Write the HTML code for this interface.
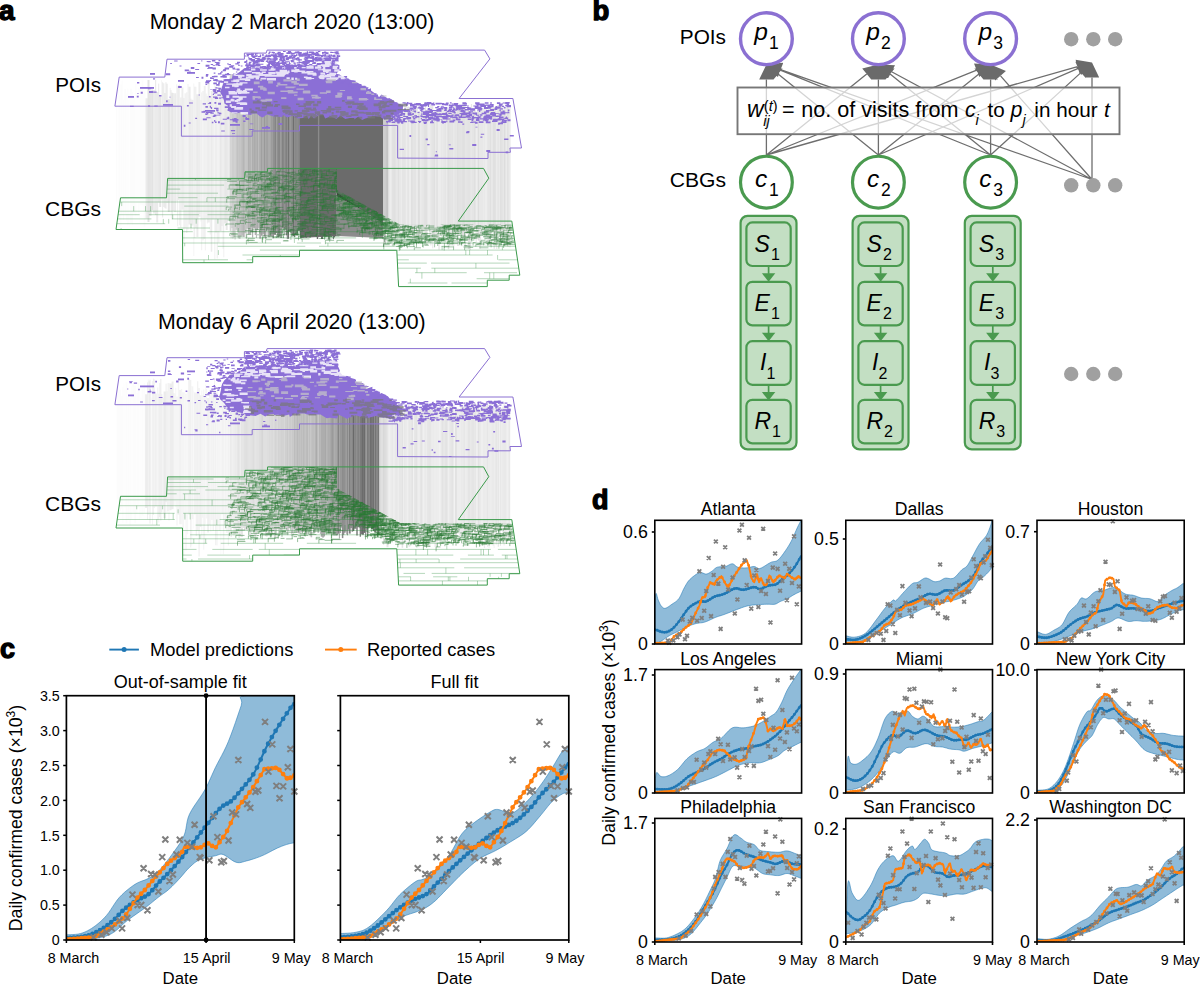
<!DOCTYPE html><html><head><meta charset="utf-8"><style>html,body{margin:0;padding:0;background:#fff;width:1200px;height:985px;overflow:hidden;position:relative}</style></head><body><svg width="1200" height="985" viewBox="0 0 1200 985" style="position:absolute;left:0;top:0" font-family='"Liberation Sans", sans-serif'>
<rect width="1200" height="985" fill="#fff"/>
<g transform="translate(0,0)">
<path d="M117.4,89V218.2M128.8,99.9V224.1M129.6,97.9V227.3M139.1,86.2V223.8" stroke="#000" stroke-opacity="0.01" stroke-width="0.8" fill="none"/>
<path d="M116.5,96V201.8M118.3,80.6V223.4M126.7,93.5V221.3M132.5,91.8V224.7M138.2,87.9V213.7" stroke="#000" stroke-opacity="0.01" stroke-width="1.0" fill="none"/>
<path d="M120.9,84.6V226.5M122.1,80.5V215.2M127.8,88.3V225.7M137.1,93.3V203" stroke="#000" stroke-opacity="0.01" stroke-width="1.2" fill="none"/>
<path d="M119.5,95.3V219.5M123.5,99.4V220.3M135.8,83.5V215.4" stroke="#000" stroke-opacity="0.01" stroke-width="1.5" fill="none"/>
<path d="M125.2,88.8V213.9M131,88.4V223.2M134,97.1V213.4M140.5,87.9V204.8M142.5,80.2V205.6M144.5,90.3V226.7" stroke="#000" stroke-opacity="0.01" stroke-width="2.0" fill="none"/>
<path d="M193.8,83.4V256" stroke="#000" stroke-opacity="0.05" stroke-width="0.8" fill="none"/>
<path d="M176.7,84.2V201.3M188,84V229.7M206.3,93.4V219.1M214.8,80.2V259.2" stroke="#000" stroke-opacity="0.05" stroke-width="1.2" fill="none"/>
<path d="M185.2,93.3V228.3M186.7,92.2V233.1M203,91V240.5M217.3,98.3V258.6M218.8,84.3V242.8" stroke="#000" stroke-opacity="0.05" stroke-width="1.5" fill="none"/>
<path d="M161.6,80.3V200.4M200.8,99.8V221.6" stroke="#000" stroke-opacity="0.06" stroke-width="0.8" fill="none"/>
<path d="M194.7,86.6V237.8M201.7,92.3V250.2M210.2,96.9V234.6" stroke="#000" stroke-opacity="0.06" stroke-width="1.0" fill="none"/>
<path d="M195.8,86.8V228.1M204.3,85.9V239" stroke="#000" stroke-opacity="0.06" stroke-width="1.2" fill="none"/>
<path d="M180.7,97.4V227.3" stroke="#000" stroke-opacity="0.06" stroke-width="1.5" fill="none"/>
<path d="M213.2,89.5V219.5" stroke="#000" stroke-opacity="0.06" stroke-width="2.0" fill="none"/>
<path d="M170.2,87.9V201M179.5,84.4V225.2M205.3,85.5V250.4M401.9,110.4V246.9" stroke="#000" stroke-opacity="0.07" stroke-width="0.8" fill="none"/>
<path d="M178.6,85V200.2M183.9,97.9V241.6M222.1,86.1V226.1" stroke="#000" stroke-opacity="0.07" stroke-width="1.0" fill="none"/>
<path d="M162.6,82.2V217.5M163.8,83.3V207.1M391.2,105.8V235.1" stroke="#000" stroke-opacity="0.07" stroke-width="1.2" fill="none"/>
<path d="M173.3,93V211.1M428.3,108.2V230M476.3,111.7V243.3" stroke="#000" stroke-opacity="0.07" stroke-width="1.5" fill="none"/>
<path d="M154,90.1V213.6M182.4,87.6V209.7M192.4,99.7V225.6M199.4,82.1V216.8M208.7,82.3V222.5M228.7,96.2V219.1M406.5,107V230.9M410,110.7V228.9M439.1,111.8V249.8M486.3,107.4V234.2" stroke="#000" stroke-opacity="0.07" stroke-width="2.0" fill="none"/>
<path d="M191,98.6V230.5M207.3,95.8V223.5M223,81.8V248.9M223.8,92.9V257.3M435.7,110.5V239.5M446.2,111.3V235.2M509.1,108.9V243.5" stroke="#000" stroke-opacity="0.08" stroke-width="0.8" fill="none"/>
<path d="M171.1,90.1V211.9M397.1,107.2V238.9M440.6,107.1V235.1M499.5,104.2V233.6" stroke="#000" stroke-opacity="0.08" stroke-width="1.0" fill="none"/>
<path d="M155.6,80V215.1M166,82.3V208.7M167.2,83.8V203M216,86.4V232.6M429.7,104.3V236.5M483.7,107.6V231.1" stroke="#000" stroke-opacity="0.08" stroke-width="1.2" fill="none"/>
<path d="M211.5,90.9V251.8M389.8,109.7V243.8M496.7,110.6V248.9M506.4,107.6V243" stroke="#000" stroke-opacity="0.08" stroke-width="1.5" fill="none"/>
<path d="M146.5,98.2V218.5M157.2,92V222.5M175.1,93.2V211.9M189.6,86.8V224.6M197.4,94.3V237M416.9,107.4V243.4M420.9,111V237.3" stroke="#000" stroke-opacity="0.08" stroke-width="2.0" fill="none"/>
<path d="M177.7,86.2V226.3M423.1,111.8V231.3" stroke="#000" stroke-opacity="0.09" stroke-width="0.8" fill="none"/>
<path d="M158.7,83.6V202.6M164.9,93V208.2M404,111V244.7M484.8,104.1V237.3" stroke="#000" stroke-opacity="0.09" stroke-width="1.0" fill="none"/>
<path d="M400.9,108.7V248M430.9,105V245.5M453.7,107.7V249.6M471.5,104.1V239.7" stroke="#000" stroke-opacity="0.09" stroke-width="1.2" fill="none"/>
<path d="M225,80.8V223.4M441.8,108.6V229M488.8,106.2V245.2M491.8,107.3V228.4" stroke="#000" stroke-opacity="0.09" stroke-width="1.5" fill="none"/>
<path d="M220.6,89.4V231M226.7,86.1V230M443.6,106.4V235.8M480.1,107.3V248.7M482.1,109V234.8" stroke="#000" stroke-opacity="0.09" stroke-width="2.0" fill="none"/>
<path d="M477.5,110.6V239.3M502.9,108.3V235.6" stroke="#000" stroke-opacity="0.1" stroke-width="0.8" fill="none"/>
<path d="M432.8,105.6V248.3M456.8,111.3V232.1M510,107.3V247.5" stroke="#000" stroke-opacity="0.1" stroke-width="1.0" fill="none"/>
<path d="M399.7,108.6V232.7M447.2,107.6V234.2" stroke="#000" stroke-opacity="0.1" stroke-width="1.2" fill="none"/>
<path d="M472.8,107.9V236.9" stroke="#000" stroke-opacity="0.1" stroke-width="1.5" fill="none"/>
<path d="M150.5,90.4V215.7M160.2,96.3V207.1M451.1,110.8V233.5M455.3,104.2V233.5M466.9,111.2V233.2" stroke="#000" stroke-opacity="0.1" stroke-width="2.0" fill="none"/>
<path d="M422.3,109.9V243.9M461.2,108.2V229.7M503.7,109.4V246.4" stroke="#000" stroke-opacity="0.11" stroke-width="0.8" fill="none"/>
<path d="M172.1,92.6V219.5M414.2,107.1V241.9M452.6,110V236" stroke="#000" stroke-opacity="0.11" stroke-width="1.0" fill="none"/>
<path d="M396,106.2V241.5M415.3,105.9V229.3M445.2,108.2V228.2M495.4,109.5V237.5" stroke="#000" stroke-opacity="0.11" stroke-width="1.2" fill="none"/>
<path d="M152.3,89.6V210.2M408.2,106.4V228.3M412.9,110V243.1M426.8,111.2V244.8M465.1,106.3V247.6M468.6,108.4V248.8M470.1,110.5V250M498.2,104.7V230.8" stroke="#000" stroke-opacity="0.11" stroke-width="1.5" fill="none"/>
<path d="M148.5,80.1V221.9M168.8,99.3V212.1M437.1,110.7V243.4M459.8,109.7V232.5" stroke="#000" stroke-opacity="0.11" stroke-width="2.0" fill="none"/>
<path d="M393,105.7V228.8M424.9,108.1V239M431.9,106.4V237.3M462,105.7V246.4M487.7,111.4V246.6M505.3,109.4V229.9" stroke="#000" stroke-opacity="0.12" stroke-width="0.8" fill="none"/>
<path d="M388.6,107.5V234.8M405,104.2V236.5M424,110.8V229.2M493.1,106.9V230.8M502,104.7V241.5" stroke="#000" stroke-opacity="0.12" stroke-width="1.0" fill="none"/>
<path d="M402.9,110.8V234.3M411.6,107.5V232.2" stroke="#000" stroke-opacity="0.12" stroke-width="1.2" fill="none"/>
<path d="M398.3,111.8V233.2M448.5,111.4V249.3M490.3,107.1V245.7M500.7,104.8V242.3M507.9,104.9V246.8" stroke="#000" stroke-opacity="0.12" stroke-width="1.5" fill="none"/>
<path d="M394.4,111.7V241.5M434.3,111.7V240.9M463.4,104.2V236.1M474.6,108.7V228.9" stroke="#000" stroke-opacity="0.12" stroke-width="2.0" fill="none"/>
<path d="M392.2,104.4V245.8M425.7,104.3V239.7M449.7,110.4V231M504.5,109.5V231.9" stroke="#000" stroke-opacity="0.13" stroke-width="0.8" fill="none"/>
<path d="M478.5,108.3V240.6M494.2,107.3V248.7" stroke="#000" stroke-opacity="0.13" stroke-width="1.2" fill="none"/>
<path d="M458,109V245.9" stroke="#000" stroke-opacity="0.13" stroke-width="1.5" fill="none"/>
<path d="M418.9,111.2V240" stroke="#000" stroke-opacity="0.13" stroke-width="2.0" fill="none"/>
<path d="M230.2,74V230.9M383.6,109.9V247.2" stroke="#000" stroke-opacity="0.17" stroke-width="1.0" fill="none"/>
<path d="M231.9,74V228.1" stroke="#000" stroke-opacity="0.18" stroke-width="0.8" fill="none"/>
<path d="M231.1,74V238.4" stroke="#000" stroke-opacity="0.19" stroke-width="0.8" fill="none"/>
<path d="M234,74V237.3" stroke="#000" stroke-opacity="0.19" stroke-width="1.0" fill="none"/>
<path d="M235.1,74V239.4" stroke="#000" stroke-opacity="0.19" stroke-width="1.2" fill="none"/>
<path d="M385.1,111.3V244" stroke="#000" stroke-opacity="0.2" stroke-width="2.0" fill="none"/>
<path d="M236.2,74V229.8" stroke="#000" stroke-opacity="0.21" stroke-width="1.0" fill="none"/>
<path d="M232.9,74V238.4" stroke="#000" stroke-opacity="0.21" stroke-width="1.2" fill="none"/>
<path d="M239.5,74V238.7M387.1,107.7V231.6" stroke="#000" stroke-opacity="0.23" stroke-width="2.0" fill="none"/>
<path d="M245.2,74V233.2M246.2,74V238.3" stroke="#000" stroke-opacity="0.24" stroke-width="1.0" fill="none"/>
<path d="M238.1,74V238" stroke="#000" stroke-opacity="0.25" stroke-width="0.8" fill="none"/>
<path d="M237.2,74V231.8M241,74V236.7" stroke="#000" stroke-opacity="0.25" stroke-width="1.0" fill="none"/>
<path d="M247.2,74V228.8" stroke="#000" stroke-opacity="0.26" stroke-width="1.0" fill="none"/>
<path d="M242.1,74V235.5" stroke="#000" stroke-opacity="0.28" stroke-width="1.2" fill="none"/>
<path d="M251.6,74V232.1" stroke="#000" stroke-opacity="0.29" stroke-width="0.8" fill="none"/>
<path d="M243.7,74V237M250.2,74V234.5" stroke="#000" stroke-opacity="0.29" stroke-width="2.0" fill="none"/>
<path d="M258.8,74V228.1" stroke="#000" stroke-opacity="0.3" stroke-width="0.8" fill="none"/>
<path d="M256.4,74V237.9" stroke="#000" stroke-opacity="0.3" stroke-width="1.0" fill="none"/>
<path d="M252.6,74V237.5" stroke="#000" stroke-opacity="0.3" stroke-width="1.2" fill="none"/>
<path d="M248.5,74V234.6" stroke="#000" stroke-opacity="0.31" stroke-width="1.5" fill="none"/>
<path d="M263.2,74V233.9" stroke="#000" stroke-opacity="0.32" stroke-width="1.0" fill="none"/>
<path d="M255.3,74V235.1" stroke="#000" stroke-opacity="0.32" stroke-width="1.2" fill="none"/>
<path d="M260.2,74V238.7" stroke="#000" stroke-opacity="0.32" stroke-width="2.0" fill="none"/>
<path d="M257.6,74V230.1" stroke="#000" stroke-opacity="0.33" stroke-width="1.5" fill="none"/>
<path d="M269,74V237.2" stroke="#000" stroke-opacity="0.34" stroke-width="1.2" fill="none"/>
<path d="M254,74V228.2" stroke="#000" stroke-opacity="0.35" stroke-width="1.5" fill="none"/>
<path d="M265.8,74V238.9" stroke="#000" stroke-opacity="0.37" stroke-width="1.2" fill="none"/>
<path d="M270.1,74V236.3" stroke="#000" stroke-opacity="0.38" stroke-width="1.0" fill="none"/>
<path d="M276.6,74V233.1" stroke="#000" stroke-opacity="0.39" stroke-width="1.0" fill="none"/>
<path d="M261.9,74V235.7" stroke="#000" stroke-opacity="0.39" stroke-width="1.5" fill="none"/>
<path d="M271.6,74V236.4" stroke="#000" stroke-opacity="0.39" stroke-width="2.0" fill="none"/>
<path d="M268,74V235.7" stroke="#000" stroke-opacity="0.4" stroke-width="0.8" fill="none"/>
<path d="M264.4,74V236.6" stroke="#000" stroke-opacity="0.4" stroke-width="1.5" fill="none"/>
<path d="M267,74V230.6" stroke="#000" stroke-opacity="0.42" stroke-width="1.2" fill="none"/>
<path d="M273.3,74V238.3" stroke="#000" stroke-opacity="0.43" stroke-width="1.5" fill="none"/>
<path d="M281.2,74V238.1" stroke="#000" stroke-opacity="0.44" stroke-width="1.2" fill="none"/>
<path d="M289.8,74V231.9" stroke="#000" stroke-opacity="0.44" stroke-width="1.5" fill="none"/>
<path d="M292.1,74V235.2" stroke="#000" stroke-opacity="0.45" stroke-width="1.0" fill="none"/>
<path d="M297.1,74V235.5" stroke="#000" stroke-opacity="0.45" stroke-width="2.0" fill="none"/>
<path d="M287.2,74V239.1" stroke="#000" stroke-opacity="0.47" stroke-width="0.8" fill="none"/>
<path d="M279.8,74V236.6" stroke="#000" stroke-opacity="0.47" stroke-width="1.5" fill="none"/>
<path d="M278.1,74V237.4" stroke="#000" stroke-opacity="0.47" stroke-width="2.0" fill="none"/>
<path d="M294.7,74V237" stroke="#000" stroke-opacity="0.48" stroke-width="1.2" fill="none"/>
<path d="M275.1,74V234.9" stroke="#000" stroke-opacity="0.48" stroke-width="2.0" fill="none"/>
<path d="M282.8,74V228.5M299.1,74V231.1" stroke="#000" stroke-opacity="0.49" stroke-width="2.0" fill="none"/>
<path d="M285.2,74V229" stroke="#000" stroke-opacity="0.5" stroke-width="1.2" fill="none"/>
<path d="M284.2,74V235.5" stroke="#000" stroke-opacity="0.51" stroke-width="0.8" fill="none"/>
<path d="M291.1,74V233.9" stroke="#000" stroke-opacity="0.52" stroke-width="1.0" fill="none"/>
<path d="M286.3,74V235.4" stroke="#000" stroke-opacity="0.54" stroke-width="1.0" fill="none"/>
<path d="M288.3,74V238.8" stroke="#000" stroke-opacity="0.55" stroke-width="1.5" fill="none"/>
<path d="M351.4,90.2V203.9M361.8,95.4V209.6" stroke="#000" stroke-opacity="0.56" stroke-width="1.2" fill="none"/>
<path d="M352.7,90.9V204.7" stroke="#000" stroke-opacity="0.56" stroke-width="1.5" fill="none"/>
<path d="M336.1,74V174M345.8,87.4V200.8" stroke="#000" stroke-opacity="0.56" stroke-width="2.0" fill="none"/>
<path d="M307.5,74V237M366.3,97.6V212.1" stroke="#000" stroke-opacity="0.57" stroke-width="0.8" fill="none"/>
<path d="M300.6,74V234.5M310.4,74V232.5" stroke="#000" stroke-opacity="0.57" stroke-width="1.0" fill="none"/>
<path d="M301.7,74V237.1" stroke="#000" stroke-opacity="0.57" stroke-width="1.2" fill="none"/>
<path d="M293.3,74V235.9M306.3,74V237.7M314.8,74V234.5M317.5,74V239M319,74V228M344,86.5V199.9" stroke="#000" stroke-opacity="0.57" stroke-width="1.5" fill="none"/>
<path d="M308.9,74V236.1M313.1,74V229.5M322,74V239.1M327.2,74V234.3M340.8,84.9V198.1M347.8,88.4V201.9M367.7,98.3V212.9" stroke="#000" stroke-opacity="0.57" stroke-width="2.0" fill="none"/>
<path d="M331.3,74V236.9" stroke="#000" stroke-opacity="0.58" stroke-width="0.8" fill="none"/>
<path d="M304.3,74V233.9M333.4,74V239.2M359.7,94.3V208.5M372.7,100.8V215.6" stroke="#000" stroke-opacity="0.58" stroke-width="1.0" fill="none"/>
<path d="M311.5,74V236.1M320.4,74V236.7M332.3,74V232.9M358.6,93.8V207.9" stroke="#000" stroke-opacity="0.58" stroke-width="1.2" fill="none"/>
<path d="M328.9,74V239.6M357.2,93.1V207.1M365.1,97.1V211.5M371.4,100.2V214.9" stroke="#000" stroke-opacity="0.58" stroke-width="1.5" fill="none"/>
<path d="M349.8,89.4V203M379.6,104.3V219.4" stroke="#000" stroke-opacity="0.58" stroke-width="2.0" fill="none"/>
<path d="M295.7,74V234.3M305.2,74V234.8M378.2,103.6V218.7" stroke="#000" stroke-opacity="0.59" stroke-width="0.8" fill="none"/>
<path d="M356,92.5V206.4M360.7,94.8V209M377.3,103.1V218.2M382.6,105.8V221.1" stroke="#000" stroke-opacity="0.59" stroke-width="1.0" fill="none"/>
<path d="M316.2,74V236.2M325.6,74V233.4M330.3,74V235M334.5,74V237.2M337.7,83.3V196.4M373.8,101.4V216.2M375,102V216.9" stroke="#000" stroke-opacity="0.59" stroke-width="1.2" fill="none"/>
<path d="M303,74V237.7M339,84V197.1M342.5,85.8V199.1" stroke="#000" stroke-opacity="0.59" stroke-width="1.5" fill="none"/>
<path d="M324,74V232.9M354.5,91.7V205.6M363.4,96.2V210.5M369.7,99.3V214" stroke="#000" stroke-opacity="0.59" stroke-width="2.0" fill="none"/>
<path d="M376.2,102.6V217.6" stroke="#000" stroke-opacity="0.6" stroke-width="1.2" fill="none"/>
<path d="M381.3,105.2V220.4" stroke="#000" stroke-opacity="0.6" stroke-width="1.5" fill="none"/>
<polygon points="300,100 383,100 383,224 336,192 336,236 300,238" fill="#6b6b6b"/>
<polygon points="336,192 383,224 383,238 336,236" fill="#000" fill-opacity="0.45"/>
<line x1="318.6" y1="62" x2="318.6" y2="235" stroke="#fff" stroke-opacity="0.22" stroke-width="1.4"/>
<polygon points="114.9,106.2 119.2,77.1 164.8,77.1 167,59.2 244.4,59.2 244.4,53.1 266.2,53.1 267.1,50.1 484.6,50.1 489.9,58.9 459.1,98.5 512.9,98.5 521.5,148 509.9,148 510.4,152.3 488,152.3 488,158.5 397.6,158.1 397.6,125.4 299.5,125.4 299.5,131 252.2,131 252.2,136.2 181.4,136.2 181.4,106.2" fill="none" stroke="#8b70d2" stroke-width="1"/>
<clipPath id="land1"><polygon points="116,229.5 120.5,197.8 166.5,197.8 167.6,178.4 244.6,178.4 245,171.8 267.5,171.8 267.6,168.4 337,168.4 337,190 400,224.6 511.8,224.6 519.8,275.2 509.2,275.2 509.2,280.2 487.3,280.2 487.3,286.6 398.6,286.6 396.8,250.3 299.5,250.3 299.5,256.6 252.7,256.6 252.7,262.7 182.7,262.7 182.5,229.5"/></clipPath>
<g clip-path="url(#land1)"><path d="M165.9,171H197M325.7,171H373.7M373.7,171H405.9M405.9,171H451.7M114,175.1H147.1M147.1,175.1H217.6M223.9,175.1H276.6M296.4,175.1H385.6M385.6,175.1H436.6M436.6,175.1H504M504,175.1H522M114,180.1H135.3M135.3,180.1H224.2M224.2,180.1H278.1M284.2,180.1H318M318,180.1H336.1M336.1,180.1H358.8M362.9,180.1H380.2M403.8,180.1H466.6M466.6,180.1H502.2M114,185.1H135.8M135.8,185.1H186.5M186.5,185.1H224.1M230,185.1H290M312.8,185.1H348.3M348.3,185.1H434.2M452.8,185.1H522M114,189.1H180.2M227.3,189.1H306M345.6,189.1H369.5M387.1,189.1H462.1M486,189.1H522M114,193.2H199M199,193.2H218M236.5,193.2H251.5M257.6,193.2H310.7M335.4,193.2H418.5M418.5,193.2H495M495,193.2H522M178.3,197.7H197.5M207,197.7H283.2M283.2,197.7H345.8M363.6,197.7H445.4M445.4,197.7H497M497,197.7H522M114,202H147.4M147.4,202H190.1M190.1,202H275.4M281,202H332.6M335.9,202H382M382,202H467.6M184.2,206.1H228.5M317.2,206.1H357.9M458.9,206.1H512.4M512.4,206.1H522M114,211.2H190.1M190.1,211.2H263.4M263.4,211.2H313.4M439.2,211.2H495.7M495.7,211.2H522M114,214.7H139.7M148.8,214.7H198.9M207.5,214.7H237.2M237.2,214.7H267.1M267.1,214.7H325.4M332.7,214.7H394.6M394.6,214.7H414M432,214.7H491.3M491.3,214.7H511.9M114,218.9H151.4M172,218.9H233.7M246.4,218.9H307.8M307.8,218.9H334.8M334.8,218.9H411.5M427.4,218.9H498.2M521.3,218.9H522M114,223.7H165.2M326.7,223.7H373.3M394.6,223.7H419.3M177.6,228H210M286,228H304.3M419,228H440.9M440.9,228H498.8M509.6,228H522M114,231.7H133.9M133.9,231.7H176M176,231.7H192.8M207.4,231.7H230M230,231.7H301.3M305.9,231.7H388.1M518.6,231.7H522M114,237.9H190.5M190.5,237.9H246.8M246.8,237.9H267.4M267.4,237.9H302.4M321.4,237.9H356.1M369.7,237.9H440M114,243H152.7M152.7,243H170.7M170.7,243H251.2M251.2,243H281M296.9,243H321.1M325.3,243H412.5M412.5,243H481.7M506,243H522M114,246.3H162.2M217.7,246.3H246.7M246.7,246.3H305.3M319,246.3H403.8M465.3,246.3H522M114,250.1H170.3M259.8,250.1H337.2M337.2,250.1H394.5M394.5,250.1H428.9M428.9,250.1H447.3M447.3,250.1H479.7M479.7,250.1H522M114,255H133.1M242.5,255H282.1M282.1,255H302.1M314.1,255H354.6M354.6,255H421.4M421.4,255H492.6M114,259.8H147.1M147.1,259.8H190.5M190.5,259.8H228M246.6,259.8H313.2M319.4,259.8H408.8M498.4,259.8H522M177.3,263.1H225M241.1,263.1H294.7M298.8,263.1H380.1M380.1,263.1H426.8M431,263.1H448.6M448.6,263.1H509.5M518.4,263.1H522M114,268.2H153.9M160.9,268.2H223.9M230.8,268.2H313.7M313.7,268.2H394.6M394.6,268.2H420.9M431.4,268.2H490.6M490.6,268.2H522M114,272.7H182.6M182.6,272.7H251.7M251.7,272.7H291.2M415,272.7H466.7M484,272.7H517M114,278.7H158.7M164.5,278.7H192.1M192.1,278.7H260.5M277.3,278.7H302.4M302.4,278.7H335.1M356.9,278.7H395.1M476.6,278.7H522M167.1,283H240.7M240.7,283H281.4M281.4,283H298.8M298.8,283H386.2M407.8,283H447.4M451.5,283H522M321.8,171V175.1M499.9,171V175.1M224.2,171V175.1M309.9,171V175.1M238.8,171V175.1M314.5,171V175.1M317.5,171V175.1M195.4,175.1V180.1M345.6,175.1V180.1M474.8,175.1V180.1M286.3,175.1V180.1M115.7,175.1V180.1M122.2,175.1V180.1M238.6,175.1V180.1M490.7,180.1V185.1M436.7,180.1V185.1M409.5,180.1V185.1M165.4,180.1V185.1M492.3,180.1V185.1M336.3,185.1V189.1M458.3,185.1V189.1M409.1,185.1V189.1M393.3,185.1V189.1M126.4,185.1V189.1M301.5,189.1V193.2M431.9,189.1V193.2M358.2,189.1V193.2M487.9,193.2V197.7M242,193.2V197.7M472.9,193.2V197.7M371.7,197.7V202M502.9,197.7V202M276.1,197.7V202M206.9,197.7V202M215.3,197.7V202M511.7,197.7V202M500.3,202V206.1M121.7,202V206.1M275.8,202V206.1M363.6,206.1V211.2M521.3,206.1V211.2M145.5,206.1V211.2M276.5,206.1V211.2M303.7,206.1V211.2M345.3,206.1V211.2M133.7,206.1V211.2M150.6,206.1V211.2M345.3,211.2V214.7M458.7,211.2V214.7M432.5,211.2V214.7M367.8,211.2V214.7M412.3,211.2V214.7M235.5,214.7V218.9M172.7,214.7V218.9M314.8,214.7V218.9M233,214.7V218.9M490.7,218.9V223.7M168.7,218.9V223.7M406.2,218.9V223.7M217.9,218.9V223.7M115.5,218.9V223.7M163.3,218.9V223.7M196.2,218.9V223.7M425.4,218.9V223.7M459.3,223.7V228M454.2,223.7V228M191,223.7V228M121.1,228V231.7M238.3,228V231.7M419.6,228V231.7M438.4,228V231.7M357.2,228V231.7M340.7,228V231.7M449.2,231.7V237.9M520.2,231.7V237.9M461.6,231.7V237.9M362.4,231.7V237.9M129.3,231.7V237.9M139.9,231.7V237.9M464.6,237.9V243M168.4,237.9V243M294.4,237.9V243M262.5,237.9V243M419,237.9V243M327.9,243V246.3M184.7,243V246.3M499.9,243V246.3M400.3,246.3V250.1M442.1,246.3V250.1M502.4,246.3V250.1M453.5,246.3V250.1M465.8,250.1V255M136.1,250.1V255M159.4,250.1V255M469.6,250.1V255M487.5,250.1V255M218.4,250.1V255M497.6,255V259.8M280.3,255V259.8M208.5,255V259.8M374.6,259.8V263.1M160.9,259.8V263.1M204,259.8V263.1M200,263.1V268.2M475.9,263.1V268.2M211.3,263.1V268.2M340.6,263.1V268.2M149.7,268.2V272.7M434.8,268.2V272.7M416.9,268.2V272.7M489.7,272.7V278.7M493.8,272.7V278.7M421.9,272.7V278.7M265.2,272.7V278.7M300.2,272.7V278.7M410.3,278.7V283M192.2,278.7V283M259.2,278.7V283M204.9,283V289.1M320.5,283V289.1M222.7,283V289.1M180.2,283V289.1" stroke="#2f8f40" stroke-opacity="0.5" stroke-width="0.7" fill="none"/></g>
<g clip-path="url(#land1)"><path d="M246.6,216.2h9.1M472.8,234.3h6.1M472.8,234.3v4.5M290.7,180h2.2M290.7,180v2.1M293.1,226.5h5.5M423.4,238.2h3.7M383.5,243.7h6M383.5,243.7v3.2M371.7,223.8h7.4M371.7,223.8v2.6M289.8,190h9M271.6,192.4h5.4M304.9,232.5h6M304.9,232.5v2.4M274.5,180h4.9M363.1,226.6h7.1M363.1,226.6v1.7M335.8,228.9h5.6M326.3,187.9h6.4M329.5,196.3h6.6M329.5,196.3v3.5M284.8,201.6h4.5M284.8,201.6v2.1M262.8,235.7h6.2M262.8,235.7v4M359.3,210.9h6.2M418.3,225.3h4.7M418.3,225.3v4M284.2,175.2h6.3M284.2,175.2v2.9M361.3,211.8h6.7M308.4,197.3h8.7M308.4,197.3v4.6M316.6,196.2h5.1M304.8,202.4h2.8M304.8,202.4v4.5M316.7,197.4h3.5M507.3,242.5h7.6M507.3,242.5v3.1M336.2,228.2h7.7M253.8,183.1h2.8M253.8,183.1v2.6M423.3,237.2h6.3M317.1,220.1h5.4M317.1,220.1v2.8M397.3,242h3.7M226.1,197.5h2.9M322.7,199.5h9M272.3,213.2h3.2M272.3,213.2v3.3M422.8,235h4.1M245.6,176.9h8.9M320.2,205.4h6.6M348.7,222.4h5.1M348.7,222.4v4.9M266.6,188.2h5.1M274.5,236.9h2.4M304.9,179.2h8.2M304.9,179.2v3M323.1,230.8h3M329.5,173h8.9M329.9,180.6h7.1M329.9,180.6v4.1M251.4,213.7h3M258.5,185.7h7.6M258.5,185.7v2.7M309.9,217.6h9.8M309.9,217.6v4.9M359.8,215.9h5M229.2,184.9h8.3M229.2,184.9v3.8M402.9,226.4h9.1M402.9,226.4v3.2M273.7,219.8h2.9M287.4,210.3h8.7M287.4,210.3v3.7M502,238.9h2.5M502,238.9v3.9M267.5,183h8.5M267.5,183v1.7M334.5,208.1h9.4M263.1,221.5h8.3M263.1,221.5v3.4M310,220.5h4.7M310,220.5v3.2M258.3,209.7h9.5M346.2,210.7h4.6M299.5,224.5h6.5M252.9,199.1h2.8M252.9,199.1v1.8M362.5,228.4h6.5M362.5,228.4v4.3M332.9,173.2h4M332.9,173.2v3.1M309.3,171.3h2.5M251.1,207.5h4.6M291.8,188.9h3.7M312.8,213h6.7M297.5,223.2h9.8M249.2,201.5h8.5M453.2,238.4h7.6M453.2,238.4v3.1M482.3,232.8h9.9M321.6,173.8h3M321.6,173.8v4.4M356.6,218.5h5.5M356.6,218.5v1.6M313.3,211.6h4.5M301.2,172h7M315.6,223.6h7.4M315.6,223.6v1.6M396.1,242.3h5.5M385.6,237.8h6.3M289.3,173.3h4.6M339.3,213.7h9.9M339.3,213.7v2.9M250.4,231.8h3.1M375.9,211.4h3.2M375.9,211.4v1.6M369.2,233.9h2.3M312.3,199.9h6.1M301.6,213h9.1M301.6,213v2.2M272.3,223.3h4.3M272.3,223.3v1.8M496.6,227.5h9.5M496.6,227.5v3.1M289.3,178.7h5.9M341,200.4h3.8M323.9,170.2h6M325.8,175.7h2.3M375.4,219.7h6.6M375.4,219.7v2.6M299.6,215.5h6.1M299.6,215.5v2.5M248.2,206.3h8.5M415.7,239.1h5.9M415.7,239.1v3.8M362,228.3h5.6M362,228.3v4.5M290,229.7h2.5M290,229.7v2.2M268.9,183.1h2.3M268.9,183.1v3.1M339.4,203.8h6.5M339.4,203.8v3.2M380.9,233.3h7M380.9,233.3v2.9M356.1,201.4h3.9M458,228.2h8.8M458,228.2v4M336.9,190.2h6.7M336.9,190.2v2.1M257.4,172.8h5.7M302.9,212.5h7.1M302.9,212.5v3M322.3,194.8h7.2M322.3,194.8v2.3M484.7,230.6h8.9M484.7,230.6v2.7M333,221h4.5M275.8,232.2h7M362,227.2h6.2M271.4,185.1h8M347.2,197.5h6.3M347.2,197.5v2.4M286.3,201.3h4.2M322,208.5h6.7M322,208.5v2M425.4,240.2h9M333.6,172.7h7.3M392.5,225.4h7.5M392.5,225.4v2.9M260.4,215.5h2.1M410.2,234.2h4.3M395.9,230.3h9.1M355.1,216.5h6.4M299.8,209.1h7M299.8,209.1v4.4M464.2,245.6h3.2M464.2,245.6v2.3M289.5,177.1h7.8M257.7,189.2h4.8M257.7,189.2v4.3M336.8,234.7h3.8M326.1,218.8h8.3M274.2,212.5h7M499.4,235.9h2M335,236.2h4.4M261.1,210.1h2.2M269.6,177.6h8.6M269.6,177.6v3.7M296.8,212.3h4.5M290.8,229.8h4.1M290.8,229.8v3.2M363.8,211.4h2.8M363.8,211.4v2.9M257.9,204.9h9.6M257.9,204.9v2.3M330,227.1h4M233.9,189.6h6.3M233.9,189.6v4.7M282.7,222h5.4M282.7,222v5M337.6,216.1h5.3M340.5,219.6h6.9M400.8,242h7.7M400.8,242v3.4M240.4,220.3h5.5M240.4,220.3v2.9M272.4,228h7.2M361.6,204.7h3.7M361.6,204.7v3.3M310.8,181.4h9.2M413.7,242.6h9.2M413.7,242.6v1.8M249,196.1h2.2M417.4,237.7h5.4M290.8,203.2h6.8M464.6,247.8h5.4M464.6,247.8v2.4M297.5,205.7h2.8M261.2,224.5h6.5M261.2,224.5v4M322.5,189.6h3.6M322.5,189.6v4M489.5,225.3h8.1M437.2,233.5h3.8M336.5,224.4h9.1M408.9,232.9h7.3M408.9,232.9v2.5M287.9,190h4.1M287.9,190v1.6M269.2,209.8h9.6M269.2,209.8v4.2M327.2,184.6h8.4M327.2,184.6v3.7M336.9,174.1h5.9M336.9,174.1v2.6M302.2,238.9h7.4M302.2,238.9v3M441.5,246.4h7.9M308,176.1h3.3M308,176.1v2.8M348.2,200.1h5M348.2,200.1v2.2M511.6,240.2h3.1M281.9,189h4.2M267.5,173.7h5.3M271.1,203h6.3M271.1,203v3.6M245.9,180.7h6.9M267.3,189.8h8.2M305,223.2h8.3M261.2,217.5h5.5M261.2,217.5v2.3M330.4,220h7.8M326,206.4h6.3M261.4,186.5h7.3M239.6,200.1h6.1M336.7,188h6.5M336.7,188v4.5M251.7,178.4h5.1M251.7,178.4v2.2M292.9,212.5h7.1M292.9,212.5v3.2M465.8,232.9h8.1M248.1,228.6h2.3M416.6,230.7h8M330,191.9h5M243.9,221.8h3M324.7,235.9h2.3M324.7,235.9v3.9M444.2,246.9h9.1M444.2,246.9v3.6M400.4,229.5h3M482.9,226.8h9.5M482.9,226.8v2.9M441.9,233.8h3.5M441.9,233.8v2.6M263,200.9h6.9M263,200.9v3.6M319.3,215.1h8.2M319.3,215.1v3.5M247.7,206.3h2.5M319.2,238.5h5.4M343.1,212.2h7.5M343.1,212.2v1.5M304.8,210.8h8.7M304.8,210.8v5M256.9,221.6h3.4M308.7,199.5h5.5M364.7,217.6h4.9M342.9,202.9h2M269.6,214.1h3.1M269.6,214.1v2.8M255.3,174.2h2.1M255.3,174.2v1.7M286,196.6h4.3M286,196.6v3.9M431.7,236.4h6.9M295.8,209.5h5.8M470.4,231.4h8M470.4,231.4v3.1M286.7,173.2h3.4M375.9,235.2h7.7M375.9,235.2v4.2M314,207.9h5.6M429.3,239.9h7.3M304.5,205.3h4.6M269.5,189.4h4M264,175.1h7.8M316.3,171h8.4M316.3,171v2.5M307.3,211h2.7M261.9,179.1h8.7M261.9,179.1v2.5M381,219.5h6.3M381,219.5v4.2M360.1,204.3h5.3M309.7,175.8h5.4M325.7,233.2h3.6M325.7,233.2v1.9M398.9,235.2h9.5M270.5,181.5h3.7M357.4,210h6.2M511.6,235.9h3.1M511.6,235.9v2.1M447.4,226.3h2.7M447.4,226.3v3.4M362,224.3h2.3M307,233.1h8.2M268.9,218.5h9M402.3,243.8h2.6M416.2,236.6h3M416.2,236.6v2.2M248,177.7h4.7M282.9,240.9h5.6M314.1,180.9h4.3M292,233.9h8.8M292,233.9v2.2M247.2,192h8.7M247.2,192v3.9M294.9,219.8h2M387.9,222.7h8.5M387.9,222.7v2.3M264,193.3h9.5M259.6,211.9h3.7M259.6,211.9v4.1M233.7,236.2h9M282.3,230h3.8M282.3,230v4.6M282,198.6h4M282,198.6v2.8M320,202.2h5.7M507.9,225.2h8.1M507.9,225.2v4.2M304.6,183.2h2.9M304.6,183.2v4.1M269.3,215.5h5.9M289.9,197.5h3.4M289.9,197.5v4.1M340.1,197.6h2.3M307.6,199.3h9.8M307.6,199.3v4.8M311.6,191h8.1M311.6,191v1.7M316.2,227.2h6.7M236.8,189.5h6.9M236.8,189.5v3.5M299,227h9M299,227v3M266.5,210.9h2.3M440.2,239.8h5.1M255.8,212.7h5.3M318.4,210.5h2.4M318.4,210.5v1.8M311.6,202.7h3.1M329.9,220.8h5.7M395.8,226.5h3.2M408.2,226.4h4M408.2,226.4v4.8M341.7,208h9.8M245.1,214.5h4.9M288.4,168.8h4.9M267.6,229.8h8.3M266.2,220.8h8.9M494.9,238.7h5.2M299.3,192.3h3.7M398,229.6h9.7M398,229.6v2.9M357.2,213.9h5.9M357.2,213.9v4.6M488.7,242.8h5.7M488.7,242.8v2.6M283.5,240.7h4.8M329.8,203.5h3.8M318.3,224.2h7.5M265.9,185.1h6M265.9,185.1v2.6M305.4,213.9h7.7M262.8,203h9.3M319.8,224.9h5M246.4,240.2h7.2M246.4,240.2v4.2M255.4,191.3h4.1M271.4,204.9h5.5M260.1,225.1h3.1M369.9,222.5h3M388.2,239.8h8.1M433.5,239.7h3.7M505.5,243.2h4.1M232.7,212.2h8.9M297.3,178.2h9.8M491.7,227.8h9.3M368.4,213.1h8.6M325.4,228.1h3M325.4,228.1v4.6M305.1,207.8h4.9M305.1,207.8v2.5M352.3,214.5h4.3M352.3,214.5v2.6M267.7,184.5h4.1M267.7,184.5v3.7M460.1,230.6h5.2M460.1,230.6v4.3M291.2,234.4h9.9M291.2,234.4v1.9M306,200.5h4.7M469.8,247.5h3.4M261.6,213.6h6.9M261.6,213.6v1.9M315.9,177.4h8.6M315.9,177.4v3M270.7,170.9h2.2M270.7,170.9v4M321.9,175.5h7.7M321.9,175.5v2.8M324.5,217.3h3.9M324.5,217.3v4.1M486.2,243.7h9.6M334.4,215.9h4M318.3,221.5h2.4M301.3,235.9h3.6M301.3,235.9v3.7M356.6,206.2h3.7M304.8,219.7h9.8M304.8,219.7v2.6M442.9,239.7h6.1M265,197h5.2M265,197v3.8M444.4,225.6h5.9M444.4,225.6v4M441.4,238.6h2.2M441.4,238.6v3.3M266.5,219.3h2.9M266.5,219.3v4.7M288.9,196.3h7.4M323.6,197.9h9.4M323.6,197.9v5M264.4,186.6h7M295.7,215.7h3.5M295.7,215.7v4.7M284.8,172.4h8.9M328.7,223.4h3.8M334.3,186.9h3M330.8,206.9h5.3M246,207.2h7.6M490.7,240h5.5M266.5,228.3h7.5M266.5,228.3v2.8M352.7,198.9h7.6M352.7,198.9v3.4M324.8,236.4h6.6M324.8,236.4v2.4M248.6,176.7h4.5M347.6,217.2h4M347.6,217.2v2.9M506.9,236.3h3.6M506.9,236.3v4.9M248.5,188.5h3.5M248.5,188.5v2M261,209.5h2.1M261,209.5v3.7M291.9,213.3h8.8M320.7,200.2h2.6M313.4,185.4h5.9M313.4,185.4v4.7M294.9,203.2h5.6M366.8,220.3h2.9M366.8,220.3v4.2M367.6,223.6h3.2M367.6,223.6v2.5M499.2,241.4h8.1M448.2,240h3.6M448.2,240v1.8M271.3,193.2h9.1M331.7,185.3h6M331.7,185.3v2.8M277.3,190.3h8.2M277.3,190.3v2.2M308.6,214h3.5M301.7,205.2h2.3M411.9,239.8h8.3M411.9,239.8v4.1M460.6,237.6h7.7M460.6,237.6v4.5M479.9,241.9h7.4M246.1,203h5M246.1,203v4.3M494.3,232h4.5M494.3,232v4.5M290.1,189.4h3.8M414.1,230.6h4.4M311.5,229.7h5.6M319.6,216.6h8.2M319.6,216.6v3.7M315.6,180h9.5M315.6,180v3.7M383.4,224.9h3.7M383.4,224.9v4.7M373.5,217.4h8.9M295.3,232.8h3.3M295.3,232.8v2.7M282.9,229.1h4.7M282.9,229.1v4.1M245.5,222.4h6.1M245.5,222.4v2M370.9,226.9h5M414.2,232.6h2.7M414.2,232.6v2.7M313.7,171.4h4.9M313.7,171.4v3.7M344,224.2h4.1M344,224.2v4.7M336.2,192h3.5M409.5,242h4.5M328.8,188.3h9.4M504.3,243.2h3.9M504.3,243.2v2.3M312.4,170.1h9.4M312.4,170.1v3.2M451,237.9h4.4M451,237.9v3.3M326.4,171.5h7.2M326.4,171.5v4.2M318.6,218.5h3.3M318.6,218.5v2.9M265.2,173.3h6.3M483.1,234.8h9.9M358,215.9h6.1M276.7,186.7h7.1M433.3,230.4h8.8M234.7,208.2h3.3M234.7,208.2v3.6M273.7,225.2h6.9M273.7,225.2v4.8M328.8,204.7h3.3M383.6,236.9h5M266.6,184h5.3M226.7,198.7h8.3M226.7,198.7v4M313.6,196h3.1M313.6,196v4.9M308.8,231.4h2.6M302.1,207.5h7.2M248.4,196.8h3.8M248.4,196.8v1.9M262,215.4h3.7M393.7,221.9h7.9M335,198.2h6.8M335,198.2v3.2M262.4,223.9h6.3M262.4,223.9v4.1M328.6,208.1h6.2M247.2,206.2h7.4M247.2,206.2v3.1M324.6,182.7h2M324.6,182.7v3.5M289.3,181h6.2M317.5,205.1h4.3M317.5,205.1v3.3M267.9,216.9h2.6M307.1,215.7h3M412.7,232.8h4.6M412.7,232.8v1.9M308.1,186.6h6.7M308.1,186.6v1.9M299.2,176.8h5.9M299.2,176.8v4.2M235.3,184.7h4.1M303.7,193.2h7M259.5,210.5h7.6M374.8,233.7h6.2M361.7,216.4h8.6M361.7,216.4v4.3M268.8,215.5h9.1M268.8,215.5v4.4M380.1,214.7h9.3M234.2,213.7h5.8M234.2,213.7v3.8M262.5,209.9h8.7M495.6,228.2h5.5M395.9,230.5h8.6M236.4,193.3h4.6M236.4,193.3v1.8M271.9,221.2h6.8M282.2,183.2h2.7M282.2,183.2v4.4M313.2,209.4h6.8M313.2,209.4v3.5M333.9,229.8h8.2M333.9,229.8v3.4M289.2,214.8h8.6M336.5,214.9h7.3M336.5,214.9v4.4M256.4,177.5h3.4M256.4,177.5v3.2M295.3,234.8h4.1M416.5,241.6h4.5M416.5,241.6v2.8M476.6,236.3h2.8M294.7,173.5h6.3M414.3,247.8h6.6M414.3,247.8v2.3M244.1,179.6h2.8M426.9,235.7h3M426.9,235.7v3.7M280.7,168.7h3.5M280.7,168.7v2.4M492.1,228.8h7.7M261.9,224.5h9.3M261.9,224.5v2.8M324.4,232.2h6.8M324.4,232.2v3.6M276.3,178.6h4.3M239.6,201.5h8.4M239.6,201.5v3.4M408.2,232h3.4M408.2,232v4M300.4,173.7h7.3M300.4,173.7v2.2M320.5,221.5h5.8M320.5,221.5v1.6M292.3,184.5h5.8M458.3,228h8.5M437.5,240.4h6.4M328.2,210.5h5.8M328.2,210.5v3.3M301.3,223h7.4M228.6,209h2.7M228.6,209v1.8M319.1,184h5.9M319.1,184v4M319.8,210.5h7.2M319.8,210.5v2.6M388.1,227.2h8M334.9,200.4h4.7M334.9,200.4v2.4M359.7,232.5h6.5M359.7,232.5v2.6M296.9,221.6h9.7M483.5,237h8.8M312.5,170.6h5.1M312.5,170.6v2.7M299.4,172h5.8M299.4,172v3.4M372.6,238.2h5.3M409.9,228.6h6.5M409.9,228.6v4.8M265.6,186.9h5.2M265.6,186.9v3.8M247,197.4h4.8M247,197.4v3M227.2,181.4h9.6M278.4,220.1h8.4M258,222.2h5.9M335.2,215h5.7M335.2,215v3.5M314.1,172h8.8M260.1,222.3h5.4M346.4,215h7.6M346.4,215v4M309.3,206.8h6.7M275.4,192.3h3.2M277.9,175.6h5.3M443.2,235.9h8.7M443.2,235.9v3M438.6,238.1h7.8M438.6,238.1v2.5M257.2,220.5h6.7M379.2,228.9h7M406.6,232h2.7M406.6,232v3.8M305.5,233.9h8M305.5,233.9v2.8M271.5,219.6h3.8M406.6,229.8h3.5M263.2,220.6h4.8M483.4,235h4M316.7,194h4M316.7,194v3.8M492.9,226.7h6.8M252,229.3h2.3M323.1,228.7h7.1M287.1,173.1h2.3M288.2,229.8h4.9M288.2,229.8v4.9M294.1,193.6h5.1M272.9,213.1h6.9M475,236h4.5M475,236v3.1M342.7,216.5h6.9M342.7,216.5v1.8M293.6,205.6h4.3M293.6,205.6v4.2M254.4,178.8h8.9M254.4,178.8v2.3M355.5,210.7h6.6M355.5,210.7v2.6M294.6,233.9h3.7M294.6,233.9v3.5M326.5,239.2h5M251.4,225.8h3.1M301.3,173.1h2.3M301.3,173.1v4M376.2,231.8h2.3M376.2,231.8v2M394.8,236h9.7M303.4,214.2h8M331.1,218h3.4M331.1,218v3.2M273.1,198.5h8.8M273.1,198.5v4.2M246.7,234.4h4.6M246.7,234.4v4.3M482.5,227.7h8.2M394.2,243.2h9.7M394.2,243.2v1.8M319.3,183.1h3.3M319.3,183.1v4.9M281.8,221.9h9.7M250.7,206h8.3M293,178.4h3.7M293,178.4v3.7M334.4,198.6h6.1M334.4,198.6v3.9M295.6,195.3h6.9M295.6,195.3v4.7M495.2,228.4h2.3M297.5,224.3h4.5M348.5,211.5h2.6M348.5,211.5v2.3M336.9,210.8h9.3M323.2,204.8h9.9M323.2,204.8v4.8M466.5,229.3h7.7M466.5,229.3v1.6M264.3,211.1h6.5M445.2,226.4h6.7M445.2,226.4v4.2M394.6,240.5h8.3M309,210.1h8.7M309,210.1v4.6M263.8,206.8h9.4M263.8,206.8v2.1M284.7,226.8h3M284.7,226.8v1.6M254.8,200.7h8.6M300.3,204.6h5.7M300.3,204.6v1.5M283.8,181.5h6.9M292.5,218.2h2.9M292.5,218.2v2.1M295.9,182.5h5.4M295.9,182.5v3.4M446,233h2.1M321.2,210.1h6.8M391,239.8h5.9M391,239.8v3.8M335.9,195.6h3.2M344.8,214.6h7.9M344.8,214.6v2.6M259.9,207.9h8.9M259.9,207.9v5M334.6,178.2h6.3M323.3,178.4h8.2M367.2,208.8h3.3M327,225.6h8.9M285.1,231.5h3.4M266.1,220.1h8.2M380.8,220.2h8.5M380.8,220.2v4.5M266.6,186.1h6.4M373.8,225.5h7.8M373.8,225.5v1.7M310.6,214.9h8.6M331.6,186h7.7M331.6,186v2.1M355.4,216.1h4.8M266.1,178.4h9M310.1,191.6h5.8M479.4,247.8h9M335.5,220.7h2M302.6,170.9h2.8M302.6,170.9v1.7M257,209h2.9M257,209v2.1M321.8,207.1h7.7M298.8,225.8h9.2M298.8,225.8v3.8M255.1,200.7h8.3M297.8,223.6h7.5M297.8,223.6v1.8M332.9,233.9h2.6M336.4,210.6h8.8M439.8,240.1h5.3M316.3,233.2h7.3M316.3,233.2v4M376.8,214.9h5.2M427.5,235.8h9.1M302.2,228.5h4M302.2,228.5v2.4M297.4,185h3.1M503.6,244.3h7.8M503.6,244.3v3.7M317.1,227.7h8.6M317.1,227.7v4.5M429.8,229.2h7.2M429.8,229.2v2.2M294.9,191.7h6.1M492.8,244.2h9M466.6,237.4h7.8M300.3,191.2h3M300.3,191.2v4.6M333.3,204.6h6.2M333.3,204.6v3.9M470.2,229h4.8M470.2,229v2.3M254.8,229.5h4.4M476.6,225.5h4.7M476.6,225.5v3.9M313.9,183.6h9.7M283.5,234.2h3.8M283.5,234.2v4M284.5,196.5h5.2M226.2,207.1h5.9M226.2,207.1v2.9M361.5,227.5h6M361.5,227.5v3.8M311.8,222.4h4.1M485.8,231.3h7.6M424.6,245.2h4.4M298.5,235.7h5.2M298.5,235.7v4.6M292.6,218.2h8.1M292.6,218.2v3.9M276.3,171.6h4M276.3,171.6v2.9M276.5,171.8h8.8M384.1,230.9h9M498.7,233h4.7M374,237.5h10M374,237.5v3.5M282.5,194.9h4.3M312.1,215.5h4.2M312.1,215.5v2.3M316.1,234.2h9.9M316.1,234.2v1.8M297.4,229.6h5.8M297.4,229.6v3.4M254.5,176.1h9M254.5,176.1v4.1M269.8,172.7h2.2M269.8,172.7v3M365.1,228.6h7M365.1,228.6v2.8M285.1,186.1h9.4M328.1,234.5h3.4M344.6,206.8h5.9M329.4,218.3h3.5M313.6,185.4h5.6M313.6,185.4v4.9M271.9,226.5h6.3M271.9,226.5v3.7M248.1,238.4h6.8M248.1,238.4v4.8M338,210.5h3.3M317.4,202.4h5.1M317.4,202.4v3M507.6,230.5h8.1M274.9,199h9.7M274.9,199v4.4M401,234.6h9.8M401,234.6v3.4M260.2,223.1h2.1M260.2,223.1v4.8M313.6,191.2h5.6M448.7,226.3h3.8M448.7,226.3v3.2M320.2,184h7.6M320.2,184v2.5M252.1,199.1h8.8M288.9,215.5h6.2M348.1,226.1h5.2M343.3,215.2h4.6M246.6,188.1h8M246.6,188.1v2.9M260.8,172.4h9.2M260.8,172.4v2.1M292.2,217.1h4M297.6,214.1h4.8M297.6,214.1v4.3M278.5,187.5h8.1M278.5,187.5v2.2M418.8,241.4h7.3M261,171.9h4M261,171.9v2.4M250,192h7M298.6,184h8.9M356.4,220.1h5M356.4,220.1v2.8M366.4,218.4h4M366.4,218.4v3.8M332.3,227.3h7.1M250.8,193.5h8.6M250.8,193.5v2.2M298.5,170h3.7M298.5,170v3.8M320.1,188.1h2.3M320.1,188.1v3.7M506.8,227.3h4.1M506.8,227.3v2.3M304.3,168.9h8.9M312.3,226.9h4.8M341.8,199.7h7.8M287.1,208.2h2.4M287.1,208.2v2.9M309.3,216.9h9M309.3,216.9v3.7M387,236.6h5M239.4,206.9h7.2M239.4,206.9v3.2M490.7,229.7h7.5M331.7,205.8h6M346.9,198.3h9.7M382.9,222.6h8.6M247.8,215.3h9.4M247.8,215.3v2.3M503.4,230.3h3.6M503.4,230.3v4.9M490.8,228.6h2.8M450.2,228.4h7.8M322.5,206h3.8M322.5,206v3.6M329.7,237.1h4.8M329.7,237.1v4.7M284.1,186.1h8.5M284.1,186.1v4.4M389.6,239.2h3.5M297.3,194.1h8.2M504.4,238.1h4.3M504.4,238.1v4.4M368.9,216.6h7.1M368.9,216.6v2.9M485.8,241.1h4.1M358.8,206.2h8M273.8,182.6h5.7M273.8,182.6v3.3M252.8,211.6h7.6M252.8,211.6v2.4M292.3,188.6h2.3M292.3,188.6v4M368.1,208.9h2.8M368.1,208.9v2.7M348,200.1h8M330.8,215.2h5.8M330.7,195.7h8.7M330.7,195.7v3.1M297,228.6h8.9M297,228.6v4M265.3,196.5h2.1M265.3,196.5v1.8M299.7,180.7h7.9M352.2,210.8h2.1M279.2,217.3h7.5M380.1,218.1h3.4M380.1,218.1v3.5M279,229.3h7.1M279,229.3v4M274.3,216h9.5M298.2,215.2h4.8M298.2,215.2v4.5M500.6,238.7h6M500.6,238.7v2.2M444.3,226.1h6.4M444.3,226.1v3M460.1,236.4h9.3M316.5,200h6.9M272.5,237.1h8.1M246.5,213.1h7.3M267,196.8h6.4M283.7,213.4h5.3M274.7,177.9h2.8M276.2,175h7.6M456,239.5h7.2M446.3,234h8.7M446.3,234v2.7M320.2,193.4h7.3M320.2,193.4v2.2M334.8,178.5h3.4M334.8,178.5v3.7M334.2,187.2h7.5M334.2,187.2v1.6M330.3,200.5h8M330.3,200.5v3.1M288.2,183.2h3.8M390.8,226.3h6M390.8,226.3v4M291.7,172.2h4.4M309.5,173.7h9.1M309.5,173.7v2M393.3,224.9h3M335.9,210.3h7.3M261.7,184.2h5.9M261.7,184.2v4.9M353,210.4h6.3M257,234.8h2.2M235.5,205.4h5.5M235.5,205.4v3M302.1,169.9h8.9M389.5,222.1h3.5M389.5,222.1v3.7M229.8,233.5h7.9M229.8,233.5v2.5M328.1,186.7h8.9M475.6,244h6.8M328.3,230.9h4.2M328.3,230.9v3.1M450.2,235.9h7.5M450.2,235.9v1.6M318.8,199.7h4.6M259.8,229.5h5M259.8,229.5v4.1M330.2,231.7h5.8M318.8,222.9h8M290.9,174.5h6.6M290.9,174.5v3.4M225.9,224h8.5M225.9,224v1.7M286.8,207.5h8.8M271.9,221.4h8.2M271.9,221.4v2.8M239.5,181.1h9.3M239.5,181.1v4.5M329,177.3h3M311.1,213.9h3.4M311.1,213.9v3M260.3,174.7h4.7M399.2,233.8h6.4M399.2,233.8v3.3M421.1,234.8h6.4M421.1,234.8v2.5M283,224h9.3M323.4,236.5h9.1M443,238.3h5M443,238.3v2.2M486,234.8h7.6M267.3,236.5h6.2M289.2,207.1h4M289.2,207.1v4.9M314,223h5M314,223v2.5M266.7,178.8h2.9M403.3,232.1h3.8M324.2,231.7h9.9M324.2,231.7v3.5M306.2,203.5h7.4M306.2,203.5v2M279.3,179.8h3.4M279.3,179.8v3.7M404.5,234.2h8.8M404.5,234.2v3.6M433.3,238.9h2.7M433.3,238.9v1.5M316.4,218.8h4.3M316.4,218.8v3.7M317.4,215.6h4.3M317.4,215.6v3.4M327.3,229.2h5.1M502.9,239.8h9.7M502.9,239.8v2.3M276.1,199.2h2.5M277.3,236.3h2.4M319.3,179.9h2.1M319.3,179.9v3.2M306.1,215.9h8.3M329.7,209h9.3M247.1,194.2h4.5M293.5,175.7h5.5M351.9,201.3h2M440.6,233.5h4.4M496.6,240.8h7.3M285.8,193.2h2M332.5,197h7.4M290.8,212.1h5M290.8,212.1v2.6M320,213.8h4.2M320,213.8v2.8M387.1,232.8h6.9M418.6,242h7.5M418.6,242v1.7M334.2,186.2h4.2M299.8,231.5h4.7M299.8,231.5v1.7M290.8,215.1h2.7M290.8,215.1v3M314.2,168.9h3.2M314.2,168.9v3.1M382.6,222.4h8.7M382.6,222.4v1.9M420.8,230.1h7.9M509.5,238.2h3.8M500.4,234.3h8.2M500.4,234.3v3.8M357.9,220.1h2.4M311.2,192.3h4.2M455.7,231.7h3.6M455.7,231.7v3.5M266.9,215.4h4.6M422.5,242.9h3.9M422.5,242.9v4.1M314.1,223.8h6.6M314.1,223.8v4M257.2,187.1h8.8M275.7,213.3h7M467.9,230.9h3.6M467.9,230.9v2M269.2,184.4h4.7M236.5,224.4h3.2M395,242.5h8.2M303.5,170h3.3M303.5,170v3.1M431.6,231.4h3.8M332,187.8h2.8M332,187.8v4.7M374.6,222.7h2.4M374.6,222.7v3M325.1,204.1h4.4M325.1,204.1v4.9M354.7,222h9.2M354.7,222v3.4M260,208.1h3.8M442.6,233.8h6.5M323.5,185.7h9M279.4,219.6h3.8M279.4,219.6v3M351,225.3h6.8M300.5,225.7h5.9M261.5,194.9h9.5M261.5,194.9v1.7M322.8,193.3h5M260.4,190.9h5.4M455.7,233.2h3.1M416.5,242.8h6.6M416.5,242.8v4.6M342.3,193.3h3.5M296.7,180h9.3M296.7,180v2.8M338.3,199.1h8.1M338.3,199.1v2.8M246.9,240.4h8M269.8,211.4h5.2M276.6,234.4h7.8M276.6,234.4v3.6M290.9,209.6h5.5M290.9,209.6v4.1M278.5,187.2h5.2M484.5,227.3h6.5M484.5,227.3v2M317.3,173.9h9.6M317.3,173.9v4.1M290.9,236.2h3M290.9,236.2v3.6M263.2,190.7h8.2M452.7,229.9h6.1M452.7,229.9v4.8M284.7,176.7h8.2M293,219.3h5.7M293,219.3v3.6M235.3,223.5h9M235.3,223.5v3.3M343.8,196.9h8.3M343.8,196.9v2.7M325.4,240.4h8.7M325.4,240.4v3.8M421.4,239.3h8.7M421.4,239.3v2.8M234.4,204.8h5.9M234.4,204.8v5M331.2,215.2h5.4M235.5,185.4h8.7M314.2,202.2h9.5M245.1,219.6h2.1M420.5,239.1h2.9M269.9,213.4h7M269.9,213.4v1.7M353.1,226.4h6.5M308.1,226.2h3.9M308.1,226.2v4M231.1,234.6h6.7M371.8,211.3h5M371.8,211.3v4.6M278,235.6h5.1M290,225.3h2.3M285,193.6h5.9M285,193.6v1.6M306.7,180.1h5.2M306.7,180.1v2.6M376.4,222.1h8.2M376.4,222.1v4.3M341.8,207.9h6.3M341.8,207.9v2.3M383.3,223.2h2.4M383.3,223.2v3M322.9,194.2h5.1M280.4,196h6.4M283.6,189.1h9.7M283.6,189.1v3M400.4,234.2h3.6M369.4,223h3.8M246,207h9.2M246,207v3.5M258.4,179.2h3.3M258.4,179.2v2.7M249.4,180.9h9.1M508.5,228.1h3.3M256.5,207.5h4.8M256.5,207.5v2.6M325.3,198.4h2.3M325.3,198.4v2M272,220.7h3.9M291.7,218.6h4.6M388.2,235.6h5.8M325.8,221.7h7M325.8,221.7v1.7M282.1,215h3.8M282.1,215v4.5M310.9,185.9h9.7M310.9,185.9v2M315.8,193.7h7.3M274.5,211.1h6.1M274.5,211.1v3.1M300.1,193.1h9.9M300.1,193.1v3.8M265.3,180h10M265.3,180v2M410.6,228.1h2.7M410.6,228.1v2M303.4,179.6h5.9M303.4,179.6v4.6M226.8,196.6h9.8M353.7,223.5h8M353.7,223.5v2.2M246.3,202.1h8.5M282.9,176.1h4.5M282.9,176.1v2.2M252.6,185.8h5.1M296.4,203.8h4.2M296.4,203.8v4.7M496.3,228.2h5.9M316.7,218.8h8.9M377.5,215.2h8.8M263.2,195h2.2M263.2,195v2.4M280,213.6h4.7M248.4,178.2h8.9M248.4,178.2v2.8M414.5,226.2h9.1M414.5,226.2v4.8M312.7,214.9h8.1M312.7,214.9v2.1M449.8,235.5h2.1M449.8,235.5v3.7M446.3,227.6h2.6M446.3,227.6v4.3M317.5,186.6h2.8M325.3,221.5h3.4M341.7,195.3h3.1M489.9,235.1h6.3M256.1,189h7.1M256.1,189v4.7M287.9,230.3h7.4M287.9,230.3v2.9M508.4,229.8h7.8M508.4,229.8v2.9M293.5,186.4h5.2M293.5,186.4v3.4M284.5,195h2.8M284.5,195v4.1M270.4,233.2h5M270.4,233.2v2.2M306.2,210h8.7M239.3,189.8h3.2M273.6,177.2h7.1M273.6,177.2v1.7M380.2,228.3h8.9M380.2,228.3v1.6M300.6,192.3h5.5M300.6,192.3v4.5M305.7,232.7h3.7M305.7,232.7v4M325.3,217h6.2M494.2,228.9h9.8M372.5,218.6h2M372.5,218.6v2.5M227,179.5h4.2M239.9,185.4h8.8M239.9,185.4v4.4M279.3,187.7h2.7M279.3,187.7v4.1M332.2,188.4h4.6M252.1,231.4h8.5M245.1,172.7h9.8M245.1,172.7v2.1M274.7,202.4h6.6M274.7,202.4v2.1M509.9,229h3.2M275.2,208.7h3.1M347,217.9h8.4M347,217.9v3.2M248.8,215.8h6.2M327.4,207.9h2.7M327.4,207.9v4.3M468.2,227.2h2.3M468.2,227.2v4.2M301.5,186.5h6.5M301.5,186.5v3.4M382,231.7h8.7M382,231.7v2.9M488.8,237.6h6.9M359.7,220.2h9M359.7,220.2v4.2M448.2,235.4h6.3M260.5,176.7h8.1M308.3,236.9h2.7M281.3,186.1h9.5M281.3,186.1v3.3M284.7,197.1h7.4M284.7,197.1v1.7M374.3,234.7h2.9M374.3,234.7v5M238,214h7.4M238,214v4.1M343.4,213.8h2.7M343.4,213.8v1.9M282.5,225.1h6.5M306.5,174.7h4.1M306.5,174.7v3.1M344.1,195.5h9.7M311.5,196.3h9.3M383,233.3h8.7M383,233.3v2.6M449.6,240.2h8.2M449.6,240.2v3.4M332.7,182.3h5.6M332.7,182.3v3.5M333.5,184.1h7.4M317.8,229.5h8.1M317.8,229.5v1.9M297.2,174.7h5.2M297.8,204.7h4.8M407.1,246.6h8M301.5,201h9.2M301.5,201v2.4M316.3,193h6.1M354.1,210.2h5.8M239.8,201.9h5.8M239.8,201.9v3.6M357.1,230.8h6.2M357.1,230.8v2.3M420.8,225.2h2.6M420.8,225.2v4M341.6,212.1h3.6M341.6,212.1v4.4M373.8,238.5h9.4M233,190.8h4.8M233,190.8v4.1M247.9,174.1h3.9M235.8,191h7M235.8,191v3.9M362.7,218.9h8.2M362.7,218.9v3.4M302.4,174.6h6.1M302.4,174.6v1.9M338,197.4h7.3M338,197.4v4M450.5,234.8h3.3M443.7,226.4h2.4M443.7,226.4v2.2M321.4,191h8.3M294.9,230.3h4.7M295.1,238.5h5.8M246.3,202.1h3.5M409.4,236.9h5.5M319.8,230.1h2M306.3,204.4h9.4M306.3,204.4v2.9M347.9,220.3h3.6M347.9,220.3v3.7M345.6,206.4h3.9M316.9,187.1h8.7M323.8,184.2h5.9M323.8,184.2v3.9M334.3,199.5h6.4M334.3,199.5v4.3M321.9,206.1h2.8M321.9,206.1v3.1M246.4,182.4h5M501.1,225.5h4.3M315.8,174.7h3.4M280,237.2h4.2M227.6,220h8M432.9,231.6h4.4M432.9,231.6v1.7M366,227.6h6.7M323,201.7h3.9M365,221.6h3.5M365,221.6v3.8M348.9,226.3h6.9M348.9,226.3v2.2M499.5,234.7h7.6M471.4,235h3.7M471.4,235v4.9M270.6,180.2h4.8M270.6,180.2v3.8M329.5,229.3h5.9M312,227.4h7.7M250,231.7h6.8M335.5,199.5h5.6M287.8,223.4h5.4M255.3,174.2h5.7M255.3,174.2v1.7M311.7,178.1h5.1M311.7,178.1v2.3M327.9,188.6h5.5M327.9,188.6v1.6M304.3,219.6h2.8M251,224.4h4.8M251,224.4v2.4M374.5,210.8h6.4M374.5,210.8v3M241.9,201.8h7M310.1,235.4h7.4M310.1,235.4v2.6M434.9,240.1h9.5M434.9,240.1v2.8M275.2,219.9h6.5M442.3,230.4h2.4M442.3,230.4v2.1M362.3,225.8h6.9M416.5,232.1h6.7M291.6,207.3h3M281.9,188.4h5.4M275,179.3h2.3M259.8,189.1h9.7M256.9,217.7h6.6M287.3,198.2h3.6M287.3,198.2v3.6M298,207.3h9.2M339.1,213.7h2.7M339.1,213.7v2.8M366.6,223.7h6.7M449.6,233.6h9.3M449.6,233.6v2.8M309.6,218h4.2M257.1,184.5h3.8M436.1,231.4h9.6M269.2,186.7h7M269.2,186.7v1.8M270,176.5h7.6M338.6,213.2h6.1M241.9,190.3h5.6M296.9,199.7h4.3M296.9,199.7v4M298.5,208.2h5M298.5,208.2v3.1M376.4,216.5h8.5M273.6,227.1h3.5M273.6,227.1v4.4M258.4,177.4h2.5M258.4,177.4v2M275.7,226.3h7.9M275.7,226.3v2.8M265.6,239.7h6.4M265.6,239.7v3.7M260.2,227.6h9.5M260.2,227.6v2.2M496.6,243.3h4.3M277,218.6h8.7M371.3,216h7.9M371.3,216v4.5M332.8,233h5M329.3,191.5h8.5M329.3,191.5v2.2M276.5,207.4h6.8M373.6,216.3h4.5M373.6,216.3v2.7M459.1,239.5h9.3M471.9,230.5h7.6M471.9,230.5v2.2M321.8,207h4.8M270,231.4h4.5M270,231.4v4.9M448.1,241.7h4.8M448.1,241.7v1.6M333.4,189.2h5.7M413.9,242.3h6M413.9,242.3v4.7M320.1,235h5.7M379.2,219.8h7.7M379.2,219.8v2.9M499,241.9h9M358.8,212.4h6.5M232.8,191.6h2.4M232.8,191.6v2.5M288.1,187.3h9.5M288.1,187.3v1.7M332.4,192.2h2.6M276.2,195.4h8.1M276.2,195.4v4.4M245.5,215.5h3.4M245.5,215.5v2.9M237,217.9h7.6M481.3,229.6h8.3M481.3,229.6v1.9M245,230.5h8.4M262.2,237.4h4.7M262.2,237.4v4.8M320.4,177.1h5M253.5,204.6h6.8M332.8,184.4h2.8M332.8,184.4v3.4M361.5,232.9h9.4M335.4,176.2h2.9M335.4,176.2v3.3M491.8,239.4h9.8M491.8,239.4v2.3M410.3,227.2h4.2M410.3,227.2v2.3M440.9,243.2h3.8M243.1,194.2h4.1M243.1,194.2v4.1M247.4,201h4.7M247.4,201v4.3M290.3,216.5h9.7M317,189.6h3.6M317,189.6v2.9M270.8,178.7h2.2M270.8,178.7v1.8M250.9,207.5h4.3M311.1,226.2h2.8M369,238.1h3.6M263.9,214.1h4.2M510.3,233.2h6.5M510.3,233.2v1.6M323,195h9.4M323,195v4M313.8,218.1h3.9M313.8,218.1v2.6M505.3,242.2h4.3M330,175.4h3.6M329.1,168.7h9.3M329.1,168.7v5M251.4,218.4h3.2M275.7,207.6h4.7M275.7,207.6v4.2M290.9,198.4h5.1M280.4,211.1h7.3M280.4,211.1v3.4M249.1,242.4h8.6M361.5,213.7h7M316.3,230.9h4.5M251,211.7h4.5M273.7,220h8.2M336.9,240.4h7.1M336.9,240.4v2.6M298.3,236.7h9.4M323,235.3h7.5M323,235.3v1.7M290.4,208.8h5.1M290.4,208.8v1.6M302.7,222h7.8M302.7,222v3.7M267.8,198.5h6.5M413.2,242.1h5.1M262.7,219.4h4.4M440.2,239.3h8.6M333.1,222.2h6.9M333.1,222.2v3.9M321.6,179.2h6.3M277.1,211.1h3.3M264,187.1h5.5M264,187.1v2.3M344.7,202.3h2.9M383.8,244.7h5.9M383.8,244.7v4.7M286.2,182.8h7.9M286.2,182.8v2.1M459.7,239.7h5.4M459.7,239.7v4.3M470.9,228.2h9.9M327.5,180.3h3.9M327.5,180.3v3.1M262.6,182.8h3.8M269.6,232h7.1M444.4,243.2h9.5M444.4,243.2v4.7M319.9,203.3h7.5M319.9,203.3v2.8M347.2,212.3h7.2M347.2,212.3v2.9M260.8,176.7h8.3M260.8,176.7v3M476.1,235.5h7M476.1,235.5v2.6M416.4,227.4h3.3M416.4,227.4v2.9M229.8,216.5h8.4M229.8,216.5v4.7M261.4,208.3h4.2M348.1,196.7h8.3M307.1,195.2h9.1M289.7,234.6h8.8M323.2,200.3h3.4M250,198.6h6.6M250,198.6v3.1M333.1,173.9h9M326.1,199.3h2.9M283.6,179.3h4.5M387,243.2h3.7M360.9,223.7h9.7M360.9,223.7v4.9M274.8,210h9M464.8,246h5.5M273.9,183.4h7.5M269.8,208.3h7.8M269.8,208.3v2.9M306.5,201h5.9M306.5,201v2.2M375.4,227.2h8.6M375.4,227.2v3.7M398.3,237.3h7.8M446.8,243.3h2.2M391.8,230.1h6.8M384,230.2h4.1M384,230.2v3.9M443.3,226.2h2.5M439.4,238.7h2.4M439.4,238.7v3.8M355.9,203.7h3.8M355.9,203.7v3.5M344.5,213h8.8M377.8,218.1h7.5M377.8,218.1v3.2M434.6,243.5h6.1M434.6,243.5v3.8M351.5,205.1h7.6M389.8,240.4h2.5M364.9,224.8h2.5M364.9,224.8v1.9M346.3,210h7.8M407.2,227.6h8.1M474.2,237.2h5.9M474.2,237.2v2M401.6,239.7h9M401.6,239.7v3.9M381.1,220h6.9M381.1,220v3.3M485.4,238.3h5.6M345.1,207.7h7.2M353.2,216.3h3M334.5,181.3h3.9M334.5,181.3v3.9M352.1,198.6h8M352.1,198.6v2.9M364.7,228.9h6.9M364.7,228.9v2.7M377.4,231.3h8M377.4,231.3v2.6M342.4,212.1h4.4M342.4,212.1v2M488.6,224.5h5.2M456.6,228.2h4.4M456.6,228.2v2.3M372.5,210h6.5M406.4,244.2h3.4M406.4,244.2v2.8M442,227.2h2.8M425.2,240.7h8.5M425.2,240.7v2.9M388.9,228.1h5.5M445.4,235.9h8.9M453.7,230.8h2.9M365.8,228.3h7.6M365.8,228.3v3M347,198.1h2.8M381.9,238.1h3.4M464.5,232.3h8M439.8,227.3h3.2M439.8,227.3v2.8M476.9,244h8.3M463,236h2.7M471.7,238.3h5.5M471.7,238.3v3.4M367.2,209.5h6.6M367.2,209.5v2.1M362.1,227.6h7.7M362.1,227.6v1.7M380.4,214.3h6.3M353.6,212.8h3.9M511.6,244.6h4.6M484.1,238.8h2.5M405.8,229.5h5.3M452.6,224.1h8.4M450,224.8h5M450,224.8v3.9M383.1,230.8h3M383.1,230.8v2.7M404.7,226.5h6.1M404.7,226.5v3.9M346.7,200.5h5.8M390,237.5h6.3M372,217h3M372,217v2.8M376.3,215.5h3.8M395.2,235.1h3.4M368.4,219.3h2.6M459,240.5h8.8M381.4,228.4h2.8M381.4,228.4v1.6M461.1,243.2h2.2M461.1,243.2v2M452.6,238.1h5M452.6,238.1v2.6M357.1,202.9h2.3M343,207.5h3M343,207.5v3.7M348.5,203.6h8.6M349.3,202.5h2.9M349.3,202.5v2.2M357.8,211.4h5M379.2,234.7h5.9M377.5,211.8h6.9M377.5,211.8v2.3M334.4,176.7h2.8M334.4,176.7v3.9M346.1,214.1h6.3M358.2,205.5h6.7M358.2,205.5v3.7M398.7,234.9h7.2M503.2,233.3h3.3M503.2,233.3v3.3M502.9,236.4h3.9M502.9,236.4v3M341.6,199.3h4.3M352.9,221.1h5.6M443.6,234.9h4.6M443.6,234.9v2.4M510.7,241.6h4.7M388.4,228.2h2M472.1,233.9h6.3M472.1,233.9v1.9M387.7,233.1h2.9M387.7,233.1v3.6M394.6,241.8h5.3M394.6,241.8v2.6M483.1,236.6h8.3M356.8,213.9h8.7M356.8,213.9v1.9M454.3,224.7h5.1M454.3,224.7v2.8M507.8,243.5h3.5M400.1,236.1h4.4M351.1,207.2h2.2M350.2,210.2h5M452.9,227.7h2.9M452.9,227.7v2.9M493.9,241.6h8.9M385,230.5h5M507.1,232.4h2M507.1,232.4v3.5M339.6,196.6h7.5M387,234.9h2.9M360.2,213.2h8.9M360.2,213.2v2.7M461.3,229.4h3.2M461.3,229.4v3.2M414.8,233.1h6.5M363.6,216.5h7.1M348.3,215.8h3.4M348.3,215.8v3.9M356.3,205.8h5.7M490.7,231.7h4.2M436.9,227.2h6.8M451.9,236.3h5.3M451.9,236.3v3.5M451.8,228.3h7.8M496.4,237.5h2.3M496.4,237.5v2.4M361.4,207.9h3.8M493,228.2h2.4M493,228.2v2.1M452.3,232h3.6M379.1,215.4h7.2M379.1,215.4v1.6M490,229.9h7.2M490,229.9v1.5M335.7,182.5h8M405.8,239.4h6.9M371.9,225.1h6.2M337.1,209.4h3.5M337.1,209.4v1.5M388.5,241.1h6.2M460,224.3h4.8M460,224.3v2.1M365.2,222.2h2.6M365.2,222.2v2.2M390.2,224.2h8.6M362.2,207.1h2.8M365.5,205.2h4.3M365.5,205.2v2.2M372.1,223.3h3.3M372.1,223.3v3.1M493.8,234.1h4.5M341.7,197.6h4.1M341.7,197.6v2.7M437,229h7.8M437,229v3M369.1,231.6h5.5M369.1,231.6v3.2M348.2,212.8h7M505.7,239.8h4M409.5,232.2h5.6M441.7,232.6h3.2M424.8,239.3h8.6M424.8,239.3v1.7M366.5,213.4h2.2M375.2,227.6h4.6M375.2,227.6v2.3M338.5,194.7h4.5M338.5,194.7v3.9M381.7,217.2h2.3M381.7,217.2v3.9M335.3,171.9h5.6M335.3,171.9v1.9M356.3,215.6h5.9M356.3,215.6v2.6M407.6,242.9h7.9M461.1,237.9h8.1M338.9,195.3h6.7M371.7,226.3h7.1M432.1,234.9h7.4M432.1,234.9v1.9M364.6,217.4h8.5M364.6,217.4v2.8M403.3,227.9h5.7M403.3,227.9v2.5M399.8,226.4h5.1M399.8,226.4v3.4M448.5,237.8h2.3M373,212h2M465.3,224.5h8.1M441.7,241.1h4.7M347.7,204.4h8M347.7,204.4v3.9M445.9,238.6h8M395.4,222.2h5.4M395.4,222.2v1.8M402.4,232.4h4.8M343.5,211.2h5M343.5,211.2v1.9M348.6,199h6.4M380.5,224.8h7.8M385.9,231h5.2M505.3,224.7h6.5M505.3,224.7v2.7M487.5,242.6h4.4M487.5,242.6v2.8M364.4,228h4.2M364.4,228v2.3M341.1,191.5h6.9M385.9,225.8h8M385.9,225.8v3M507.5,238.3h8.2M358.1,202.6h6.5M343.7,204.1h9M370.8,210.4h4.6M347.1,203.9h6.6M378.4,232.7h7.6M378.4,232.7v3.6M390.8,235.1h4.9M412.2,235.1h7.3M509.7,227.3h8.4M509.7,227.3v3.5M486.1,234.1h4M486.1,234.1v1.6M348,196.8h6.1M348,196.8v1.7M384.9,221.1h2M358.8,203.4h2.4M338.1,194h2.1M399.4,224.3h4.6M399.2,245.5h7.5M399.2,245.5v3.5M460.9,228.3h6.1M460.9,228.3v1.8M417.7,238.5h6.2M396.2,235.9h8.8M407.3,244.3h5.9M407.3,244.3v4M376.1,232.2h4.8M376.1,232.2v2.9M466.6,227.1h5.8M383,216.6h5.9M361.1,218.1h3.3M353.3,219.9h6.5M353.3,219.9v3M437.9,239.9h4.4M437.9,239.9v1.8M358.4,225.2h9M374.1,225.9h3.2M419.7,242.9h4.9M343.3,217.5h2.2M343.3,217.5v2.5M376.6,233.7h3.7M376.6,233.7v2.3M457.5,235.5h5.1M457.5,235.5v3.8M381.6,223.4h4.9M381.6,223.4v3.2M397,239.3h5.4M397,239.3v3.7M363.7,223h3.8M363.7,223v3.7M337.8,198h5.9M337.8,198v1.7M369.2,227.3h5.2M369.2,227.3v3M371.9,221.7h7.2M371.9,221.7v3.5M343.2,194.3h6.6M381,224.1h8.4M373.8,217.6h5.3M373.8,217.6v3.9M366.2,224.9h8.8M389.4,219.7h4.1M389.4,219.7v3.8M336,169.7h7.6M423.3,233.6h8M461.2,229.3h5.6M478.5,243.7h2.6M447,237.5h5.4M447,237.5v1.6M485.5,243.1h6.7M471.2,240h3.1M501.4,242.5h5.1M501.4,242.5v2.7M509.5,227h9M509.5,227v1.6M376.2,222h4.5M481,240.3h4.4M481,240.3v2.8M397.8,227.8h7.4M397.8,227.8v2.8M334.7,186.2h7.2M382.6,238.8h6.2M348.8,200.8h4.4M389.8,227.8h8.4M508,232.7h3.9M390.1,226.9h2.2M390.1,226.9v2.9M356.6,223.3h5.8M409.5,230.4h7.5M344.2,202.9h2.3M344.2,202.9v1.5M409.3,242.1h6.9M409.3,242.1v3.6M491.1,243.7h6.2M491.1,243.7v3.7M394.1,224.6h3.2M394.1,224.6v2.7M496.6,224.7h4.4M496.6,224.7v2.3M496.8,232.5h5.5M496.8,232.5v3.6M446.5,226.3h5.7M446.5,226.3v2.1M376,228.3h2.6M394.4,242h5.8M394.4,242v3.6M336.6,189h3.8M336.6,189v3.9M484.5,227.7h8.5M484.5,227.7v1.5M456.9,229.8h8.4M350.8,211h4M350.8,211v3.9M366,210.4h3.5M429.1,225.9h5.2M429.1,225.9v4M337.5,207.1h8.4M337.5,207.1v1.6M386.5,240.7h3M468.4,234.9h8.2M468.4,234.9v2.5M490.7,227.5h5.4M343.7,208.6h2.9M343.7,208.6v3.9M403.5,244.8h6.1M374.4,219.4h3.7M440.6,232.8h8.4M440.6,232.8v2.9M388.5,231.4h6.8M367.5,208.9h3.1M422,233.5h3.5M390.3,231.8h7.4M355,206.1h8.1M375.9,233.3h2.1M375.9,233.3v3.1M373,213.3h4.9M484.5,225.5h2.3M356.5,212.2h2.8M356.5,212.2v2.6M385.5,233.4h8.2M503.8,232.3h4.1M503.8,232.3v1.9M490.1,236.2h5.6M490.1,236.2v2.5M388.5,229.4h2.8M388.5,229.4v2.5M349,204.9h3.6M349,204.9v3.2M343.5,203.3h8.9M343.5,203.3v3.6M371.5,218.3h4.7M371.5,218.3v2.6M376.4,211.7h8.1M376.4,211.7v3.6M384.9,226.9h6.7M384.9,226.9v2.3M469.5,230.5h8.5M469.5,230.5v3.5M391.9,231.7h8M391.9,231.7v2.3M391.8,238.1h4.2M391.8,238.1v2.6M454.4,228.7h7.6M454.4,228.7v3.3M376,228.8h6.4M376,228.8v3.8M494.8,227.1h7.4M494.8,227.1v1.9M468.8,229.1h5.2M357.3,203.8h8.9M381.8,231.1h6.6M421.9,233.3h5.9M421.9,233.3v1.8M487.8,225.9h5M427.3,242h4.3M376.1,219.7h2.4M376.1,219.7v3M356.2,224.3h6.7M356.2,224.3v2.8M388.3,228.9h3.1M404.3,232h6.4M404.3,232v3.7M425.3,236h5M425.3,236v3.9M339.8,201h2.4M339.8,201v1.6M426.5,225.1h3.5M426.5,225.1v1.7M386.5,222.1h3.7M353.9,206.6h8.9M367.1,212.4h5.7M396.2,226.9h2.2M391.6,234.9h6.3M391.6,234.9v2.5M455.9,225.7h4.7M455.9,225.7v2M510,227.9h3.3M364.1,223.8h6.1M364.1,223.8v2.3M348.9,207.8h2.2M348.9,207.8v3.1M508.7,244.1h3.7M457.2,227.3h4.1M388.7,218.5h3.5M388.7,218.5v2.7M507.6,235.8h7.8M507.6,235.8v3.7M341.8,198.4h6.1M341.8,198.4v2.9M404.3,243.9h4.9M404.3,243.9v2.7M494.3,237.7h2.2M494.3,237.7v1.6M374.6,233.3h3.3M374.6,233.3v1.6M486,226.6h8.8M486,226.6v2M424.4,228.2h5M504.7,225.1h3.1M504.7,225.1v2.2M428.7,239.6h6.4M428.7,239.6v2.3M466,232.1h4.9M356.8,214.7h5M406.8,239.4h7.9M452.9,233.6h8.1M386.4,228.3h8.9M498.9,244.8h8.1M498.9,244.8v3.9M479.5,234.2h6.1M479.5,234.2v3.2M403,236.6h9M448.9,229.3h8.1M448.9,229.3v3.6M406.2,240.4h5.9M464.5,224.5h3.1M464.5,224.5v1.7M504.8,239.9h3.5M407.5,241.2h4.5M402,234.7h2.6M402,234.7v2.3M362.9,219.1h4.4M454.2,226.2h5.4M454.2,226.2v2.7M343.2,198.2h4.1M488.1,242.4h3.7M365.4,215.3h4.2M384.1,226.8h6.4M496.5,240.4h4.6M489.6,240.2h8.7M489.6,240.2v3.5M475.8,244.7h3M475.8,244.7v2M428.4,227.1h5.7M429.5,238.6h6.2M429.5,238.6v2.7M509.2,241.6h3.2M474.9,226.3h8.5M474.9,226.3v2.3M507.5,232.5h8.1M384.7,225h8.8M384.7,225v3.9M363.8,210.4h5.7M363.8,210.4v3.3M444.5,227.7h5.9M375.2,214.1h4.4M349.7,216.8h8.7M390.9,231.2h7M423.2,244.8h4.8M423.2,244.8v2.7M386.2,218.8h4.8M385.3,231.4h6.3M385.3,231.4v2.1M495.6,231.8h8M504.8,228.4h4.9M437.7,243.4h3.3M437.7,243.4v2.6M457.5,228.6h5.8M457.5,228.6v2.3M496,236.1h8.6M496,236.1v2.5M469.7,235.8h7.9M469.7,235.8v3.8M482.4,231.5h5.2M400.2,227.2h2.1M394.8,225.5h2.3M403.3,230.6h8.2M403.3,230.6v1.9M459.1,227.3h3.3M459.6,242.8h6.8M459.6,242.8v2.4M340.6,212.9h8.3M340.6,212.9v2M381,231.4h2.6M381,231.4v3.7M349.1,206.4h4.8M349.1,206.4v2.1M504.8,244h6.3M504.8,244v2M496.5,233.8h6.5M496.5,233.8v3.6M407.5,234.7h5.3M407.5,234.7v2.7M473.1,242.6h2.5M473.1,242.6v2.8M353.9,198.3h7.8M369.7,213.9h8M383.6,223.6h8.5M383.6,223.6v1.5M480,232.7h7.6M476.6,226.3h7.3M380.7,225.7h8.6M415,236.6h3.5M415,236.6v3.9M365.8,214h4M365.8,214v2.8M384.5,239.1h5.6M384.5,239.1v2.8M372.2,217.9h3.4M372.2,217.9v3.5M391.2,227.5h7.3M436.5,242.5h4.4M375.9,213h2.1M375.9,213v2.8M450.3,224.3h3.9M450.3,224.3v2.3M394,232.9h3.5M357.6,212.9h8.2M357.5,200.9h2.8M418.1,236.3h8.6M418.1,236.3v2.7M499.5,238.7h2.8M379.4,217.9h5.9M344.4,196.7h2.9M344.4,196.7v3.8M349.9,218h5.3M349.9,218v2.8M496.4,227h6.9M395.3,234.1h7.1M395.3,234.1v2M444.6,229.9h4.9M444.6,229.9v4M449.9,243.6h7.9M449.9,243.6v1.8M358.3,204.1h7.5M396.2,246.5h6.7M405.3,225.6h3.5M405.3,225.6v2.2M367.4,228.1h2.4M367.4,228.1v2.2M404.3,243.6h6.9M404.3,243.6v3.3M402.5,225.8h4M402.5,225.8v1.9M392.1,227.2h6.6M392.1,227.2v2.9M380.5,218.6h5.7M484.5,231.3h4.4M351.7,207h7M351.7,207v1.8M341.1,208h4.8M341.1,208v3.5M440.7,224.3h2.6M385.8,223.5h5.8M385.8,223.5v2.4M427.4,236.5h3M347.5,196.2h5M439.8,237.9h4.8M372.5,215h5M362.4,206.2h6M414.2,236.5h3.8M363.7,220.6h3.9M374.1,214.8h7.5M502,237h5.6M346.2,202.4h5.8M346.2,202.4v3.1M438.9,229h7.4M350.3,206.2h5.5M395.2,223.9h4.8M362.3,206h2.9M362.3,206v2.3M452.1,242h8M452.1,242v3.4M335.1,190.3h6.6M352,216.2h4.1M372.7,224.9h5.4M368.3,223.1h5.4M351.3,216.4h6M438.7,230.7h6.8M352.8,202.6h2.4M352.8,202.6v1.6M442.4,227h4.3M408.7,231.5h3.4M377.4,228.8h2.4M377.4,228.8v3.8M447,226.3h2.9M377.8,219h6.8M447.4,241.4h5.7M447.4,241.4v3M448,229.3h5.3M342.4,197.8h7.9M481.6,234h7.3M411.2,231.6h3.8M373.8,233.2h5.7M373.8,233.2v3.1M469.5,226.3h3.3M399.8,245.3h7.3M500.3,227.8h4.4M500.3,227.8v3.2M446.8,234.7h2.5M371.7,211.4h5.7M475.6,227.8h2.3M389.6,239.8h4.7M389.6,239.8v1.7M337,174.5h3.9M337,174.5v2.9M366,220.8h4.2M366,220.8v1.9M402.7,233.5h4.1M402.7,233.5v3M464.6,232.5h7.1M464.6,232.5v4M360.1,213.4h5.8M360.1,213.4v2.3M503.9,235.8h5M362.5,207.8h3.1M344.9,204h4.9M344.9,204v2.5M409.9,242h6M409.9,242v2.7M371,211.5h8.8M499.2,239.2h2.5M356.8,214h8.2M359.3,225.5h7.5M342.6,204.2h8.2M342.6,204.2v2M399.5,247.3h2.8M399.5,247.3v3.3M358.8,219.6h7.2M354.4,205.6h7.6M360.9,222.9h4.8M360.9,222.9v1.9M335.9,171.9h7.7M379.1,217.2h3.2M379.1,217.2v4M442.4,225h8.6M414.8,240.7h7.7M399.9,243.5h2.8M491.6,243.3h3.8M404.6,236.5h5.6M404.6,236.5v2.3M390.2,234.6h4M349.4,204.7h3.1M349.4,204.7v1.6M339.7,207.4h5.3M339.7,207.4v1.7M377.5,223h5.5M388.1,240.6h4.4M388.1,240.6v1.8M377.8,211.9h5.1M341.9,209.6h3.1M345.7,211.5h5.7M345.7,211.5v3.5M367.8,212.5h6.6M367.8,212.5v3.4M355,210.9h3.1M379.2,227.3h8.9M379.2,227.3v1.9M483.5,242.6h3.2M483.5,242.6v2.7M335.6,177.1h4.4M335.6,177.1v3.9M399.3,241h8M399.3,241v3.2M347.8,215h3.7M389.1,223.5h7.8M447.3,233.2h4.2M447.3,233.2v3.6M397.8,245.8h2.7M344.3,195.8h2.4M495.9,242.1h6.2M495.9,242.1v3.4M378.4,224.1h2.4M378.4,224.1v3.6M377.1,219.4h6.9M378.4,214.6h3.5M378.4,214.6v3.3M461.5,242.3h3.4M461.5,242.3v3.1M434.4,241.8h6.8M358.4,203.6h2.6M358.4,203.6v2.8M349,198.7h2.2M390.5,227.2h6.5M392.4,230.5h2.2M385.3,221.9h7.7M385.3,221.9v1.7M489.4,224.2h7.1M489.4,224.2v1.8M482.7,233h5.5M482.7,233v1.6M359.9,209.4h8.2M359.9,209.4v3.7M462.5,225.4h7.4M500.6,242.4h4.3M363.1,216h4.8M363.1,216v3.1M410.5,240.6h6.6M380,224.7h2.7M352.9,204.3h3M385.8,229h4.4M385.8,229v3.8M438.5,231.6h8.6M438.5,231.6v2M450,225.5h8.8M384,236.2h7.6M395.5,235.1h2.3M395.5,235.1v2.2M353.1,202.1h3.7M353.1,202.1v2.5M355.1,218.9h4.8M355.1,218.9v3.4M352.2,218.9h6.3M352.2,218.9v2.8M393.1,243.8h7.2M393.1,243.8v2.5M368.4,222.6h7M349.8,208.8h5.4M349.8,208.8v1.7M381,224.7h6.2M340.9,210.6h5.1M407.5,237.2h8.7M467.6,243.7h2.6M334.2,173.8h5M367.6,207.6h8.5M367.6,207.6v3.8M461.7,238.8h6M461.7,238.8v2.1M383.8,226.1h2.7M351.4,197h5.4M379.3,223.7h6.6M379.3,223.7v1.7M395.2,237.1h3M372.5,231.4h3.9M372.5,231.4v3.5M395.6,234.5h8M381,224.5h2.5M350.2,197.5h5.7M349.3,200.7h5.7" stroke="#2a7a36" stroke-opacity="0.6" stroke-width="0.7" fill="none"/></g>
<polygon points="116,229.5 120.5,197.8 166.5,197.8 167.6,178.4 244.6,178.4 245,171.8 267.5,171.8 267.6,168.4 483.5,168.4 488.8,178.2 458.3,221.1 511.8,221.1 519.8,275.2 509.2,275.2 509.2,280.2 487.3,280.2 487.3,286.6 398.6,286.6 396.8,250.3 299.5,250.3 299.5,256.6 252.7,256.6 252.7,262.7 182.7,262.7 182.5,229.5" fill="none" stroke="#3a9a4a" stroke-width="1"/>
<polygon points="223.5,79.2 227.3,79.3 231.9,78.4 233,73.4 236.6,74.1 240.2,71.5 243.9,68.6 246.5,67.8 248.9,68.8 254.4,67.7 257.5,68 261.5,68.8 266.2,67 266.2,68.4 271.3,66.5 275.7,68.4 277.7,66.7 284.5,69 287.1,66.5 291.5,66.2 291.4,64.2 294.1,65.5 297.8,67.9 305.5,65.8 306.9,65.2 310.5,65.8 316.7,64.9 319.4,62.7 319.8,64.2 325.2,60.2 329.6,59.1 333.9,63.1 334.3,59.7 336.6,63.5 339.4,65.2 339.3,70.4 336.2,73.8 339.6,74.6 346.5,79.6 345.6,77.7 352.7,80.8 352.5,80.1 354.7,81.3 361.3,84.7 361.6,85.8 365.9,90.3 371,88.3 371,90.5 375.7,93.9 379.1,97.1 381.6,94.6 387.9,98.5 389.2,97.9 393.3,100.4 395.6,102.4 400.5,104.4 403.6,104.8 401.3,112.1 398.4,114.6 394.2,114.8 392,116.6 390.4,118.2 384.3,119.7 379.9,116.6 377.8,116.5 372.2,115.8 371.4,117 365.3,118.4 362.2,120.1 358.2,116.7 354.1,119.4 354.5,118.1 349.9,118 345.3,119 340.5,115.8 336.2,119 336.3,118.8 330.5,116.6 325.2,118.5 323.3,114.8 318.8,115.2 314,118.5 311.2,115.4 308.7,119 306.4,115.5 303.3,117.9 297.4,118.5 292.4,115.6 292,115.7 287.3,117.4 282.9,115 282.2,116.9 278.7,116.7 273.8,116.4 267,114.5 262.6,117.6 259.8,116.3 256.7,113.5 251.4,113.7 251.7,115.1 246.1,114.6 241,112.2 237.1,113.2 235.3,113.5 232.1,112.7 227.3,110.4 228.7,106.2 224.4,103.5 223.9,100.2 221.6,93.9 219.9,91.7 221,89.7 223.5,82.7" fill="#8b6fd6"/>
<path d="M330.3,56.8h1v1.9h-1zM331.3,63h1.5v1.4h-1.5zM272,67.9h3.5v1h-3.5zM246.2,62.9h1.4v1.9h-1.4zM277.2,53.4h2.4v1.4h-2.4zM273.9,68.5h2.1v1h-2.1zM283,57.5h1.8v1.7h-1.8zM316.1,57.3h1.1v1.8h-1.1zM303.5,64.3h3.5v1.4h-3.5zM313.6,61.9h2.2v1.4h-2.2zM244.3,69.9h1.8v1.3h-1.8zM298.8,59.3h1.8v1.2h-1.8zM318.4,57.9h3.3v1.7h-3.3zM315.1,53.7h2.2v1.9h-2.2zM270.1,67.5h2.2v1.4h-2.2zM273.8,59h2.4v1.9h-2.4zM264.6,55.4h3.9v1.3h-3.9zM309.5,56.7h4.4v1.3h-4.4zM269.2,60.2h3.8v1.4h-3.8zM332.1,67.8h1.3v1.4h-1.3zM261,59.5h2v1.2h-2zM252,59h3v1.3h-3zM306.6,57.6h4.2v0.8h-4.2zM309.2,64.1h3.1v1.2h-3.1zM331.4,62.5h1.4v1.3h-1.4zM308.5,67.4h1.3v1.3h-1.3zM336.8,55.3h3.4v1.7h-3.4zM330.8,55.6h1.2v1h-1.2zM265.4,67.7h2.8v1h-2.8zM252.1,67.7h3.4v1.9h-3.4zM256.7,57.9h3.1v1.5h-3.1zM322.3,52.7h1.1v1.4h-1.1zM293.5,62.5h2.2v1.2h-2.2zM288.3,56.7h1.8v1.4h-1.8zM272.9,55.7h3.2v1.3h-3.2zM267.1,61.5h2.5v1.3h-2.5zM325.8,55.4h2.5v0.8h-2.5zM333.2,65.4h1.8v1.4h-1.8zM288.9,69.3h3.7v1.3h-3.7zM270.4,58.4h2v1.4h-2zM278.1,66.1h4.4v1.9h-4.4zM283.1,67.5h1.3v1.4h-1.3zM305,53.1h1.7v1.4h-1.7zM255.3,61.6h2.3v0.8h-2.3zM268.6,68.4h1.7v1.3h-1.7zM260.8,69.4h2.6v0.9h-2.6zM249.2,64.4h3.2v1h-3.2zM254.9,53.2h1.3v2h-1.3zM289.3,56.9h2.5v1.8h-2.5zM275.2,53h1.3v1.3h-1.3zM290.4,67.1h4.5v0.8h-4.5zM298.2,57.4h1.3v1.8h-1.3zM277.9,63.1h1.9v1.1h-1.9zM293.5,56.8h1.8v1.2h-1.8zM301.5,68.6h2.5v1.4h-2.5zM322.7,54.4h2.3v1h-2.3zM276.8,62.7h2.7v1.9h-2.7zM303.6,54.1h4.5v1.4h-4.5zM285.8,63.9h2.5v1.6h-2.5zM333,68.1h3.2v0.9h-3.2zM262.3,57.1h3.3v1.9h-3.3zM307.9,65.9h4v1.1h-4zM292.7,59.2h2.5v1.1h-2.5zM273.4,66h2.6v1.6h-2.6zM299.5,64.6h2.3v1.7h-2.3zM316.5,54.6h4v1.8h-4zM334.6,59.5h3v1.8h-3zM297.3,51.2h2.1v1.8h-2.1zM322.8,62.9h2.6v1.4h-2.6zM285.5,60.7h4.2v1.1h-4.2zM276.4,68h4.3v1.7h-4.3zM269,66.1h2.6v1.3h-2.6zM313.4,53.5h3.2v1.6h-3.2zM256.4,65.3h3.5v1.1h-3.5zM304.1,55.2h3.5v1.1h-3.5zM311.8,52.6h3v1.5h-3zM276.1,63.1h2.7v1.2h-2.7zM332.5,57.4h3.5v1.2h-3.5zM326.7,67.3h4.3v1.1h-4.3zM324.8,59.8h1.2v1.3h-1.2zM275,57.2h1.7v1.7h-1.7zM286,58.2h2.8v1.3h-2.8zM321.3,58.6h3.8v1h-3.8zM325.7,60.9h4.5v1.2h-4.5zM274,62.9h1.1v1.7h-1.1zM335.6,51.3h3v2h-3zM294.9,52.1h4.1v1.3h-4.1zM311.9,51.6h1.5v1.5h-1.5zM309.2,60.3h4.2v1.8h-4.2zM331.7,63.4h4.1v1.6h-4.1zM293.2,65.6h2v1.4h-2zM277.7,69.9h2.8v1.2h-2.8zM295.1,64.8h3.1v1.5h-3.1zM335.3,60.2h1.2v1.8h-1.2zM325.3,69.1h2.5v1.9h-2.5zM250.4,68.4h3.4v1.6h-3.4zM316.2,68.3h3.9v1.9h-3.9zM334.1,66.9h1.9v1.9h-1.9zM255.7,61h2.5v1.2h-2.5zM252.2,60.6h3.3v1h-3.3zM322.8,60.7h2.9v1.6h-2.9zM327.6,60.7h1.4v1.3h-1.4zM251.4,68.7h3.3v1.2h-3.3zM278.9,54h2.4v2h-2.4zM296.6,62.3h3.5v1.1h-3.5zM272,52.2h3v1.1h-3zM315.8,54.7h2.7v1.2h-2.7zM246.5,53.8h4.1v1.3h-4.1zM262.8,59.8h2.1v0.8h-2.1zM284.6,65.1h3.2v1.6h-3.2zM268.3,52.8h1.5v1.7h-1.5zM307.1,61.4h2.7v1.9h-2.7zM312.9,51.7h1.2v1h-1.2zM288.5,65.1h3.4v1.5h-3.4zM258.9,60.6h4.3v1.1h-4.3zM303.2,52.8h4.3v1.6h-4.3zM329.8,61.9h1.8v1.4h-1.8zM252.3,68.1h2.9v1.1h-2.9zM325,63h1.8v1.4h-1.8zM312.5,54h1.6v1h-1.6zM275.2,56h3.9v1.3h-3.9zM325.6,67.4h3.5v0.9h-3.5zM273.1,52.1h1.5v1.7h-1.5zM312.5,61.2h1.2v1.3h-1.2zM331.6,68.2h1.5v1.3h-1.5zM291,61.4h3.5v0.8h-3.5zM256.3,60.5h3.5v1.7h-3.5zM288.8,62h1.1v1.2h-1.1zM250.9,53.6h2.3v1.4h-2.3zM290.6,60h3.2v1.6h-3.2zM298.4,65h3.4v1.1h-3.4zM301.1,66.3h2.9v1h-2.9zM308.7,51.8h2v1.4h-2zM244.9,55.6h1.8v1h-1.8zM300.4,52.4h1.3v1.8h-1.3zM252.7,62.5h1.3v0.9h-1.3zM293.1,55.9h2.1v1.9h-2.1zM328.7,57.5h3.2v1.5h-3.2zM283,51h2.7v0.9h-2.7zM315.6,51.7h2.8v1.7h-2.8zM329,66.6h1.7v1.7h-1.7zM281.7,55.9h3.1v1.2h-3.1zM278.6,54.2h3.9v1.8h-3.9zM267.9,63.8h2.1v2h-2.1zM249.2,69.7h1.9v1.1h-1.9zM322.8,60.3h3.6v1.5h-3.6zM320.9,66h2.2v1.6h-2.2zM274.7,66.7h3.6v1.9h-3.6zM320.9,55.6h2.5v1.7h-2.5zM277.7,51.8h3.1v1.2h-3.1zM248.5,58.1h2.5v1.6h-2.5zM255.9,67.6h2.9v1.3h-2.9zM272.7,63.7h3.2v0.9h-3.2zM316.9,63h1.6v1.8h-1.6zM287.4,56.9h2.8v1.2h-2.8zM254.9,64.7h3v1.3h-3zM259.8,66.9h3.3v1.6h-3.3zM280.8,55.8h4.1v2h-4.1zM250.4,69.1h3.3v1.4h-3.3zM279.2,58.8h2.8v2h-2.8zM253.5,60.6h1.9v1.9h-1.9zM285.6,57.2h3.8v1.9h-3.8zM333.6,54.4h1.1v1.5h-1.1zM266.1,66.6h2.9v1.9h-2.9zM294.9,54.9h1.3v1.1h-1.3zM331.5,61.6h3.7v0.9h-3.7zM311.7,69.3h4.3v0.9h-4.3zM279.5,63.1h3.1v0.9h-3.1zM321.6,60.5h2.5v1.8h-2.5zM291.5,64.8h3.8v0.9h-3.8zM291.3,54.8h2v1.3h-2zM281.9,55.2h1.7v1.2h-1.7zM323.3,63.7h2.9v0.9h-2.9zM295.2,69.1h3.6v1.1h-3.6zM305.8,53.8h2.1v1.6h-2.1zM335.5,65.3h1.1v1.2h-1.1zM299,54.8h4.5v1.9h-4.5zM269.6,58.3h1.1v1.6h-1.1zM305,68.3h1.5v1.7h-1.5zM294.5,51.9h1.3v1.4h-1.3zM246.9,64.4h3.9v1.7h-3.9zM327.6,59h3.6v0.9h-3.6zM251.5,54.2h1.6v1.6h-1.6zM296.5,59.4h1.5v1.1h-1.5zM274.7,63.9h2.1v0.9h-2.1zM321.5,64.7h1.4v1.7h-1.4zM292.8,66.1h2.6v0.9h-2.6zM332.1,59.4h2.2v1.8h-2.2zM303.5,61h4.1v1.5h-4.1zM282.2,59.9h1.5v1.3h-1.5zM317.8,67.5h3.3v0.9h-3.3zM319,55h3.2v1h-3.2zM302.7,53.5h3.6v2h-3.6zM306.2,67.7h3.4v1.2h-3.4zM273.9,61.8h1v1.5h-1zM320.5,58.7h1.3v1.1h-1.3zM314.4,58.3h3.1v1.9h-3.1zM330.7,54.6h1.4v1h-1.4zM269.7,68.1h3.4v1.4h-3.4zM262.3,65.9h3.6v1.7h-3.6zM286.4,52.2h3.9v1.8h-3.9zM267.3,69.8h2.1v0.8h-2.1zM248,54h4.5v0.8h-4.5zM325.5,57.2h4.4v1.9h-4.4zM324.2,54.2h1.8v2h-1.8zM273.2,68.5h1.4v1h-1.4zM301.9,55.2h2v1.3h-2zM266.4,58.2h1.7v1.2h-1.7zM291.9,58.4h1.1v1.1h-1.1zM311.4,52h2.6v1.9h-2.6zM305.6,56.9h2.4v1.8h-2.4zM317,53.5h2.2v1.8h-2.2zM333,55.5h2.6v1.6h-2.6zM302.6,68.2h1.9v1.1h-1.9zM306.3,61h1.9v1.9h-1.9zM307.6,55.7h2.6v1.5h-2.6zM304.8,59.8h1.4v1.3h-1.4zM312,53.1h3.8v1.5h-3.8zM273,68.7h1.9v1.1h-1.9zM334.2,51.8h2.2v1.4h-2.2zM314.9,57h2.6v1.3h-2.6zM332.4,64.3h1v1.2h-1zM274.5,64.8h2.1v1.5h-2.1zM326.6,65.5h4.4v1.1h-4.4zM257.1,67.7h1.5v1h-1.5zM329,56.6h1.2v1h-1.2zM257.7,55.9h3.4v1.3h-3.4zM276.3,61.9h2.8v1.4h-2.8zM307.4,56.3h1.6v1.7h-1.6zM284,64.8h4.3v1.6h-4.3zM304.2,69.5h1.1v1.4h-1.1zM276.7,68.2h2.3v1.2h-2.3zM267.3,59h1.4v1.4h-1.4zM244.8,68.5h4.2v1.1h-4.2zM270.5,62.3h3.5v1.4h-3.5zM273,54.3h3.9v1.3h-3.9zM265.8,54.6h1.6v1h-1.6zM328.5,54.5h2v1.3h-2zM319.6,66.7h2.8v1.1h-2.8zM295.4,58h2.3v1.9h-2.3zM248.3,66.9h2.9v1.5h-2.9zM251,55.2h2.7v1.3h-2.7zM302.4,62h3.4v2h-3.4zM260.9,70h3.5v1.1h-3.5zM310.8,70h2.4v1.4h-2.4zM272.7,61.9h3.4v1.7h-3.4zM261,69.7h4v2h-4zM267.7,55.3h2.6v1.3h-2.6zM279,56h2.1v1.6h-2.1zM265,55.4h1.9v1.6h-1.9zM276.8,52.7h3.8v1.1h-3.8zM315.1,69.2h3.5v0.9h-3.5zM299,61.7h2v1.4h-2zM268.3,62h3.9v2h-3.9zM334.2,65.3h1.8v1.7h-1.8zM299.4,67h2.5v1.1h-2.5zM301.9,53.4h1.3v2h-1.3zM335.3,69.8h3.2v0.8h-3.2zM269.3,66.2h2.8v1.4h-2.8zM290.6,52.8h4.2v1.7h-4.2zM249,57.9h3.1v0.8h-3.1zM327.3,55.8h3.4v1.2h-3.4zM311.6,57.6h2.8v1.5h-2.8zM318.7,69h3.5v1.9h-3.5zM287.9,51.1h2.2v1.2h-2.2zM303.8,58.2h4.3v1.3h-4.3zM252.6,62.4h2.3v1.9h-2.3zM318.1,69.7h1.4v1.4h-1.4zM327.5,61.5h3.1v1.2h-3.1zM258.5,60.4h3.7v1.4h-3.7zM248.1,56.9h1.4v0.9h-1.4zM323.9,55.7h3.1v1.1h-3.1zM253.8,64.4h4.3v1.6h-4.3zM262.4,56.7h2.3v1.7h-2.3zM256.5,55h1.1v1.5h-1.1zM285.6,64.8h2.9v1.5h-2.9zM304.6,59.4h2v1.8h-2zM330.7,58h4.2v1.3h-4.2zM332,52.1h1.8v0.9h-1.8zM296.2,64.9h2.5v1.6h-2.5zM282.6,59.2h2.9v1.7h-2.9zM331.1,60.9h2.5v1.8h-2.5zM310.9,67.7h3.4v1.9h-3.4zM249.1,61.8h2.3v1.2h-2.3zM266,56.3h3.2v1h-3.2zM270.7,64.1h4.2v0.9h-4.2zM285.5,64.6h3.3v2h-3.3zM282,61.6h4v1.2h-4zM260.2,65.9h1.4v1.8h-1.4zM298,58.9h2.1v1.6h-2.1zM282.8,69.6h1.9v2h-1.9zM311.4,57h2.1v1.4h-2.1zM254.3,61.4h1.9v1.7h-1.9zM283.5,62.5h4.3v0.8h-4.3zM307,53.7h1v1.6h-1zM253.1,60.8h3.8v1.7h-3.8zM293.5,54.9h2.7v1.8h-2.7zM313.1,66.8h4.3v1.8h-4.3zM273.3,58.8h4.3v1.5h-4.3zM287.9,64.3h1.9v1.5h-1.9zM267.4,57.7h2.6v1.9h-2.6zM297.1,57.8h2.1v1.1h-2.1zM309.8,57.7h2.9v1h-2.9zM280.3,65.4h3.7v1.5h-3.7zM322.6,61.3h4.2v1.4h-4.2zM295.9,67.1h3v0.8h-3zM273.4,56.8h1.9v1.6h-1.9zM309.1,51.6h3.7v1.3h-3.7zM326.4,66.8h4v1.2h-4zM251.8,64.6h4.4v1.9h-4.4zM316.2,64.5h2.4v1.7h-2.4zM335.5,53.3h3.8v1.3h-3.8zM259.4,67.3h4.1v0.9h-4.1zM288.7,63.2h1.6v1h-1.6zM255.4,62.5h2.9v1.3h-2.9zM316.8,67.5h4.1v1.5h-4.1zM300,67.9h2.4v1.2h-2.4zM305.1,58.2h3.1v1.5h-3.1zM304.6,65.2h4.5v1.8h-4.5zM287.1,64.9h2.1v1.2h-2.1zM306.8,61.1h3.2v1.2h-3.2zM303.3,67.3h3.3v1h-3.3zM298.5,60.4h1.1v1.3h-1.1zM298.6,54.8h1.7v1.5h-1.7zM283.7,63.9h1.3v1.9h-1.3zM322,51.9h2.4v1.6h-2.4zM252.1,66.1h2.7v1.5h-2.7zM295.1,51.5h3.8v1.8h-3.8zM286.4,69.7h1.1v1.1h-1.1zM329.7,66.9h4v1.5h-4zM312,62.7h4.3v1.1h-4.3zM250.9,65.3h1.5v2h-1.5zM272.9,67.5h2.3v1.8h-2.3zM291.1,60.8h1.7v1h-1.7zM275.7,65.3h4.5v1.2h-4.5zM324.7,61.1h4.1v1.7h-4.1zM298.2,53.6h3.6v2h-3.6zM249.6,58.7h2.5v1.7h-2.5zM306.5,65.7h1.6v1.2h-1.6zM267.7,69.2h1.7v0.9h-1.7zM314.8,54.1h2.7v1.9h-2.7zM298.9,52.6h1.6v1.1h-1.6zM333.2,67.4h4.1v1h-4.1zM284.2,69.4h1.8v2h-1.8zM267.7,58.3h3.3v1.2h-3.3zM287.7,67.2h3.9v1.6h-3.9zM336.7,55.1h1.3v1.1h-1.3zM335.4,53.2h3.9v1h-3.9zM245.1,61.8h1v1.2h-1zM257.3,58.8h4.4v1.8h-4.4zM289.2,55.4h1.9v1.6h-1.9zM296.2,54.1h1.2v2h-1.2zM328.6,65.8h1.2v1.3h-1.2zM268.7,60.7h3.7v1.5h-3.7zM255.2,55.5h1.6v1.5h-1.6zM290.5,55.4h1.9v2h-1.9zM321.6,66.7h3.8v1.3h-3.8zM337,69.1h3.7v1.8h-3.7zM335,58h3.5v1.8h-3.5zM278.2,54.6h1.3v1.3h-1.3zM308,54h3.8v1.8h-3.8zM246.2,59.8h1.1v1.4h-1.1zM325.4,52.3h3.1v1.9h-3.1zM256,59.9h4.3v1.1h-4.3zM335.2,57.6h3.5v0.9h-3.5zM301.5,67.3h1.5v1.8h-1.5zM248.5,63h2.1v1.7h-2.1zM327.4,68.7h3.7v2h-3.7zM286,58.7h2.9v1.3h-2.9zM268.9,55.4h2.1v1.5h-2.1zM250.2,65.6h2.6v1.3h-2.6zM336.4,56.5h2.1v1.8h-2.1zM324.3,52.1h2.2v1.4h-2.2zM328.2,59.4h2.5v0.9h-2.5zM288.3,69.7h2.7v0.8h-2.7zM246.7,66.3h2.2v1.9h-2.2zM304.1,62.7h4.3v1.6h-4.3zM318.3,63.1h3.3v0.8h-3.3zM304.2,56.4h3.2v1.1h-3.2zM261.1,60.7h3v1.3h-3zM318,51.1h2.3v0.9h-2.3zM293.6,65.6h3.4v1.4h-3.4zM300,62h2v1.1h-2zM318.6,58.7h3.3v2h-3.3zM254.7,58h4v0.9h-4zM304.8,56.6h2.8v1.5h-2.8zM253.3,60.8h1.3v1.3h-1.3zM283.4,56.2h4.3v0.8h-4.3zM251.6,60.2h3.9v1.5h-3.9zM302.5,61h3.9v1.3h-3.9zM271.1,61.4h1.4v1.8h-1.4zM314.3,66.8h1.4v1.6h-1.4zM257.7,64.6h2.8v1.5h-2.8zM308.4,69.5h2.8v1.6h-2.8zM268,55.1h2.3v1.1h-2.3zM268.9,51.4h1.7v1.5h-1.7zM270.5,54.3h3.4v2h-3.4zM293.7,67.6h4.3v1h-4.3zM306.8,51.3h1.2v1.3h-1.2zM335.8,68.4h1.4v1.6h-1.4zM302.8,67.5h2.8v1.4h-2.8zM274.7,55.3h1.4v0.9h-1.4zM296.8,57.2h2.4v1.8h-2.4zM251,53.3h2.9v1.7h-2.9zM284.8,65.8h2.3v0.9h-2.3zM261.7,57.7h4.2v2h-4.2zM323.9,51.6h2.3v1.6h-2.3zM292.3,69h2.2v2h-2.2zM289.5,52.2h2.5v1.1h-2.5zM245.2,64.5h3.5v1.7h-3.5zM302.5,66.5h4.4v1.2h-4.4zM265.6,60.7h1.2v0.8h-1.2zM329.5,69.8h4.3v1.4h-4.3zM283,63.3h1.7v1.5h-1.7zM323.7,57.6h3v1h-3zM260.2,63.7h3.2v1.1h-3.2zM256.4,53.1h1.1v1.5h-1.1zM286.2,57.6h2.4v2h-2.4zM261.8,66.2h2.5v1.4h-2.5zM246.4,64.5h2.8v0.8h-2.8zM271.8,55h4.4v1.2h-4.4zM298,65.3h4.5v1.7h-4.5zM275.7,65.2h2.3v1.2h-2.3zM255.9,60.7h3.7v1.7h-3.7zM248.8,62.1h1.3v1.6h-1.3zM279.9,57h3.5v1.7h-3.5zM304.4,54.3h3.3v0.9h-3.3zM311.3,55.4h2.9v1.8h-2.9zM284.3,62.3h2.3v1.7h-2.3zM292.1,56.7h3.2v2h-3.2zM262.2,54h1.5v1.9h-1.5zM275.1,57.5h2.1v1.1h-2.1zM280.4,62.3h4.4v1.2h-4.4zM252.6,63.7h1.8v1.9h-1.8zM266.7,64.6h3v1.8h-3zM333.7,60.1h2.2v1.5h-2.2zM298.5,67.6h3.2v1.3h-3.2zM325.2,69.7h4.3v1.6h-4.3zM263,66h2.3v1.8h-2.3zM326.9,66.2h1.2v1.2h-1.2zM252.7,62.8h4.3v1h-4.3zM309,67.3h2.1v1.1h-2.1zM286.4,64.1h2.9v1.7h-2.9zM251.1,59.5h1.3v1.8h-1.3zM315.8,59.9h1.1v0.9h-1.1zM263.5,68.6h3.8v1.4h-3.8zM316.4,54.1h2.1v1h-2.1zM294.5,63.4h1.1v1.9h-1.1zM253,62.8h2.5v1h-2.5zM285.1,54.9h2.7v1.5h-2.7zM275.9,57.9h1.9v0.8h-1.9zM273.4,62.3h1.5v1.7h-1.5zM323.6,65.7h3.3v2h-3.3zM264.8,66.9h1.3v1.2h-1.3zM275.9,63.6h4.3v1.9h-4.3zM322.2,68.4h1.6v0.9h-1.6zM280.5,59.6h3.5v1.8h-3.5zM281.1,58.4h1.1v1.8h-1.1zM301.8,64.4h3.5v1.4h-3.5zM324.5,63.8h2.8v1.6h-2.8zM312.4,63h3.3v1.1h-3.3zM305,52.5h3.4v1.3h-3.4zM310.3,68.7h4v0.8h-4zM246.7,65.9h2v1.6h-2zM270.5,61.8h2.5v1.1h-2.5zM312.2,59.1h2.3v1.2h-2.3zM289.3,66.1h1.8v1.8h-1.8zM335.8,60.6h3v1.6h-3zM318.6,66.4h2.3v2h-2.3zM332.3,55.1h3v1.8h-3zM274,69.6h2.5v1.8h-2.5zM297.7,52h4.1v1.1h-4.1zM245.8,68h2.1v1.2h-2.1zM336.1,59.5h2.2v1.7h-2.2zM265,68h3.6v1.7h-3.6zM247,54.7h1.9v1.9h-1.9zM272,63.6h3.3v1.9h-3.3zM289.4,51h1.7v1.3h-1.7zM287.2,65.2h3.9v1.8h-3.9zM319.7,59.4h2.6v1.2h-2.6zM323,64h3.1v1.2h-3.1zM322.1,54.5h1.9v1.5h-1.9zM291.8,68.8h2.1v2h-2.1zM259.8,54.6h1.4v1.6h-1.4zM318.5,59.8h2.7v1.5h-2.7zM317.5,57.2h4v1.3h-4zM272.1,58.6h4.3v1.1h-4.3zM315.1,59.6h3.2v1.9h-3.2zM270.6,67.9h3.4v0.9h-3.4zM333.5,57.7h2.6v1h-2.6zM325.6,59.1h4.1v1.9h-4.1zM251.2,54h2.2v1h-2.2zM252.4,56.9h3v1.2h-3zM264.8,68.3h3.8v1.6h-3.8zM289,63.4h2.1v1.2h-2.1zM306.4,57.5h4.2v1h-4.2zM280.2,53.1h3.4v1.6h-3.4zM333.7,66.3h2.2v0.9h-2.2zM327.8,66.1h1.4v1.5h-1.4zM264.2,66.6h3.2v1.8h-3.2zM318.2,58.6h2.6v1.5h-2.6zM306.8,60.8h2v1.4h-2zM329.5,67h2.4v1.7h-2.4zM273.1,60h2.6v2h-2.6zM248.7,65.2h2.9v0.9h-2.9zM271.5,65.5h3.8v0.9h-3.8zM246.2,66.6h4v1.3h-4zM266.1,60.6h1.8v1.5h-1.8zM279,54.2h2v1.2h-2zM327,67.6h4v1.6h-4zM256.3,64h1.4v1.5h-1.4zM255.6,63.9h3.7v1.4h-3.7zM305.2,62h4v1.5h-4zM311.2,53.5h2.6v1.3h-2.6zM311.1,60h3.3v1.8h-3.3zM301.2,61.8h1.9v1.7h-1.9zM252.8,60.6h4.2v1h-4.2zM334,64.1h3.9v1.3h-3.9zM284.7,66.6h2.5v1.2h-2.5zM312.9,58.2h1.4v1.8h-1.4zM274.1,55.4h4v1.9h-4zM295.9,69.2h2.7v1.1h-2.7zM325.4,59.7h2v1.7h-2zM324.5,57.8h2.9v1.1h-2.9zM297.3,64.1h3v1.1h-3zM325.3,52h1.3v0.9h-1.3zM290.6,55.9h1.5v1.3h-1.5zM303.9,53.4h3.7v1.2h-3.7zM257.7,63.5h2.2v1.1h-2.2zM321,69.1h2.6v1.2h-2.6zM278.1,61.1h1.6v1.6h-1.6zM270.6,66.2h1.5v1.6h-1.5zM334.8,58.7h2.5v1.6h-2.5zM302.1,68.1h2.3v1.8h-2.3zM327.1,64.2h1.2v1.9h-1.2zM330.2,51.8h2v1.3h-2zM333.1,68h4.5v1.4h-4.5zM324.6,58.8h4.2v1h-4.2zM317,58.8h1.6v1.9h-1.6zM307.2,56.5h3.3v1.9h-3.3zM278.2,53.9h4.4v1.3h-4.4zM298.9,59.2h3v1.3h-3zM306.6,60.1h4.3v1.2h-4.3zM251.9,55.5h3.8v1.5h-3.8zM328.9,68.4h2.7v0.8h-2.7zM322.6,60.7h2.4v0.9h-2.4zM271.5,51.7h2.2v1.5h-2.2zM270.9,61.2h2.9v1.3h-2.9zM282.2,63.1h1.4v1.9h-1.4zM361.5,85.8h3.9v1.3h-3.9zM392.1,102.6h2.5v1.3h-2.5zM398.8,111.4h4.1v1.7h-4.1zM360.8,91.3h3.2v1h-3.2zM396.2,106.6h2.9v1.1h-2.9zM368.9,92.4h2.1v1.1h-2.1zM385,102.8h2.9v1.7h-2.9zM399.5,106h3.3v2h-3.3zM363.6,88.1h2.5v1.8h-2.5zM342.9,76.1h4.2v1.6h-4.2zM365.2,89.3h4v1.4h-4zM374.8,95h1v1.7h-1zM351.4,80.8h1.9v1.9h-1.9zM355.5,87.9h4.4v1.6h-4.4zM341.7,79.7h1.8v1.5h-1.8zM387.8,99.6h4.3v1.9h-4.3zM352.9,84.2h3.2v1.5h-3.2zM339.6,80.1h2.2v1.6h-2.2zM387.9,100.4h1.6v0.9h-1.6zM380.9,95.5h2.6v1.3h-2.6zM339.2,75.9h3.1v0.9h-3.1zM379.9,96.7h4.1v2h-4.1zM361.2,87.8h3.3v1h-3.3zM347.4,84.2h4.1v0.9h-4.1zM374,95.2h4.1v0.9h-4.1zM391.1,107.8h1.9v1.8h-1.9zM356.6,86h1.6v1.5h-1.6zM348.3,84.9h4.3v1.6h-4.3zM339.1,77.4h3.2v1.2h-3.2zM340.1,82.2h4.2v1.5h-4.2zM388.4,105.6h2.6v1.2h-2.6zM390.1,100.3h2.5v1.9h-2.5zM389,106.5h3.1v1.1h-3.1zM356.9,84h4.3v1.8h-4.3zM364.7,87.4h3.1v1.9h-3.1zM351.7,83h1.4v1.2h-1.4zM361.1,92.5h3.4v1.7h-3.4zM365.1,87.2h3.3v1.4h-3.3zM387.5,103h3.1v1.9h-3.1zM372.4,94.3h3.1v1.6h-3.1zM358.5,89.1h3.5v1.7h-3.5zM363.6,93.2h4.4v1h-4.4zM360.5,86.9h1.5v1.1h-1.5zM372.5,93.2h4.1v1.1h-4.1zM342.6,77.9h2v1.2h-2zM382.1,101.3h2v1.4h-2zM386.5,101.9h1.5v1.9h-1.5zM342.9,80h1.9v1.6h-1.9zM361.8,86.2h4.5v1.4h-4.5zM368,93.1h4.2v0.9h-4.2zM397.8,110.4h4.3v1.6h-4.3zM349.5,82.6h2.8v2h-2.8zM363.8,87.2h2.5v1.7h-2.5zM340.3,79.1h2.9v1.9h-2.9zM387.3,102.8h3.4v2h-3.4zM388,103.3h3.5v1.7h-3.5zM362.4,86.5h2.1v1.5h-2.1zM388.5,106.5h4.1v1.9h-4.1zM379.1,98.5h2.7v1.5h-2.7zM345.5,82.1h4.1v1.4h-4.1zM347.2,78.4h1.5v1.9h-1.5zM395.6,103.6h2.4v1.4h-2.4zM380.2,99.2h1.6v1.7h-1.6zM354,86.4h2.3v1.6h-2.3zM357.3,84.9h4.2v1.1h-4.2zM375,94.4h3v1.9h-3zM342.9,78.1h2.5v1h-2.5zM359.7,90.6h1.7v0.9h-1.7zM351,87.6h2.8v1.1h-2.8zM386,103.8h3.7v1.3h-3.7zM379.7,97.8h2.1v1.1h-2.1zM365.8,92.6h3.3v1.2h-3.3zM394.5,109.3h2.1v0.8h-2.1zM389.7,104.7h1.6v1h-1.6zM351,80.4h4.5v1.7h-4.5zM390.1,100.3h3.6v1.5h-3.6zM369,96.2h1.4v1.8h-1.4zM338.4,81.1h2.5v0.8h-2.5zM381.7,100.5h4.1v1h-4.1zM395.1,105.7h2v1.4h-2zM359.5,85.9h2.9v1.5h-2.9zM378.2,100.8h3.4v1.3h-3.4zM363.7,92.2h1.2v1.1h-1.2zM376.1,97.9h4.4v1.8h-4.4zM366.3,95.4h3v1.8h-3zM382.6,103.1h2v1.7h-2zM352.6,85.9h3.8v1.8h-3.8zM350.4,84.8h3.4v1.6h-3.4zM357.9,84.3h3.6v0.8h-3.6zM350.7,82.5h3.1v1.3h-3.1zM206,80.3h4v1.6h-4zM231.6,83.2h1.9v1.4h-1.9zM238.8,95.3h2v1h-2zM227.3,63.2h1.3v1.4h-1.3zM216.8,114.7h3.6v0.9h-3.6zM232.4,80.9h2.6v1.4h-2.6zM228.6,103.6h2.4v1.8h-2.4zM233.5,89.4h3.6v1h-3.6zM242.1,72.2h1.1v1h-1.1zM218,64.9h2.4v1.1h-2.4zM229.9,110.1h1.7v1.2h-1.7zM234,117.9h2.7v1.3h-2.7zM214.1,114.6h1.4v1.4h-1.4zM239.3,74.1h4.4v1h-4.4zM210.8,107.1h1.3v1.8h-1.3zM224.6,67.5h4.5v1.9h-4.5zM232.3,118.5h4.4v1.9h-4.4zM243.2,71.1h3.7v1.5h-3.7zM216.7,110.5h1.7v1h-1.7zM230.6,89.3h3.6v2h-3.6zM212.5,67.6h3.4v1.8h-3.4zM219,80.4h3.3v1.1h-3.3zM240.9,112.4h1.2v0.8h-1.2zM206,112h4.5v0.9h-4.5zM220.1,72.2h1v1.4h-1zM214.1,107.8h4.4v1.2h-4.4zM244.5,68.3h2.8v0.8h-2.8zM239.2,91.9h2.8v1h-2.8zM208.1,67h4.5v1.8h-4.5zM231.9,100.7h4.3v1.3h-4.3zM214.8,97.5h3.4v1.6h-3.4zM213.2,79.3h3.9v1.6h-3.9zM239.8,95.1h4.1v1h-4.1zM205.5,84.1h1.7v0.9h-1.7zM229.6,105.2h3.1v1.1h-3.1zM210,80h1.2v1.2h-1.2zM218.5,60.1h1.9v1.1h-1.9zM242.6,115.1h3.1v1.9h-3.1zM216.2,84.1h3.4v1.6h-3.4zM235.9,71.4h1.5v1h-1.5zM214.8,62h4.4v1.1h-4.4zM213.5,114.8h3v1.4h-3zM213.3,93h1.6v0.8h-1.6zM210.7,63.9h2.4v1.2h-2.4zM207.1,113.1h1.2v1.1h-1.2zM213.3,82.5h3.6v1.8h-3.6zM236.7,69h2.9v1.5h-2.9zM217.5,87.7h3.4v0.9h-3.4zM236.4,104.9h3.6v0.8h-3.6zM207,111.9h3.9v1.2h-3.9zM237.1,80.3h4.1v1.9h-4.1zM241.4,82.1h3v1.6h-3zM233.8,75.1h2.2v1.2h-2.2zM217.3,94.4h3.2v1.4h-3.2zM239.5,108.1h2.9v1.2h-2.9zM222.8,75.7h4v2h-4zM235.5,120.8h2.1v1.9h-2.1zM222.7,118.8h4.2v1h-4.2zM233.9,120.2h4.5v0.9h-4.5zM225.4,97.8h3.6v1.8h-3.6zM237.6,89.5h4.4v0.8h-4.4zM228,106.1h2.5v1.6h-2.5zM245.2,118.1h3.7v0.9h-3.7zM224.9,73.7h4.4v1.6h-4.4zM212.8,76.1h2.2v0.9h-2.2zM214.9,121.5h1.7v1.6h-1.7zM215.9,80.3h3v1.3h-3zM220.4,75.9h2.7v1.7h-2.7zM235.5,88.2h1.8v1.5h-1.8zM213.8,89.6h2.9v1h-2.9zM235.3,63.3h3.4v1.1h-3.4zM216,109.2h2.6v1.6h-2.6zM207.3,68h1.3v1.1h-1.3zM225.2,79.1h2.9v1.2h-2.9zM215.6,64h3.2v1.5h-3.2zM209.8,111.7h2.5v1h-2.5zM237.3,95.7h1.3v1.9h-1.3zM237.3,80.8h2.7v1.2h-2.7zM230,95.9h3.8v1.4h-3.8zM210.3,112.6h3.5v1.2h-3.5zM212.8,94h1.2v1.1h-1.2zM235.6,94.5h1.3v0.8h-1.3zM237.6,90.1h4.1v1.2h-4.1zM237,61.7h3v1.5h-3zM215.1,79.1h2.6v1.4h-2.6zM227.5,107h1v1.1h-1zM217.5,112.1h1.2v1.5h-1.2zM218.6,80.9h2.2v1.7h-2.2zM229.4,106.8h1.4v1h-1.4zM245.5,117h1.4v1.8h-1.4zM226.7,117.6h2.6v1.6h-2.6zM217,90h3v2h-3zM221.4,97.2h3v1h-3zM242.7,78.9h3.2v1.4h-3.2zM224.5,79.3h3v1h-3zM210,77.2h2.1v1.2h-2.1zM227.2,87.4h1.1v1.9h-1.1zM244.1,80.4h1.3v1.2h-1.3zM209.8,105.7h1.2v2h-1.2zM243.7,120.5h1.2v1.1h-1.2zM230.7,65.2h3.5v1.2h-3.5zM243.5,87.4h2.7v1.8h-2.7zM212.7,115.7h2.7v1.2h-2.7zM234.4,97.8h2.5v1.2h-2.5zM236.2,74.1h1.9v0.9h-1.9zM238,64.8h2.1v0.9h-2.1zM218,121.3h1.9v2h-1.9zM243.6,70.6h1.2v1.2h-1.2zM218.8,112.7h2.6v1.5h-2.6zM211.9,76.1h2.6v1.5h-2.6zM214.4,101.9h1.9v1.9h-1.9zM212.6,89h3.2v1.5h-3.2zM205.3,81.6h3.9v2h-3.9zM239,75.1h3.4v1.9h-3.4zM215.4,87.3h2.1v1.2h-2.1zM243.7,107.3h3.5v1h-3.5zM232.7,119.8h3.8v1.9h-3.8zM229.8,119.3h3.8v1h-3.8zM237.2,105.4h3.8v2h-3.8zM241.1,95.9h2.1v1.7h-2.1zM220.6,81.1h3.7v1.6h-3.7zM213.2,90.3h2.9v1.9h-2.9zM245.4,118.2h3.9v1.7h-3.9zM223.3,69h2.8v1.4h-2.8zM220.8,92.7h2.5v1.9h-2.5zM244.2,61.2h1.3v1.9h-1.3zM241.7,75.1h2.9v1.1h-2.9zM218.9,95h2.1v0.8h-2.1zM211.8,121.7h1.6v1.5h-1.6zM225,97.1h3.7v2h-3.7zM214.1,120h1.2v1.7h-1.2zM240.7,79.2h1v1.6h-1zM210.2,77.9h3.7v1.2h-3.7zM218.8,112.4h1.6v1.9h-1.6zM219.1,97.6h2.1v1.2h-2.1zM244.1,97h3.5v1.7h-3.5zM207.9,103.2h3v0.9h-3zM214.4,91.7h3.1v1.7h-3.1zM218.5,88.6h1.2v1.6h-1.2zM218.4,82.3h1.4v1.8h-1.4zM223.2,90.4h2.6v1.8h-2.6zM229.3,104.5h1.5v1.2h-1.5zM243.2,120.6h2.3v1.5h-2.3zM208.9,96.1h1.8v1.5h-1.8zM221,71.2h1.6v1.6h-1.6zM228.6,63.9h2.4v1.3h-2.4zM239.3,97.9h3.9v1.6h-3.9zM225,94.5h3.9v1.9h-3.9zM243.6,97.4h3.8v1.5h-3.8zM232.4,67.6h2.7v1.1h-2.7zM205.3,113.3h2.2v1.6h-2.2zM207.6,61h3.1v1.3h-3.1zM228.2,88.3h3.1v1.2h-3.1zM222.7,69.9h3.2v1.3h-3.2zM210.4,88.9h1.3v0.8h-1.3zM245.2,60.9h2.1v1.9h-2.1zM214.8,92.1h1.9v1.5h-1.9zM236.9,97.7h1.8v1.2h-1.8zM244.6,73.9h1.6v1h-1.6zM240.4,86.3h3.2v1.2h-3.2zM234.1,77h3.6v1.1h-3.6zM205.4,105.9h2.5v1.8h-2.5zM243.2,77.7h3.2v1.6h-3.2zM206.4,117.3h4.2v0.9h-4.2zM243.5,95.6h1.8v1.8h-1.8zM216.6,62.5h3.6v0.8h-3.6zM227.6,116.8h1.6v1h-1.6zM211.9,60.1h3.5v1.5h-3.5zM223.6,86.1h1.9v1.4h-1.9zM245.7,112.7h1.6v1.6h-1.6zM213,96.4h4.5v1.3h-4.5zM238.4,76.9h3.7v1.4h-3.7zM226.9,72.9h2.1v1.7h-2.1zM229,105.9h3v1.3h-3zM226.5,74h3.9v0.9h-3.9zM236.5,119h1.9v1h-1.9zM218.1,82.8h1.5v1.8h-1.5zM205.6,64.8h3.9v1.9h-3.9zM242.4,94.6h4.3v1.1h-4.3zM236.4,109.5h1.4v2h-1.4zM238.9,75.6h2.3v1.7h-2.3zM213.7,72.6h1.7v1.2h-1.7zM213.8,75.8h3.8v1.4h-3.8zM218.1,102.8h2.9v1.9h-2.9zM224.8,106.2h3.6v1.9h-3.6zM219.2,88.5h1.9v1.2h-1.9zM216.2,63h3.4v1.8h-3.4zM245.4,83h2.3v1.3h-2.3zM234.1,98.2h3.3v1.5h-3.3zM236.7,93.7h1.5v1.6h-1.5zM396.2,115.6h3.3v1.4h-3.3zM451.4,109.9h3v1.1h-3zM390,104.1h2v1.3h-2zM400.3,119.1h1.3v1.5h-1.3zM446.1,118.4h4.5v1h-4.5zM465.1,103h1.8v1.5h-1.8zM503.6,117.9h3v0.8h-3zM388.6,121.2h2.2v1.2h-2.2zM449.4,120.6h4.8v1.8h-4.8zM506.5,105.1h4.5v2.1h-4.5zM410,117.6h1.1v1.5h-1.1zM504.9,112.2h4.6v1h-4.6zM430.6,110.6h2.3v1.4h-2.3zM466.9,107.4h4.1v1.4h-4.1zM412.7,105.8h4.1v2h-4.1zM437.6,103h4.2v1.1h-4.2zM412.6,110.4h3.5v1h-3.5zM393.4,107.6h3.5v1.4h-3.5zM488.5,116.5h2.3v2.1h-2.3zM493.5,114.5h2.5v1.2h-2.5zM391.9,114.2h1.1v1.5h-1.1zM452.1,116.6h4.8v1.7h-4.8zM483.3,116.4h2.8v2.2h-2.8zM415,110.9h1.1v1.5h-1.1zM397.2,111.2h4.4v0.9h-4.4zM392.6,109.7h3.1v1.9h-3.1zM398.5,114.4h1.7v1.3h-1.7zM402.3,109.4h3.8v2.2h-3.8zM418.6,106.5h4.9v2h-4.9zM395.1,107.8h5v2h-5zM500.5,112.9h4.8v1.1h-4.8zM435.2,107h2.8v1.3h-2.8zM440.1,102.9h3.9v1.1h-3.9zM454.4,104.6h1v0.9h-1zM499.3,116.4h4.3v2h-4.3zM433.7,118.3h4.1v1.1h-4.1zM498.9,104.2h3.4v1.5h-3.4zM443.6,112.9h2.3v2.1h-2.3zM395.6,105.9h3.7v0.9h-3.7zM495.2,112.9h3.4v0.9h-3.4zM403.4,118.3h1.2v2.1h-1.2zM490.1,112.9h1.9v2h-1.9zM465.2,112.5h4.8v1.8h-4.8zM441.5,116.1h2.1v1h-2.1zM499,103.4h4v1.1h-4zM439.1,113.7h4.7v1.2h-4.7zM391.3,108.6h4.5v2.1h-4.5zM473.6,116.9h3.9v1.1h-3.9zM464.8,108.9h3v1.2h-3zM476.3,117.1h2.6v1.6h-2.6zM406.9,102h1.6v2.1h-1.6zM392.1,115.7h3.3v1h-3.3zM418,121h3.2v0.9h-3.2zM468.8,113.4h3.2v2.2h-3.2zM427,115.1h1.3v0.9h-1.3zM425.8,113.9h5v2h-5zM399.3,110.8h2.3v2.1h-2.3zM410.3,120.7h3.1v1.8h-3.1zM505.2,105h1.9v1.1h-1.9zM430.9,116.7h1.4v1.6h-1.4zM425.4,110.7h1.4v1.4h-1.4zM459.7,110.7h3.1v0.9h-3.1zM415.2,116.8h1.5v1.4h-1.5zM401.6,121.7h1.7v2h-1.7zM486.2,121.4h2v1.4h-2zM444.1,109.8h2.6v1.1h-2.6zM440.6,118.9h1v1.1h-1zM430.7,118.5h3.7v1.1h-3.7zM463.9,104.7h3.1v0.8h-3.1zM389.4,119.5h1.3v2.1h-1.3zM475.4,106.9h2v1.1h-2zM394.2,114.1h2.8v1.9h-2.8zM390.3,108.4h4.9v2h-4.9zM487.4,105.8h4.9v1.6h-4.9zM442.5,120.9h2.4v1.4h-2.4zM390.5,106.8h4.4v1.9h-4.4zM479.7,104.6h3.6v0.9h-3.6zM495.8,106.1h1.1v1.6h-1.1zM403.8,102.2h2v0.9h-2zM398.4,117.6h2.1v1.6h-2.1zM425.7,110.4h4.4v1.6h-4.4zM441.5,120h1v1.4h-1zM468.5,113.9h3.5v2h-3.5zM437.7,102.7h4v1h-4zM435.2,119.6h3.1v1.1h-3.1zM416.4,103.5h3.8v1.9h-3.8zM436.5,119.4h3.1v2.1h-3.1zM505.6,104.9h3.1v1.4h-3.1zM496.4,115.6h4.3v0.9h-4.3zM430,121.4h1.6v1.9h-1.6zM448,110.2h1.5v1h-1.5zM392.3,119.2h2.4v0.9h-2.4zM393,102.2h4.4v2h-4.4zM427.6,109.1h4.3v0.9h-4.3zM479.1,104h4.2v1.2h-4.2zM406.6,102.2h1.5v1.9h-1.5zM464.3,112.9h3v2h-3zM499.4,109.7h1.4v1.5h-1.4zM496.9,102.2h3.4v1.9h-3.4zM412.3,113.1h1.5v1.9h-1.5zM427.9,117.1h4.8v1.7h-4.8zM426.1,119.3h3.5v1.3h-3.5zM431.3,103.4h3v1.9h-3zM436,116.8h2.8v1.4h-2.8zM410,104.4h4.6v2h-4.6zM466.4,116.6h1.3v1.1h-1.3zM419.9,103.9h1.7v2.1h-1.7zM458.9,104.7h3.6v1h-3.6zM395,119.7h4.5v1.2h-4.5zM413.3,121.8h3.4v1.1h-3.4zM469.9,110.3h4.9v0.8h-4.9zM456.4,109.5h4v0.8h-4zM390.1,120h1.2v1.3h-1.2zM420.7,109.4h2.7v1h-2.7zM435.4,114.2h4.9v0.9h-4.9zM490.2,109.1h3.8v1.8h-3.8zM474.8,108.1h4.9v0.9h-4.9zM480.9,104.8h4.5v1.9h-4.5zM391.4,105.7h1.2v2h-1.2zM455.8,107.6h2.2v2.1h-2.2zM472.8,117h1.1v2h-1.1zM419.9,110.2h2v0.8h-2zM485.7,104.6h4.6v1.2h-4.6zM483.9,111.6h4.9v1.2h-4.9zM471.8,118.9h1.2v2.2h-1.2zM452.7,119.5h2.6v1.8h-2.6zM430.2,109.9h2.8v2.1h-2.8zM387.6,111.6h3.8v1.6h-3.8zM403.2,114.1h1.8v1.5h-1.8zM388.8,102.7h2.2v1.4h-2.2zM460.4,107.1h4.7v1.8h-4.7zM505.1,117.9h2.7v1.4h-2.7zM421.7,118.9h3.5v2.1h-3.5zM425.2,112.4h4v2h-4zM436.6,117.7h1.9v2h-1.9zM475,121.8h2.6v2h-2.6zM395.3,118.3h2.8v1.9h-2.8zM420.4,115.3h2.1v1.7h-2.1zM432.8,102.5h1.6v1.1h-1.6zM449.9,111h2.4v1.1h-2.4zM412,114.2h1.6v0.9h-1.6zM443.7,107h3.5v1.8h-3.5zM485.9,109.9h2.2v1.4h-2.2zM502.6,110.5h1.9v1h-1.9zM434.5,112.9h3.2v1.3h-3.2zM425.2,116.1h4.1v1.6h-4.1zM402.7,119h2.3v1.9h-2.3zM405.9,117.2h2.4v1.1h-2.4zM450.1,117.2h1.9v0.9h-1.9zM419,121.4h1.5v1.5h-1.5zM455.3,109h1.3v1.9h-1.3zM490.8,112.1h4.4v1.8h-4.4zM458.6,116.3h2.5v1.8h-2.5zM460.9,121.2h1.7v1.9h-1.7zM386.6,112h4.8v1.6h-4.8zM385.8,113h4.7v1.6h-4.7zM484.8,120.1h2.3v1.1h-2.3zM484.8,102.3h3.7v1.5h-3.7zM492.7,119.3h5v2.1h-5zM479.8,103.6h4.6v0.9h-4.6zM423,111.8h4v2.1h-4zM463.3,114.1h4.2v1.2h-4.2zM391.3,103.8h4.9v2.2h-4.9zM442.2,113.1h4.8v1.3h-4.8zM431.7,116.3h1.6v1.3h-1.6zM480,107.1h1.6v2.2h-1.6zM392.9,116.5h3.9v0.9h-3.9zM443.1,117.6h4.5v1.2h-4.5zM425.8,112.3h3.3v1.2h-3.3zM457.2,105.1h2.5v1.4h-2.5zM466.9,114.9h2.8v1.7h-2.8zM431.3,112.5h2.8v2h-2.8zM445,103.4h3.1v2.1h-3.1zM461.5,110.7h3.9v1.9h-3.9zM498.7,107.1h1.9v1h-1.9zM499.5,118.9h4.9v1.4h-4.9zM467,105.6h1.8v0.8h-1.8zM393.5,117.9h1.8v1.5h-1.8zM505.8,116.5h1.2v1.9h-1.2zM391.7,119.8h1.3v1.1h-1.3zM466.6,116.7h4.5v1h-4.5zM478,108.3h4.6v1h-4.6zM485.7,111h3.2v1.7h-3.2zM490.3,118h1.5v1.7h-1.5zM436,107h2.5v0.9h-2.5zM499.6,108.3h3.3v1.3h-3.3zM502.8,113.4h2.5v1h-2.5zM501.2,121.9h2.1v1.4h-2.1zM389,120.5h2.6v0.8h-2.6zM422.5,116.1h3v1.7h-3zM431.4,113.9h4.7v2h-4.7zM407.3,110.2h2.9v0.9h-2.9zM502,119.5h1.5v1.8h-1.5zM486.2,120.4h1.7v1.6h-1.7zM434.2,115.4h3.1v1.9h-3.1zM484.1,118.3h4.7v2.1h-4.7zM463,114.1h1.9v1h-1.9zM410,103.9h3.8v1.6h-3.8zM448.7,104.6h2v1.7h-2zM486.9,110h2.7v1.4h-2.7zM412.5,116.1h1.4v1.6h-1.4zM472.2,115.8h1.7v0.9h-1.7zM397.2,114.1h1.4v1.7h-1.4zM446.2,118h1.4v1.7h-1.4zM481.5,103.8h3.1v1.8h-3.1zM397.8,119h2.5v1.4h-2.5zM391.4,116.1h3.5v1.8h-3.5zM416,116.1h3.4v1.4h-3.4zM504.9,117.6h3.3v1.3h-3.3zM406.6,118.5h2.9v1h-2.9zM475.9,118.7h3.6v2.2h-3.6zM436.5,109.7h5v2h-5zM404.1,108.6h1.9v2.2h-1.9zM446.7,110.8h2.7v1.3h-2.7zM407.6,114.2h4.7v1h-4.7zM464.9,106.9h4.5v1h-4.5zM398.4,105.6h3.9v1.3h-3.9zM485.7,114.5h4.5v1.8h-4.5zM504.5,120h2.1v1.5h-2.1zM458.8,107.5h2.7v1h-2.7zM446.2,120.4h1.2v1.9h-1.2zM438,113.4h4.6v1.6h-4.6zM490.3,115.4h2.7v1h-2.7zM439,113.3h1.9v1.3h-1.9zM469.4,111.2h3.6v1.4h-3.6zM392.7,105.4h1.7v1.1h-1.7zM445.6,115.8h3.1v1.6h-3.1zM410.5,110h1.5v0.8h-1.5zM455.8,118.6h4.7v1.6h-4.7zM402.5,102.2h1.7v1.4h-1.7zM453.7,111.9h2v1.7h-2zM386,113.5h4.8v1.3h-4.8zM456.2,117h1.5v2h-1.5zM460.8,114h2.6v1.6h-2.6zM450.5,105.5h2.1v1.5h-2.1zM400.8,121h4.4v1.2h-4.4zM488,107.3h2.8v1.5h-2.8zM399.3,117.1h3.5v1h-3.5zM441.7,103.5h4.2v1.7h-4.2zM483.3,118.1h4.1v0.8h-4.1zM479.7,114.2h2.7v1.6h-2.7zM488.7,115.9h2.3v1.5h-2.3zM501.9,105.7h2.1v1.4h-2.1zM398,120.2h3.5v2h-3.5zM391.3,104h2v1.4h-2zM470.9,108.2h4.1v1.8h-4.1zM388.5,118.1h4.5v2h-4.5zM395.7,105h1.9v1h-1.9zM419.5,108.4h4.2v1.2h-4.2zM503.7,106.8h1.9v1.7h-1.9zM464.5,114.2h1.5v0.9h-1.5zM429.2,110.2h3.1v2.1h-3.1zM444.7,103.7h3.5v1.2h-3.5zM395.8,110.4h3.5v1h-3.5zM427.8,108h2.3v1.1h-2.3zM490.3,116.2h1.9v2h-1.9zM397.2,115.2h1v1.7h-1zM507.8,111.7h1.1v1.5h-1.1zM430,102.9h3.1v1.4h-3.1zM438.3,108h4.9v1.4h-4.9zM463.8,103h2.2v1.1h-2.2zM465.7,115.5h4.2v2h-4.2zM458.2,105.6h3.9v1.5h-3.9zM424.3,103.7h3.6v1.3h-3.6zM459,108.4h4.5v1.3h-4.5zM399,114.8h3.2v1.2h-3.2zM506.7,103.8h2.4v1.4h-2.4zM468.7,107.7h1.2v1.4h-1.2zM406.1,104.6h1.6v1.4h-1.6zM426.8,103.9h2.7v1h-2.7zM503.6,119.9h3.3v1h-3.3zM494.3,108.5h3.1v1.5h-3.1zM453.4,104.8h3.7v1h-3.7zM397.2,121.9h2.5v1.6h-2.5zM394.4,106.3h3v1.2h-3zM391.1,108.5h2.4v1.7h-2.4zM453.1,111.6h1.5v1.2h-1.5zM490.4,102.1h1.2v1.8h-1.2zM492,120.8h2.8v1.2h-2.8zM478.7,121.3h4.8v1.6h-4.8zM484.1,115.8h3.8v2.1h-3.8zM421.6,104.6h4.9v1.8h-4.9zM476.7,104.6h1.8v2h-1.8zM495.6,115.7h3.2v1.3h-3.2zM440.8,106.3h3v1.5h-3zM407.1,109.4h2.3v1.3h-2.3zM441.3,121.1h4.6v2h-4.6zM390.2,113.5h1.7v1h-1.7zM456.5,106.7h4.1v1.2h-4.1zM409.5,102.7h2.8v1.9h-2.8zM451.7,103.6h2.9v0.9h-2.9zM445.6,112.2h1.7v1.5h-1.7zM499.2,105.2h2v1.5h-2zM405.6,117.9h2.9v0.9h-2.9zM477,109.5h4.8v0.9h-4.8zM452.2,107.2h2v0.9h-2zM491.5,104.3h1.5v1.5h-1.5zM490,104h3.7v1.5h-3.7zM417.7,107.3h4.5v1.2h-4.5zM499,116.2h1.4v2h-1.4zM420.9,113.6h1.3v1.2h-1.3zM481.3,105h1v1.9h-1zM413.9,111.3h2v1h-2zM467.7,108.5h4.5v1.4h-4.5zM489.7,109.9h2.7v0.9h-2.7zM386,121.1h4.2v1.1h-4.2zM457.8,106.7h3.6v2h-3.6zM453.6,110.9h1.6v1.5h-1.6zM428.1,110.7h3v1.6h-3zM423.9,119.5h4.4v1h-4.4zM474.7,106.3h2.7v1.9h-2.7zM426.8,102h4.5v1.9h-4.5zM500.5,111.4h4.7v2.1h-4.7zM424.4,102.2h2.1v1.2h-2.1zM414.2,115.2h1.5v1.5h-1.5zM446,115.1h3.4v1.7h-3.4zM476.1,114.8h2.9v1h-2.9zM409,110.7h1.4v1.4h-1.4zM390.3,108.9h4.9v0.8h-4.9zM473.3,105.4h4.1v1.2h-4.1zM497.8,118.3h2.6v2.1h-2.6zM456,107.9h4.2v1h-4.2zM435.5,102.7h2.6v1.8h-2.6zM479.2,104.3h1.6v1h-1.6zM426.2,112.5h2v1.9h-2zM403.2,116.1h4.9v1h-4.9zM494.8,107.6h4.1v1.2h-4.1zM448.9,115.3h3.9v1.7h-3.9zM405.5,111h4.6v0.8h-4.6zM428,112.1h3.4v0.9h-3.4zM425.2,116.2h1.7v2.2h-1.7zM495.2,106.6h4.3v2.1h-4.3zM423.8,121.9h2.7v2h-2.7zM430.1,116.5h1.5v1.6h-1.5zM408.7,102.8h1.4v1.1h-1.4zM401,121.4h1.6v2h-1.6zM441.3,116h4.3v1.6h-4.3zM433.5,113.3h1.8v1.4h-1.8zM386.7,121.2h1.1v2.1h-1.1zM391.3,111.3h4.6v2.1h-4.6zM389.4,112.6h4.2v1.6h-4.2zM461,116.5h4.8v1.5h-4.8zM462.1,105.1h4.6v0.8h-4.6zM448.6,108.5h3.7v1.6h-3.7zM492.2,114.2h3.6v2.2h-3.6zM440.3,107.8h1.4v1.5h-1.4zM442.3,116h1.1v2h-1.1zM421,111.2h3.6v1.1h-3.6zM408.1,113.9h3.4v1.9h-3.4zM448.2,110.1h2.8v1.4h-2.8zM420.8,117.8h1.1v1.5h-1.1zM409.4,108.7h4.9v1h-4.9zM483.5,117.2h2.3v0.9h-2.3zM411.3,121.8h2.4v1.5h-2.4zM408,120.5h4.7v0.9h-4.7zM486.8,115.7h2.5v0.9h-2.5zM507.8,109.6h1.6v1.7h-1.6zM478.7,116.4h1.6v2.1h-1.6zM493.3,118.7h3.6v1.6h-3.6zM452,110.9h2.6v1.5h-2.6zM425.4,102.5h2.3v1.5h-2.3zM413.2,117.5h2.1v2h-2.1zM404.2,103.3h4.3v1.1h-4.3zM460.7,110h3.3v1.9h-3.3zM475.9,106.5h4.1v1.7h-4.1zM413.9,103.6h4.3v1.7h-4.3zM399.2,116.8h1.4v1.4h-1.4zM451.5,114.6h2.3v1.2h-2.3zM392.6,113.2h3.9v1.9h-3.9zM469.7,116.5h4.3v0.8h-4.3zM428.6,118.1h3.3v1.5h-3.3zM431.3,104h3.7v1.5h-3.7zM431.3,120.3h1.7v1.7h-1.7zM417.5,112h2v1h-2zM484.5,115.4h2.9v0.9h-2.9zM458,121.2h3.4v1.5h-3.4zM391.5,121.8h3.8v1.2h-3.8zM422.2,108.1h2.3v1.2h-2.3zM480,118.3h4.3v1.3h-4.3zM477.7,116.2h3.6v1.3h-3.6zM496.9,118.7h4.8v1.6h-4.8zM413.9,107.6h2.2v1.6h-2.2zM442,121.9h2v1.7h-2zM425.8,112.6h1.4v1.8h-1.4zM409.5,107.4h2.9v1.4h-2.9zM442.4,118.3h4.3v1.2h-4.3zM417,104h2.3v1.5h-2.3zM388.2,119.6h3.5v1.3h-3.5zM438.9,118.8h1v1.6h-1zM437.3,115.5h4.5v1.8h-4.5zM430.1,121.9h3.7v1.3h-3.7zM493.2,119h4.7v1h-4.7zM507.4,119.3h3.1v2h-3.1zM475.1,102.2h4.5v1.6h-4.5zM400.4,109.8h2.2v2h-2.2zM401.7,109.8h4.8v1h-4.8zM474.6,112.6h2.6v2.1h-2.6zM503.6,121.8h2.1v1.2h-2.1zM475.4,103.5h1.7v0.9h-1.7zM456.7,108.3h3.2v1h-3.2zM415.8,103.1h4.9v2.2h-4.9zM422.6,113.3h4.8v1.6h-4.8zM475.9,103.8h2.1v0.9h-2.1zM424.3,113.6h1.5v1.1h-1.5zM398.3,120.4h4v0.9h-4zM448.9,104.7h4.6v1.7h-4.6zM432.4,114.1h3v2h-3zM485.8,121.4h4.7v1.9h-4.7zM448.3,112.8h3.4v1.3h-3.4zM491.4,113.7h4.6v1.4h-4.6zM463.3,112.6h3.9v1.4h-3.9zM472.9,112.6h1.5v0.8h-1.5zM407.3,117.1h3.8v2.1h-3.8zM476.3,103.4h2.6v1.4h-2.6zM433.3,118.7h3.5v1.7h-3.5zM430.7,102.7h1.1v1h-1.1zM492,105h1.6v1.9h-1.6zM502.7,102.6h4.6v1h-4.6zM392.3,121.4h1.7v1.2h-1.7zM428.4,110.8h3.5v2.2h-3.5zM505.3,102.4h3.5v1.9h-3.5zM480.4,104.4h2.1v1.5h-2.1zM448.9,106.9h3.2v1.3h-3.2zM443.5,114.2h4.6v1h-4.6zM462.7,102.4h1.1v1.6h-1.1zM427.9,105.1h1.1v1.8h-1.1zM403.4,121.4h3.7v0.9h-3.7zM400.9,113.1h4.2v1.3h-4.2zM403.2,118h2.9v1.4h-2.9zM399.9,105.4h1.4v2.1h-1.4zM410.3,107.8h3.3v0.9h-3.3zM396.8,111.5h4.6v1.5h-4.6zM456.2,105.7h3.7v1.9h-3.7zM495.9,106.7h2.6v1.5h-2.6zM501.5,121.3h5v1.8h-5zM483.9,117.2h4.6v0.8h-4.6zM415,103.4h3.7v0.9h-3.7zM498.5,113.6h4.9v0.9h-4.9zM396.5,121.5h4.3v1.1h-4.3zM454.7,114.6h3.4v1.6h-3.4zM407.7,112.2h3.7v1.7h-3.7zM397.1,116.3h3v2h-3zM444.6,108.8h2.2v1.6h-2.2zM427.2,119.1h3.9v1h-3.9zM431.9,113.9h2.1v1.9h-2.1zM437.2,106h2.2v1.2h-2.2zM478.5,107.9h3.6v1.7h-3.6zM385.3,104.4h2.1v1.8h-2.1zM401.7,107.7h1.1v1.8h-1.1zM423,119.3h1.2v1.9h-1.2zM429.4,114.1h3.9v1.9h-3.9zM449.9,102.2h1.7v1.2h-1.7zM431.6,110h4.9v0.9h-4.9zM454.5,114.4h4.9v1.8h-4.9zM424.1,103.3h1.3v2.1h-1.3zM472.4,113h2.4v1.2h-2.4zM400.7,110.4h1.9v1h-1.9zM419.2,104.2h4.6v1.1h-4.6zM403.3,121.1h3.5v1.1h-3.5zM482.6,104.8h3.8v1.1h-3.8zM423.4,121.7h3.6v1h-3.6zM483.4,118.6h1.4v2h-1.4zM420.8,106.5h2.1v1h-2.1zM476.9,103.8h4.5v1.8h-4.5zM455.2,105.2h2.9v1h-2.9zM394.4,119.9h5v1.9h-5zM484,107.1h4v1.8h-4zM455.7,114.2h3.2v0.9h-3.2zM471.9,117.1h3.8v1.5h-3.8zM457.6,118.7h2.7v1.9h-2.7zM435.5,118.3h3.9v1.6h-3.9zM420.9,105.8h2.1v1.5h-2.1zM467.7,118.5h3.3v1.5h-3.3zM481.6,112.8h4.8v1.5h-4.8zM459.5,113h4.8v1.1h-4.8zM424,111.3h5v1.9h-5zM493.4,120.3h4v1.8h-4zM436.5,108.8h4.7v1.4h-4.7zM409.8,107.8h2.5v1.4h-2.5zM389.7,105.7h5v0.9h-5zM471.1,121.6h4.9v1.1h-4.9zM434.3,111.7h2.1v2h-2.1zM480.2,105.4h1.6v1.6h-1.6zM471.5,108.6h2.1v1.3h-2.1zM460.5,107.7h2v0.9h-2zM425.1,119.7h3.2v1.6h-3.2zM488.2,118.4h4.2v0.9h-4.2zM416.1,103.7h5v1.3h-5zM479,110.6h1.3v1.4h-1.3zM404.1,110.1h4.3v1.9h-4.3zM415.7,114.9h1.1v1h-1.1zM445.9,102.6h2.7v1.4h-2.7zM468.6,111.2h2.1v2.1h-2.1zM464.1,109.7h4.6v0.8h-4.6zM455.9,105.2h4.9v1.5h-4.9zM460.5,115.6h1.5v0.9h-1.5zM454,103.1h4.2v1.6h-4.2zM452.9,108.3h2.1v2.1h-2.1zM389.1,113.1h2.4v1h-2.4zM505.3,102h4.4v1.5h-4.4zM436.9,103.2h3.8v1.4h-3.8zM450.6,120.9h2.3v1.1h-2.3zM456,103h1.7v2h-1.7zM397.3,104.3h3.6v1.2h-3.6zM399.9,113.7h2.8v2.1h-2.8zM462.4,102.2h3.9v2.2h-3.9zM482.8,119.7h1.6v1h-1.6zM425.2,102.7h2v1h-2zM485.1,115.8h3.4v2.1h-3.4zM396.1,103.5h2v1.9h-2zM471.2,118.3h2.5v2.1h-2.5zM431.4,112.3h1.2v1.9h-1.2zM430.8,117.6h4.9v2h-4.9zM488.8,116.7h1.8v1.2h-1.8zM399.6,113.4h2.2v1h-2.2zM398.3,106.1h3.2v2h-3.2zM499.5,114.6h2.2v1.1h-2.2zM482.4,105.6h3.6v1.5h-3.6zM423.2,103.9h4.3v2h-4.3zM411.7,120.6h3.2v2h-3.2zM203.4,110.8h1.8v1h-1.8zM165.9,73.2h1.7v1.2h-1.7zM202.7,103.3h3.3v1.3h-3.3zM166.1,100.2h1.6v2h-1.6zM189.1,102.5h3.8v1h-3.8zM169.4,96.7h1.2v0.8h-1.2zM186.9,105.1h1.9v1.4h-1.9zM198.6,94.4h1.2v1.2h-1.2zM170.2,62.9h1.7v1h-1.7zM195.2,117.7h1.9v1.2h-1.9zM202.8,118.4h4.1v1.9h-4.1zM178.1,86h3.6v1.9h-3.6zM209.3,102h1.8v1.8h-1.8zM205.9,74.1h2.5v1.3h-2.5zM165.7,73.3h4.5v1.9h-4.5zM179.5,65.5h2v1h-2zM201.5,111.3h4v1.5h-4zM201.5,76.8h1.9v2h-1.9zM196,77h2.8v0.9h-2.8zM197.4,62.9h2.7v1.1h-2.7zM148,105.3h2.1v1.8h-2.1zM159,95h2.5v1.4h-2.5zM147.9,88.2h3.4v1.1h-3.4zM149,91h4.2v1.9h-4.2zM153,78.2h2.1v1.3h-2.1zM154.3,105.5h3.4v1.2h-3.4zM140.7,91.7h2.1v2h-2.1zM137,82.1h2.3v1.3h-2.3zM130,105.7h3.7v1.2h-3.7zM136.8,95.7h1.9v1.9h-1.9zM153.4,91.4h3.2v1.3h-3.2zM137.4,92.9h1.1v1h-1.1zM462.3,123.6h1.9v1.1h-1.9zM409.5,135h1.7v1.9h-1.7zM472.2,144.1h4.1v1.9h-4.1zM435,154.5h3.1v1.3h-3.1zM480.8,133.7h3.4v1.1h-3.4zM448.6,144.4h2.2v0.9h-2.2zM480.4,136.4h2v1.4h-2zM509.8,135.1h4v1.5h-4zM425.6,138.5h2.3v1.8h-2.3zM498.5,122.4h4.4v1.8h-4.4zM467.2,131h2.2v1.7h-2.2zM434.5,155.4h3.7v1h-3.7zM435.8,151.2h1.1v1.1h-1.1zM449.3,148.1h4v1.4h-4zM475.4,126.7h2.1v0.9h-2.1zM486.3,150.1h3.9v1.8h-3.9zM504.1,138.5h4.3v1.6h-4.3zM399.7,148.8h4.3v1.3h-4.3zM427.2,144.1h2.3v1.1h-2.3zM498.1,122.8h1.6v1.9h-1.6zM466.1,131.6h2.6v1.6h-2.6zM505.7,151.6h2.5v1.6h-2.5zM496.6,129h3.1v2h-3.1zM470.2,122h2.8v0.9h-2.8zM183.8,124.8h1.6v2h-1.6zM188.7,122.4h2v1.2h-2zM221.2,130.5h3.6v1.1h-3.6zM230.9,130h4.2v1.3h-4.2zM278.5,122.9h3.8v2h-3.8zM249.9,123.5h3.3v0.8h-3.3zM265.8,125.9h2.4v1.2h-2.4zM232,133.2h3v0.9h-3zM220.8,122.7h3.6v1.8h-3.6zM249.2,129h4.4v0.9h-4.4zM201.3,60.3h1v1.2h-1zM212.7,64.9h2.5v0.9h-2.5zM195.2,68.9h3.9v1h-3.9zM206.7,60.9h1.4v1h-1.4zM232.6,68.7h4.5v0.9h-4.5zM239.6,76.9h2.9v1.2h-2.9zM174.1,60.4h3.5v1.1h-3.5zM222.3,74.4h3.1v1.8h-3.1zM184.7,69.6h4.2v1.6h-4.2zM241,73.3h1.8v1.7h-1.8zM187,71.9h3.5v1.3h-3.5zM239.5,75.4h2.3v0.9h-2.3zM217.9,73.2h3.7v1.3h-3.7zM188.5,70.8h2.3v0.8h-2.3zM221.9,76h3.5v0.9h-3.5zM240.8,65.4h1.7v1.2h-1.7zM205.8,75.1h2.1v1.6h-2.1zM190.8,67.1h3.5v1.9h-3.5zM237.1,68.5h2.4v1.7h-2.4zM229.2,66.1h3.8v1.6h-3.8z" fill="#8b6fd6"/>
<rect x="140" y="87" width="14" height="1.8" fill="#8b6fd6"/>
<rect x="128" y="96" width="6" height="1.8" fill="#8b6fd6"/>
<rect x="187" y="72" width="8" height="1.8" fill="#8b6fd6"/>
<rect x="205" y="110" width="10" height="1.8" fill="#8b6fd6"/>
<rect x="245" y="98" width="12" height="1.8" fill="#8b6fd6"/>
<rect x="163" y="104" width="10" height="1.8" fill="#8b6fd6"/>
<rect x="178" y="80" width="6" height="1.8" fill="#8b6fd6"/>
<rect x="150" y="73" width="5" height="1.8" fill="#8b6fd6"/>
<rect x="230" y="124" width="10" height="1.8" fill="#8b6fd6"/>
<rect x="262" y="127" width="8" height="1.8" fill="#8b6fd6"/>
<path d="M252,72h8.3v1.5h-8.3zM238.3,77.4h2.3v1h-2.3zM234.3,107.5h8.3v2.3h-8.3zM276,74.4h8.2v2.4h-8.2zM251,68.5h4.4v2.1h-4.4zM238.2,76.3h3.8v1.5h-3.8zM286.5,77.2h3.3v1.8h-3.3zM307.4,72.4h8.5v2.3h-8.5zM234.4,85h3.3v2.2h-3.3zM275.6,71.6h2v2.1h-2zM239.5,82.2h8v1.4h-8zM312.6,73.3h4v2.4h-4zM239.9,102.5h7.3v2.4h-7.3zM260.3,74h7.9v2.1h-7.9zM228.6,91.9h8.6v2.7h-8.6zM324.9,62.5h5.2v1.8h-5.2zM294.2,70.2h3.5v2.2h-3.5zM317.4,65h3.3v2.5h-3.3zM226.3,95.3h3v2.7h-3zM238.5,97.6h4.3v2.1h-4.3zM236.7,83.4h6v1h-6zM295.2,68.9h3.8v2.1h-3.8zM236.4,90.3h5.9v2.4h-5.9zM324.4,61h7.2v1.8h-7.2zM235.4,74.7h7.9v1.3h-7.9zM325.9,63.2h5.4v2.5h-5.4zM235.3,83.6h4.2v1.6h-4.2zM236.5,107h6.6v2.6h-6.6zM322.3,68.4h2.2v2h-2.2zM324.5,74.8h3.7v2.4h-3.7zM295.1,77.7h2.1v2h-2.1zM260,69.2h6.8v1.6h-6.8zM307.9,72.5h7.1v1h-7.1zM250.8,75.3h8.9v2.5h-8.9zM230.5,99.3h4v2.3h-4zM268.5,69.5h5.7v1.2h-5.7zM240.5,112.1h7.6v2.5h-7.6zM323.1,66.5h2.2v2.8h-2.2zM244.9,78.9h5.4v2.1h-5.4zM320.7,64.3h7.5v1.6h-7.5zM340.8,76.8h4v2.4h-4zM327.6,64.7h2.8v1.1h-2.8zM236.5,99h5v1.4h-5zM248.3,75.4h3.7v1.4h-3.7zM236.3,82.6h2.1v1.3h-2.1zM235.3,83.3h5.4v1.1h-5.4zM334.2,69.2h5.5v2.6h-5.5zM246.2,73.9h5.5v2.1h-5.5zM237.8,96.3h8.7v1.4h-8.7zM277,72.4h8.7v2.5h-8.7zM240.2,83.2h2.1v2.2h-2.1zM231.1,98.8h2.3v1.1h-2.3zM291.3,69.6h8.3v2.3h-8.3zM287.5,70.6h2.1v2.4h-2.1zM324,76h7.1v1.6h-7.1zM306.4,77.9h7.7v1.2h-7.7zM319.4,76.1h5.1v2.8h-5.1zM238,75h6.5v1.7h-6.5zM294.1,67.1h2.5v1.6h-2.5zM277.8,73.5h7v2.7h-7zM301.7,66.9h4v1.4h-4zM255.7,77.1h3.3v2.3h-3.3zM236.5,102.5h8.5v1.6h-8.5zM241,91.9h8.5v1.6h-8.5zM318.6,75.7h3v2.2h-3zM233.4,83.3h7.6v2.2h-7.6zM271.1,67.6h2.6v2h-2.6zM306.3,71.1h7.1v1.2h-7.1zM315,66.6h6.3v2.1h-6.3zM236.2,79.2h4.8v1h-4.8zM264.6,74.6h7.1v2.2h-7.1zM232,84.6h2.6v2.1h-2.6zM321.5,77.6h2.6v1.6h-2.6zM279.6,69.7h7.4v2.5h-7.4zM224,81.3h4.2v1.8h-4.2zM234.8,100h3.3v1.9h-3.3zM334.9,61.3h7.2v2.7h-7.2zM317.9,69.3h8v1h-8zM261.7,71.6h4.1v1.3h-4.1zM244,70.8h7.6v1.5h-7.6zM236.7,99.2h3.4v2.3h-3.4zM231.1,105.9h5v2.1h-5zM235,85.5h3.7v1.5h-3.7zM334.7,62.2h6.9v2.3h-6.9zM233.3,79.4h6v2.5h-6zM268.3,72.1h7.1v2.4h-7.1zM238,92.2h3.3v1.8h-3.3zM322.3,65.1h5.8v1.9h-5.8zM237.4,102.3h8.5v1.8h-8.5zM324,69.2h6.9v2.4h-6.9zM323,69.2h5.8v2.7h-5.8zM329.9,77.5h7.5v2.4h-7.5zM275.8,71.7h7.9v1.9h-7.9zM240,78.3h7.6v2h-7.6zM231.2,80.6h7v1.1h-7zM306.4,66.1h7.2v2.6h-7.2zM325.8,72h2.6v1.1h-2.6zM291.3,77.5h2.5v2.6h-2.5zM328.7,72.5h2.8v1.1h-2.8zM237.2,88.6h3.1v2.3h-3.1zM260.6,77.8h5.8v1.7h-5.8zM329.6,72.8h6.5v2.3h-6.5zM226.3,83.5h7.1v1.3h-7.1zM319.8,75h4.5v2.1h-4.5zM338.1,75.5h5.9v2.3h-5.9zM225.8,100.6h5.1v2.4h-5.1zM228.4,90.9h7.1v1.4h-7.1zM267,77.9h9v2.7h-9zM303.9,76.5h3.7v1.4h-3.7zM329.9,77.2h8.6v2h-8.6zM280.4,71.6h8.2v2.6h-8.2zM225.9,100.6h4.4v2.2h-4.4zM305.7,76.9h5.8v2.5h-5.8zM324.6,65h5v2h-5zM280.1,75.5h3.7v1.1h-3.7zM326.3,77.9h7.8v1.8h-7.8zM270.8,74.9h8.2v1.9h-8.2zM241.3,91h5.9v2.7h-5.9zM225,86.8h4.5v1.4h-4.5zM270.5,68.6h5v2h-5zM244.7,88.4h8.2v2.1h-8.2zM245.9,76.4h7.9v2.3h-7.9zM231.7,112.2h5.8v1.1h-5.8zM298.3,70.4h6.2v1.5h-6.2zM232.5,95.8h6.4v2h-6.4zM309.9,67.2h3.9v1.3h-3.9zM233.5,74.1h2.3v1.7h-2.3zM302.1,70.7h3.3v1.2h-3.3zM332.9,65.8h5.3v1.1h-5.3zM258.6,73.9h5.8v2.2h-5.8zM243.1,90h3.3v2.3h-3.3zM255.6,72.8h7.5v1.7h-7.5zM326.9,73.9h8.3v2.7h-8.3zM301.5,72.1h8.8v1.5h-8.8zM229.7,104.3h2.2v2.4h-2.2zM332.6,66.3h4.7v2.8h-4.7zM320.4,72.5h4.7v2.2h-4.7z" fill="#fff" fill-opacity="0.8"/>
<path d="M325.9,80.6h6.4v2.6h-6.4zM277.3,82.6h3.1v2.6h-3.1zM361,98.7h7.3v1.3h-7.3zM297.6,97.7h6v2.6h-6zM296.6,78.4h3.1v2.5h-3.1zM315.3,96.5h3.8v2.3h-3.8zM265.4,98.8h6.8v2.5h-6.8zM339.8,89.9h5.3v1.1h-5.3zM288.6,86.4h7v1.2h-7zM347.1,96.3h4.6v1.9h-4.6zM360.5,87.9h5.5v2.3h-5.5zM260.6,99.6h6.2v2.1h-6.2zM366,91.7h5.2v2.2h-5.2zM278.8,84h8.5v1.4h-8.5zM254.3,96.3h5.8v1.6h-5.8zM293.7,82.8h5.2v2h-5.2zM294,94.5h3.4v1.3h-3.4zM374.2,98.7h7.9v1.4h-7.9zM252.5,96.1h2.3v2.5h-2.3zM285.5,86.5h8.8v1.8h-8.8zM280.4,90.6h8.1v1.5h-8.1zM358.8,98h8.2v2.5h-8.2zM347,97.9h5.4v1.5h-5.4zM260.1,87.3h5.4v2.5h-5.4zM267.7,91.8h7.1v2.4h-7.1zM311.9,97h2.3v1.4h-2.3zM287.9,92.4h6.5v1.2h-6.5zM257.9,85.7h5.4v1.7h-5.4zM374.1,97.2h2.1v2.4h-2.1zM330,79.9h6.1v1.1h-6.1zM259.9,78.9h2v2h-2zM302.8,91.1h7.5v2.4h-7.5zM319.8,92.2h7.2v1.5h-7.2zM311.3,94.7h6.4v1.9h-6.4zM336.3,95.6h5.8v1.6h-5.8zM303.1,90.5h7v1.2h-7zM337.3,92.6h5v2.6h-5zM292,91.6h5.7v1.7h-5.7zM291.3,80.6h5.6v2.6h-5.6zM351.9,81.9h5.2v1.3h-5.2zM325.6,80.4h5.6v1.7h-5.6zM253.2,91.6h4.4v1.5h-4.4zM335.3,95h5.6v2.7h-5.6zM296.4,88.5h7.7v1.2h-7.7zM252.6,97.8h2.5v2h-2.5zM326.1,90.6h4.5v2.3h-4.5zM371.3,93.5h3v1.4h-3zM287.6,90.1h5.7v2.3h-5.7zM268.1,81.1h4.8v2.5h-4.8zM281.1,97.2h5.3v1.8h-5.3zM283.4,79.3h8v2.3h-8zM312.9,97h7.9v1.5h-7.9zM381.2,95.3h5.3v1.4h-5.3zM367.2,90.9h2.2v1.3h-2.2zM263.2,88.3h3.5v2.4h-3.5zM327.5,79h8.4v1.6h-8.4zM253.8,81.6h5.8v2.7h-5.8zM276.2,85h2.1v1.7h-2.1zM299,83.7h8.7v2.4h-8.7zM257.8,96.8h3.1v1.7h-3.1z" fill="#c8c8c8" fill-opacity="0.7"/>
<path d="M288.2,113.2h6.4v1.9h-6.4zM328.9,115.8h8.3v2.1h-8.3zM328.1,106.1h3.2v2.1h-3.2zM351.9,110.3h4.6v1.6h-4.6zM317.1,101h4.1v2.5h-4.1zM377.5,104.1h3.2v1.6h-3.2zM331.5,115h5.9v2.7h-5.9zM312.9,107.6h3.1v2.6h-3.1zM358.4,116.8h3.9v2h-3.9zM310.4,109.3h6.3v1.4h-6.3zM314.7,111.2h5.5v2.7h-5.5zM339.6,115.2h7.5v1h-7.5zM382.9,104.7h3.4v1.1h-3.4zM261.7,106.4h5.2v2h-5.2zM377.6,114.4h3.8v2.4h-3.8zM379.1,106.3h3.8v1.6h-3.8zM294.6,110.3h3.2v1.2h-3.2zM326.6,108.2h7.6v1.9h-7.6zM306.3,113.2h7.6v2h-7.6zM378.9,108.5h3.2v2.1h-3.2zM335.8,110.5h3.5v2.2h-3.5zM314.3,115.9h2.3v2.7h-2.3zM351.2,110.4h6.5v2h-6.5zM363.5,112.3h4v1.4h-4zM307.5,113.9h8.9v2.3h-8.9zM309.7,115.1h7.1v2.4h-7.1zM320.8,110h8v1.3h-8zM256.8,100.3h2.6v1.6h-2.6zM367.6,116.1h7.4v2.3h-7.4zM358.7,107.5h9v2.4h-9zM266.5,104.2h6.5v2.2h-6.5zM390,109.7h6.4v2.1h-6.4zM296.9,114.8h5.1v2.1h-5.1zM296,103.4h3.6v1.6h-3.6zM330.8,109h3.8v1.5h-3.8zM373.6,103.6h3v2.3h-3zM299.1,105.4h3.6v1.6h-3.6zM340.3,112.2h8.3v2.7h-8.3zM352.2,102.8h5.8v2.1h-5.8zM294.7,116h3v1.8h-3zM345.2,101.8h7.9v1.2h-7.9zM267.2,111.4h5.3v2.6h-5.3zM401.2,108.9h8.5v1.2h-8.5zM372.1,112.1h7.9v1.7h-7.9zM305.6,101h8.9v2.3h-8.9zM339.7,111h5.9v1.9h-5.9zM266,103.9h4.6v2.6h-4.6zM303.4,115.5h5v2.7h-5zM374.7,113.5h4.3v2.1h-4.3zM262.3,103.8h7.2v1.5h-7.2zM331.6,112.1h2.1v2.5h-2.1zM389.5,103.8h3v1.5h-3zM273.6,101h4v1.3h-4zM368.8,116.6h5.8v1.6h-5.8zM291.1,113.2h8.2v2.3h-8.2zM382,111h3.3v2.5h-3.3zM347.2,101.3h7.2v2.4h-7.2zM341.7,114.5h2.1v1.2h-2.1zM322.5,111.5h4.6v2h-4.6zM265.1,102h5.9v2.7h-5.9zM345.8,103.2h5.4v1.3h-5.4zM317,114.1h6.3v1.4h-6.3zM350.6,113.7h7.8v2.3h-7.8zM250.4,111.3h6.7v1.9h-6.7zM249.5,108.5h2.2v1.9h-2.2zM258.3,109.5h8.1v1.2h-8.1zM378.3,102.6h7.3v1.8h-7.3zM381.9,105.3h7.6v1.7h-7.6zM285.3,112.3h2.5v2h-2.5zM384.1,101.5h4.3v1.2h-4.3zM303.5,112.8h3.2v2.1h-3.2zM273.9,105.6h4.1v1.3h-4.1zM342,100.1h2.7v1.6h-2.7zM362.8,107.2h3.4v2.1h-3.4zM284,107.2h6.7v2.2h-6.7zM386.6,100.9h3.6v1.1h-3.6zM255.4,107.3h4.5v1.9h-4.5zM359.2,104.8h3.2v1.6h-3.2zM378.5,106.8h7v1.4h-7zM346.1,115.2h5.4v1.9h-5.4zM313.1,103.8h5.2v2.4h-5.2zM384,117.8h8.8v1.7h-8.8zM397.7,108.9h3.6v1.3h-3.6zM379.7,101h4.4v2.2h-4.4zM386.1,115h4.4v1.6h-4.4zM383.4,109.7h7.4v2.6h-7.4zM347.9,105.7h4.1v2.2h-4.1zM339.6,115.5h2.2v2.2h-2.2zM299.2,112.2h8.3v2.1h-8.3zM288.9,110.3h3.6v1.7h-3.6zM356.5,107.8h7.1v1.3h-7.1zM306,107.6h5.5v2.5h-5.5zM332.8,108.5h8.5v1.3h-8.5zM303.5,103.3h7.6v2.5h-7.6zM326.1,109.8h5v2.8h-5zM366.2,113.2h8.2v1.9h-8.2zM297.1,112.1h5.2v1.2h-5.2zM252.9,101.3h8.7v2.2h-8.7zM262.1,102.2h8.2v2.1h-8.2zM293.7,113.5h6.9v2.1h-6.9zM304.2,107.5h5.2v1.8h-5.2zM384.1,103.5h2.6v2.1h-2.6zM356.1,102.9h7.6v2.2h-7.6zM383.2,116.6h7.7v1h-7.7zM274.9,104h5v1.4h-5zM383.3,101.5h3.6v2.3h-3.6zM334.9,108.4h4.1v1.3h-4.1zM274.3,115.3h4.1v1.2h-4.1zM282.4,110h6.9v2.1h-6.9zM283.1,110.4h8.1v2.3h-8.1zM357.3,105.6h8.4v2.3h-8.4zM398.3,103.7h8.8v2.7h-8.8zM308.9,101.3h2.9v2.7h-2.9zM301.9,109.7h7.6v2.3h-7.6zM281.6,106.7h8.6v2.6h-8.6zM288.9,112.3h4v1.6h-4zM281.4,105.4h7v1.5h-7zM388.7,100.6h5.2v2.2h-5.2zM390.6,112.4h3v2h-3zM334.8,106.7h6.5v1.2h-6.5zM366,111.9h5.4v1.6h-5.4zM374,103.5h7.1v2.8h-7.1zM360.9,108.3h6.2v1.3h-6.2zM355.4,111.7h8.5v1.7h-8.5zM251.7,110.2h2.1v1.5h-2.1zM298.4,105.4h7.6v1.6h-7.6z" fill="#777" fill-opacity="0.7"/>
</g>
<g transform="translate(0,298.5)">
<path d="M116.4,87.2V204.7" stroke="#000" stroke-opacity="0.01" stroke-width="0.8" fill="none"/>
<path d="M118.5,92.8V222.5M123.9,84.7V200.7M131.6,88V220.7M139.6,92.3V221.6" stroke="#000" stroke-opacity="0.01" stroke-width="1.0" fill="none"/>
<path d="M117.4,84.2V201M121.6,97.4V210.2M122.8,88.5V224.8M125,90.2V210.1" stroke="#000" stroke-opacity="0.01" stroke-width="1.2" fill="none"/>
<path d="M128.4,98.1V221.4M136.9,94.5V215.6M138.4,84.4V209.1M140.9,99.1V219.8M144.4,84.2V214.3" stroke="#000" stroke-opacity="0.01" stroke-width="1.5" fill="none"/>
<path d="M120,90.9V212.5M126.6,83.6V225M130.1,99.6V226.9M133.1,85.6V213.9M135.1,87.1V224.7M142.6,90.1V217.2" stroke="#000" stroke-opacity="0.01" stroke-width="2.0" fill="none"/>
<path d="M175,95V202.9M193.7,92.3V230.1M205.5,85.9V225.4" stroke="#000" stroke-opacity="0.03" stroke-width="0.8" fill="none"/>
<path d="M191.8,87.5V247.2" stroke="#000" stroke-opacity="0.03" stroke-width="1.0" fill="none"/>
<path d="M184.8,93.7V219.6" stroke="#000" stroke-opacity="0.03" stroke-width="1.2" fill="none"/>
<path d="M187.4,92.7V235.9" stroke="#000" stroke-opacity="0.03" stroke-width="1.5" fill="none"/>
<path d="M150.9,87.2V207M151.7,99.1V200.7M220.9,90.5V255.8M224.2,91.2V251.1M229.4,98.1V239" stroke="#000" stroke-opacity="0.04" stroke-width="0.8" fill="none"/>
<path d="M201.8,91.9V239.7M210.8,94.1V233.2M214.5,81.1V227.3" stroke="#000" stroke-opacity="0.04" stroke-width="1.0" fill="none"/>
<path d="M169,84.6V222.2M186,95.5V252.1M203.7,90.9V251.3M206.5,90.5V220" stroke="#000" stroke-opacity="0.04" stroke-width="1.2" fill="none"/>
<path d="M157.7,89V221.4M177,98.1V227M178.5,80.4V216.6M181.5,90.4V225.8M217,91V247.1" stroke="#000" stroke-opacity="0.04" stroke-width="1.5" fill="none"/>
<path d="M183.2,93.8V257M219.5,96.3V232.2M226.8,92.2V234.5" stroke="#000" stroke-opacity="0.04" stroke-width="2.0" fill="none"/>
<path d="M175.8,89.3V208.7M202.7,96.4V219.3M204.7,98.2V245.7M218.1,97V225.1" stroke="#000" stroke-opacity="0.05" stroke-width="0.8" fill="none"/>
<path d="M154.4,80.7V209.6M167.1,92.7V214.2M174.1,94.5V206.7M192.8,87.9V220.5M223.3,92.1V255.7" stroke="#000" stroke-opacity="0.05" stroke-width="1.0" fill="none"/>
<path d="M163,99.2V207.3M209.7,94.3V226.6M211.9,91.5V221.5M215.6,98.7V246.7M225.2,91.7V223.6M228.4,83.5V247.1" stroke="#000" stroke-opacity="0.05" stroke-width="1.2" fill="none"/>
<path d="M196.4,94.5V237.4M199.1,89.6V258M213.3,96.2V232.2M222.1,96.3V215.8" stroke="#000" stroke-opacity="0.05" stroke-width="1.5" fill="none"/>
<path d="M189.1,80.1V216.1" stroke="#000" stroke-opacity="0.05" stroke-width="2.0" fill="none"/>
<path d="M148.3,81V216.6M152.5,82.6V226.2M388.9,109.7V236.8M403.5,107.5V241.9M407.8,110.1V243.8M413.6,107.2V239M454.6,107.2V242.3M477.1,107.7V231.1M507,110.7V243.9" stroke="#000" stroke-opacity="0.06" stroke-width="0.8" fill="none"/>
<path d="M153.4,80V216.5M159.7,84.5V218.5M161.9,95.6V213.6M398.3,108.1V233.9M423.7,109.6V249.5M482.2,111.3V232.1M499.4,111.4V240.6" stroke="#000" stroke-opacity="0.06" stroke-width="1.0" fill="none"/>
<path d="M190.7,81.5V249M197.7,82.8V231.9" stroke="#000" stroke-opacity="0.06" stroke-width="1.2" fill="none"/>
<path d="M180,91.6V225.8M194.9,93.9V216.1M200.6,96.7V228.4M232.6,74V229M439.9,109.9V246.3" stroke="#000" stroke-opacity="0.06" stroke-width="1.5" fill="none"/>
<path d="M155.9,95V208M208.1,99.4V234.1" stroke="#000" stroke-opacity="0.06" stroke-width="2.0" fill="none"/>
<path d="M147.5,83.8V220.9M149.1,82.7V207.4M158.8,95.1V224.1M448.6,104.8V228.2M494.1,109.9V249.6" stroke="#000" stroke-opacity="0.07" stroke-width="0.8" fill="none"/>
<path d="M166.1,85.1V203.7M236.5,74V234M393.3,104.2V228.9M394.3,105.9V229.1M507.9,111.8V242.8" stroke="#000" stroke-opacity="0.07" stroke-width="1.0" fill="none"/>
<path d="M160.8,80.5V222.1M233.9,74V237M240.3,74V238.2M431.8,109.7V236M459.6,110.6V240.5M481.1,104.2V247.6" stroke="#000" stroke-opacity="0.07" stroke-width="1.2" fill="none"/>
<path d="M426.5,107.5V245M438.4,108.8V241.7M501.7,109.2V228.8" stroke="#000" stroke-opacity="0.07" stroke-width="1.5" fill="none"/>
<path d="M146.1,95.7V209.6M170.6,85.1V211.8M172.6,83V210.8M390.3,106.9V235.9M419.2,110.5V248.8M435.4,106.3V248.6M458,109.9V235.2M465.7,108.7V233.2M490.5,105V237.3" stroke="#000" stroke-opacity="0.07" stroke-width="2.0" fill="none"/>
<path d="M168,84.6V212.5M453.8,106.4V231.1M476.3,108.6V238.4M488.3,106.2V236.2" stroke="#000" stroke-opacity="0.08" stroke-width="0.8" fill="none"/>
<path d="M150,81.2V225.1M410.7,111.3V230.4M417.7,107.7V236.2M422.7,111.9V246.8M492,110.1V244.6M497.2,110.8V231.4" stroke="#000" stroke-opacity="0.08" stroke-width="1.0" fill="none"/>
<path d="M231.2,74V238.5M437,108V247.8M449.6,106.5V236.9M483.3,105.6V228.9M484.5,104.5V249.6M495.1,106.4V229.4M503,108V240.3" stroke="#000" stroke-opacity="0.08" stroke-width="1.2" fill="none"/>
<path d="M235.3,74V235.5M406.7,110.3V231.6M461,106.2V239.1" stroke="#000" stroke-opacity="0.08" stroke-width="1.5" fill="none"/>
<path d="M164.6,93.1V219.6M433.4,109.3V240.2M462.7,106.9V236.2M486.1,106.5V243.4" stroke="#000" stroke-opacity="0.08" stroke-width="2.0" fill="none"/>
<path d="M230.2,74V233.8M400,104.9V245.3M405.5,108.1V244.9M489.1,111.4V249.4M508.8,106.5V239.1" stroke="#000" stroke-opacity="0.09" stroke-width="0.8" fill="none"/>
<path d="M395.3,111.5V230.2M443.8,109.2V237M504.1,104.9V247M505.1,107V237.3M506.1,108.9V243.4M509.7,109.4V238" stroke="#000" stroke-opacity="0.09" stroke-width="1.0" fill="none"/>
<path d="M404.5,112V243.7M408.8,106.4V247.9M414.6,105.8V239.6M447.6,109.3V236.8M467.3,108.1V231.6M493.1,109.8V246.9" stroke="#000" stroke-opacity="0.09" stroke-width="1.2" fill="none"/>
<path d="M392.1,109.6V244.2M425,106V237.7M441.4,110.1V243.3M471.2,110.3V230.9M475.2,104.2V235.9M479.8,111.3V247.7" stroke="#000" stroke-opacity="0.09" stroke-width="1.5" fill="none"/>
<path d="M396.8,109.4V231" stroke="#000" stroke-opacity="0.09" stroke-width="2.0" fill="none"/>
<path d="M487.5,105.2V248.3" stroke="#000" stroke-opacity="0.1" stroke-width="0.8" fill="none"/>
<path d="M469.9,108.9V232M500.4,111.9V247.3" stroke="#000" stroke-opacity="0.1" stroke-width="1.0" fill="none"/>
<path d="M239.1,74V239.6M243.5,74V229.6M401,111.5V234.1M427.8,111.6V246.1M450.8,108.2V238.6M498.3,109.4V248.3" stroke="#000" stroke-opacity="0.1" stroke-width="1.2" fill="none"/>
<path d="M237.8,74V229.9M445.1,109.8V231.8M468.7,109.9V242.3M473.7,105.6V232.1" stroke="#000" stroke-opacity="0.1" stroke-width="1.5" fill="none"/>
<path d="M241.9,74V238.4M255.3,74V239.5M387.5,104.7V248.8M429.4,107.4V248.5" stroke="#000" stroke-opacity="0.1" stroke-width="2.0" fill="none"/>
<path d="M248.9,74V230.5M399.2,106.8V235.5M409.8,108.5V248.5M430.8,108.4V240.5" stroke="#000" stroke-opacity="0.11" stroke-width="0.8" fill="none"/>
<path d="M464.2,108.3V242.3M472.4,105.7V241.7M496.2,104.9V246.1" stroke="#000" stroke-opacity="0.11" stroke-width="1.0" fill="none"/>
<path d="M257.7,74V232.3M442.7,108.5V231.6M446.4,108.6V236.9" stroke="#000" stroke-opacity="0.11" stroke-width="1.2" fill="none"/>
<path d="M402.4,108.1V249.3M478.3,109.1V233.9" stroke="#000" stroke-opacity="0.11" stroke-width="1.5" fill="none"/>
<path d="M250.3,74V238.2M412.2,105.9V240.1M416.2,107.4V245.2M421.2,110.4V242.2M452.4,107.6V230.1M456,111V242.1" stroke="#000" stroke-opacity="0.11" stroke-width="2.0" fill="none"/>
<path d="M265.5,74V237.7" stroke="#000" stroke-opacity="0.12" stroke-width="1.0" fill="none"/>
<path d="M247.9,74V232.7M258.9,74V230M264.4,74V229.7" stroke="#000" stroke-opacity="0.12" stroke-width="1.2" fill="none"/>
<path d="M245.1,74V231.6M252.3,74V231.7M382.2,105.6V236" stroke="#000" stroke-opacity="0.12" stroke-width="2.0" fill="none"/>
<path d="M256.7,74V237.4" stroke="#000" stroke-opacity="0.13" stroke-width="0.8" fill="none"/>
<path d="M246.7,74V231.7M268.1,74V236.6" stroke="#000" stroke-opacity="0.13" stroke-width="1.2" fill="none"/>
<path d="M266.8,74V237.9M385.8,105.9V229.2" stroke="#000" stroke-opacity="0.13" stroke-width="1.5" fill="none"/>
<path d="M273.5,74V232.7" stroke="#000" stroke-opacity="0.14" stroke-width="0.8" fill="none"/>
<path d="M274.4,74V238.8" stroke="#000" stroke-opacity="0.14" stroke-width="1.0" fill="none"/>
<path d="M260.2,74V233.5" stroke="#000" stroke-opacity="0.14" stroke-width="1.5" fill="none"/>
<path d="M269.7,74V236.3M380.2,104.6V235.7" stroke="#000" stroke-opacity="0.14" stroke-width="2.0" fill="none"/>
<path d="M263.4,74V233.6" stroke="#000" stroke-opacity="0.15" stroke-width="0.8" fill="none"/>
<path d="M253.8,74V234.7M261.5,74V233.3M262.5,74V231.9" stroke="#000" stroke-opacity="0.15" stroke-width="1.0" fill="none"/>
<path d="M271.3,74V237M272.5,74V235.6" stroke="#000" stroke-opacity="0.15" stroke-width="1.2" fill="none"/>
<path d="M277.8,74V230M384.6,107.1V238.4" stroke="#000" stroke-opacity="0.16" stroke-width="0.8" fill="none"/>
<path d="M383.7,109.9V246.1" stroke="#000" stroke-opacity="0.16" stroke-width="1.0" fill="none"/>
<path d="M279.8,74V231.8" stroke="#000" stroke-opacity="0.16" stroke-width="1.5" fill="none"/>
<path d="M276.9,74V232.5" stroke="#000" stroke-opacity="0.17" stroke-width="1.0" fill="none"/>
<path d="M275.6,74V238.7M284.2,74V229.7" stroke="#000" stroke-opacity="0.17" stroke-width="1.5" fill="none"/>
<path d="M281.5,74V231.4" stroke="#000" stroke-opacity="0.18" stroke-width="2.0" fill="none"/>
<path d="M283,74V230.4M285.5,74V229.7" stroke="#000" stroke-opacity="0.19" stroke-width="1.0" fill="none"/>
<path d="M286.6,74V232.1" stroke="#000" stroke-opacity="0.19" stroke-width="1.2" fill="none"/>
<path d="M290,74V229.7" stroke="#000" stroke-opacity="0.19" stroke-width="2.0" fill="none"/>
<path d="M278.6,74V238.6M288.6,74V232.5" stroke="#000" stroke-opacity="0.2" stroke-width="0.8" fill="none"/>
<path d="M292.3,74V234.9" stroke="#000" stroke-opacity="0.21" stroke-width="1.0" fill="none"/>
<path d="M291.4,74V237.3M293.2,74V237.2" stroke="#000" stroke-opacity="0.22" stroke-width="0.8" fill="none"/>
<path d="M287.7,74V236.7" stroke="#000" stroke-opacity="0.22" stroke-width="1.0" fill="none"/>
<path d="M296,74V233.7" stroke="#000" stroke-opacity="0.23" stroke-width="0.8" fill="none"/>
<path d="M307.5,74V231.7" stroke="#000" stroke-opacity="0.24" stroke-width="1.0" fill="none"/>
<path d="M311.4,74V238.8" stroke="#000" stroke-opacity="0.24" stroke-width="1.5" fill="none"/>
<path d="M308.4,74V236M314.3,74V234.6" stroke="#000" stroke-opacity="0.25" stroke-width="0.8" fill="none"/>
<path d="M309.3,74V229.8M312.6,74V229.7" stroke="#000" stroke-opacity="0.25" stroke-width="1.0" fill="none"/>
<path d="M304.7,74V233.4" stroke="#000" stroke-opacity="0.25" stroke-width="1.5" fill="none"/>
<path d="M299.4,74V235.1" stroke="#000" stroke-opacity="0.25" stroke-width="2.0" fill="none"/>
<path d="M305.8,74V235.1M313.5,74V234" stroke="#000" stroke-opacity="0.26" stroke-width="0.8" fill="none"/>
<path d="M318.3,74V234.5" stroke="#000" stroke-opacity="0.26" stroke-width="1.5" fill="none"/>
<path d="M294.6,74V230.7M301.4,74V233.9" stroke="#000" stroke-opacity="0.26" stroke-width="2.0" fill="none"/>
<path d="M310.2,74V237.8" stroke="#000" stroke-opacity="0.27" stroke-width="0.8" fill="none"/>
<path d="M319.5,74V230.5" stroke="#000" stroke-opacity="0.27" stroke-width="1.0" fill="none"/>
<path d="M297.4,74V234.5" stroke="#000" stroke-opacity="0.27" stroke-width="2.0" fill="none"/>
<path d="M303.2,74V233.5" stroke="#000" stroke-opacity="0.28" stroke-width="1.5" fill="none"/>
<path d="M306.6,74V236.2" stroke="#000" stroke-opacity="0.3" stroke-width="0.8" fill="none"/>
<path d="M326.8,74V232.1" stroke="#000" stroke-opacity="0.3" stroke-width="1.5" fill="none"/>
<path d="M315.1,74V234.3M320.4,74V235.5" stroke="#000" stroke-opacity="0.32" stroke-width="0.8" fill="none"/>
<path d="M324.5,74V238" stroke="#000" stroke-opacity="0.32" stroke-width="1.0" fill="none"/>
<path d="M321.4,74V238.3" stroke="#000" stroke-opacity="0.32" stroke-width="1.2" fill="none"/>
<path d="M323,74V239" stroke="#000" stroke-opacity="0.32" stroke-width="2.0" fill="none"/>
<path d="M328,74V232.8" stroke="#000" stroke-opacity="0.33" stroke-width="1.0" fill="none"/>
<path d="M316.5,74V229.7" stroke="#000" stroke-opacity="0.33" stroke-width="2.0" fill="none"/>
<path d="M325.5,74V230.5" stroke="#000" stroke-opacity="0.34" stroke-width="1.0" fill="none"/>
<path d="M330.5,74V234.3" stroke="#000" stroke-opacity="0.34" stroke-width="1.5" fill="none"/>
<path d="M335,74V235" stroke="#000" stroke-opacity="0.35" stroke-width="1.0" fill="none"/>
<path d="M329.1,74V234.7" stroke="#000" stroke-opacity="0.37" stroke-width="1.2" fill="none"/>
<path d="M334.1,74V237" stroke="#000" stroke-opacity="0.39" stroke-width="0.8" fill="none"/>
<path d="M333.2,74V235.9" stroke="#000" stroke-opacity="0.4" stroke-width="1.0" fill="none"/>
<path d="M337.3,83.1V236.8" stroke="#000" stroke-opacity="0.4" stroke-width="1.5" fill="none"/>
<path d="M336,74V236.9" stroke="#000" stroke-opacity="0.41" stroke-width="1.0" fill="none"/>
<path d="M348.3,88.7V232" stroke="#000" stroke-opacity="0.42" stroke-width="0.8" fill="none"/>
<path d="M332,74V230.7" stroke="#000" stroke-opacity="0.42" stroke-width="1.5" fill="none"/>
<path d="M339.4,84.2V240" stroke="#000" stroke-opacity="0.43" stroke-width="0.8" fill="none"/>
<path d="M340.3,84.7V234.5" stroke="#000" stroke-opacity="0.43" stroke-width="1.0" fill="none"/>
<path d="M345.9,87.5V233" stroke="#000" stroke-opacity="0.44" stroke-width="0.8" fill="none"/>
<path d="M346.7,87.9V235.9" stroke="#000" stroke-opacity="0.45" stroke-width="0.8" fill="none"/>
<path d="M338.5,83.8V235.2M341.3,85.2V229.1" stroke="#000" stroke-opacity="0.45" stroke-width="1.0" fill="none"/>
<path d="M342.6,85.8V239.6" stroke="#000" stroke-opacity="0.45" stroke-width="1.5" fill="none"/>
<path d="M365.7,97.4V237.5" stroke="#000" stroke-opacity="0.46" stroke-width="1.2" fill="none"/>
<path d="M347.5,88.3V236.8M366.7,97.9V231.8" stroke="#000" stroke-opacity="0.47" stroke-width="0.8" fill="none"/>
<path d="M351.2,90.1V229.5M376.5,102.8V231.6M377.5,103.3V236.4" stroke="#000" stroke-opacity="0.47" stroke-width="1.0" fill="none"/>
<path d="M343.8,86.4V236.4" stroke="#000" stroke-opacity="0.48" stroke-width="1.0" fill="none"/>
<path d="M355.2,92.1V230.3" stroke="#000" stroke-opacity="0.48" stroke-width="2.0" fill="none"/>
<path d="M344.9,87V234.2" stroke="#000" stroke-opacity="0.49" stroke-width="1.2" fill="none"/>
<path d="M358.7,93.9V228.8" stroke="#000" stroke-opacity="0.49" stroke-width="2.0" fill="none"/>
<path d="M349.7,89.4V235.1" stroke="#000" stroke-opacity="0.5" stroke-width="2.0" fill="none"/>
<path d="M357,93V237.1" stroke="#000" stroke-opacity="0.51" stroke-width="1.5" fill="none"/>
<path d="M367.7,98.4V237.5M378.6,103.8V236.4" stroke="#000" stroke-opacity="0.53" stroke-width="1.2" fill="none"/>
<path d="M372,100.5V230.5" stroke="#000" stroke-opacity="0.53" stroke-width="2.0" fill="none"/>
<path d="M374.4,101.7V233.4" stroke="#000" stroke-opacity="0.54" stroke-width="0.8" fill="none"/>
<path d="M373.5,101.3V232.5" stroke="#000" stroke-opacity="0.54" stroke-width="1.0" fill="none"/>
<path d="M360.3,94.7V238.3M375.4,102.2V233.9" stroke="#000" stroke-opacity="0.54" stroke-width="1.2" fill="none"/>
<path d="M352.2,90.6V233.4M361.4,95.2V235.8" stroke="#000" stroke-opacity="0.56" stroke-width="1.0" fill="none"/>
<path d="M368.9,99V228.9" stroke="#000" stroke-opacity="0.57" stroke-width="1.2" fill="none"/>
<path d="M370.3,99.6V228.2" stroke="#000" stroke-opacity="0.57" stroke-width="1.5" fill="none"/>
<path d="M364.5,96.8V234.4" stroke="#000" stroke-opacity="0.58" stroke-width="1.2" fill="none"/>
<path d="M362.9,96V236.2" stroke="#000" stroke-opacity="0.58" stroke-width="2.0" fill="none"/>
<path d="M353.5,91.2V232.6" stroke="#000" stroke-opacity="0.59" stroke-width="1.5" fill="none"/>
<line x1="318.6" y1="62" x2="318.6" y2="235" stroke="#fff" stroke-opacity="0.15" stroke-width="1.4"/>
<polygon points="114.9,106.2 119.2,77.1 164.8,77.1 167,59.2 244.4,59.2 244.4,53.1 266.2,53.1 267.1,50.1 484.6,50.1 489.9,58.9 459.1,98.5 512.9,98.5 521.5,148 509.9,148 510.4,152.3 488,152.3 488,158.5 397.6,158.1 397.6,125.4 299.5,125.4 299.5,131 252.2,131 252.2,136.2 181.4,136.2 181.4,106.2" fill="none" stroke="#8b70d2" stroke-width="1"/>
<clipPath id="land2"><polygon points="116,229.5 120.5,197.8 166.5,197.8 167.6,178.4 244.6,178.4 245,171.8 267.5,171.8 267.6,168.4 337,168.4 337,190 400,224.6 511.8,224.6 519.8,275.2 509.2,275.2 509.2,280.2 487.3,280.2 487.3,286.6 398.6,286.6 396.8,250.3 299.5,250.3 299.5,256.6 252.7,256.6 252.7,262.7 182.7,262.7 182.5,229.5"/></clipPath>
<g clip-path="url(#land2)"><path d="M114,171H137M157.9,171H199.4M203.3,171H230.9M230.9,171H316.4M316.4,171H379.7M385.2,171H400.3M442.3,171H520.8M520.8,171H522M114,174.3H142M157.7,174.3H212.2M232.4,174.3H281.9M281.9,174.3H334.5M334.5,174.3H361.3M455.8,174.3H522M114,180.5H157M157,180.5H213.5M225.1,180.5H297.4M397.6,180.5H458M458,180.5H522M114,184H200.8M207.9,184H226.4M226.4,184H274.8M274.8,184H293.3M301.3,184H345M363.3,184H400.5M467.4,184H522M114,188.1H130.7M130.7,188.1H208M217.5,188.1H241.4M252.1,188.1H287.8M287.8,188.1H350.4M358.2,188.1H385.4M407.5,188.1H465.6M465.6,188.1H484.2M505.3,188.1H522M114,191.5H138.9M144.2,191.5H196.1M205.3,191.5H226.7M226.7,191.5H290.7M387.6,191.5H409.3M409.3,191.5H469.9M114,195.3H176.6M182.8,195.3H200M250.1,195.3H297.9M318.6,195.3H402.9M402.9,195.3H418.5M431.2,195.3H483.9M488.6,195.3H505.6M114,201.3H191.1M191.1,201.3H245.1M265.1,201.3H340.6M359.8,201.3H381.3M384.4,201.3H407.2M407.2,201.3H457.3M114,207.2H201M201,207.2H236.8M252.9,207.2H278.9M303.8,207.2H333.6M345.2,207.2H425.6M478.9,207.2H522M256.8,210.8H284.2M284.2,210.8H355.6M355.6,210.8H399.8M399.8,210.8H465.5M465.5,210.8H485M485,210.8H522M114,214.8H174.7M183.1,214.8H245.5M253.4,214.8H329.4M329.4,214.8H400.7M400.7,214.8H416.9M491,214.8H522M114,221H174.8M219.6,221H281.7M297.6,221H384.3M405.1,221H436M440.4,221H513.3M513.3,221H522M114,226.6H144.9M144.9,226.6H160M195.6,226.6H252.9M252.9,226.6H268.3M268.3,226.6H328.9M350,226.6H431.5M454.5,226.6H473.2M473.2,226.6H501.8M158.6,232H181.6M181.6,232H247.8M260.7,232H339.1M339.1,232H415.2M114,236.3H178.8M190.1,236.3H225.4M225.4,236.3H240.9M261.2,236.3H318.9M318.9,236.3H400.5M405.8,236.3H451.7M114,240.3H164.9M164.9,240.3H196.9M196.9,240.3H273.9M385.3,240.3H468.5M468.5,240.3H522M114,244.8H134.7M134.7,244.8H175M175,244.8H207.2M220.7,244.8H283.2M306.8,244.8H356.1M399.5,244.8H453.5M462.5,244.8H522M114,250.9H196.5M212.3,250.9H252.7M258.8,250.9H325.4M325.4,250.9H388.2M388.2,250.9H455.3M455.3,250.9H470.8M470.8,250.9H490.9M497.9,250.9H522M114,256.6H137.9M147.6,256.6H169.8M169.8,256.6H191.8M207.3,256.6H240.7M283.7,256.6H313.3M334.1,256.6H417.6M417.6,256.6H453.3M467.9,256.6H493.9M501.8,256.6H522M114,260.5H168.7M168.7,260.5H186.5M198,260.5H270.1M283.3,260.5H350.6M350.6,260.5H438.9M460.2,260.5H521.2M521.2,260.5H522M114,264.2H136.8M151.8,264.2H201.4M204.5,264.2H249.8M265.1,264.2H338.1M345.8,264.2H375.4M375.4,264.2H415.6M415.6,264.2H480.9M480.9,264.2H522M114,269.3H146.9M163,269.3H234.8M251.4,269.3H301.7M301.7,269.3H389M389,269.3H415.6M415.6,269.3H454.3M464.1,269.3H522M114,274.9H187.5M187.5,274.9H229.3M246.8,274.9H272.3M356.3,274.9H392.8M403.5,274.9H425M431.7,274.9H512.9M512.9,274.9H522M114,278.3H196.2M210.5,278.3H266.6M266.6,278.3H308.8M308.8,278.3H334.6M349.6,278.3H376.5M394.1,278.3H410.9M433.1,278.3H457.3M516.8,278.3H522M114,282.4H157.3M177.5,282.4H259.3M278.2,282.4H356.8M356.8,282.4H426.8M426.8,282.4H489.9M489.9,282.4H522M240.1,171V174.3M283.9,171V174.3M311.3,171V174.3M457.7,171V174.3M426.7,171V174.3M467.2,174.3V180.5M239.6,174.3V180.5M299.9,174.3V180.5M421.5,174.3V180.5M433.5,180.5V184M193.5,180.5V184M246.1,180.5V184M344.9,184V188.1M333.8,184V188.1M289.7,184V188.1M387.3,184V188.1M429.6,184V188.1M394.8,184V188.1M248.6,184V188.1M456.7,184V188.1M377.3,188.1V191.5M228.9,188.1V191.5M396.1,188.1V191.5M471.6,188.1V191.5M502.3,191.5V195.3M190.1,191.5V195.3M360.7,191.5V195.3M369.7,195.3V201.3M500.8,195.3V201.3M420.9,195.3V201.3M417.5,195.3V201.3M184.6,195.3V201.3M485.5,195.3V201.3M388.3,201.3V207.2M212.1,201.3V207.2M397.2,201.3V207.2M433.3,201.3V207.2M512,201.3V207.2M376.7,207.2V210.8M466.4,207.2V210.8M136.7,207.2V210.8M383,207.2V210.8M329.2,207.2V210.8M278.5,207.2V210.8M162.6,207.2V210.8M178.1,210.8V214.8M521.3,210.8V214.8M389,210.8V214.8M401.8,210.8V214.8M184.9,214.8V221M365.5,214.8V221M173.2,214.8V221M336.5,214.8V221M164.7,214.8V221M190.2,214.8V221M250.4,214.8V221M324.4,221V226.6M156.8,221V226.6M457.8,221V226.6M216.8,221V226.6M317.1,221V226.6M486.2,221V226.6M227.1,221V226.6M345,226.6V232M325.6,226.6V232M353.9,226.6V232M340.6,226.6V232M290.4,226.6V232M382.3,232V236.3M431.5,232V236.3M276,232V236.3M451.9,236.3V240.3M253,236.3V240.3M199.9,236.3V240.3M500.6,236.3V240.3M395.2,236.3V240.3M375.1,236.3V240.3M253.6,240.3V244.8M443,240.3V244.8M205.7,240.3V244.8M193.8,240.3V244.8M179.3,244.8V250.9M265.2,244.8V250.9M446.8,244.8V250.9M117.7,250.9V256.6M327.6,250.9V256.6M427.6,250.9V256.6M488.5,250.9V256.6M483.5,250.9V256.6M269.3,250.9V256.6M415.9,250.9V256.6M481,250.9V256.6M115.5,256.6V260.5M318.1,256.6V260.5M370.2,256.6V260.5M521.9,256.6V260.5M505.4,256.6V260.5M249.5,256.6V260.5M507,256.6V260.5M156.5,256.6V260.5M399.9,260.5V264.2M167.6,260.5V264.2M439.1,260.5V264.2M366.5,260.5V264.2M191.9,260.5V264.2M416.1,260.5V264.2M211.9,264.2V269.3M394.7,264.2V269.3M292.6,264.2V269.3M331.8,264.2V269.3M279.1,264.2V269.3M400.4,264.2V269.3M326.4,264.2V269.3M127.2,264.2V269.3M239.5,269.3V274.9M141.2,269.3V274.9M123.5,269.3V274.9M445.9,269.3V274.9M286.7,269.3V274.9M163,269.3V274.9M189.7,274.9V278.3M501.4,274.9V278.3M300.1,274.9V278.3M146.8,274.9V278.3M490.1,274.9V278.3M448.3,278.3V282.4M410.6,278.3V282.4M170.6,278.3V282.4M449.9,278.3V282.4M163.3,278.3V282.4M281.1,278.3V282.4M468.5,278.3V282.4M498.6,278.3V282.4M442.4,282.4V288.1M174.9,282.4V288.1M331.2,282.4V288.1M489.5,282.4V288.1M203.1,282.4V288.1M477.5,282.4V288.1M311.5,282.4V288.1" stroke="#2f8f40" stroke-opacity="0.5" stroke-width="0.7" fill="none"/></g>
<g clip-path="url(#land2)"><path d="M239.7,189.1h6.5M334,210.1h8.9M334,210.1v3.9M324.5,189.3h5.2M269.1,213.9h4.4M269.1,213.9v5M369.6,227.7h6.4M369.6,227.7v2.1M464.1,225.3h6.5M464.1,225.3v3.7M379.7,216.9h9.1M379.7,216.9v1.9M498.5,231.1h3.6M498.5,231.1v3.1M384.7,225.9h9.7M384.7,225.9v1.5M376.4,223.2h7.9M376.4,223.2v4.7M477.7,240.6h5.1M309.4,169.1h4.6M309.4,169.1v4.7M423.1,242.1h8.1M423.1,242.1v4.2M391.7,222.1h5.6M280.7,212.9h7.2M280.6,232.7h5.3M280.6,232.7v3.6M420.1,233.7h6.4M336.6,168.8h9.2M336.6,168.8v4.7M239.9,217.1h4.9M283.2,192.1h5.3M283.2,192.1v4.8M372.5,215.1h6.3M331.6,241.1h9.8M331.6,241.1v3.9M270.5,190.4h9M316.9,208.8h4.1M316.9,208.8v4.8M468,230.9h6.3M320,199.1h9.9M447.2,239.3h9.9M447.2,239.3v3.1M264.6,199.5h6.4M264.6,199.5v4.4M306.5,171h7.4M360.8,227.6h5.3M304.1,220.1h7.6M304.1,220.1v3M510.3,233.3h5.2M510.3,233.3v2.5M329.6,173h2.1M307.4,183h5.8M275.1,204h2.3M275.1,204v4.4M313.4,232.7h6.2M379,232.3h8.9M379,232.3v2.7M305.2,232.9h5.1M305.2,232.9v5M246.6,228.2h4.1M246.6,228.2v2.5M492.6,225.2h4.2M420.5,241.2h9.6M420.5,241.2v2.6M299.7,199.1h4.6M299.7,199.1v1.8M269,232.1h5.3M269,232.1v2.8M378.7,223.5h4.7M382.1,244.6h8.9M410.1,233.6h9.7M365.1,218.3h2.1M365.1,218.3v4.6M239.3,191.9h8.5M269,212.1h3.9M288.3,193.4h8.7M280.1,216.2h7.9M320.7,220.7h5.9M501.6,239.3h4.1M286.2,240.4h6.5M321.2,232.7h6.3M328.7,205.6h4.5M296.2,177.7h3.7M296.2,177.7v4M449.2,228.2h6.8M449.2,228.2v4.4M418.3,238.7h8.5M384.5,237.9h5.1M437.3,244.5h7.1M437.3,244.5v4.2M332.5,204.3h2.6M332.5,204.3v4.7M427.2,232.7h6M427.2,232.7v4.9M357,216.1h5.5M479.8,237.7h2.1M479.8,237.7v1.8M282.7,195.2h4M282.7,195.2v4.2M299.3,216.7h7.7M299.3,216.7v2.3M297.9,216.6h4.9M297.9,216.6v2.7M322.6,206h9.2M318.7,207.7h6.1M297.1,213.5h4.7M310.8,230.1h8M289.7,176.7h4.8M257.6,175.3h6.4M247.6,223.9h8.3M357,221.7h8.8M305.7,180.6h5.1M359.6,215.3h5.3M359.6,215.3v3.9M263.1,208.4h6.4M263.1,208.4v3.9M325.4,224.8h9.7M225.2,222h2.9M225.2,222v4.8M264.4,201.9h5.8M248.6,192.2h8M314.5,176.3h8.3M314.5,176.3v3M258,181.3h8.7M359.8,216.1h7.5M359.8,216.1v2.7M351.7,214.8h2.1M248.4,227.4h7.1M248.4,227.4v2.5M296.1,230.7h9.9M235.8,236.9h8.7M235.8,236.9v2.5M297,174.2h5.1M287.5,209.3h9.6M301.6,178.4h4.4M301.6,178.4v1.6M269.4,218.1h6.7M279.9,218.2h9.8M279.9,218.2v2.3M289.9,227.6h4.4M246.1,198h5.9M246.1,198v3.6M401.7,234.7h8.5M463.2,241.4h2.1M364.8,210.4h4.6M328.4,168.6h3.3M251.2,228.5h10M482.1,238.8h6.6M482.1,238.8v2.5M314.3,207.7h9M314.3,207.7v1.8M369.8,213.9h5.6M369.8,213.9v2.2M284.4,209h8.3M371.5,236h8.3M371.5,236v1.9M388.9,224.7h4.9M388.9,224.7v3M247.6,213.3h2.6M247.6,213.3v3.1M275,204.6h5.5M275,204.6v1.9M278.4,181h9.7M313.6,170.1h9.1M313.6,170.1v5M247.1,191.8h4.3M247.1,191.8v4M374.3,230.9h8.4M374.3,230.9v2.3M380.4,220.4h6.7M380.4,220.4v2.8M308.9,236h7.5M423.4,247.8h7M423.4,247.8v3.7M484,229h8.2M484,229v2.5M250.2,179.1h2.8M301.3,238.9h2.3M270.7,213.6h3.4M270.7,213.6v3.2M331.4,189.7h2.8M331.4,189.7v4.1M316.5,240.3h6M334.1,230.9h7M334.1,230.9v4.7M279.1,181.1h3.8M355.2,201.5h4.8M241.8,217.2h4.1M241.8,217.2v3.3M297.8,237.3h2.5M354.5,204.1h8.9M354.5,204.1v4.8M504.9,235.3h7.7M458.3,229.1h4.4M298.6,212.8h6.1M337.4,191.2h2.7M295.2,174.3h4.8M295.2,174.3v3.7M321.8,186.3h6.1M334.5,213.9h4.9M421.7,226.2h8.6M283,169.1h9.8M283,169.1v3.3M262.6,232.6h4.3M356.3,207.9h5.9M410.9,230.5h3.4M410.9,230.5v4M299.7,207.3h8M463.1,229h5.9M280.7,216.8h2.2M280.7,216.8v4.2M359.4,216h4.7M359.4,216v2.4M257.1,176.3h5.9M298.2,219.3h8M298.2,219.3v5M280.7,205.6h7.2M280.7,205.6v2.3M244.8,216h2.9M256.5,221.7h2.2M256.5,221.7v3M304.4,225.9h6.8M329.3,226.1h7.3M329.3,226.1v4.1M292.2,236.1h5.4M292.2,236.1v4.4M387.3,221.3h2.5M355,227.5h4.9M355,227.5v1.8M306.9,185.9h2.9M306.9,185.9v2.9M254,228.8h8.2M431.2,229.8h2.3M271.5,229.5h9M271.5,229.5v4.5M246.3,192.3h2.6M257.7,174.9h3.6M257.7,174.9v3.3M368.1,220.7h5.8M268.7,191.9h2.2M262.2,236.3h9.9M262.2,236.3v4.4M314.9,171.2h8.2M333.4,174.1h4M480.8,228.8h8.3M242.6,205.4h8.5M242.6,205.4v3.1M249.2,198.7h9.4M249.2,198.7v1.8M331.2,188.4h2.6M318,196.8h5.1M318,196.8v2M328.3,173.1h4.9M405.6,225.3h9.2M405.6,225.3v1.7M299.6,201.5h9.5M299.6,201.5v3.2M304.1,224.6h4.7M368.1,226.1h7.1M368.1,226.1v4.9M238.6,185.5h5.7M273.9,175.3h4.5M328,211.6h4.3M365.5,222.1h3.5M498.9,237.2h7.8M498.9,237.2v2.7M447.7,238.7h6.8M447.7,238.7v3.1M256.6,237h2.3M395.5,225.7h6.6M395.5,225.7v4.3M340.1,205.1h8.3M340.1,205.1v1.6M268.7,196.7h3.9M422.8,231.9h7.8M422.8,231.9v1.8M317.1,224.8h6.9M317.1,224.8v3.2M508.9,234.1h7.6M508.9,234.1v3.4M363.1,212.8h9.9M353.8,207.2h9.4M353.8,207.2v4.4M232.7,204.4h6.2M232.7,204.4v4M373,214.5h9.7M479.5,237.4h8.2M479.5,237.4v2.2M297.2,211.9h6.6M328,187.1h9.9M328,187.1v2.8M285.8,192.5h9.5M285.8,192.5v4M474.1,230.2h3.5M356.2,225.6h6.6M356.2,225.6v1.7M331.8,179.1h7.3M437.6,232.5h9.7M437.6,232.5v4.4M409.5,232h2.5M314.7,223.7h5.8M314.7,223.7v2.4M305.6,229.9h5.1M305.6,229.9v3.7M397,225.2h9.8M397,225.2v3.2M301,182.9h4.7M301,182.9v4M271,195h2.9M290.8,217.4h3.6M290.8,217.4v3M256.9,200h4.8M281.7,218.2h8.8M281.7,218.2v3.9M324.2,222h8.1M324.2,222v4.1M331.1,185h5.3M230,209h7.2M319.4,170.7h9.5M319.4,170.7v3.2M310.5,169.8h2.6M287.9,172.3h4.3M287.9,172.3v2.9M418.2,240.4h8M418.2,240.4v4M274.4,239.2h4.3M274.4,239.2v4M319.3,218.3h9.4M389.8,235.6h8M389.8,235.6v3.7M259.4,219.7h7.9M259.4,219.7v3.9M261.2,218.3h6.9M261.2,218.3v4.6M322.9,197.2h5.4M322.9,197.2v2M278.9,201.4h2M245.8,189.5h9.3M255.2,226.3h7.3M255.2,226.3v3.6M316.7,214.3h7.9M316.7,214.3v4M299.5,189.3h7M275.5,206.9h3.8M275.5,206.9v3.9M232.7,184.3h3.8M232.7,184.3v3.9M254,219.2h4.3M263,207.8h3.5M263,207.8v4.7M456.3,228h4.3M456.3,228v1.9M305.1,179.4h8.9M305.1,179.4v1.8M331.4,209.7h5.6M432.5,226.4h8M436.5,230.8h6.4M298.7,207.2h9.3M227.7,205.9h7.2M378.2,236.2h8.1M378.2,236.2v2.4M331.7,211.6h9.2M343.2,196.9h9.2M343.2,196.9v2.5M258.6,231.4h6.2M281.2,216.2h8.6M281.2,216.2v3.2M298.6,230h4M298.6,230v3.9M277.4,208.2h7.2M280.9,170.5h8.3M283.1,172.1h2.4M283.1,172.1v2.7M382.3,229.5h2.5M275.6,210h2.6M257.4,211.3h9.5M233.5,225.5h9.1M319.6,186.2h3.6M503.1,241.5h4.4M503.1,241.5v2.6M509.7,235.5h7.3M509.7,235.5v2.4M262.8,189.6h4.1M262.8,189.6v3.7M319,182.1h10M319,182.1v3.7M325.4,176h6.7M325.4,176v3.8M273.8,192.6h4.1M247.9,231.5h5.2M393.6,222h2.5M393.6,222v1.9M244.5,208.5h8.8M244.5,208.5v4.7M366.4,222.1h9.9M385.9,237.8h4.8M385.9,237.8v2M413.3,234.4h5.8M304.3,187.8h4.1M304.3,187.8v2.3M314.7,175.9h7M314.7,175.9v4.6M442.8,228.9h9.1M287.6,233.7h9.4M263.6,185.2h6.1M263.6,185.2v4.4M359.9,211.8h2.8M280.6,239.9h3.9M226.6,218.7h3.1M304.1,184.5h6.2M455.5,241.6h4.4M455.5,241.6v2.4M453.8,241.2h2.3M453.8,241.2v3.6M304.7,199.1h9.8M261.1,179.6h5.8M261.1,179.6v4.7M255.9,185.2h5.6M255.9,185.2v4.2M281.9,232.9h4.4M281.9,232.9v2.5M316.7,172.6h7.8M316.7,172.6v5M230.6,195.5h3.6M230.6,195.5v4.9M264.8,223.1h7.2M331.8,224.9h9.9M331.8,224.9v2.7M284.5,227h4.7M284.5,227v3.2M234.1,201.6h6.5M234.1,201.6v1.9M476.2,235.6h3.9M476.2,235.6v4.5M334.2,194.3h3.2M334.2,194.3v3.4M267.3,216.6h8.3M317.8,191h3.8M317.8,191v4.5M356.4,201.8h2.6M356.4,201.8v4.2M478.3,233.5h6.3M478.3,233.5v2M322,176.1h7.3M322,176.1v5M302,221h7.8M483.2,232.8h5M483.2,232.8v1.7M259.6,200.9h9.2M239.5,214.7h8.9M314.8,200.8h4.4M260.6,190.4h8.4M260.6,190.4v4.7M314.4,211.9h3.5M333,169.3h4.9M333,169.3v3.6M306.3,219.2h6.4M314.8,219.3h3.7M272.7,185h2.4M272.7,185v3.3M250.9,197h8.4M287.6,201.4h6.8M282.4,194.1h6.1M282.4,194.1v4M231.4,233.6h6.8M231.4,233.6v1.7M284.3,182.6h6.3M451.1,233.3h8.3M232.2,212.8h2.6M232.2,212.8v3M280.7,228.1h4.7M237,200.7h3.4M237,200.7v2.5M277.5,202.6h5.9M277.5,202.6v4.8M385.1,231.5h4.9M437.4,233.1h6.1M437.4,233.1v1.9M295.6,221.6h8.9M295.6,221.6v2.9M314.3,211h2.8M314.3,211v1.6M407,239.6h9.8M407,239.6v1.9M409.4,229.8h7.4M409.4,229.8v3M383.2,231h9.4M374.3,224.2h5.7M351.5,209.9h7.1M351.5,209.9v2.4M262.7,184.8h7.4M262.7,184.8v4.6M370.5,235.1h9.3M370.5,235.1v2.6M283.7,216.8h5.2M283.7,216.8v3.5M254.4,240.2h3.7M274,229.1h5.6M501.5,235.8h9.7M492.4,233.2h4.6M321.8,178.2h7.9M321.8,178.2v1.8M246.7,177.3h8.6M246.7,177.3v4.7M346,209.9h4.3M346,209.9v3.2M277.5,218.6h2.9M277.5,218.6v3.3M363.2,215.8h2.2M284.1,223.6h3.3M272.2,180.1h7.6M282,226.3h7.2M282,226.3v3.1M383.2,229.4h8M383.2,229.4v1.8M287.9,179.5h9.6M290.2,219.8h7.8M247.2,193.7h9.1M304.3,203h7.7M500.6,230.5h9M330.1,208.1h6.7M330.1,208.1v4.7M311.7,172h8.6M358.4,206.8h4.3M267.8,217.4h9.3M267.8,217.4v2.2M326.8,172.3h2.8M285.8,199.4h2.6M427.8,228.7h5.9M280.9,184.5h2.1M250.7,182.8h6.9M294.5,226.9h10M294.5,226.9v3.1M283.4,224.6h8.7M283.4,224.6v3M249.7,211.2h7M336.9,215.4h3.3M378,220.5h4M300.3,236.9h7.9M300.3,236.9v3.1M338,210.1h8.8M338,210.1v1.6M482.6,245.2h9.9M286.7,206.3h3M286.7,206.3v4.5M252,196.5h5.2M301.9,210.4h9.1M354.9,205.8h2.7M354.9,205.8v4M325.3,175.7h7.4M325.3,175.7v4.6M343,203.9h2.2M320.1,223.8h6M225.8,178.5h3.2M462.8,234.6h3.4M462.8,234.6v3.1M310.9,192.5h9.3M310.9,192.5v3.6M318.2,223.3h4M279.3,207.8h6.2M305,168.8h9.5M256.8,233.4h4.6M262.8,209.6h6.4M340.3,208.7h2.5M308.7,209.1h4.8M287.1,208h2.7M287.1,208v1.6M258.7,203.6h7.4M407.4,235.9h2.2M409.6,232.1h8.1M421.6,227.9h5.3M421.6,227.9v1.9M248,223h2.6M369.5,223.5h2.8M369.5,223.5v4.7M264.6,223.7h3.4M264.6,223.7v2.9M378.6,229.3h4.5M470.2,225.2h5.1M470.2,225.2v2.5M296.3,211.9h2.2M250.2,211.2h8.3M250.2,211.2v4.1M486.9,233.3h5.3M486.9,233.3v2.2M315.5,191.6h6.3M315.5,191.6v3.9M225.7,221.3h6.8M265.1,225.3h4.7M337.8,192.9h4.5M337.8,192.9v2.8M236.3,231.5h2.7M276.3,191.7h6M276.3,191.7v4.5M307.7,176.6h7.3M307.7,176.6v2.4M248.2,199.8h8.5M238.4,203h7.3M447.1,238.9h7.3M478.1,237.8h5.6M270.9,168.8h9.5M443,239.7h6.5M352.8,212.7h5.3M352.8,212.7v4.8M286.8,175.5h3.3M319.6,223h6.9M319.6,223v4.6M238.2,208.4h2.8M238.2,208.4v3M476.2,244.9h6.8M479.6,227.9h5.7M297.4,209.1h9.8M414,243.1h5.4M414,243.1v3M294.7,227.3h2.9M295,201.3h5.1M312.3,217.4h2.1M312.3,217.4v4.9M319.8,176.2h8.5M319.8,176.2v1.6M280.7,226.2h4.6M280.7,226.2v2.3M266,222.8h3.1M444,229h8M300.2,175.2h4M303.2,229.7h8.9M464.3,228.1h9M334.2,226.7h8.1M334.2,226.7v3.3M310.8,168.7h7.3M318.9,241.1h5.7M318.9,241.1v3.7M333.8,181.6h7.2M264.2,230.5h3.8M264.2,230.5v2.8M275.7,183.3h4.4M275.7,183.3v4.6M312.2,197.3h8.3M286.5,198.9h6.5M286.5,198.9v2.4M491.8,241h6.1M282.4,216.3h7M282.4,216.3v4.7M318,180.9h9.1M318,180.9v3M335.3,215.9h4.7M258.1,211.7h3.1M317.7,192.6h3.1M324.2,231.4h8.4M305.5,203.2h8M336.3,200.8h5.4M446.2,243.9h9.7M261.9,177.8h9.6M261.9,177.8v3.7M416.9,247h7.6M416.9,247v1.9M279.4,232.5h6.5M279.4,232.5v4.7M325.4,234.2h6.6M364.4,207h8.5M363.6,220.1h9.5M363.6,220.1v2.3M424.5,229.2h5.8M392.9,227.2h4.5M373.4,236.4h8.6M305.1,186.4h2.7M305.1,186.4v4.8M384.9,240.3h8.2M384.9,240.3v3M331.3,184.1h3.6M395.9,231.9h8.9M247.1,198.1h8.9M326.6,190.9h8.4M247.2,200.3h6.8M226.2,182.5h2.5M226.2,182.5v2.3M288.2,181.4h6.4M298.8,171.7h5.8M298.8,171.7v3.4M381.1,222.4h6.4M381.1,222.4v3.4M398.9,233.3h6.1M333.6,188.2h5.6M422.7,246.6h5.7M336.2,178h3.8M336.2,178v2.5M294.8,214.6h5.6M294.8,214.6v4.6M335.9,205h9.6M378.5,230.8h5.3M290.4,221.1h6.6M410.8,245.2h4.1M410.8,245.2v1.6M338.4,206.3h9.7M338.4,206.3v2.5M450.9,237.2h7.5M269.2,189.4h7.5M351.8,215.3h2.6M351.8,215.3v1.5M305.1,193.1h9.7M305.1,193.1v4M308.1,213.4h3M308.1,213.4v2.5M257.9,218.5h7.4M257.9,218.5v2.3M298,186.3h2.8M303.2,227.4h3.1M329.8,195.7h8.6M257.6,173.4h8.1M257.6,173.4v3.2M282,222h9.4M282,222v1.5M311.8,209.2h4.2M263.7,230.9h3.3M300,206.8h5M301.2,221h9.7M301.2,221v3.2M284,168.9h8.1M284,168.9v2.5M289.4,207.3h4.2M289.4,207.3v2.8M377.2,224.3h9.9M377.2,224.3v4.9M510.4,236.9h9.3M510.4,236.9v3.8M262.1,220.2h9.4M264.1,179.8h8.4M264.1,179.8v4.9M309.9,228.5h8.7M309.9,228.5v4.7M286,207.6h5.4M286,207.6v1.6M478.9,243.6h5.5M478.9,243.6v2.3M378.2,218.3h7.8M378.2,218.3v2M377.3,221h3.2M320.3,230.8h9.3M253.2,218.3h2.3M283.6,200h8.7M407.5,225.4h3.2M321.9,228.7h7M321.9,228.7v3.1M374.3,236.3h8.1M374.3,236.3v4.3M327.2,198.7h9.9M327.2,198.7v3.6M508.2,238.3h3.7M304.3,234.5h9M304.3,234.5v2.8M442.9,235.6h3.9M442.9,235.6v2.1M227.9,197.4h9M313.5,193.8h3.6M313.5,193.8v4.9M295.3,189.3h4.4M295.3,189.3v4.6M269.7,199.8h4.6M376.5,230.1h6.1M317.5,170.4h4.8M425.5,234.2h6.4M272.8,177.7h4.4M331.2,175.2h9.4M331.2,175.2v3.5M415.4,225.3h4M344.7,197.1h5.1M333.3,218h6.1M333.3,218v3.4M320.3,225.1h9.9M320.3,225.1v4.9M329.6,171h4.7M325.1,222h6.1M279.9,210.2h7.8M279.9,210.2v3.4M330.6,213.1h3.2M330.6,213.1v4.7M396.9,223.9h9.4M435.7,239.9h3.8M258.9,232.9h4.5M258.9,232.9v2.1M301.6,231.8h9.9M276,182.1h8.2M306.5,202.2h4.2M306.5,202.2v1.8M308.2,202h5.7M308.2,202v3.5M335.3,196.3h2.5M259,178.1h2.4M259,178.1v3.4M302.2,180.8h4.7M302.2,180.8v3.8M318.2,223.5h7M309.8,229.8h4.6M309.8,229.8v1.5M318.4,191.8h4.3M252.9,186.5h3.8M252.9,186.5v4.8M402.4,237.4h7.5M305.2,208.2h9.6M305.2,208.2v3M239.8,217.5h7.9M326.1,235.2h6.1M421.2,243.9h6.6M237.2,191.8h5.2M237.2,191.8v1.9M296.4,197.3h9.9M237.9,204.6h8.9M277.8,198.2h6.5M450.9,233.4h3.5M322.4,206.9h2.1M409.5,230.5h4.9M409.5,230.5v1.9M234.9,218.8h9.2M319.7,198.4h8.6M229.4,234.4h8.7M229.4,234.4v3M331.1,227.6h9.3M285.7,177.7h5.8M237.6,216.9h9M240.4,210.8h4.1M253.2,195.1h8.2M426.9,237.1h2.3M292,175h4.1M292,175v1.9M322.9,194.2h9.6M307.6,195.6h8M292.7,179.7h8.6M292.7,179.7v4.5M493.9,237.8h8M410.9,243.9h5.2M410.9,243.9v1.7M309,216.9h9M464.4,230.3h2.2M479.9,244.2h8.8M301.2,196.3h8.3M301.2,196.3v4.6M322.6,174.2h9.8M322.6,174.2v2.9M250.6,194.7h7.4M240.5,219.6h6.4M240.5,219.6v3.2M349.2,196.9h9M386.8,229.8h9M325.3,188.7h6.8M265.2,206.6h8.9M265.2,206.6v3.2M265.9,230.1h5.4M294.9,230.9h6.3M294.9,230.9v3.8M392.3,232.5h7.8M377.9,231.7h8.2M377.9,231h6M377.9,231v2.3M426.2,243.8h3.7M426.2,243.8v4.4M309.1,180.1h7.9M245.3,206.1h9.2M245.3,206.1v4.5M387.5,234.5h6.9M255.8,189.4h9.4M257.9,201.3h4.1M256.7,225.7h6.6M256.7,225.7v4.2M259.8,206.4h2.3M307.7,172.4h9.7M330,230.4h6M464.7,244h2.8M429.9,239.5h3.2M429.9,239.5v2.2M326.3,230.1h3.3M326.3,230.1v2.6M328.5,173.3h6.3M254,231.1h5.5M313.9,231.1h7.3M313.9,231.1v4.1M450.8,236.8h4.5M450.8,236.8v3.1M331.5,207.5h2.7M331.5,207.5v4.8M281.2,204.6h9.9M303.4,186.2h9.7M303.4,186.2v2.8M286.5,172.1h6.8M286.5,172.1v4.3M334.4,182.7h9M293.2,183.4h5.8M313.2,192.9h7.6M334.9,225.6h4.9M334.9,225.6v2.9M256.7,226.6h7.3M353.1,199.4h5.3M380.4,217.4h8.8M325.4,182.5h2.6M276.4,218.2h2.7M389.7,225.2h4.2M389.7,225.2v3.1M301.1,173.7h9.7M427.3,231.8h3.6M427.3,231.8v4.5M380.5,225.9h9.9M314.4,205h2.8M314.4,205v4.6M379.3,213.8h4.6M316.2,238.8h3.8M316.2,238.8v2.3M259.5,220.4h3.2M259.5,220.4v3.4M239.5,208.9h8.1M239.5,208.9v4.8M318.8,182.7h9M463.3,246.4h5.9M463.3,246.4v1.8M312.9,197.5h3.6M312.9,197.5v1.7M308.7,208.2h3.3M308.7,208.2v4.7M311.4,225h2.6M311.4,225v4.2M348.5,226.1h4.5M348.5,226.1v4.3M460.9,227.4h5.2M460.9,227.4v2.4M315.1,198.6h3.9M315.1,198.6v4.6M381.7,234.8h2.5M381.7,234.8v2.8M332.3,189.1h5.1M332.3,189.1v3M392.4,233.9h4.1M464.8,235.4h4.5M418,244h5.9M418,244v2.8M293.5,238.1h3.5M268.4,191.8h7M298.2,168.8h3.2M298.2,168.8v4.6M279.3,180.4h4.7M279.3,180.4v3.2M300.4,206.8h2.7M300.4,206.8v3.6M364.3,215.4h6.6M325.3,231.6h5.3M325.3,231.6v1.9M297.5,192.1h2.2M326.5,189.3h5.8M275.5,195.7h9.8M275.5,195.7v2.4M487.1,241.6h10M487.1,241.6v2.3M445.9,227.6h2.3M445.9,227.6v4.9M249.4,189.2h5.7M249.4,189.2v4.3M456,244.3h2.4M456,244.3v2.9M438.7,232.2h3M294.5,212.9h5.4M294.5,212.9v2.2M302.9,183.3h7.4M360.4,207.6h9.8M360.4,207.6v3.1M299.5,230.2h7.4M468.8,226.8h2M400.1,225.9h8.1M308.8,187.1h6.8M308.8,187.1v3.6M245.7,204.2h3M264.3,204.6h2.2M250.9,234.9h8.4M267.9,185.7h3.5M267.9,185.7v3.5M335,197.1h6M335,197.1v2.2M324.4,170.8h2.4M324.4,170.8v4.1M291.8,187.2h9.4M291.8,187.2v3.5M274.8,207.6h4M274.8,207.6v2.5M279.7,230.3h7.4M303.6,218.2h6.5M303.6,218.2v3.6M371.9,225.3h8.6M246.5,182.1h7M246.5,182.1v4.1M325.6,199.3h9.1M325.6,199.3v2.2M271.9,204.7h6.1M271.9,204.7v4.3M286,182.4h2.4M286,182.4v1.5M276.3,203.4h9.4M381.5,227.1h5.6M381.5,227.1v3.5M419.3,226.7h5.5M278.6,177.3h5.2M317.7,226.5h9.6M377.4,235.8h3.8M377.4,235.8v2.2M307.3,181.8h8.5M298.4,227.2h2.8M298.4,227.2v3.6M288.7,177.9h2.2M317,228.2h6.8M509.1,228.1h4.3M509.1,228.1v2.1M302.9,228.1h5.7M281.3,235.4h7.4M268.2,239.8h8.1M268.2,239.8v4.1M264.6,191.9h8.7M286.3,218.5h3.9M286.3,218.5v2.7M354.8,200.3h7.8M381.8,225h10M406.9,244.7h2.5M406.9,244.7v4.7M316.2,221.1h2.5M316.2,221.1v4.4M295.1,218.3h6.6M295.1,218.3v1.9M269.8,210.9h8.7M324,219.8h4.4M324,219.8v3.9M317.2,187.6h8.4M388.8,242.4h4.1M388.8,242.4v2.8M343.1,202h6M360.9,204h5.6M287.7,178.8h8.6M287.7,178.8v4.1M313.4,219.9h2.3M325.5,186.8h9.7M325.5,186.8v3.7M392,223.9h8.8M265.4,190.9h8.6M265.4,190.9v2.7M247.1,199.8h6.1M358.5,210.3h9.2M358.5,210.3v2.5M262.3,227.2h6.3M262.3,227.2v3.5M338.5,210.6h3.4M338.5,210.6v4.3M347,217.9h7.7M240.8,198.3h7M240.8,198.3v5M291.6,218.9h9.2M291.6,218.9v1.6M475.3,237.3h2.1M475.3,237.3v2.6M252.5,218.2h7.5M507.2,241h4M507.2,241v2M325.3,223.4h8.1M325.3,223.4v3.2M473.9,229.6h8.2M325.4,223.7h7M322.5,190h9.7M322.5,190v2.2M312.6,226.8h4.9M347.9,207.8h9.5M347.3,216.1h5.3M347.3,216.1v3.9M319.1,203.8h7.7M319.1,203.8v3.5M305.8,220.2h5.2M305.8,220.2v3.1M321.2,169.7h5.1M270.1,175.8h8.3M473.3,240.8h9.6M473.3,240.8v3.1M499.1,227.6h5.6M302.6,230.8h6.3M302.6,230.8v3.9M429.4,227.8h3.1M429.4,227.8v5M289,224.8h2.2M289,224.8v4.5M478.6,242.6h4.3M478.6,242.6v1.8M308.7,188.1h6.1M389.6,222.4h9.5M389.6,222.4v4.1M290.4,195h3.1M290.4,195v3.7M288.3,200.4h7.5M288.3,200.4v3.5M285.1,181.1h8.3M285.1,181.1v3.2M441.3,234h3.8M441.3,234v3.1M303.7,224.1h3.7M303.7,224.1v2.3M296.9,185.5h8.1M296.9,185.5v2.4M315.6,196.6h6.2M441.2,233h9.2M252.1,186.6h6.4M264.9,186.5h5.4M334.5,221.7h5.6M336.9,209.8h3.5M289.5,195.2h4.5M289.5,195.2v3.2M395.4,226.8h3.1M395.4,226.8v2.3M430.5,236.8h9.2M430.5,236.8v4.8M374.2,234.1h7.2M248.9,184.4h7.9M248.9,184.4v4.1M237.2,188.6h8.4M294.5,177.1h8.5M333.4,196.7h9.5M306.5,169h9M306.5,169v2.2M391,237.2h4M298.5,195.1h9.6M317,168.6h2.6M317,168.6v1.6M275.1,235.7h3.1M256.6,221.3h9M256.6,221.3v4.8M253.9,215h6.7M383.5,230.7h9.6M324.3,216.4h6.5M324.3,216.4v1.9M271.5,208.8h2.3M271.5,208.8v3.2M332.6,173.7h6.7M269,212.5h8.2M365.7,232.9h2.8M454.9,225.7h3.1M236.5,207.3h5.3M285.1,192h3.4M285.1,192v1.8M267.4,228.1h2.7M267.4,228.1v3.3M327,207.9h5.2M301.2,216.6h4.1M301.2,216.6v3.6M313.5,190.6h8.1M307.3,211.3h5.2M307.3,211.3v3.2M238.3,220.7h3.9M307.8,221.6h5.5M296.2,215.6h6.1M296.2,215.6v3.3M248.7,232.6h6.6M248.7,232.6v4M321.4,219.9h5.1M321.4,219.9v3M306.4,206.2h6.6M306.4,206.2v3.8M319.7,226.4h4.7M319.7,226.4v2.1M228.6,228.1h2.2M326,233.3h7.8M326,233.3v2.9M327.8,215.5h6.2M327.8,215.5v2M439.8,243.7h9.7M274.5,209.4h7.4M274.5,209.4v3.7M271.9,209.2h9.1M324.7,174.8h6.1M324.7,174.8v2.7M333.8,230h4.7M333.8,230v2.3M256.8,191.9h4.6M246.7,210.4h5.4M246.7,210.4v2.7M260.6,235.3h9.7M260.6,235.3v4.5M448.2,231.4h6.7M301.6,195.7h4.9M316.4,180.1h7.3M358.2,217.5h3M358.2,217.5v3.9M337.9,214h6.1M337.9,214v3M335.6,169.7h9.3M476.4,244.3h9.2M476.4,244.3v4.6M433.7,236.6h9.6M301.4,199.9h6.7M301.4,199.9v3M272.1,173.2h2.2M272.1,173.2v3.5M388.5,233.3h6.7M294.6,205.8h9M336.7,197.2h9.1M336.7,197.2v4.1M247,178h4.6M323.3,181h2.1M371.8,227.3h5.4M323.3,225.8h4.3M310.5,180.2h8.8M261.2,215.3h6M261.2,215.3v1.8M295.3,224.9h3.2M295.3,224.9v4.4M251.7,222.9h9.4M251.7,222.9v3M400.5,239.5h6M261.1,234.9h2.1M492,227.3h9.4M492,227.3v2.1M294.5,170.8h2.4M302.4,189.8h8.5M302.4,189.8v3.1M280,170.6h7.9M280,170.6v2.5M322.4,179.6h7.1M322.4,179.6v2.9M264.7,208.7h6.1M264.7,208.7v4.4M306.6,228.5h2.9M306.6,228.5v2.3M237.5,243h7.9M237.5,243v4.2M296.1,223h2.6M448.8,225.7h5M331.4,236.4h5.7M331.4,236.4v5M255.3,195.4h6M491.2,236.8h9M491.2,236.8v3.5M367.5,235.9h8.2M367.5,235.9v4.2M278.1,236.6h2M278.1,236.6v3.6M288.1,214.2h2.1M263.3,215.8h9.5M394.7,226h3.4M455.5,231.4h2.3M455.5,231.4v2.2M392.5,233.9h6.5M392.5,233.9v2.7M320.8,194.6h6.2M320.8,194.6v2.7M315.5,207h3.6M333.5,175h9.1M333.5,175v2M248.4,237.3h5.3M248.4,237.3v2.9M282.6,187.6h2.7M282.6,187.6v4.1M336.1,197.3h8.8M336.1,197.3v3.2M304.6,179.4h5.8M304.6,179.4v2.2M481.1,245.7h5.9M260.1,180h6.3M388.7,234.1h3.3M480.7,231h6.8M480.7,231v3.8M265.5,173.4h7.6M390.2,223.7h9.8M248.1,218.6h7.4M248.1,218.6v2.5M472.4,235.6h3.6M472.4,235.6v2.8M438.7,237.3h8.6M438.7,237.3v1.6M284.7,208h5M284.7,208v3.5M261.1,208.2h6.8M453.2,227.8h6.5M381.8,243.5h7.1M227.7,223.1h6.2M275.3,220.4h4.2M313.2,175.9h3.4M290.6,213.6h4.2M290.6,213.6v2.5M311,187.4h5M311,187.4v1.7M506.4,241.3h3.3M506.4,241.3v4.2M320,208.9h2.9M320,208.9v4.4M409.7,228.5h2.7M409.7,228.5v3.2M304,206h3.4M304,206v1.7M356.1,223.3h5M356.1,223.3v4.1M298.5,217.4h3.5M254.1,229.3h8M329.5,205.1h6.4M388,243.2h3.2M388,243.2v2.7M290.1,195.5h6.8M290.1,195.5v3.4M324.6,178.7h6.7M324.6,178.7v1.6M370.2,225.7h5.3M333.6,199.3h9.3M483.6,237.5h7.8M483.6,237.5v1.6M299.1,192.4h7.6M452.9,242.2h2.1M357.8,210.5h4.8M290.2,218.8h9.7M290.2,218.8v3.3M297.5,231h3.6M352.5,217.2h3.5M352.5,217.2v5M403.5,237.5h5.5M336.2,199.8h4M284.8,210.4h8.9M284.8,210.4v2.4M510.9,230.7h3.4M279.1,195.9h8.9M309.1,182.6h4.4M253.2,198.1h6.7M447.5,234.8h7.1M250.8,236.9h5.1M250.8,236.9v2.5M460.8,237.5h8.9M287.1,177.6h8.4M275.4,196.8h2.9M275.4,196.8v3.4M500.2,240.4h4.8M500.2,240.4v4.4M295.4,214.1h7.1M295.4,214.1v4.4M304.8,187.4h6.4M304.8,187.4v1.7M295.9,214.7h9.2M295.9,214.7v4.6M319.7,229.6h7.3M278.7,200.2h5.5M390.4,225.1h4.4M390.4,225.1v4.8M288.7,209.6h5.6M288.7,209.6v4.9M260.6,197.4h9.6M332.6,210.8h4M323.9,228.1h8.1M431.9,227.9h2.6M431.9,227.9v1.8M367.6,215.3h3.6M390.3,235.4h3.4M390.3,235.4v3.6M300.3,196.8h7.9M300.3,196.8v4.7M342.2,218.5h7.5M342.2,218.5v2.1M315.2,230.3h5.4M287.8,187.4h9.2M467.9,235.7h9.4M458,227.9h6.7M282.9,202.2h5.7M317.3,216.9h4.3M317.3,216.9v2.6M310,172.8h3.7M310,172.8v1.5M300.4,204.6h4M271.4,188.1h3.5M271.4,188.1v4.4M342.9,197.8h3M342.9,197.8v2.7M274.9,223.8h2.8M274.9,223.8v1.9M372.8,213.4h4.3M394.6,231.4h4.8M328.6,231.4h7.4M328.6,231.4v3.3M326.9,208.8h7.4M273.6,169.7h8.9M289,197.1h8.8M298.2,185.7h7.5M440,236.8h5.2M268.2,196.2h8.1M268.2,196.2v4.6M307.8,215.1h7.7M367.6,213.3h9.3M336.8,194.1h8.5M437.5,238.9h3.8M437.5,238.9v1.9M231.6,228.9h9.1M304.7,215.5h2.3M304.7,215.5v1.8M247.5,213.2h5M247.5,213.2v4.9M436.1,248.4h4.4M436.1,248.4v4.4M252.6,173.9h3.3M252.6,173.9v2.4M257.8,223.7h4.7M252.4,195.1h3.5M252.4,195.1v2.6M311.4,226.2h4.4M311.4,226.2v2.8M310.7,205.8h7M310.7,205.8v1.6M415.1,239.1h2.6M302.5,194.3h8.8M302.5,194.3v4.6M400.8,229.5h3.8M419.8,229.6h9.6M419.8,229.6v5M325.6,210.3h3.9M325.6,210.3v4.8M266.3,230.4h5.2M266.3,230.4v2.7M324.6,241.8h8.3M422.1,244.2h8M350.1,210.8h3.5M486.6,238h8.4M286.1,202.6h2.8M335.8,191.3h6.2M289.4,171.9h4.4M289.4,171.9v4.9M326.8,180.7h5M326.8,180.7v4.8M443.4,227.6h7.7M443.4,227.6v2.1M255.7,183.6h8M255.7,183.6v4.6M260.4,235.9h2.3M260.4,235.9v1.7M329.3,219.9h8.1M329.3,219.9v4.6M380,239.4h2.3M463.7,233.1h3.4M463.7,233.1v1.7M314.2,174h9M316.3,226.6h8.7M316.3,226.6v1.5M249.4,229.3h6.6M249.4,229.3v2.9M241.4,194.3h2.7M395.1,245.8h3.8M253.8,175.1h6.1M327.4,180.4h2.5M327.4,180.4v4.8M323.3,182.6h4.8M328.6,212.8h6.8M328.6,212.8v3.1M263.3,188.8h3.5M263.3,188.8v4.3M357.9,221.8h10M357.9,221.8v4M468,229.2h7.2M468,229.2v2.5M237.3,204h8.9M280.3,198.2h9.1M280.3,198.2v3.4M290.1,183.5h7.8M462,234.9h4.1M462,234.9v3.2M283,175.8h3.2M283,175.8v2M313.8,195.7h7.2M282,234.2h5.7M282,234.2v4.1M324,213.5h8.9M360,215.9h4.1M360,215.9v4.9M446.6,229.4h3M446.6,229.4v3.7M281.5,169.1h9.1M281.5,169.1v3.1M306.9,175.8h4.5M279.5,185.5h2.6M323.4,230.8h4.4M361.7,223.5h3.6M332.6,209h9.2M332.6,209v2.4M349.8,210.8h8.1M264.2,199.6h2M264.2,199.6v4.7M306.4,215.3h7.4M307.4,183.7h3.6M309.2,229h2.5M259,208.8h4.8M319.2,214.7h3.3M359.4,216h7.6M359.4,216v3M266.2,227h2.4M389.8,220.9h6.4M389.8,220.9v2.1M234.4,194.7h6.1M365.5,237.7h3M365.5,237.7v3.3M307.7,184.9h8.6M307.7,184.9v5M356.9,221.7h6.2M356.9,221.7v2.5M472.2,231.8h3.6M472.2,231.8v1.8M267.7,199.5h9.7M443.8,225.8h2.5M400,231.5h3.8M295.9,223.6h8.9M241.4,199.7h8M325.8,222.3h5.9M367.8,226.5h7.5M367.8,226.5v4.4M286.8,224.3h6M443.4,239.1h2.9M443.4,239.1v1.7M254.6,179.3h5.7M254.6,179.3v1.7M281.4,172.8h6.9M281.4,172.8v3M301.4,204.8h2.9M239.8,206.8h8M269.7,184.8h6.9M225.7,226.9h9.4M225.7,226.9v2.8M292.1,190h3.5M292.1,190v2.4M235.7,231.5h9.2M270.4,235.1h5.1M270.4,235.1v3.7M258.9,205.1h3.3M344.5,207.6h7.1M308.9,228.7h2.4M247.9,213h5.4M247.9,213v1.6M266.5,206.7h6.7M266.5,206.7v4.2M330.7,170.5h6.6M338.9,198.9h2.9M338.9,198.9v2.9M317,177.5h8.7M317,177.5v3.4M480.8,239.6h8.1M480.8,239.6v1.7M271.2,220.4h9.6M289.2,177h7M289.2,177v4.5M395.9,238.5h2.1M395.9,238.5v2.8M415.9,245h6M415.9,245v3.1M499.1,230.9h2.9M499.1,230.9v3.3M340,207h8.2M406.2,240.7h9.2M297.6,188.6h3.7M320.7,187.4h5.7M486.8,236.2h5.5M328.2,226.5h7M313,183.7h2.9M313,183.7v1.9M348,197.6h6.2M348,197.6v2.8M253.8,231.4h8.4M253.8,231.4v2.4M338.9,200.8h5.8M338.9,200.8v4.7M441.7,236.5h6.2M441.7,236.5v4.2M262.3,223.7h3.6M262.3,223.7v1.6M331.6,240.6h8.3M331.6,240.6v4.1M283.7,213.1h4.6M283.7,213.1v1.6M423.1,235.3h5M294.7,189.9h3.9M294.7,189.9v4.1M410.7,243.4h7.7M332.4,183.3h5.1M332.4,183.3v3.7M278.1,207.3h4.7M445.9,233.3h4.5M445.9,233.3v3M359.7,211.5h2.8M359.7,211.5v3.8M415.7,234.9h3.8M300.6,205.4h7.9M500.4,226.8h8M500.4,226.8v4.7M313.2,221.9h6M313.2,221.9v4.4M453,244h6.7M453,244v3M289.1,180.6h8.3M231.9,206.2h2.5M231.9,206.2v4.1M249.1,182.6h6.9M297.6,239.8h7M297.6,239.8v3.8M314.7,186.6h4.6M314.7,186.6v3.4M272.2,192.5h5.9M272.2,192.5v3.9M266.1,235.4h8.4M307.6,177.8h6M247.8,219.2h4.5M247.8,219.2v3.4M249.9,173.2h3.3M249.9,173.2v3.6M270.6,177.4h8.4M270.6,177.4v4.5M228.9,187.5h5.6M364.5,219h4.8M364.5,219v1.8M404,237h4.1M290.9,218h6.7M290.9,218v2.1M374.6,238.7h6.9M230.2,213.4h6.9M230.2,213.4v4M322.4,177.3h6.8M291.7,175.7h7.3M321.3,233.2h4.2M323.2,172.2h3.9M323.2,172.2v4.1M453.5,243.3h3.3M271.2,235.5h8.4M271.2,235.5v3.3M286.1,173.1h6.7M293.4,175h7.7M293.4,175v3.5M307.2,181.2h7.5M273.2,204.8h9.8M425.9,229.5h7M415.3,236.2h8.7M415.3,236.2v2.8M269.1,203.5h7.7M239.9,221.4h5.9M259.6,184.5h9.5M259.6,184.5v2.6M427.5,234.6h4.1M359.1,226.5h4M301.4,177.6h9.1M314.7,211.6h3.6M362.4,213.1h9M292.4,226.3h7.8M492.9,230.2h4.9M273.3,216.2h9.1M312.8,222.2h8.9M312.8,222.2v3.7M409.1,233.6h4.6M409.1,233.6v3M324,192.9h4.9M324,192.9v4.5M349.8,217.6h6.9M366.4,223.7h5.6M313.9,206.7h2.8M313.9,206.7v3M305.1,222.3h9.2M305.1,222.3v2.9M281,197.2h8.8M458.2,241.1h6.5M458.2,241.1v3.7M376.2,236h2.9M250.9,215.1h3.9M250.9,215.1v1.9M290.9,210.1h3.2M363.3,215.2h8.2M363.3,215.2v4.7M482.7,243.9h8.7M482.7,243.9v3.3M489.1,225.1h4.8M489.1,225.1v2.1M382.3,224.4h9.5M276.3,195.6h5.5M294.6,212.5h9.4M334.8,171.5h9.2M334.8,171.5v3.6M321.2,198.8h5.5M321.2,198.8v2.5M269,222.3h4M269,222.3v4.3M271.8,224.1h7.5M271.8,224.1v2.2M295.8,224.3h4.5M295.8,224.3v2.3M338.4,197.3h8.3M289,212.7h3.1M289,212.7v3.5M256.2,221.6h9.1M256.2,221.6v3.3M276.1,203.5h5.7M284.1,221.3h5.3M373.1,210.5h7.5M373.1,210.5v2.3M482.4,235h8M228,208.4h2.7M302.3,169.7h2.2M302.3,169.7v4M291.9,223.7h5.6M334.2,194.3h4.6M334.2,194.3v4.9M410.7,231.2h5M427.7,237.2h2.8M325.9,174.6h7.6M314.8,197.2h2.1M314.8,197.2v4M320.1,181.3h4.8M320.1,181.3v1.8M292.3,170.4h4.3M307.4,177.6h2.4M307.4,177.6v2.2M249.7,174.4h3.7M249.7,174.4v2.9M263.4,210.7h5.4M308.9,210.7h9.5M308.9,210.7v4.3M350.5,218.1h9.5M350.5,218.1v3.5M321.5,180.6h5.1M321.5,180.6v2.2M263.6,180.9h9.3M263.6,180.9v2.1M365.1,213.6h6.2M365.1,213.6v1.9M272,202.1h6.1M272,202.1v2.9M293.9,192.2h7.5M293.9,192.2v5M489.1,238.4h5M255.3,240.3h2.2M255.3,240.3v4.3M264.7,230.2h2.7M264.7,230.2v2.4M284.2,218.5h4.3M284.2,218.5v3.6M351,217.3h9.8M351,217.3v3M325.4,210.4h6.6M325.4,210.4v4.2M372.5,238.6h3.7M372.5,238.6v2.1M367.2,237.1h9.3M251.5,176.7h4.1M274.6,173.7h6.9M274.6,173.7v3.7M312.5,188.7h8.5M312.5,188.7v2.7M324.6,171.1h10M307.4,213.9h3.5M422.2,238.8h8.7M480.1,240.8h8.7M480.1,240.8v3.4M260.9,175.7h4.1M278.7,203.6h4.6M254.4,228.8h6.1M254.4,228.8v4.2M264.8,194.5h7.1M349.4,198.5h2.4M293.1,225.9h6.8M293.1,225.9v3.3M299.9,235.2h5.7M245.1,217.7h2.9M260.8,182.5h5.8M440.4,235h6.1M440.4,235v2M376.1,219.3h2.6M346,213.5h8.9M346,213.5v4.5M349.9,202.9h7.6M349.9,202.9v4.9M265.8,229.3h4.9M299.8,191.2h3.9M299.8,191.2v4.9M408.9,233.1h8.2M282.5,209.1h6.6M282.5,209.1v2M368.2,226.9h2.9M368.2,226.9v2.5M415.7,229.7h7.6M268.9,203.4h4.1M315.3,215.2h4.2M266.4,183.5h3.7M256,226.7h2M430.1,230.4h5.4M430.1,230.4v4M293,216h8M325.8,183.5h4.8M325.8,183.5v2.7M423.2,231.1h5.7M240.5,224.3h6M240.5,224.3v2.7M237,241.3h8M332.3,202.5h7M361.3,208.1h5.3M317.6,181.2h4M470.6,238.3h2.4M470.6,238.3v2.5M275.9,194.3h4.1M431.5,240.5h9.2M508.5,228.1h2.5M295,182.7h7.8M291.7,199.2h5.9M291.7,199.2v4.3M377.4,234.3h2.1M377.4,234.3v4.3M302.5,228.2h4M302.5,228.2v2.5M376.7,219.9h8.8M376.7,219.9v4.5M331.2,181.1h5M331.2,181.1v4.1M382.2,216.5h6.5M382.2,216.5v1.6M265.5,178.6h9.6M265.5,178.6v4.1M362.2,219.5h8M274.8,175.1h5.4M351.9,202.2h2.2M351.9,202.2v1.8M372,217.7h9.1M469.3,227.1h6.4M328.1,212.3h6.1M309.4,180.3h9.4M309.4,180.3v4.7M303.2,210.5h6.8M265.8,220.1h7.7M265.8,220.1v2.2M477.5,231.8h5.7M414.7,233.6h6.9M414.7,233.6v4.5M251,238.9h7.2M251,238.9v2.7M340.1,211.1h5.9M340.1,211.1v4.1M364.7,238.1h2.4M276.6,178.4h4.9M276.6,178.4v3.2M293.8,201h6M293.8,201v4.5M495.6,235.5h5.2M495.6,235.5v4.6M354.1,221.1h7.6M415.9,244.6h8M289.1,187.8h8.2M270.9,203.9h6.5M278.7,211.8h6.9M278.7,211.8v4.9M351.5,216.7h8.3M351.5,216.7v1.7M426.6,245.9h2.1M426.6,245.9v3.4M342.9,204.8h9.7M342.9,204.8v2.8M301.7,198.2h8.5M301.7,198.2v2.3M273,224.2h6.2M273,224.2v1.7M313.4,194.7h8.9M383.2,228.5h7.6M383.2,228.5v2.6M421.1,229.5h7.2M421.1,229.5v3.3M273.7,220.9h5.3M273.7,220.9v1.7M321.9,209.7h3.8M321.9,209.7v1.5M460,239h8.6M460,239v3M397.1,243.8h7.8M231.8,190.8h8.4M268.2,219h4.8M341.8,207.3h7.1M341.8,207.3v2.4M331.6,235.2h4.6M331.6,235.2v4.4M301,194.5h8.4M301,194.5v1.7M340,199.9h2.5M340,199.9v3.7M259.1,221h3.2M367.3,233.7h2.8M315.1,174.9h7M315.1,174.9v3.9M326.8,212.6h7.6M379.9,227h6.1M414.1,235.1h2.2M507,225.8h6.2M507,225.8v3M286.9,196.2h8.1M286.9,196.2v4.8M288.1,193.2h4.5M288.1,193.2v4M311.5,196.4h4.3M333.6,173.8h9.7M461.7,241.1h7.6M461.7,241.1v3.7M362,216h3.9M285.5,195h5M371.2,229.4h7.2M371.2,229.4v3.9M227.5,217.1h4.2M227.5,217.1v2.8M258.8,203.7h2.6M258.8,203.7v4M438,225.2h2.2M261.9,231.5h6.8M371.7,220.3h9.1M371.7,220.3v4.8M258,203.8h6.1M258,203.8v4.7M351.2,205.7h2.9M317.1,211.6h9.9M317.1,211.6v3.1M266.3,181.3h3.9M314.3,201h5M394.5,234.3h8.6M394.5,234.3v1.7M255.9,220.6h8.7M315.9,196.8h4.6M315.9,196.8v2.2M346,197.8h4M346,197.8v3.5M444.9,245.9h3.5M444.9,245.9v1.8M334.8,232.1h8.4M334.8,193.6h9.3M334.8,193.6v2.4M277.1,175.9h9.2M277.1,175.9v5M313.3,213.7h4.8M284.7,210.2h8.9M290.4,205.1h6.9M290.4,205.1v2.3M270.2,172.4h3.6M270.2,172.4v3.8M394.7,239.1h7.9M394.7,239.1v2M464.5,234.3h7.2M464.5,234.3v4.8M335.4,201.5h5.5M311.2,212.2h6.8M311.2,212.2v1.8M392.4,235.6h8.2M246.3,174.8h5.7M246.3,174.8v3.9M260.9,211h9.8M289.4,189.1h9.6M289.4,189.1v4.4M309.2,213.7h9.3M309.2,213.7v4.9M327.2,233.9h9.2M398.5,229.8h8.9M398.5,229.8v3.2M369.2,208h9.7M358.2,211.9h2.5M358.2,211.9v3.1M406.5,234.3h9.9M287.1,214.6h9.2M287.1,214.6v1.8M233.8,203.7h8.2M233.8,203.7v3.9M362.6,229.3h5.6M296.9,196.9h3.8M304.7,187.8h9.6M304.7,187.8v1.6M296.5,172h7.3M312.8,178.5h4.6M262.5,228.3h2.5M262.5,228.3v3M309.3,222.2h8.5M473.8,233.1h6.2M231.3,206.6h2.7M267.5,176.5h9.3M267.5,176.5v4.1M362.8,209.6h4.9M314.4,224.2h4.3M314.4,224.2v4.5M230.1,221.6h7.6M230.1,221.6v4.8M330,205.4h3.5M330,205.4v4.8M240.3,191h5.3M240.3,191v3.4M250.3,197.9h2.1M250.3,197.9v2.7M345.3,208.9h3.4M345.3,208.9v1.5M451.5,241.4h4.6M451.5,241.4v3.6M472.2,229.3h3.8M362.4,205.3h2.2M362.5,209.3h2.3M362.5,209.3v3M499.6,237.3h8M390.5,241.7h7M390.5,241.7v3M340.3,203.6h5.6M389,235.9h5.7M474.5,236h7.7M381.2,238.1h5.5M360.5,204.9h2.1M360.5,204.9v3.7M458.7,227h8.8M458.7,227v1.7M408.3,230.2h4.3M408.3,230.2v2M427.5,237.2h4.5M394.5,221.7h5.8M444.2,238.5h6.6M444.2,238.5v3.4M367.5,212.8h5.6M367.5,212.8v1.6M379.1,212.3h2.6M379.1,212.3v1.8M401.6,225.1h5.8M401.6,225.1v2.8M357.3,213.5h7.9M385.1,232.4h5.5M385.1,232.4v1.9M414.2,242.2h8.6M414.2,242.2v3.9M457.8,242.1h2.3M457.8,242.1v2.8M390.9,236.7h3.4M380.1,226.4h3.7M380.1,226.4v1.9M468.9,242.6h2.2M477.4,238.7h2M396.4,238h8.7M452,229.5h3.9M452,229.5v3.7M355.5,212.3h7.1M361,222.1h2.8M382.6,214.5h6.3M371.3,209.2h3.5M350.3,198h6.6M350.3,198v3.1M339.2,204.5h8.7M511.9,230.3h3.1M351.8,203.5h7.4M351.8,203.5v2.3M376.5,230.7h3.5M365.2,217.8h4.4M378.1,226.6h4.4M378.1,226.6v3.8M507.9,228.1h6.6M363,226.1h7.6M391.5,219.5h8.1M338,201.2h5.4M338,201.2v3M496.4,237.4h8.7M405.6,232h4.8M405.6,232v3.5M370.8,226.8h8.8M361.7,214.4h6.5M407.4,228.8h2.8M340.4,210.4h8.3M340.4,210.4v3.6M354.9,218.6h7.8M495.9,235.1h7.4M356.9,205.6h8.7M353.5,205.3h5.4M353.5,205.3v3.6M386.4,237.4h5.6M348.2,200.3h6.4M348.2,200.3v2.1M378,220.8h3.2M378,220.8v1.6M430.5,230.1h7.4M430.5,230.1v3.3M434.6,237.5h7.3M434.6,237.5v1.9M372.4,228.1h5.4M372.4,228.1v2.8M418.1,244.6h8.9M418.1,244.6v3.3M470.1,239.2h3.6M435.6,238.8h6.7M435.6,238.8v2.8M352.1,208.2h7.2M352.1,208.2v1.9M394.9,238.2h2.2M343.3,210h7.9M343.3,210v2.5M399.5,236h6.7M440.7,226.8h3.8M440.7,226.8v3.4M440.8,225.4h2.3M340.6,205.2h2.3M340.6,205.2v1.9M390.7,237.6h8.7M390.7,237.6v1.6M421.7,244.2h7.2M366.4,215.8h3.6M366.4,215.8v3.3M355.7,224.2h2.5M355.7,224.2v2.1M507.7,240.3h8.3M472,238.9h4.6M472,238.9v3.2M370.3,228.8h4M334.5,185.4h8M369,221.6h4.2M369,221.6v2.6M362.3,213.1h5.4M361.3,210.7h8.8M365,229h8.8M354,200.6h7.8M354,200.6v3.8M457,229.3h8.6M384.6,233.3h2.5M385.7,230.7h8.3M385.7,230.7v2.3M335.4,177.5h4.6M432.2,242.8h3M498.6,225.7h4.3M482.6,238.7h7.7M479.8,230.7h6.9M377.7,236h6M377.7,236v2.2M394.2,228.7h8.6M336.7,172.5h7.9M382.3,221.1h7.2M382.3,221.1v2.1M410.1,228h8.3M410.1,228v3.5M493.2,226.4h8.8M493.2,226.4v2.1M496,242.2h7.8M399.3,226.3h7.7M453,234.8h3.7M453,234.8v3M495.2,228.2h6.1M495.2,228.2v3.4M352.6,213h2.2M445.9,240.1h3.8M385.1,227.6h2.8M346.2,210.9h5.5M467.5,244.6h7.5M467.5,244.6v2.8M413.7,225.8h3M473.2,240.5h6.2M473.2,240.5v3.7M378.8,214h5.6M378.8,214v1.9M334.1,183.9h8.8M440.6,244.8h2.9M440.6,244.8v2.6M431.6,235.3h6.2M338.5,200.8h6M338.5,200.8v1.8M407.5,234.3h6.9M407.5,234.3v3.9M465.4,232.7h7.6M472.3,244.5h8.2M424.2,225.4h2.1M424.2,225.4v3.3M391.1,231.1h8M391.1,231.1v2.7M382.3,235.7h7.2M382.3,235.7v3.3M337.1,206.9h6.9M337.1,206.9v3.8M460.3,225.6h2.1M460.3,225.6v2.3M346.3,200.9h3.3M435.1,225.6h5.1M435.1,225.6v1.8M409.3,229.4h2.3M380.8,215.7h8M394.8,243.2h4.5M490.9,243.2h2.8M366.2,218.7h2.5M334.6,180.8h8.8M334.6,180.8v3.4M363.3,214h6.6M362.7,219.2h3.6M363.7,212.8h4.4M348.5,200.9h6.6M385.5,235.1h3.3M385.5,235.1v3.2M371.4,211.5h7.4M371.1,219.2h6.4M371.1,219.2v2.1M484.2,244.9h8.9M341.3,198.5h6.3M334.2,182.6h4.6M489.4,232.4h3.6M386.1,240.9h7.3M386.1,240.9v3.8M338.6,190.9h4.4M338.6,190.9v4M503.2,230.4h7.4M503.2,230.4v2.2M413,236.3h2.7M413,236.3v2.5M445.9,224h4M464.4,242.9h4.5M403.4,225.8h6.9M433.1,226.5h4.2M433.1,226.5v2.6M453.2,225.5h8.8M494,226h4.9M494,226v1.6M373.2,212.2h6.4M336.1,175.8h4.7M336.1,175.8v2.9M394.1,224.4h7.2M394.1,224.4v1.8M481.8,233h7.3M481.8,233v2.5M475.2,240.8h8.5M437.4,235.3h4.5M350.3,202.5h4.1M509.8,244.6h6.4M509.8,244.6v3M352.6,216.4h7.3M344.4,202.3h3.9M352,205.6h7M380.2,217.7h8.5M479.6,244.2h4.1M479.6,244.2v4M424.9,237.8h8.5M373.4,226.3h8.9M373.4,226.3v2.7M366.1,207h3.4M366.1,207v2.8M452,231.1h4.9M452,231.1v2M437.4,238.1h2.6M371.9,220.5h8.9M510.6,242h9M510.6,242v1.9M357,202.9h2M357,202.9v3.5M395.6,243.3h4.3M351.9,211.7h8M395.1,221.7h7.8M395.1,221.7v3.9M348.3,206h8.2M348.3,206v2.6M381,232.8h4.2M381,232.8v3M464.4,225h4.8M464.4,225v2.6M467.3,237.7h7.5M467.3,237.7v2.1M476.6,235.7h2.4M476.6,235.7v2.5M496.5,224.8h4.4M359.7,205.9h5.4M447.4,236.4h2.8M451.6,233h3.4M451.6,233v1.8M394.4,232.2h3.7M394.4,232.2v2.1M377.3,235h5.2M393.6,224.2h3.6M393.6,224.2v2.3M456.2,229.9h2.1M456.2,229.9v2.9M386.8,232.5h5M386.8,232.5v3.3M474.6,243.9h6.6M474.6,243.9v1.5M356,205.1h2M484.3,225.2h2.6M484.3,225.2v3.8M376.6,230.6h2.2M376.6,230.6v4M440.5,225.6h3.1M380.1,222.2h4.1M376.3,222.3h7M376.3,222.3v3.7M389.6,228.8h7.5M404,242.7h2.2M404,242.7v1.6M411.7,236.5h3.8M394.5,228.8h8.7M361.4,225.3h8M399.4,230.5h7.1M386.4,220.1h8.5M386.4,220.1v3.5M380.3,216.2h6M465.7,235.5h8.9M465.7,235.5v3.1M459,241.5h2.2M459,241.5v2.3M364.6,215.9h3.6M485.9,243h4.7M390.2,238.7h2.1M380.8,223.4h2.1M380.8,223.4v2.4M335.9,184.7h8.7M482.1,233.5h3.7M379.9,221.2h4.2M379.9,221.2v1.7M359.4,209.8h3.9M359.4,209.8v3.1M508.4,226.7h3.5M508.4,226.7v2.3M372.3,212.9h3.1M372.3,212.9v3.4M401.5,236.2h5.8M401.5,236.2v1.8M384.9,240.2h8.5M334.7,175.5h5.8M334.7,175.5v3.4M392.4,237.2h9M392.4,237.2v2.9M446.5,243.8h4.4M448.2,235h5.1M448.2,235v2.5M393.8,231.9h3.6M393.8,231.9v3.8M384.8,223.6h4.6M384.8,223.6v3.4M432,239.7h4.6M432,239.7v3.6M390.2,236h7.1M376.7,221h6.3M411.8,224.9h3.3M423.8,241.9h5.5M423.8,241.9v2.8M413.1,225.1h2.8M484.2,224.4h6.1M484.2,224.4v3.5M337.7,195.3h4.4M337.7,195.3v3.8M382.1,216.1h7.7M382.1,216.1v2.8M445.6,224.2h2M445.6,224.2v3.1M484.6,234.1h3.9M484.6,234.1v3.5M504.3,228.4h7M468.6,235.2h2.2M368.3,217.9h6.4M368.3,217.9v2.3M380.9,236h4.2M380.9,236v3.4M446.8,231h7M446.8,231v2.1M428.2,243.4h6.4M428.2,243.4v1.9M436.1,228.5h3.8M367.5,220.5h7.8M367.5,220.5v2.5M347.2,208.8h8.5M347.2,208.8v2.3M391,221.8h5.2M427.6,232.9h8.7M427.6,232.9v3.5M364.5,217.3h4.1M364.5,217.3v3.4M452.8,239.8h7.3M427.4,227.7h7.4M427.4,227.7v1.8M422.9,241h7.3M422.9,241v1.5M348.1,213h2.1M371.8,231.5h8.2M371.8,231.5v1.6M334.6,172.7h7M334.6,172.7v3M423.9,237.4h2.9M366.7,218.8h6.1M366.7,218.8v3.3M449.1,228.2h5.8M449.1,228.2v2.2M448.5,239h3.7M358.8,215.3h2.9M377.2,216.5h3.7M377.2,216.5v3.5M392.6,227h6.4M392.6,227v2.1M372.5,211.8h3.9M417.1,228.6h2.1M417.1,228.6v1.6M361.4,216h6.8M361.4,216v2.8M340.8,206.6h4.7M340.8,206.6v1.6M381.7,233.8h5.6M377.5,215h3M478.6,233.3h7.4M478.6,233.3v2.2M417.8,237.7h3.1M417.8,237.7v3.9M389.6,239.1h6.8M389.6,239.1v1.9M346,197.1h8.4M346,197.1v2.5M351.4,208.2h8.6M351.4,208.2v2.4M417.8,243.8h4.5M402,229.3h6.1M395.9,224.9h7.9M408.3,244.4h6.1M408.3,244.4v2.1M367.3,226.6h8M421.2,234.6h7.5M388,222.4h7.8M406.6,229.3h8.1M336.8,168.3h3.6M336.8,168.3v1.7M405.4,232h3.3M423.8,231h8M423.8,231v2.6M391.7,228.6h2.6M436.6,236.7h6.4M340.7,202.7h6.8M491.5,234.3h2.6M381.5,226h3.7M377.9,218.5h4M339.8,199.3h8.3M339.8,199.3v2.9M441.6,231.6h6.9M395.4,224.9h4M395.4,224.9v3.8M463.7,242.5h4.1M463.7,242.5v3.7M351.5,212h4M351.5,212v3M445.1,240.2h6.2M445.1,240.2v4M372.1,226.7h5.3M423.6,238.7h7.7M423.6,238.7v2.9M385,231.5h8.8M385,231.5v2.4M491.3,236.6h3.4M364,213.4h2.4M374.8,224.7h8.6M374.8,224.7v1.8M360.5,204.3h3.3M360.5,204.3v3.7M500.3,224.2h8.9M362.5,206h8.5M488,226.8h3M494.8,237.2h3M356.9,209.6h5.4M356.9,209.6v3.9M435.1,234.7h4.5M435.1,234.7v1.8M364.9,212h3.3M364.9,212v2.4M436.7,235.9h5.2M436.7,235.9v3.5M499.1,240.9h3.9M359,217.1h3.6M387,241.3h7.7M387,241.3v2.4M475.1,227.8h7.8M475.1,227.8v2.2M425.4,234h7.7M359.9,226h6.3M359.9,226v3.6M355.8,203.9h8.3M355.8,203.9v3.4M440.4,225.5h8.7M378.4,214.1h6.2M378.4,214.1v3.3M374.5,225.9h2.4M374.5,225.9v3.1M351.9,202.6h7M368.8,223.9h9M384.6,235.1h8.7M486.7,227.6h8.1M395.9,230.3h4.4M390.4,221.6h4M390.4,221.6v2.2M359.8,209.7h8.2M359.8,209.7v3.5M474.3,240.6h5.7M390.5,226.5h4.3M504.3,230.7h7.4M380.2,226.6h6.5M380.2,226.6v2.7M346.9,204.1h4.5M346.9,204.1v3.4M335.6,171h5.1M369.7,212.8h5.2M477.5,228.6h8.1M477.5,228.6v3.6M409.5,239.7h6.8M409.5,239.7v3.3M370.9,210.4h4.8M370.6,218.6h7.2M370.6,218.6v2.6M393.8,240h5.7M393.8,240v2.4M399.3,235.8h3.9M399.3,235.8v2.5M509.5,232.5h4M509.5,232.5v2.8M439.6,234.9h8.8M439.6,234.9v2.6M388.6,227.6h6.1M388.6,227.6v3.1M503.5,234.2h7.3M503.5,234.2v1.9M453.6,233.9h4.1M453.6,233.9v3.3M338.7,190.8h2.5M338.7,190.8v2.7M370.1,228.5h8.6M409.1,228.1h5.7M409.1,228.1v3.4M427.6,230.4h5.8M427.6,230.4v2M477.7,239.6h2.2M378.3,224.7h5.8M378.3,224.7v2M394.2,228.2h4.3M483.8,228.2h2.2M363.9,211h3.8M499.3,228.5h2M337.3,197.9h8.4M363.8,227.1h8.5M363.8,227.1v2M489.1,244.8h4.4M489.1,244.8v2.2M511.4,242.6h2.5M452.5,226.4h7M451.4,230.2h4.3M506.9,241.9h4.9M340.9,206h4.7M483,224.6h5.1M499.3,236.5h5.7M344.2,213h3.2M344.2,213v1.5M485.9,241.6h8.7M485.9,241.6v2.2M346.2,199.5h3.8M352.7,207.7h8.7M352.7,207.7v2.9M504.7,227.3h8.2M504.7,227.3v3.8M432.3,228.5h8.3M377.5,226.8h8.2M377.5,226.8v1.8M511.6,238.8h2M359.8,204.7h5.6M359.8,204.7v3.9M435.3,241.5h6.3M435.3,241.5v1.8M434.4,230.4h4.2M434.4,230.4v3.1M401,227h5.5M363.6,222.2h3.5M363.6,222.2v2.9M392.4,220.8h8.7M392.4,220.8v2.5M464.2,232.8h8.4M464.2,232.8v3.2M337.4,205.4h3.5M363.3,208.4h4.9M432.2,239.4h2.1M432.2,239.4v3.5M368.1,218.8h4.9M479.4,226.8h7.3M479.4,226.8v3.8M374.9,221.4h2.3M335.2,176.9h7.2M335.2,176.9v3.9M390.1,241.1h8.7M350.2,206h3.1M344.2,217.1h3.3M344.2,217.1v3.7M451.5,238.2h8.1M366.7,208.4h2.7M489.3,227h3.3M378.7,212.3h8M389.7,233.8h3.8M401.2,232.5h5.4M493.2,231.7h8.5M493.2,231.7v1.9M456.4,226.3h7.8M456.4,226.3v2.1M365,223.2h6.5M365,223.2v3.4M475.4,242h3.2M355.9,203.7h7.2M355.9,203.7v1.7M472.2,236h4.2M365.3,210.4h2.9M359.6,217.4h8.3M359.6,217.4v3.6M380.1,230.8h5.2M452.3,237.5h5.9M493.9,230.6h5.8M494.5,237h6.4M494.5,237v3M408,224.9h2.4M408,224.9v1.8M408.6,226.2h3M408.6,226.2v1.5M447.9,243.7h2.6M447.9,243.7v2.7M354.4,211.5h7.9M354.4,211.5v4M389.9,241.7h4.4M389.9,241.7v3.1M356.5,215h8.2M356.5,215v2.8M425.7,243.4h3.2M425.7,243.4v2.7M399.1,240.9h3.9M469.7,244.3h7.4M380.5,227h7M448.3,236.6h2.2M448.3,236.6v2.2M370.6,218.5h2.6M370.6,218.5v1.8M498.6,230.2h3M411.7,229.7h8.8M423.8,242.6h3.4M423.8,242.6v3.7M465.3,229.4h5.6M494.1,239.1h4.3M408.3,232.1h8.9M369.1,212.4h4.5M369.1,212.4v2.2M484,235h8.3M421.2,244.1h6.3M383.2,218.4h2.1M383.2,218.4v2.6M356.9,214.2h8.7M356.9,214.2v1.7M397.8,245.4h5.9M397.8,245.4v3.5M501.3,240.4h7.6M501.3,240.4v2M383,214.4h4.6M383,214.4v2.8M370.9,213.9h4M436.3,240.3h8.7M378,217.8h4.8M457.8,231.4h2.3M457.8,231.4v2.2M382,225.2h8.1M357.7,207.4h3.1M464,230.1h7.1M344.9,216.2h6M344.9,216.2v3.9M348,213.2h6.6M364,224.1h8.5M364,224.1v2M356.9,217.6h7M356.9,217.6v2.3M486.7,229.9h7.4M486.7,229.9v2M504.9,227.8h7.9M465.2,240.1h8.1M465.2,240.1v3.1M375.3,214.9h8.4M460.2,234.4h5M431.9,233.7h8.1" stroke="#2a7a36" stroke-opacity="0.7" stroke-width="0.7" fill="none"/></g>
<polygon points="116,229.5 120.5,197.8 166.5,197.8 167.6,178.4 244.6,178.4 245,171.8 267.5,171.8 267.6,168.4 483.5,168.4 488.8,178.2 458.3,221.1 511.8,221.1 519.8,275.2 509.2,275.2 509.2,280.2 487.3,280.2 487.3,286.6 398.6,286.6 396.8,250.3 299.5,250.3 299.5,256.6 252.7,256.6 252.7,262.7 182.7,262.7 182.5,229.5" fill="none" stroke="#3a9a4a" stroke-width="1"/>
<polygon points="224.2,82 228.8,77.4 233.1,76.1 232.8,74.1 235.5,74.9 240.6,72.2 244.3,68.5 245.3,70.1 253.5,69 255.3,70.4 256.3,70 261.8,67 266.2,70 270,67.6 271.9,67.4 274.5,69.2 278.4,67.5 280.8,67.9 285.2,67.8 287.2,67.2 291.3,68.5 295.8,68.1 298,65.6 303.3,67.5 308.3,66 313.1,62.3 312.1,64.7 320,62.1 323,63.9 323.2,62.5 328.9,59.8 332.9,62.6 337,61.1 337.3,64.9 337.7,67 339.9,72.1 338.3,75.9 339.8,73.4 342.6,76.8 346.9,77.4 350.2,79.2 355.6,80.8 355.8,83.2 360.4,84.1 363.5,84.9 365.9,90.4 372.4,88.3 372.3,93.2 377,91.9 380.3,95.6 381,94.6 385.6,96.3 390.7,100.7 389.8,99.9 393.5,104 397.4,106.6 400,108.9 400.5,112.7 398.8,117.8 396.8,116.4 395.1,115.7 388.3,118.5 383.6,119.3 379.4,118.4 377,117.5 376.8,117.3 368.7,119.3 365.6,120.1 364.5,117.7 360.7,118.2 355.4,116.7 351.5,118.5 347.9,119.5 348,120.7 340.5,117.1 338.7,116.2 337,120 329.8,119.2 326.8,119.7 325.4,118.9 320.6,115.9 315,116 311.2,116.2 307.1,116 304.5,115.1 299.3,115 296.1,117 295.4,114.7 289.9,118.4 289.1,116.1 283.3,117.6 278.1,116.2 274.2,116.6 273.9,115.6 269.2,116.1 265.2,118.1 260.5,115.2 256,117.2 255.9,117.5 249.1,116.7 246.5,116.9 244.2,115 236.4,113.3 236.8,112.7 231.6,111.3 229,113.8 227.8,109.6 223.9,104.3 220.4,101 219.3,98.5 221.1,91 221.2,88.5 222.2,85.3" fill="#8b6fd6"/>
<path d="M294.9,52.7h3v1.4h-3zM271.4,55.9h2.7v1.2h-2.7zM277.1,60h3v1.1h-3zM324.9,66.6h4.5v1.5h-4.5zM248.2,68.3h1.1v1.1h-1.1zM332.7,58.5h1.9v0.9h-1.9zM295.6,55.3h3.1v1.7h-3.1zM279.2,62.7h3.7v1.5h-3.7zM285.6,53.7h4.1v1.8h-4.1zM323.5,64.7h1.2v1.8h-1.2zM282.5,61.6h1.1v1.6h-1.1zM258,62.6h4.3v1.5h-4.3zM312.1,66.6h3.3v1.8h-3.3zM322,66.8h1.8v1.5h-1.8zM321.1,68.4h1.9v1.9h-1.9zM291.1,55.5h4.2v0.8h-4.2zM327.4,63.3h2.6v1.7h-2.6zM314.1,51.5h4.2v1h-4.2zM285.1,62.8h3v1.6h-3zM326,54.5h1.8v1.9h-1.8zM326.6,60h2.4v1.2h-2.4zM270.5,63h2.5v2h-2.5zM293.7,61.7h1.7v0.9h-1.7zM305.6,54h2.8v0.9h-2.8zM280.1,56h3.9v1.8h-3.9zM254.2,62.9h4.1v1.7h-4.1zM312.2,57.5h3.1v1.7h-3.1zM263.2,53.5h3.5v0.9h-3.5zM263.8,55.9h1.6v1h-1.6zM323.8,63.3h2.6v0.9h-2.6zM269.7,69.1h2.9v1.3h-2.9zM332.4,51.9h1.2v1.3h-1.2zM294.1,58.7h1.2v1.9h-1.2zM324.2,65.3h2v0.8h-2zM304.6,62.9h2.6v0.8h-2.6zM276.8,59.4h1.9v1.1h-1.9zM262,57.3h3.3v0.8h-3.3zM309.5,62.4h3.6v2h-3.6zM314.6,58.6h2.1v1.4h-2.1zM313.5,51.2h2.7v0.8h-2.7zM295.9,56.8h3.2v0.9h-3.2zM289,56.3h1.6v1.7h-1.6zM273,52.3h2.3v0.9h-2.3zM326.5,67.7h4.2v1.8h-4.2zM333.5,58.5h2.6v1.1h-2.6zM335.4,61.8h1.2v1.2h-1.2zM329,66.2h1.2v0.9h-1.2zM311.6,63.4h3.3v1.2h-3.3zM290,68.1h3.4v1.6h-3.4zM283.2,56.3h3.1v1.3h-3.1zM283.6,56.1h1.6v1.9h-1.6zM279.7,61.2h1.9v1.6h-1.9zM261.1,59.9h1.4v1h-1.4zM321,58.8h1.1v1.2h-1.1zM298.8,52h2.4v1.8h-2.4zM330.8,66.3h2.8v1.9h-2.8zM248.3,58h4.4v1.6h-4.4zM305.1,54.3h2.1v1.7h-2.1zM298.7,64h4.2v1.2h-4.2zM253.6,55.2h2.3v1.9h-2.3zM259.4,64.2h3.6v1h-3.6zM271.7,66.8h3.7v1.1h-3.7zM274.5,53.1h1.7v1.7h-1.7zM309.6,57.4h2.6v2h-2.6zM255.5,60.1h1.6v1h-1.6zM309.8,51h3.2v1.8h-3.2zM293.9,56.7h1.6v1.5h-1.6zM325.6,68.7h3.8v1.6h-3.8zM265.2,58h2.8v1.5h-2.8zM296.2,62.6h2.6v1h-2.6zM247.9,62h1.4v1.9h-1.4zM305,64.6h3.9v1.4h-3.9zM266.5,64.3h1.9v0.8h-1.9zM279.6,67.2h2.3v1.1h-2.3zM320.8,58.4h4.4v1.8h-4.4zM298.2,66h3.6v1.3h-3.6zM283.2,54.2h2.9v1.3h-2.9zM325.8,66.8h3.2v2h-3.2zM251.6,53.2h2.4v1.3h-2.4zM288.4,59.8h3.1v1.9h-3.1zM322.7,66.9h3v1.7h-3zM275.8,66.3h4.2v1.3h-4.2zM257.3,53.7h3.5v0.8h-3.5zM268.1,58.5h1.9v1.8h-1.9zM276.4,57.3h2.6v1.8h-2.6zM320.4,59.2h2.4v1.1h-2.4zM335.9,54.4h2.9v0.9h-2.9zM272.2,61.3h2v1.9h-2zM321.6,61.8h2v1.5h-2zM321.5,53.7h4.4v1.9h-4.4zM326.3,69.3h3.2v1.7h-3.2zM310.5,57h3.9v1h-3.9zM297,54.7h4.2v2h-4.2zM319.1,53h3v1h-3zM247.3,64.3h2.6v1.1h-2.6zM245.8,59.7h1.6v1.8h-1.6zM266.1,67.4h3.1v1.7h-3.1zM295.3,68.1h2.1v1.6h-2.1zM316.7,62.8h4.5v1.8h-4.5zM246.1,56.8h3.9v1.8h-3.9zM314.6,57.3h2.6v0.8h-2.6zM271.2,59.8h3.9v1.9h-3.9zM284.5,64.6h2.8v1.8h-2.8zM306,57.5h3.3v0.8h-3.3zM333.8,69.7h2.9v1.7h-2.9zM272.1,58.9h2.8v0.8h-2.8zM326.8,61.7h2.3v1.1h-2.3zM335.6,57.2h2.7v0.8h-2.7zM249.7,66.1h1.7v0.9h-1.7zM326.7,52h4.2v1.8h-4.2zM284.3,65.3h2.4v1.9h-2.4zM328.2,58h2.7v1.6h-2.7zM319,69.9h2.7v1h-2.7zM313.8,53h4.3v0.8h-4.3zM278.4,55.4h3.2v1.8h-3.2zM315.5,64.2h1.5v1.3h-1.5zM296.9,56.5h2.5v1.2h-2.5zM279.5,58.1h4.4v1.5h-4.4zM283.3,59.6h2.7v1.8h-2.7zM327.7,69.9h2.7v1.2h-2.7zM298.4,69.7h4.4v1.3h-4.4zM324.2,53.3h3.8v1.4h-3.8zM270.8,65.2h2.8v2h-2.8zM311.2,60.1h1.8v1.1h-1.8zM295.5,59.2h2v1.7h-2zM323.9,60h1.7v1h-1.7zM327.2,51.1h4.3v1.5h-4.3zM279.5,69.7h2.9v0.9h-2.9zM323,53.6h1.5v2h-1.5zM284.5,69.5h3.1v1.6h-3.1zM265.8,64.1h3.4v1.2h-3.4zM259.5,69.7h1.8v0.9h-1.8zM333,61h3.3v0.8h-3.3zM322.7,54.6h3.4v1.5h-3.4zM299.1,58.7h1v1.2h-1zM314.1,69.1h1.3v1.1h-1.3zM289.5,61h3.2v1.8h-3.2zM280.8,55.9h2.5v1.8h-2.5zM333.3,59.1h1.2v1.6h-1.2zM305,68h4.1v1.1h-4.1zM311.5,58.2h1.7v1.6h-1.7zM257.6,62.4h3.1v1.5h-3.1zM286.5,59.8h2.4v1.2h-2.4zM304.8,60.5h2.7v0.9h-2.7zM280.6,58.2h2.7v0.8h-2.7zM285.3,63.4h1.2v2h-1.2zM268.7,56.2h2v1.2h-2zM304.7,56.1h4.2v1.5h-4.2zM318.7,66.1h1.6v1.8h-1.6zM269.3,59.6h1.5v1.4h-1.5zM334.3,54.1h4.4v1.5h-4.4zM264.9,64.8h3v1.2h-3zM281.8,61.6h3.7v1.6h-3.7zM257,61.7h3.5v1.8h-3.5zM257.5,69.4h1.6v1.1h-1.6zM286.7,68.1h4.4v1.2h-4.4zM249.5,56.3h3.1v1.8h-3.1zM251,62.7h1.6v1.1h-1.6zM314.7,62.4h1.4v1.9h-1.4zM308.9,53.1h3.9v1.3h-3.9zM299.3,54.1h2.6v1.8h-2.6zM312.9,60.7h3.8v1.3h-3.8zM244.4,64.1h4.3v1.9h-4.3zM313.4,69.6h1v1.1h-1zM261.4,58.4h4.4v1.1h-4.4zM298.8,65.4h4v1.5h-4zM295.6,69.2h3.8v1.1h-3.8zM306.7,56.8h1.7v1.8h-1.7zM289.9,69.3h4.2v1.2h-4.2zM291.2,65.2h2.2v1h-2.2zM318.3,60h4.2v1.7h-4.2zM261.7,59.3h3.4v1.7h-3.4zM326.1,62.9h1.9v1.3h-1.9zM284.3,62.4h3.4v0.9h-3.4zM274,52.6h4.2v1.4h-4.2zM289.8,57.5h3.5v1.9h-3.5zM283.4,51.9h3.7v1.8h-3.7zM253,64.5h2.4v1.3h-2.4zM291.1,58.7h3.7v1.6h-3.7zM324.1,52.5h3.5v1.2h-3.5zM330.7,56.5h3.7v1.6h-3.7zM264.2,67.5h1.5v1.9h-1.5zM246.4,59.3h3.5v1.3h-3.5zM302.9,60.7h3v1.8h-3zM268.7,62h2.1v1.5h-2.1zM264.9,62.8h4.3v1.8h-4.3zM251.9,56.4h1.7v0.8h-1.7zM273.3,65.7h2.6v1.6h-2.6zM307.7,56.9h4.2v0.9h-4.2zM313.7,62h3.2v1.3h-3.2zM254.8,54.4h2.7v1h-2.7zM327.1,61h3.8v1.9h-3.8zM320.3,68.3h4.4v2h-4.4zM322.8,65.4h1.5v1.6h-1.5zM244.6,58.5h2.3v1.2h-2.3zM244.5,59.5h3v0.9h-3zM303.1,69h4.2v1.5h-4.2zM313.8,63.7h1.9v1.3h-1.9zM306.6,55.8h2.5v1.4h-2.5zM324.4,68.4h1.1v0.9h-1.1zM298.9,61.6h2.2v1.1h-2.2zM300.3,55.2h2.4v1.3h-2.4zM268.3,66.8h4.4v1.4h-4.4zM334.2,63h3.5v1h-3.5zM306.5,54h4.4v1.1h-4.4zM262.3,60.5h2v1h-2zM306.2,69.9h4.3v1h-4.3zM314.2,59.2h2v1.6h-2zM278.7,57.1h3.2v0.8h-3.2zM288.5,53.9h1.4v0.9h-1.4zM309.5,69.3h1.9v1.2h-1.9zM281.8,58.3h1.2v1h-1.2zM269.1,62.5h2.6v0.9h-2.6zM279.4,59.1h3.5v1.9h-3.5zM289,55.8h4.2v1.8h-4.2zM331.7,68.8h3.8v1.6h-3.8zM334,51h2.6v1.9h-2.6zM314.2,57.7h3.2v1.2h-3.2zM303.9,60h1.5v1.1h-1.5zM278.1,60.5h3.3v1.2h-3.3zM282.6,67h3v1.9h-3zM263.2,65.2h3.9v2h-3.9zM319.9,61.9h3v1.4h-3zM288.9,63.2h3.1v1.2h-3.1zM335.3,58.1h3v0.8h-3zM316.3,67.5h2.8v1.2h-2.8zM274,60.1h4.1v1.5h-4.1zM303.7,58.8h2.8v1h-2.8zM306.9,57.8h3.4v1.3h-3.4zM276.6,53.2h3.9v1.6h-3.9zM282.2,59.8h3.5v0.9h-3.5zM246.3,69h1.1v0.8h-1.1zM299.3,53.5h3.3v1.1h-3.3zM336.7,64.4h1.5v1.1h-1.5zM288.1,67.4h4.4v1.9h-4.4zM285.6,57.7h4.3v0.8h-4.3zM251.8,65.8h3v1.2h-3zM259.2,64.4h2.5v1.2h-2.5zM331.2,55.4h4.2v2h-4.2zM292.2,64.6h2.2v1.7h-2.2zM246.8,62.5h3.9v1.7h-3.9zM270.6,60.5h1.5v1.6h-1.5zM311.7,55.4h2v1.1h-2zM279.3,60.5h1.2v1.3h-1.2zM287.4,53.9h3.3v1.7h-3.3zM276.8,54.5h2.3v1.6h-2.3zM250.5,68.3h3.3v1.7h-3.3zM276.5,66h1.2v1.2h-1.2zM286.8,59.4h4.4v1.2h-4.4zM245.8,53.6h3v1.9h-3zM253.4,68.9h1.9v1.9h-1.9zM261,69.1h3.4v1.4h-3.4zM276,67.5h1.4v1.7h-1.4zM312.3,68.4h1v0.9h-1zM273.1,54h2.4v1.8h-2.4zM259.7,59.1h4.5v1.9h-4.5zM265.9,58h3.1v1.9h-3.1zM312,65h3v1.2h-3zM324.4,58h2.6v1.8h-2.6zM320.1,63.9h1.6v1.1h-1.6zM262.9,66.6h2.9v1h-2.9zM264.4,69.7h4.1v0.9h-4.1zM287.6,68.7h2v1.9h-2zM301.1,64.5h1.7v1.4h-1.7zM312.5,60.7h2.6v1.3h-2.6zM247.3,56.2h4.3v1.5h-4.3zM283.2,62.3h3v1.6h-3zM298.6,66.5h4.1v1.6h-4.1zM244.5,61.3h1.1v0.9h-1.1zM303.6,64.1h2.8v1.5h-2.8zM321.8,64.8h1.1v1.6h-1.1zM332.3,54.5h2v1h-2zM285.2,56.8h1.2v2h-1.2zM252.5,68.2h2.5v1.9h-2.5zM270.7,58h1.4v1h-1.4zM285.4,59.5h3v2h-3zM291,58.4h2.5v1.8h-2.5zM314.7,61.9h3.5v1.1h-3.5zM253.8,60.5h1.5v1.3h-1.5zM253.4,54.4h2.2v1.2h-2.2zM276.8,66.8h2.5v2h-2.5zM307.9,63.2h3.9v1.1h-3.9zM286.7,57.1h2.2v1.1h-2.2zM286.4,59.3h1.2v2h-1.2zM255.1,68h1.1v1.5h-1.1zM289.2,59.8h4.3v1.1h-4.3zM331.3,55.8h1.1v1.8h-1.1zM276.9,61.4h4.3v1.2h-4.3zM319.4,54.2h2.5v1.7h-2.5zM277.5,58.9h2.5v1h-2.5zM327.8,61.9h2.2v1.3h-2.2zM290.8,67.3h1.3v1.8h-1.3zM318.4,60.2h1.1v1.3h-1.1zM289.5,64.8h2.1v1.9h-2.1zM308.8,68.9h1.2v0.8h-1.2zM247.1,66h1.9v1.9h-1.9zM260.7,58h2.7v1.7h-2.7zM288.4,61.9h3.6v1h-3.6zM255.8,58.1h1.3v1.6h-1.3zM286.3,62.3h3.4v0.9h-3.4zM254.9,61.5h2.8v1.8h-2.8zM299,66.6h1.2v1.1h-1.2zM301.6,68.8h4.2v1.8h-4.2zM329.9,66.4h4.5v1.2h-4.5zM320,60.1h2.1v1.7h-2.1zM325.7,63.5h1.4v1.3h-1.4zM285.6,60.3h3.6v1.2h-3.6zM293.5,54.7h1.7v1.8h-1.7zM285.3,67.3h1.6v1.7h-1.6zM332.6,63.4h3.5v1.7h-3.5zM311.2,61.3h1.6v1.6h-1.6zM314.4,67.3h4.2v1.9h-4.2zM314.2,60.2h3v1.9h-3zM303.8,70h3.7v1.2h-3.7zM247.3,59.1h3.8v1.1h-3.8zM277.8,62.2h4.5v1.5h-4.5zM330.3,68.9h3.5v1.1h-3.5zM305.2,59.8h1.9v1.7h-1.9zM274.6,57.8h1.3v1.6h-1.3zM304.3,63h4.1v1.6h-4.1zM246.2,61.4h1.8v0.9h-1.8zM246.3,58.1h2v1.2h-2zM255.1,57.6h2.2v1.1h-2.2zM257.1,61.4h3.7v1.9h-3.7zM329.7,67.2h2.9v1.8h-2.9zM317.6,60.9h2v1.6h-2zM247.6,67.4h1.8v1.2h-1.8zM305,68.4h4.3v1.3h-4.3zM245.2,62.3h2.4v1.6h-2.4zM269.6,67.3h2.4v1.9h-2.4zM295,59.8h1.6v1.1h-1.6zM258.5,58.7h4.4v1.9h-4.4zM334,63.5h2v1.5h-2zM272.9,69h2v1.7h-2zM285.9,60.9h3.5v1.9h-3.5zM263.9,55.7h2.7v1.4h-2.7zM266.5,68.3h3.8v1.8h-3.8zM269.3,54.3h1.9v1.9h-1.9zM252.1,59.2h2.7v1.8h-2.7zM279.3,53.1h1.6v1.9h-1.6zM272.7,65.6h2.8v1.9h-2.8zM264.8,58.8h3.9v1.7h-3.9zM291.7,63h1.7v0.8h-1.7zM276.9,64.1h2.4v1.9h-2.4zM318.5,58.4h1.1v1h-1.1zM330.3,53.1h2.1v2h-2.1zM325.2,51.3h1.5v1.7h-1.5zM251.2,70h3.8v2h-3.8zM255.7,57.9h2.6v0.9h-2.6zM326.4,59h2.7v1.6h-2.7zM255.8,67.5h3.3v1.7h-3.3zM310.3,63h4.3v1.5h-4.3zM321.4,53.7h3.1v1.2h-3.1zM307.1,63.5h1.4v1.3h-1.4zM288.8,67.6h3.9v1.6h-3.9zM279.5,64.5h2.2v1.4h-2.2zM334.3,59.9h3.6v1.4h-3.6zM250.3,57.2h3v1.5h-3zM311.9,57.4h2v0.8h-2zM295.6,56.6h3.1v1.2h-3.1zM267.4,59.1h3.3v0.9h-3.3zM245.8,56.4h2.9v1.7h-2.9zM332.8,65.5h2v1.8h-2zM330.9,66.2h3.2v1.5h-3.2zM315.1,69.1h3.7v1.1h-3.7zM264.2,67.5h4.4v1.8h-4.4zM292.8,54.4h2.5v0.9h-2.5zM331.4,55.2h1.8v0.9h-1.8zM290.8,53.1h3.1v1.7h-3.1zM245.6,69.1h4.2v1.8h-4.2zM308.6,51.7h1.5v1.6h-1.5zM282.2,57.6h1.7v1.8h-1.7zM336.1,55.7h2v1.4h-2zM283.2,62.6h2.3v1.4h-2.3zM268.7,69.1h1.4v1h-1.4zM282.7,52.3h2.4v1.5h-2.4zM263.3,61.2h2v1.2h-2zM336.9,60.2h1.6v1h-1.6zM246.6,68.6h2.1v1.7h-2.1zM262.2,67.8h2v1.4h-2zM281.6,61.5h1.3v1.5h-1.3zM259,59.2h1.8v1.1h-1.8zM286.2,64.8h4.2v1.7h-4.2zM257.8,67.8h3.5v1.8h-3.5zM326.9,61.6h4.2v1.6h-4.2zM271.7,54.3h3.5v0.9h-3.5zM316.9,54.1h3.8v1.4h-3.8zM306.1,61.5h4.5v1.8h-4.5zM278.6,56.3h3.2v1h-3.2zM244.2,63.9h1.2v1.7h-1.2zM260.6,67h3.1v1.6h-3.1zM328.4,60.7h3v1.8h-3zM300.7,53.3h2.3v1.6h-2.3zM300.7,63.3h4.3v1.4h-4.3zM249.6,61.4h2.5v1.9h-2.5zM245.5,53.9h4.5v1.7h-4.5zM332.4,66.2h1.5v1.6h-1.5zM287.2,62.2h4.4v1.5h-4.4zM266.3,55.8h4v1.3h-4zM275.1,61.6h2.3v1.3h-2.3zM291.9,57.8h3.2v1.2h-3.2zM307.1,66h1.5v0.8h-1.5zM302.6,58.9h2.7v1.5h-2.7zM289.1,68.5h2.2v1.3h-2.2zM301.9,57h4.2v1.9h-4.2zM305.6,68.9h1.7v1.6h-1.7zM254.3,59.7h1.8v1h-1.8zM281.4,56.9h1v1.6h-1zM321.9,56.6h1v0.8h-1zM311.3,51h1.4v1.9h-1.4zM297,55.7h1.6v1.6h-1.6zM336.2,58.6h1.8v0.9h-1.8zM275.1,67.1h3v1.5h-3zM332.1,65.3h1.9v1.3h-1.9zM255.9,55.9h2.4v1.2h-2.4zM268.8,60.2h1.2v1.3h-1.2zM275.9,52h3.1v1.4h-3.1zM305.5,54.3h3.2v1h-3.2zM331,63.3h1.9v1.6h-1.9zM317.7,56.4h1.6v1.3h-1.6zM293.3,61.6h4.5v1.9h-4.5zM327.5,67.4h4.5v1.8h-4.5zM318.9,69.3h4.4v2h-4.4zM301.4,68.8h1.5v1.8h-1.5zM281,64.5h3.1v1.3h-3.1zM304.3,63.3h4v0.8h-4zM245.5,57.3h1v1.7h-1zM316,53.4h2.4v1.9h-2.4zM336.1,53.2h3.7v2h-3.7zM335.4,69.7h2.9v0.9h-2.9zM324.1,57.9h1v1.6h-1zM322.2,67.1h1.2v1.7h-1.2zM310.1,55.9h4.1v1.9h-4.1zM248,59.7h4.1v0.8h-4.1zM259,66.7h2.6v1.9h-2.6zM277.1,60.3h2.4v1.7h-2.4zM296.1,56.3h2.9v1h-2.9zM294.4,55.6h1.5v1.1h-1.5zM284.6,56.7h4.3v0.8h-4.3zM249.3,63.5h3.9v1.9h-3.9zM253,65.3h2.7v1.1h-2.7zM255.5,53.3h1.5v1.6h-1.5zM332.6,55.2h4.5v1.5h-4.5zM275.8,64h2.8v1.1h-2.8zM295.6,66.6h3.7v1.4h-3.7zM245.5,68.1h1.7v1.7h-1.7zM255.6,58.5h4.4v1h-4.4zM246.7,61.7h4.4v1.3h-4.4zM305.1,62h3.2v1.8h-3.2zM315.1,55.1h3.4v1h-3.4zM316.1,54.3h2.5v1.7h-2.5zM253.6,55.7h3.3v0.9h-3.3zM283.8,69.9h4.3v1h-4.3zM319.8,57h3.8v1h-3.8zM323.4,66h3.8v1.7h-3.8zM300.2,62.3h3.3v1.3h-3.3zM336.2,55h4.4v1h-4.4zM249.6,62.4h4.4v1.4h-4.4zM276.1,64h4.1v1.2h-4.1zM288,55.4h2.5v1.2h-2.5zM314.3,60.8h2.5v1.4h-2.5zM331.7,52.8h3.5v1.4h-3.5zM308.4,69.8h2.4v1.3h-2.4zM261.7,67h4.3v1.6h-4.3zM255.3,64.1h1v0.8h-1zM317.5,55.4h4.3v1.8h-4.3zM268.4,57.1h1.5v0.8h-1.5zM292.9,55.7h2.8v1.8h-2.8zM271.8,63.6h3v1.7h-3zM292.8,66.9h2.1v1.6h-2.1zM308.3,67.4h1.3v1.3h-1.3zM291.4,63.6h2.5v0.9h-2.5zM336.7,65.4h1.7v1.9h-1.7zM271.6,54h3.9v1.5h-3.9zM270.4,55.8h1.9v1.3h-1.9zM306.5,69.4h3.5v1.6h-3.5zM285.1,66.5h2.1v1.5h-2.1zM304.2,53.3h3.9v1.8h-3.9zM326.1,63.5h4.1v1.1h-4.1zM289.5,51.5h2.4v1.2h-2.4zM257.2,68h4.2v0.9h-4.2zM274.1,67.6h4v0.8h-4zM305.9,69.1h2.9v1.7h-2.9zM324.5,57.3h2.8v1.7h-2.8zM278.1,53.8h2.3v1.3h-2.3zM245.6,53.8h3.4v1.3h-3.4zM264,57.8h1.3v0.8h-1.3zM249,63.1h3.6v1.3h-3.6zM307.1,63.9h3v1.8h-3zM252.7,63.3h4v1.3h-4zM245.3,56.7h4v1.2h-4zM248.2,61.6h3.4v1.9h-3.4zM259.7,66.8h2.9v1.9h-2.9zM259,60.5h3.5v0.9h-3.5zM326.4,63h1.9v1.6h-1.9zM333.5,51.6h2.2v1.7h-2.2zM279.3,69.7h1.8v1.9h-1.8zM332,57.2h2.4v1.9h-2.4zM247.4,68.4h3.8v1.8h-3.8zM265,64.3h1.8v1.1h-1.8zM258.5,54.7h1.9v1.6h-1.9zM267,52.3h1.5v1.8h-1.5zM310.9,52.3h1.9v1.1h-1.9zM314,55.4h4v0.9h-4zM303.7,62.1h2.9v2h-2.9zM269.2,60.5h2v2h-2zM290,54.4h2.3v0.9h-2.3zM263.2,57.6h4.2v1.1h-4.2zM305.5,51.8h4.5v1h-4.5zM277.6,52.3h3.9v1.4h-3.9zM267.9,56h1.7v0.8h-1.7zM327.5,64.6h1.4v1.9h-1.4zM245.4,56.6h4.3v0.9h-4.3zM311.5,55.3h1.1v1.3h-1.1zM277.2,59.9h3.4v1.6h-3.4zM324.6,55.4h2.1v1.8h-2.1zM325,51.7h1.9v1.6h-1.9zM310.4,54.6h2.3v1.2h-2.3zM244.9,62.9h2.5v1.6h-2.5zM316.1,57.1h2.7v1.2h-2.7zM310.7,68.4h3.3v1.9h-3.3zM273.5,56.2h2.1v1.1h-2.1zM301.6,62.9h4v1.1h-4zM333.7,55.3h1.5v1h-1.5zM333.5,68.7h2.4v1.7h-2.4zM257.5,68.7h3.4v1.2h-3.4zM255.3,67.1h3.9v0.8h-3.9zM311,63.8h4.1v1.9h-4.1zM330.2,51.8h4.1v1.5h-4.1zM248.4,67.6h1.4v1.6h-1.4zM286.3,55.4h2.8v0.9h-2.8zM272.7,67h3v1.5h-3zM332.1,65.1h4.3v0.9h-4.3zM307.3,56.6h2.2v2h-2.2zM303.3,65.1h3.4v2h-3.4zM268.3,59.3h3.2v0.9h-3.2zM285.7,66.4h2.3v1.5h-2.3zM271.9,59.8h3.1v0.9h-3.1zM318.4,65.2h3.2v1.3h-3.2zM289.9,55.1h3.5v0.9h-3.5zM293.8,64.5h1.4v1.2h-1.4zM271,69.2h2.2v1.5h-2.2zM260.1,69.2h3.4v1.4h-3.4zM259.9,55.2h1.8v1h-1.8zM301.2,51.6h3.5v1h-3.5zM278,52.7h3.3v1.9h-3.3zM342,80.5h2.6v1.8h-2.6zM396.4,108.3h1.4v2h-1.4zM373.7,94h1.9v1.9h-1.9zM368,93.2h2.5v1.6h-2.5zM392.5,102.7h2.4v1.1h-2.4zM349,85.4h1.7v1.4h-1.7zM359.8,91h4.2v2h-4.2zM347,78.1h2.7v1.9h-2.7zM344.6,81.8h3.2v1.4h-3.2zM340.9,79.7h3.2v1.3h-3.2zM365.8,94.9h3.2v1h-3.2zM394.8,108.7h4.3v1.4h-4.3zM366.4,92.2h2.9v1.6h-2.9zM364.2,87.3h2.9v1h-2.9zM376,96.5h3v1.7h-3zM374.6,95.5h3.5v1.5h-3.5zM343.7,77.5h2.3v1.8h-2.3zM385,97.5h2.6v1.3h-2.6zM384.6,97.5h3v1.3h-3zM347.2,78.1h3.6v0.8h-3.6zM344.8,77.4h3.4v2h-3.4zM371.6,94.7h2.3v1.5h-2.3zM351.5,83.8h3.3v2h-3.3zM395.7,103.9h4.1v1.2h-4.1zM376.1,99.1h2.8v1.9h-2.8zM353,86.5h3.2v2h-3.2zM398.3,109.7h2.1v1.7h-2.1zM365.5,87.6h3v0.9h-3zM398.1,108.9h4.1v1.5h-4.1zM358,85.2h3.6v1h-3.6zM375.7,94.6h3.6v1.6h-3.6zM372.9,94.9h2.5v1.2h-2.5zM343.1,82.1h2.1v1.5h-2.1zM376.7,98.7h3.4v1.9h-3.4zM362.2,88.2h4v1.7h-4zM359.3,91.7h2v1.4h-2zM381.7,96.4h2.8v1h-2.8zM380.8,94.9h1.6v1.1h-1.6zM338,78.3h2.4v1h-2.4zM346.5,83.9h3.1v1.5h-3.1zM357.7,89.8h2.4v1.4h-2.4zM360.9,85.1h2v1.7h-2zM342.6,79.9h3v0.9h-3zM346.6,83.4h1.4v0.8h-1.4zM366.8,94h3.2v1.5h-3.2zM381,101.6h1.5v2h-1.5zM383.8,100.6h2.5v1.4h-2.5zM379.9,98h2.2v1.4h-2.2zM351.5,81.6h4.5v1.1h-4.5zM340.8,81.1h2.9v1.1h-2.9zM390,100h3.2v1.9h-3.2zM376.1,93.1h3.4v1.3h-3.4zM360.2,85.4h4v1.3h-4zM347.7,84.9h4.2v1.4h-4.2zM392.2,103.1h4.1v1.7h-4.1zM381.8,95.6h2.2v1.8h-2.2zM381.3,103.1h2.6v1.4h-2.6zM394.8,106.5h3.3v1.8h-3.3zM393.5,104.8h2.9v0.9h-2.9zM383,99.7h1.4v1.4h-1.4zM350.5,87.5h2.2v1.9h-2.2zM342.1,76.7h1.7v1.7h-1.7zM371,91.4h1.2v1.6h-1.2zM393,101.1h3.9v1.1h-3.9zM348.3,81.8h2.1v1.9h-2.1zM386.9,100.5h3.9v0.9h-3.9zM389.8,101.6h1.8v1.1h-1.8zM361.6,87.3h4.2v1.2h-4.2zM361.7,91.8h2.3v1.5h-2.3zM352.2,86.8h1.2v1h-1.2zM384.2,98.3h4.3v1.9h-4.3zM346.5,83.9h1.2v1.2h-1.2zM389.3,106.8h2.5v1.6h-2.5zM377.3,100.5h3.5v0.9h-3.5zM348.6,79.3h2v1.5h-2zM342,78.7h2.8v1.8h-2.8zM376.1,93.8h4v1.2h-4zM371.8,90.6h3.6v2h-3.6zM352.1,87.3h2.2v1.9h-2.2zM363.3,92.9h1.9v1.9h-1.9zM392.3,107.7h4.5v1h-4.5zM393.7,105.6h2.5v1.5h-2.5zM394.1,108h3.8v1h-3.8zM385.4,101.4h4.1v1.4h-4.1zM369.8,97.2h1.5v1.8h-1.5zM375.3,99.2h1.6v0.8h-1.6zM367.6,91.5h2.7v1.8h-2.7zM367.5,92.9h1.5v1h-1.5zM376.4,98.1h1.3v1.2h-1.3zM385.9,101.8h1.1v1.3h-1.1zM216.2,103.4h1.3v1.1h-1.3zM229,93.2h1.3v1.3h-1.3zM229.8,86.3h2v1.9h-2zM231.3,80.9h2.5v1.2h-2.5zM211.9,87.6h3.6v0.9h-3.6zM225,114.6h4v1.1h-4zM210.7,69.4h4v1.2h-4zM245.4,116.8h1.2v0.9h-1.2zM219.5,71.1h1.1v1.5h-1.1zM229.4,103.1h3.5v1.3h-3.5zM214.9,67.6h3.1v1.3h-3.1zM241.4,101.6h2.9v1.9h-2.9zM211.3,89.9h4.3v1.3h-4.3zM211,115.9h2.6v1.4h-2.6zM234.2,71.2h2.7v1.8h-2.7zM226.8,109.7h3.5v1.3h-3.5zM241.2,104.4h2v0.9h-2zM238.8,104h1v1.8h-1zM210.5,117.1h2.5v1.9h-2.5zM215.9,80h3.2v1.8h-3.2zM218.2,66.9h2.5v1.3h-2.5zM239.7,60h2.4v1.6h-2.4zM205,95.8h4.5v0.9h-4.5zM217.5,81.5h3.6v1.8h-3.6zM237.5,61.8h1.4v1.9h-1.4zM205.2,82.1h3.7v1.1h-3.7zM209.1,106.1h2.8v1h-2.8zM220.2,120.3h2.1v1.1h-2.1zM231.5,96.5h4v1.8h-4zM220.6,99.4h2.9v1.7h-2.9zM223.6,101.8h1.4v1h-1.4zM221,64.6h2.1v1.7h-2.1zM226.8,73.1h4.2v1.7h-4.2zM227.7,97.3h1.7v1.9h-1.7zM214.8,96.5h3.2v1.9h-3.2zM243.5,63.9h3.2v1.2h-3.2zM230.4,63.2h2.6v1.2h-2.6zM238.4,69.6h4v0.9h-4zM235.7,76.7h3.8v0.9h-3.8zM207.9,71.5h1.2v1.9h-1.2zM224.1,109.2h1.4v1h-1.4zM224.2,95.3h2.1v1.9h-2.1zM220.7,64.8h1.6v0.9h-1.6zM238.7,108.4h4.3v1.8h-4.3zM219.3,75.3h2.6v1.8h-2.6zM217.3,74.1h1.6v1.9h-1.6zM240.4,85.3h1.8v0.9h-1.8zM212.2,66.4h3.3v1.3h-3.3zM213.2,92.5h2.8v1.3h-2.8zM223.3,61.1h2.3v1h-2.3zM220,68.6h2.2v1.1h-2.2zM219.3,79.9h1.9v0.8h-1.9zM222.7,76.4h2.7v1.7h-2.7zM223.2,113.3h3.7v1.6h-3.7zM245.8,115.5h4.3v2h-4.3zM232.2,108.1h1.4v1.2h-1.4zM245.6,75.5h1v0.8h-1zM210.1,65.2h2.2v1.7h-2.2zM236.1,88.6h2.3v2h-2.3zM239.6,120.7h2.7v1.7h-2.7zM227.4,65.7h2.5v0.9h-2.5zM239.2,62.8h3.8v1.8h-3.8zM209.2,71.9h3.9v1.3h-3.9zM219.5,64.2h3.6v1.7h-3.6zM218.2,97.6h1.6v1h-1.6zM227.5,117h1.9v2h-1.9zM213.5,97.2h3.6v1.6h-3.6zM245,64.1h2.5v1.7h-2.5zM243.7,90.4h3v1h-3zM221.9,66.2h4v1.1h-4zM234.1,77.7h2.7v1.8h-2.7zM222.6,99.9h3.4v2h-3.4zM208.1,107.4h3.8v1.7h-3.8zM222.4,78.2h4.4v1.3h-4.4zM216.8,113.9h1.9v1.7h-1.9zM237.9,101.2h3.8v1.8h-3.8zM226.6,109.9h3.7v1.3h-3.7zM216.6,64.4h1.8v1.2h-1.8zM240.3,80.8h1.2v1.6h-1.2zM238.5,72.2h2v1.7h-2zM219.8,70.2h2.7v1h-2.7zM237.7,83.3h1.4v1.5h-1.4zM231.1,72.3h2v0.9h-2zM241.5,96.2h2.8v1.9h-2.8zM227.4,89.1h1.2v1.8h-1.2zM213.6,86.5h1.5v1.5h-1.5zM219.3,107.6h2.5v1.1h-2.5zM214.1,97.6h2.9v1.2h-2.9zM217.6,80h2.6v1.6h-2.6zM228.9,116.4h2.9v1h-2.9zM218.3,88.9h1.6v1.8h-1.6zM220.1,116.8h1.6v2h-1.6zM221.3,64.1h2.6v0.8h-2.6zM209.9,113.3h3.2v1.5h-3.2zM230.1,85.1h2v1.8h-2zM225,68.5h4.2v1.7h-4.2zM226.7,60.1h1.5v1h-1.5zM209,73.8h2.2v1.5h-2.2zM243.1,62.7h1v1.6h-1zM241.5,77.9h2.2v1.9h-2.2zM240.2,117.3h1.7v1.1h-1.7zM213.5,94.7h2.7v0.9h-2.7zM208,93.6h3.6v1.8h-3.6zM231.4,108h1.8v1.1h-1.8zM238.7,62.9h2.8v1.8h-2.8zM244.3,119h1.2v1.4h-1.2zM241.4,115.9h1.6v1.4h-1.6zM245.8,110.5h2.2v1.4h-2.2zM216.6,120.9h3.1v2h-3.1zM229.4,118.4h1.6v1.6h-1.6zM217.7,63h2v1.3h-2zM218.1,88.4h3.3v0.8h-3.3zM237.6,87.3h2.4v1.1h-2.4zM208.5,105.4h4.4v1.6h-4.4zM242.2,91h3v1.2h-3zM237.3,61.4h2.9v1.5h-2.9zM243.6,85.3h3.4v1.6h-3.4zM232.6,85.3h3.9v1.3h-3.9zM225.7,120.3h1.3v1.2h-1.3zM235,119.2h1.7v1.7h-1.7zM236,114h2.1v1.1h-2.1zM210,80.5h2.7v0.9h-2.7zM217.3,91.1h2v1.3h-2zM217.5,74.2h1.6v1h-1.6zM232.8,121h4v1.4h-4zM216.2,99.7h2.8v1.8h-2.8zM234.5,75.4h3.2v1.8h-3.2zM220.5,79.2h2.8v1.4h-2.8zM236.1,87.6h1.8v1.9h-1.8zM212.3,121.7h2.5v1.3h-2.5zM234.5,88.4h2.4v1.2h-2.4zM222.6,91.2h3.3v1.9h-3.3zM240.8,114.1h2.1v0.8h-2.1zM227,118.7h1.5v0.8h-1.5zM235.6,114.3h2.4v1.9h-2.4zM219.1,116.8h2.9v1.3h-2.9zM230.6,77.8h1.4v1.6h-1.4zM229.2,76.6h2.6v1.6h-2.6zM212.8,79.9h1.7v1.2h-1.7zM206.1,87.7h3.2v1.2h-3.2zM244.6,97.3h3.8v1.1h-3.8zM205.8,103h1.1v1.7h-1.1zM241.3,96h4.1v1.9h-4.1zM233.1,101.4h1.3v1.6h-1.3zM243.3,89.9h4.5v1.5h-4.5zM209.8,92h3.6v1.5h-3.6zM222.2,90.8h1.3v1.7h-1.3zM231.1,72.6h3v1h-3zM231.7,73.9h1.4v1.1h-1.4zM224.5,116.6h2.1v1.9h-2.1zM210.9,103h1.6v1h-1.6zM224.5,92.4h1.3v1.1h-1.3zM241.8,120.7h3.7v2h-3.7zM216.3,81.1h2.8v1.3h-2.8zM237,69.5h3.7v2h-3.7zM224.4,100.9h3.6v1.1h-3.6zM223.2,78.2h1.6v1.9h-1.6zM244.7,112.4h2.6v1.2h-2.6zM242.6,95.3h4.3v1.2h-4.3zM207.2,67.5h3v0.8h-3zM220.5,73.1h4v2h-4zM206.8,75.5h1.5v1.7h-1.5zM232.7,90.2h3.2v1.4h-3.2zM213.9,89h4.2v1.2h-4.2zM223.4,107.3h3.2v1.4h-3.2zM243.9,68.2h3.1v0.8h-3.1zM238.3,115.5h1.7v1.3h-1.7zM241.2,65.3h2.2v1.9h-2.2zM239.9,66.2h3.5v1.9h-3.5zM218.2,116.4h1.6v1.9h-1.6zM212.6,113.3h3.8v1.8h-3.8zM240.7,115.5h3.5v1h-3.5zM214.6,61.5h3v1.3h-3zM213.6,96.1h3.8v2h-3.8zM228.6,81.8h2.4v0.9h-2.4zM244.6,118.3h2.5v1.3h-2.5zM231.5,69.8h3.2v0.8h-3.2zM217.3,117.6h1.9v1h-1.9zM237.9,112.5h1.9v1.1h-1.9zM245.6,90.7h4.3v1.9h-4.3zM207.3,94.7h3v0.9h-3zM230.3,74.6h2v1.2h-2zM218,73.4h4.3v1.8h-4.3zM231.2,111.8h4.2v1.8h-4.2zM233.8,76.8h2.1v1.8h-2.1zM207.1,75.9h4.3v1.7h-4.3zM221.6,68h1.9v1.3h-1.9zM243.5,108.8h2.9v1.8h-2.9zM238.1,119.9h4.3v1.9h-4.3zM208.6,109.8h1.5v0.8h-1.5zM432.1,104.5h2.9v1.4h-2.9zM417.9,103.6h3.5v0.9h-3.5zM498.9,102.8h1.9v2h-1.9zM465.8,109h3.2v1.5h-3.2zM404.5,106.7h2.6v1.8h-2.6zM496.1,110.8h2.6v1.7h-2.6zM462.6,110.5h4.9v0.9h-4.9zM437.3,111.1h2.5v1.6h-2.5zM485.9,118.8h1.3v1.6h-1.3zM412.5,114.3h4.3v2.1h-4.3zM444.8,111.3h2.9v2.1h-2.9zM397.7,106.1h4.9v1.1h-4.9zM488.4,109.7h4.9v1.4h-4.9zM464.4,114.2h1v1.4h-1zM461.7,118h2.2v1.7h-2.2zM425.8,109.5h3.7v1.9h-3.7zM396.9,107.7h2.3v1.4h-2.3zM442.6,104.7h4.1v0.9h-4.1zM459.3,103.4h1.3v1.4h-1.3zM446.3,108.7h1.3v0.9h-1.3zM386.6,116.6h2.8v1.4h-2.8zM503,114.4h1.1v1.9h-1.1zM456.8,118.2h1.6v2.2h-1.6zM475.4,118.8h4.4v1h-4.4zM407.8,114.3h3.8v0.9h-3.8zM497.6,112h3.4v1.3h-3.4zM405.5,109.8h4.1v0.9h-4.1zM430.1,118.5h4.9v1.4h-4.9zM386.4,105.9h3.9v1.8h-3.9zM461.7,110.2h1.7v1.7h-1.7zM482.5,114.3h1.9v1.8h-1.9zM444.9,112.8h2.9v1.4h-2.9zM396.3,113.6h3.1v1.2h-3.1zM439.5,113.1h1.8v1.4h-1.8zM495.3,121.3h3v1h-3zM431.1,109.4h3.6v1.1h-3.6zM482.4,106.7h3v1.4h-3zM396.9,119.8h3.8v1.6h-3.8zM466.8,105.2h3.2v1.3h-3.2zM470.1,118.5h4v2h-4zM428.3,105.2h3.1v1.7h-3.1zM458.9,103.4h4v2h-4zM415.5,110h2.6v1.7h-2.6zM488.9,119.6h2.4v1.5h-2.4zM426.1,108.4h1.5v1.8h-1.5zM490.6,107.6h2.7v1.8h-2.7zM477.8,106.8h3.7v1.3h-3.7zM398.8,110.4h3v1.1h-3zM425.1,107.7h1.1v2.2h-1.1zM422.7,120.8h1.7v1.9h-1.7zM403.2,110.9h4.4v1.4h-4.4zM500.2,104.4h3.4v0.8h-3.4zM453.7,109.3h3v1.2h-3zM388.9,110.8h3.4v1.5h-3.4zM503.8,116.2h3.9v2.2h-3.9zM408.8,114.1h3.1v2.1h-3.1zM413.4,109.3h3v0.9h-3zM502.6,118.3h4.9v2h-4.9zM406.5,110.8h1.7v2h-1.7zM453.2,118.2h2.6v1.4h-2.6zM395.9,110.1h3.8v2.1h-3.8zM436.9,109.7h3.6v1.3h-3.6zM501.7,115.1h3.5v1.3h-3.5zM475.1,118.4h4.3v1.7h-4.3zM435.6,106.4h4.2v1.2h-4.2zM422.8,107.2h1.4v1.6h-1.4zM428.9,108.5h3.4v2h-3.4zM487.9,116.2h2.7v1.6h-2.7zM503.7,119.6h1.9v1.9h-1.9zM475.4,107.1h4.1v2.1h-4.1zM420.2,119.1h1.9v1.9h-1.9zM443.8,105.5h3.5v1h-3.5zM426.8,109.1h2.9v1.1h-2.9zM480.5,116h2.8v1.2h-2.8zM466,115.1h1.7v2h-1.7zM416.4,113.7h2.2v1h-2.2zM428.1,116.2h3v1.6h-3zM412.2,108.3h3.4v2.2h-3.4zM503.6,117.8h3.1v1.7h-3.1zM474,117.1h3.2v1.8h-3.2zM489.7,122h4.8v1.9h-4.8zM437.7,109.9h3.9v0.9h-3.9zM507,105.4h3.2v2.1h-3.2zM422.1,117.3h1.2v1.8h-1.2zM455,111.1h4.7v1.4h-4.7zM488,102.3h4.1v1h-4.1zM423.6,102.8h4v1h-4zM441.3,113.2h4.1v1.9h-4.1zM404.1,119h1.4v2.1h-1.4zM495.3,108.2h2.3v1.9h-2.3zM405.1,111.7h1.9v1.3h-1.9zM447.9,102.6h3v2h-3zM420.8,115.9h1.7v1.7h-1.7zM424.5,105h3.5v2h-3.5zM429.3,116h2v0.9h-2zM466.6,107.7h2.8v1.3h-2.8zM480.2,115h2.5v0.9h-2.5zM455.6,120.2h3.9v1.2h-3.9zM477.7,106.7h3.3v1.9h-3.3zM464.7,110h4.3v2.1h-4.3zM418,114.8h4.8v0.8h-4.8zM448,118.9h2v1.2h-2zM418.5,119.7h2.2v1.9h-2.2zM421.3,119.8h4.3v2h-4.3zM398.7,114.9h1.1v1.2h-1.1zM437.5,102.2h3.4v2.1h-3.4zM436.2,102h3.3v2.1h-3.3zM430.6,114.9h3.1v2h-3.1zM424.6,117.4h4.6v1.2h-4.6zM415.7,107.3h1.7v1.1h-1.7zM433.9,110.8h1.9v0.9h-1.9zM465.3,118.3h4.9v2.1h-4.9zM494,104.4h2v0.9h-2zM424,120.1h1.2v1.1h-1.2zM499.3,106.1h2.1v1.2h-2.1zM417,104.6h1.2v1.2h-1.2zM430.4,104.7h2.6v1.8h-2.6zM429.4,106.5h2.2v1.1h-2.2zM465.7,103.8h2v2.1h-2zM506.8,112.5h3.4v1.5h-3.4zM431.5,110.4h1.2v0.8h-1.2zM446.8,120.8h4.2v1h-4.2zM485.9,102.9h1.2v1.4h-1.2zM389.8,115h1.1v0.9h-1.1zM448.5,112.9h3.6v1.3h-3.6zM473.2,103.9h1.4v0.8h-1.4zM389.3,113.9h4.1v1.6h-4.1zM449.8,109.5h3.4v1.2h-3.4zM391.2,104.4h4.1v0.9h-4.1zM455.5,102.2h1.5v2.2h-1.5zM394.2,120.7h1.1v1.5h-1.1zM399.3,108.9h2.6v1.1h-2.6zM449.7,109.7h1.3v1.4h-1.3zM480.8,109.1h1.7v2.1h-1.7zM436.8,109.3h4.1v0.9h-4.1zM386.2,118.4h4.1v1.4h-4.1zM450.2,119.4h1.9v2h-1.9zM465.2,114.1h3.3v1h-3.3zM497.7,102h3v1.5h-3zM432.8,106.8h3.9v1.4h-3.9zM407.6,115.2h2.3v1.1h-2.3zM487.4,113.7h1.1v0.9h-1.1zM473.1,109.6h1.6v2.1h-1.6zM452.2,114.5h4.3v1.9h-4.3zM388,113.7h2.9v1.6h-2.9zM470.9,105.9h2.8v1.9h-2.8zM444.2,116.7h4.4v1.5h-4.4zM487.9,108.5h4.2v1.9h-4.2zM421.5,109.8h4.3v1.8h-4.3zM467.6,117.8h3.8v1.5h-3.8zM440.8,106.1h4.6v1.2h-4.6zM490,119.5h3.3v2.1h-3.3zM488.2,112.8h4.8v2.1h-4.8zM408,113.7h3.5v1.6h-3.5zM440.3,105.3h4.9v1.5h-4.9zM467.2,120h3.3v1.1h-3.3zM433.5,106.4h1.7v1.2h-1.7zM498.1,110.3h1.8v1.3h-1.8zM499,114h2v2h-2zM466.1,104.2h5v1.2h-5zM410.9,107.5h2.6v1.8h-2.6zM403,115.8h1.5v1.2h-1.5zM470.8,117.7h2.5v1.1h-2.5zM431.9,103.6h1.5v1h-1.5zM468.9,111.8h4.8v2.1h-4.8zM490.4,113.1h2.5v0.9h-2.5zM390.5,103.2h4.4v1.5h-4.4zM466,119.6h1.2v1.3h-1.2zM467.4,105.5h2.9v1.3h-2.9zM431.9,108.7h4.3v1.1h-4.3zM467.3,109.8h4.7v0.9h-4.7zM399.8,118.9h4.3v2.1h-4.3zM419.2,104.2h3.7v1.6h-3.7zM489.2,110.9h2.4v1.5h-2.4zM433.8,107.6h1.9v1.2h-1.9zM478.7,121.7h4.8v1.2h-4.8zM419.6,120.5h4.4v1.2h-4.4zM498.3,109.1h2.7v0.9h-2.7zM391.9,109.9h2.6v1.7h-2.6zM481.4,121.3h3v0.8h-3zM484.1,114.8h4.7v0.8h-4.7zM450.6,106.4h2.5v1.6h-2.5zM439.7,116.7h5v1.2h-5zM435.2,110.8h4v1.4h-4zM459.7,106.5h3.1v1.6h-3.1zM433.8,119.1h4.6v0.8h-4.6zM491.4,117.4h4.6v1.2h-4.6zM468.8,107.6h4.8v1.1h-4.8zM455,120.5h2.9v2h-2.9zM506.7,115.2h1.5v1.1h-1.5zM480.5,104h2.9v1.5h-2.9zM481,110.3h4.9v1.9h-4.9zM440.6,106h4.3v1.4h-4.3zM398.3,112.4h2v1.5h-2zM487.7,109.2h3.1v1.5h-3.1zM431.1,121.2h1v1.9h-1zM395.8,119.7h1.4v1.2h-1.4zM442.3,111.4h2.8v1.3h-2.8zM484.2,111.2h1.7v1.8h-1.7zM449.7,110.1h1.6v1.1h-1.6zM397.9,120.1h4.7v1.4h-4.7zM389.3,118.9h1.6v1.9h-1.6zM460.7,111h1.5v1.6h-1.5zM442.8,117.3h1.7v0.9h-1.7zM496.5,118.6h3v1.8h-3zM407.9,117h4.5v1.9h-4.5zM486.5,118.4h4.2v1.4h-4.2zM465.3,114.9h4.6v1.3h-4.6zM418.8,120.7h4.5v1.8h-4.5zM464.9,110.6h4.9v1.5h-4.9zM473.6,103.5h1v1.4h-1zM425.1,120h1.4v2.1h-1.4zM488.9,119.2h1.2v1.6h-1.2zM401.5,110.2h4.2v1.4h-4.2zM423.6,107h4.6v0.8h-4.6zM482.6,120.4h3.4v1.2h-3.4zM482,106.2h3.1v1.2h-3.1zM389.9,107.9h4v2.2h-4zM475.8,120.4h2.8v1.1h-2.8zM468.8,102.7h2.5v1.2h-2.5zM400.3,110.1h4.8v1.1h-4.8zM424.8,106.4h4.7v1.6h-4.7zM421.2,122h3.1v1.7h-3.1zM432.7,115.3h2.7v1.3h-2.7zM388.4,115.3h2.5v0.8h-2.5zM387.6,103.3h2.7v1.6h-2.7zM392.4,120.7h4.8v1.3h-4.8zM434.2,114.1h3.6v1.9h-3.6zM466.1,110.4h4.6v1.1h-4.6zM407.9,108h4v2h-4zM404.1,115.8h3v2.2h-3zM468.4,118.7h3v1.6h-3zM424.2,107h4.9v1.6h-4.9zM473.6,111.7h1.5v1.8h-1.5zM388,106.4h1.3v0.9h-1.3zM391.4,109.2h3.3v1.2h-3.3zM423.3,120h2.6v1.9h-2.6zM465.6,104h1.4v1.8h-1.4zM424.6,107.9h2.2v2.1h-2.2zM391.8,103.3h2.9v1.1h-2.9zM450,115.5h3.4v1h-3.4zM403.9,102.7h3.4v1.4h-3.4zM422.7,108.9h2v1h-2zM423.3,107.6h2.5v2h-2.5zM412.5,111.3h1.9v2.1h-1.9zM395.5,115h4.9v2h-4.9zM422,109.4h3v1.1h-3zM507.4,110.3h3.4v2h-3.4zM396.6,117.9h4.1v2h-4.1zM432.2,120.6h2.4v1.8h-2.4zM483.7,112.3h1.7v1.6h-1.7zM472.7,108.9h4.4v0.9h-4.4zM399.3,121h2.2v1.5h-2.2zM451.2,112.2h1.5v1h-1.5zM454.6,119.9h4.1v1h-4.1zM500.9,121.1h2v2h-2zM424.2,113.9h4.1v1.4h-4.1zM389,111.4h2.9v2h-2.9zM389.5,107.9h1v2.2h-1zM502.3,114.5h1.8v1h-1.8zM487.5,109.1h2.7v1.9h-2.7zM455.8,115.2h1.2v0.9h-1.2zM487.5,111.6h4.5v1.7h-4.5zM506.1,112.3h3.1v2.2h-3.1zM499.7,121.1h2.5v1.6h-2.5zM473,108.3h1.2v1.6h-1.2zM465.8,112.9h4.9v1h-4.9zM422.6,108.1h3.3v0.9h-3.3zM417.1,114.4h3v1.8h-3zM441.3,102.1h2.4v1.8h-2.4zM403.9,112.3h1.4v0.9h-1.4zM423.5,114.3h5v1.5h-5zM492.3,116h5v1.7h-5zM393.7,120.3h2.3v1.2h-2.3zM499.8,111h3.5v1.3h-3.5zM459,117h4.6v1.1h-4.6zM414.7,102.8h4.4v1.4h-4.4zM498.6,103.4h4.7v1.4h-4.7zM391.4,118.8h3.1v1.4h-3.1zM476.3,119.6h4.4v2.1h-4.4zM501.8,113.3h3.9v1.7h-3.9zM409.5,117.6h1.9v2h-1.9zM497.9,104.7h1.8v0.9h-1.8zM387.6,104.6h4.8v1h-4.8zM493.9,102.3h3.9v1.6h-3.9zM386.5,109.2h3.8v2.1h-3.8zM406,110.7h1.8v1h-1.8zM451,119.1h3.9v1.6h-3.9zM456.7,121.3h2.7v1.8h-2.7zM467.1,119.1h1.5v2.1h-1.5zM485.8,114.4h4v1h-4zM396.4,103.6h2.2v1h-2.2zM439.4,114.1h3.4v0.9h-3.4zM422,106.7h4.8v1.6h-4.8zM391.1,118.2h3v0.9h-3zM467.6,114.7h2.1v1.7h-2.1zM465.3,109.3h1v1.6h-1zM494.2,107h4.5v1.3h-4.5zM397.4,107.7h1.4v1.7h-1.4zM468,117.4h2.7v1.6h-2.7zM469.5,103.6h1.5v1.9h-1.5zM425.2,111.3h2.4v1.9h-2.4zM463.3,104.1h1.7v1.1h-1.7zM488.9,107h2.6v1.4h-2.6zM406.9,116.9h4.3v1.3h-4.3zM454.9,104.8h4.4v1.6h-4.4zM413.3,108.3h4v1.7h-4zM498.8,118.2h2.4v1.2h-2.4zM400.9,111.9h4.4v1.1h-4.4zM437.8,104.7h3.8v1.3h-3.8zM468.9,103.9h4.1v1.4h-4.1zM468.8,102.2h4.8v2.1h-4.8zM423.1,107.9h3.9v1.7h-3.9zM494.1,105.6h3.1v1.3h-3.1zM490.1,103h4v1.3h-4zM495.6,117.1h4v0.9h-4zM416.2,113.4h4.8v1.2h-4.8zM487.2,113.4h3.4v1.5h-3.4zM454.7,104.3h1.1v1.6h-1.1zM470.1,118h1.8v1.1h-1.8zM416.5,107.7h1.8v1.7h-1.8zM475.9,109.6h1.2v1.9h-1.2zM436.2,104.6h4.7v0.9h-4.7zM499.7,116.8h4.9v1.1h-4.9zM385.4,105.9h4.1v1h-4.1zM485.3,111.9h2.1v2h-2.1zM464.3,105.9h1v1.5h-1zM393,120.9h4.9v1.9h-4.9zM398,115h2.7v2h-2.7zM505.8,119.3h4.9v1.7h-4.9zM483.2,104.7h4.4v1.5h-4.4zM507.8,111.7h2.7v1.6h-2.7zM410.4,119.2h2.2v1.7h-2.2zM386.6,115.2h2.8v1.5h-2.8zM407.7,112.7h3.5v1.4h-3.5zM476.3,111.3h3.8v1.7h-3.8zM450.2,103.9h1.9v2h-1.9zM497.9,120.4h1.5v1.8h-1.5zM486.4,112.6h2.5v2.1h-2.5zM441.2,102.6h2.7v1.2h-2.7zM446.4,105.3h3.1v1.4h-3.1zM447,105.5h3.7v1.8h-3.7zM501.1,119h2.5v1h-2.5zM475.1,120.5h3.8v1.5h-3.8zM501.7,120.9h1.1v2.1h-1.1zM434.9,115h2.2v1.6h-2.2zM506.8,108h1.6v1.9h-1.6zM463.9,112.7h1.8v2.2h-1.8zM451.7,115h3.5v1.3h-3.5zM464.5,116.4h2.3v1.3h-2.3zM452,108.6h4.5v1.4h-4.5zM452.3,109h1.9v1.2h-1.9zM502.6,118.6h3.2v1.5h-3.2zM412.2,105.6h3.6v1.3h-3.6zM419.1,108.3h3v1.4h-3zM398.3,114.3h4.7v1.1h-4.7zM441.5,102.3h4.3v1.7h-4.3zM486.5,113.4h2.6v1.7h-2.6zM457.4,104.7h3.8v1.8h-3.8zM387.9,119.1h4.4v1h-4.4zM493.5,106.8h3.4v0.8h-3.4zM413.3,110.5h2.8v1.9h-2.8zM494.8,121.3h1.1v1.2h-1.1zM491.9,103.1h3v1.8h-3zM495.6,117.2h3.5v1.2h-3.5zM424.5,109.1h1.1v2.1h-1.1zM479.3,103.1h2v1.2h-2zM438.8,114.4h1.5v1h-1.5zM461.2,110.9h1.7v1.2h-1.7zM412.8,105.4h2.2v1.6h-2.2zM436.3,120.5h3.2v1.8h-3.2zM489.6,109.4h1.3v1.7h-1.3zM478.6,114.4h4.7v0.9h-4.7zM445.6,104.4h4.5v1.7h-4.5zM502.3,120.1h3.5v1.7h-3.5zM386,113.1h4.5v1.6h-4.5zM419.1,105.4h4.4v0.9h-4.4zM394.6,107.3h3.2v1.6h-3.2zM504.1,107.4h2.7v1.4h-2.7zM419.9,103.7h4.8v1.4h-4.8zM397.9,110.6h3.2v1.1h-3.2zM391.5,102.6h3.9v1.4h-3.9zM393.9,121.8h1.1v2h-1.1zM483.1,106h2.9v1.4h-2.9zM503,110.7h4.4v1.6h-4.4zM422.6,104.8h2.7v1h-2.7zM432.5,103.3h1.2v1.6h-1.2zM388.5,122h4.9v1.2h-4.9zM390.3,109.6h4.7v1h-4.7zM392.6,108.5h3.9v1.4h-3.9zM491.4,111.4h1.2v2h-1.2zM468.3,115.1h1.3v0.9h-1.3zM504.3,107.3h3.1v2.1h-3.1zM474.9,108.5h3v1.2h-3zM504.5,104h2.9v1.1h-2.9zM413.9,112.5h1.4v1.6h-1.4zM426.9,105.8h1.1v1h-1.1zM491.5,103.8h4.8v2h-4.8zM504.9,104.2h2.5v1.1h-2.5zM507.7,116.7h1.9v0.9h-1.9zM458.7,118.4h2v1.6h-2zM492.3,118.3h3.5v1.8h-3.5zM398.4,121.1h2.4v1.5h-2.4zM464.8,119.9h3v1.3h-3zM427.1,106.5h3.1v1.7h-3.1zM432.7,111.8h3.6v1.5h-3.6zM470.5,118.3h2v1.1h-2zM479.4,121.8h2.3v1.5h-2.3zM431.3,120.7h2v2.1h-2zM430,108h1.7v1.3h-1.7zM432.5,105.3h4.9v1.8h-4.9zM403.9,118.8h4.7v0.9h-4.7zM456.9,111.2h4.9v1.5h-4.9zM506.3,113.9h3.9v1.5h-3.9zM507.2,106.2h4.4v1.7h-4.4zM395.8,104.6h1.2v1.5h-1.2zM447.6,116.9h4.5v0.9h-4.5zM489.5,121.6h3.9v1.9h-3.9zM463,111.7h1.5v1.9h-1.5zM484,114.6h3.7v0.9h-3.7zM477.8,121.5h1.4v2h-1.4zM439.6,107.9h4.5v0.9h-4.5zM493.8,118.4h1.1v1.6h-1.1zM391.6,113.2h3.6v0.9h-3.6zM459.1,110.8h2.3v1h-2.3zM477.2,103.8h2.4v0.9h-2.4zM504,116.3h3.4v0.9h-3.4zM405.5,108.3h4.8v2h-4.8zM441.7,120.4h2.2v1.3h-2.2zM394.9,116.2h2.9v0.9h-2.9zM419.7,116.8h2.7v1.9h-2.7zM418.1,121.7h2.5v0.9h-2.5zM473.9,106.1h2.3v1.3h-2.3zM457.7,102.1h1.5v2.1h-1.5zM440.1,116.2h1.1v2.1h-1.1zM440.3,114.2h4.1v1.7h-4.1zM495.4,120h3.7v2h-3.7zM480.7,116.4h4.8v1.9h-4.8zM391.6,107.1h1.1v1h-1.1zM460.5,112h4.3v1h-4.3zM387,116.6h4.9v1.8h-4.9zM390.1,112.4h2.1v1.3h-2.1zM424.9,102.6h3.4v1.1h-3.4zM481.6,118.9h2.9v1h-2.9zM479.7,114.4h4.5v0.9h-4.5zM399.3,121.5h2v1.7h-2zM431.1,104.8h2.1v1h-2.1zM400.5,104.8h4.2v1h-4.2zM464.2,120.7h1.5v1.7h-1.5zM420.9,103.4h3.9v1.9h-3.9zM401.5,118.6h2.1v1.7h-2.1zM492.2,118.1h4v1.8h-4zM488.8,104.1h2.6v1.2h-2.6zM418.8,119.7h2.4v1.9h-2.4zM493.8,116.2h2.9v1.4h-2.9zM490.8,117.8h4.2v1.6h-4.2zM477.1,116.2h2.9v1.8h-2.9zM469.2,114.7h3.7v1.6h-3.7zM388,111.2h4.4v1.1h-4.4zM465.7,117.2h1.6v0.9h-1.6zM417.5,113.2h1.6v1.7h-1.6zM481.6,120.2h4.3v2h-4.3zM392.3,117.2h1.9v1.2h-1.9zM431.4,115.7h2v1.2h-2zM495.4,111.9h1.5v1.1h-1.5zM425.7,114.6h4.2v1.2h-4.2zM496.9,102.4h2.5v2.1h-2.5zM405.3,106.1h1.8v1.8h-1.8zM490,113.9h1.2v1.8h-1.2zM406.2,118.9h2.4v1.9h-2.4zM399.8,116.2h3v1h-3zM480.7,115.1h1.1v1.3h-1.1zM439.5,119.9h3.5v1h-3.5zM414.9,102.6h2v1.2h-2zM477.5,105h1.7v1.4h-1.7zM461.6,119.8h3.6v0.9h-3.6zM411.3,105.4h3.2v1h-3.2zM477.8,103.1h1.1v1.8h-1.1zM492.6,115.1h4v1.4h-4zM431.5,104.7h4v1.5h-4zM487.1,102.6h3.2v1.3h-3.2zM416.8,113.4h3v1.2h-3zM429.8,119.7h1.9v1.9h-1.9zM390.6,112.7h4.5v1.7h-4.5zM425.2,119.3h3.9v0.9h-3.9zM449.3,110.5h3v2h-3zM401.6,102.6h4.7v1.8h-4.7zM450,102h4.8v1.1h-4.8zM462.3,109h1v1.4h-1zM464.2,106.1h4.1v1.9h-4.1zM422.1,110.9h2.4v2h-2.4zM488,102.3h2.1v1.8h-2.1zM495.3,117.9h2.7v1.3h-2.7zM458.5,103.7h4.5v1h-4.5zM449.8,109.2h1.6v2.1h-1.6zM451.5,122h3.7v1h-3.7zM499.7,103.2h3.8v1h-3.8zM460.8,111h2.4v1.1h-2.4zM417.5,121.4h4.4v1.7h-4.4zM444.6,115.2h4.2v1.7h-4.2zM453.8,102.9h2v1.8h-2zM424.1,106.7h1.5v1.8h-1.5zM477.4,106.3h2.9v1h-2.9zM486,110h2.1v1.7h-2.1zM457,119.4h4.8v1.3h-4.8zM464.2,120.6h4.8v0.8h-4.8zM465.9,119.5h4.9v1.9h-4.9zM484.5,119h2.2v1h-2.2zM478.2,120.9h3.7v1.1h-3.7zM449.7,105.1h3.2v1.3h-3.2zM395.4,103.5h4.4v1h-4.4zM467.2,118.5h3v1.2h-3zM445.6,110h1.6v1.5h-1.6zM388.5,113.2h2.2v1.4h-2.2zM496.2,103h2.5v1.5h-2.5zM389,111.1h4.5v1h-4.5zM472.1,119.3h4.4v1.2h-4.4zM407,103.9h4.8v1.9h-4.8zM395.6,114.7h3v1.7h-3zM449.7,118.4h3.2v1h-3.2zM172.4,101.6h4.1v1.5h-4.1zM185.6,91.9h1.7v1.5h-1.7zM206.2,107.7h1.7v1.6h-1.7zM170.5,97.4h2.6v1.6h-2.6zM170.3,89.6h1.6v0.8h-1.6zM205.8,111h2.6v0.8h-2.6zM203.6,97.6h2.3v1h-2.3zM206.3,68.8h1.5v1.9h-1.5zM196.9,93.5h2.1v1.2h-2.1zM179.8,98.5h2.1v1.6h-2.1zM196.5,114.3h3.7v1h-3.7zM198,101.4h2.5v1.2h-2.5zM187.4,75.8h3.3v0.8h-3.3zM194.5,103.6h1.6v1.2h-1.6zM187.5,101.4h2.5v1.7h-2.5zM207.2,75.5h3.3v2h-3.3zM187.3,79.3h1.7v1.9h-1.7zM176.1,82h2.4v2h-2.4zM167.9,72h2.4v1.6h-2.4zM204.4,101.8h1.2v1.3h-1.2zM210.4,108.7h2.4v1.4h-2.4zM203.3,116h3.9v1.4h-3.9zM152,93.3h3.3v1.7h-3.3zM133.8,84.1h3.3v1.2h-3.3zM127.2,90h1.1v0.9h-1.1zM129.1,82.7h3.6v0.8h-3.6zM140.1,103h2.8v1h-2.8zM155.3,82.3h1.6v1.6h-1.6zM152,101.5h2.7v1.3h-2.7zM138.3,90.3h1.4v1.4h-1.4zM158.8,98.5h3.7v1h-3.7zM129.5,83.3h2.4v1.5h-2.4zM147.6,92.6h3.8v1.4h-3.8zM149.5,91.2h1.6v0.8h-1.6zM502.4,142h3.2v1.9h-3.2zM503.5,122.7h2.1v1.7h-2.1zM449,157.4h2.5v1.1h-2.5zM455.6,141.8h3.7v1.3h-3.7zM450.9,137.4h3.9v0.9h-3.9zM402.6,148.5h3.2v1.4h-3.2zM438,142.2h2.6v1.5h-2.6zM433.7,153.2h1.8v1.5h-1.8zM443,132.5h4.3v1h-4.3zM431.6,150.7h1.3v1.6h-1.3zM413.6,142.4h3.6v1h-3.6zM418.1,123.8h2.8v2h-2.8zM411.7,129.7h1.7v1.2h-1.7zM488.4,145.4h1.8v1.7h-1.8zM494.4,151.7h3.9v1.6h-3.9zM493.2,132.4h1.9v1.6h-1.9zM476.8,143.1h1.9v1h-1.9zM421.8,141.9h3v1.2h-3zM451.1,134.5h1.6v1.9h-1.6zM456.3,124.5h2.6v1.1h-2.6zM491.9,149.3h1.9v1.8h-1.9zM465.6,150.5h3.9v1.3h-3.9zM457.3,127.3h1.5v1.4h-1.5zM410.5,144.7h3.1v1.2h-3.1zM263.9,126h3.2v1.3h-3.2zM206,125.7h2.2v1.1h-2.2zM211.6,122.8h3.3v1h-3.3zM263.1,122.4h2.2v1.2h-2.2zM194.5,130.8h2.9v0.9h-2.9zM219.1,133.2h1.3v1.6h-1.3zM184.1,128.2h1.1v1.5h-1.1zM275.2,121h1.1v1.5h-1.1zM195.3,131.1h2.3v1.8h-2.3zM227.9,126.8h2.6v0.9h-2.6zM180.8,74.1h3.3v1.9h-3.3zM178.9,67.7h2.2v1.7h-2.2zM232.8,62h1.3v0.9h-1.3zM187.6,72.5h4.2v1.1h-4.2zM237.2,73.9h2.8v1.7h-2.8zM169.3,75.7h2.7v0.9h-2.7zM187.7,60.4h2.4v1.2h-2.4zM215.9,68.3h2.5v1.7h-2.5zM168,61.6h2.4v1.7h-2.4zM195.2,61.2h4v1.2h-4zM243,70.7h2.7v1.2h-2.7zM216.9,66.9h4.2v0.8h-4.2zM220.1,71.5h2.8v1.2h-2.8zM206.2,72.9h1.2v1h-1.2zM225.2,74.5h4.3v1.3h-4.3zM231,66.1h3.7v1.6h-3.7zM233.2,76.5h4.1v1.4h-4.1zM230.7,74.1h4.3v1.9h-4.3zM167.7,74.8h3.1v1.7h-3.1zM240.5,74.6h4.4v0.8h-4.4z" fill="#8b6fd6"/>
<rect x="140" y="87" width="14" height="1.8" fill="#8b6fd6"/>
<rect x="128" y="96" width="6" height="1.8" fill="#8b6fd6"/>
<rect x="187" y="72" width="8" height="1.8" fill="#8b6fd6"/>
<rect x="205" y="110" width="10" height="1.8" fill="#8b6fd6"/>
<rect x="245" y="98" width="12" height="1.8" fill="#8b6fd6"/>
<rect x="163" y="104" width="10" height="1.8" fill="#8b6fd6"/>
<rect x="178" y="80" width="6" height="1.8" fill="#8b6fd6"/>
<rect x="150" y="73" width="5" height="1.8" fill="#8b6fd6"/>
<rect x="230" y="124" width="10" height="1.8" fill="#8b6fd6"/>
<rect x="262" y="127" width="8" height="1.8" fill="#8b6fd6"/>
<path d="M325.8,66.6h8.5v1.2h-8.5zM321.5,71.6h3.5v1.7h-3.5zM331,75h8.4v1.6h-8.4zM330.5,70.9h7.6v2.5h-7.6zM262,74.6h8.2v2.3h-8.2zM225.9,99.4h8.1v1.3h-8.1zM306.7,70.3h5v1.9h-5zM243.6,108.3h7.3v2.4h-7.3zM326.1,63h5.4v1.2h-5.4zM229.8,108.3h4v1.4h-4zM270.8,72.3h7.2v2.4h-7.2zM293.7,70.5h7.7v1.3h-7.7zM230.6,80.2h4.7v2.6h-4.7zM234.8,82.8h6.2v2.1h-6.2zM225.7,103.1h4.9v1.4h-4.9zM236.3,99.5h4.2v2.8h-4.2zM234,75.7h5.9v2.7h-5.9zM275,77.4h8v2.1h-8zM283.1,72.3h8.5v1.4h-8.5zM280.8,71.1h6.6v2.7h-6.6zM269.7,77.8h8.9v1.3h-8.9zM290.9,73.7h3.6v1h-3.6zM265.5,76.5h3.6v2.1h-3.6zM325.7,65.4h6.2v1.4h-6.2zM323.2,68.6h2v2.3h-2zM224,94.4h7.2v1.5h-7.2zM240.2,72.9h6.9v1.7h-6.9zM223.7,85.9h7.8v1.5h-7.8zM267.5,76h3v2.7h-3zM302.1,76.9h8v1.2h-8zM243,112.7h8.2v1.7h-8.2zM329.5,62h5.9v1.8h-5.9zM250.6,72.6h7.3v2h-7.3zM238.3,91h2.9v1.5h-2.9zM279.9,77.5h3.3v1.3h-3.3zM237,79.8h2.2v1.2h-2.2zM244.2,76.2h5.2v1.1h-5.2zM274.5,77.6h3.8v1.1h-3.8zM239.4,81h7.3v1.7h-7.3zM323,65.5h4.1v1.1h-4.1zM240.1,100.3h2.2v2.6h-2.2zM302.4,71.6h2.6v1.8h-2.6zM275.5,69.7h2.4v1.1h-2.4zM263.2,71.6h3.1v2.5h-3.1zM323.7,72.8h7.5v2.6h-7.5zM306.2,70.3h7.4v1.9h-7.4zM287.3,70.4h3.2v1.2h-3.2zM243.8,76h8.4v1.3h-8.4zM229.2,96.3h8.9v1.3h-8.9zM244.6,74.5h8.3v2.5h-8.3zM254.3,77.9h4v2h-4zM281.8,69.3h4.8v2.2h-4.8zM243.7,111.5h4.9v1.9h-4.9zM252,71.9h2.8v2.5h-2.8zM228.4,79.7h2v1.3h-2zM324.6,72.7h3v1.2h-3zM226.6,95.7h7.7v2.4h-7.7zM223.1,85.7h2.8v1.3h-2.8zM273,68.3h3v2.5h-3zM310.1,71.5h7.1v2.4h-7.1zM241.1,77.5h7.4v1.3h-7.4zM312.3,63.9h5.1v1.4h-5.1zM269.7,71.5h8.1v1.4h-8.1zM284.4,77.5h7.1v1h-7.1zM232.7,78.8h2.8v1.9h-2.8zM258.9,72.3h4.8v2.7h-4.8zM258.8,75.4h8.8v1h-8.8zM320.3,64.4h5.7v1.5h-5.7zM336.7,73.6h6.3v2.2h-6.3zM291.2,74.4h7.6v2h-7.6zM297.4,74.2h4.8v2.4h-4.8zM231.9,79.5h3.5v2.4h-3.5zM300.2,69.8h7.8v2.6h-7.8zM236.3,88.8h6.2v1.6h-6.2zM283.1,71.7h8.2v2.1h-8.2zM315.3,69.8h8.6v1.2h-8.6zM310.3,67.7h5.7v2.3h-5.7zM224.8,90.5h7.2v1.5h-7.2zM321.5,68.1h2.2v2.5h-2.2zM233.8,75.1h8.8v1.1h-8.8zM287.1,72.3h3.3v2.4h-3.3zM303.8,77h7.2v2.7h-7.2zM331.6,63.1h8.4v1.8h-8.4zM224.6,90.3h3.5v2.1h-3.5zM312.1,71.6h4.9v1.6h-4.9zM248.2,75.9h2.1v2.8h-2.1zM322.4,64.7h6.6v1.4h-6.6zM281.9,70.8h8.9v2.1h-8.9zM319.8,62.9h5.1v2.1h-5.1zM287.9,71.6h4.2v1.2h-4.2zM246.1,70.7h8.9v2.8h-8.9zM271.6,68.9h8.8v1.4h-8.8zM243.2,107.1h6.4v1.3h-6.4zM318.2,74.4h2.3v2.6h-2.3zM250.3,72h5.2v2.7h-5.2zM243.5,103.6h5.5v1.3h-5.5zM329.6,74.2h8v1.7h-8zM272.3,68.5h8.3v1.6h-8.3zM241,83.7h4.4v2.1h-4.4zM231.7,80.9h7.1v1.8h-7.1zM299.5,66.7h8.9v1.1h-8.9zM239.6,94.1h8.1v2.4h-8.1zM222.6,100.9h2.9v1.5h-2.9zM232.7,82.2h7v1.9h-7zM231.1,101h8.8v2.2h-8.8zM252.1,76.1h8.1v1.7h-8.1zM241,81.5h2.7v1.3h-2.7zM241.2,103.4h2.8v1.3h-2.8zM222.6,95h7.3v1.8h-7.3zM339,75.5h7.1v2.4h-7.1zM258.9,71.1h6.9v1.6h-6.9zM285.7,69.6h2.5v1.3h-2.5zM334.4,75.9h4.3v1.6h-4.3zM286.5,76.9h8.8v1.9h-8.8zM324.2,72.3h6v2.6h-6zM284.4,73.7h7.5v1.3h-7.5z" fill="#fff" fill-opacity="0.8"/>
<path d="M345.3,92.4h8.3v1h-8.3zM301,98.6h3.8v2.2h-3.8zM354.9,82.8h7.1v2.3h-7.1zM270.5,89.2h6.4v2.1h-6.4zM291.3,85.7h2.1v2.1h-2.1zM269.7,90h9v2.7h-9zM302.7,78.4h7v1.1h-7zM294.8,86h8.8v2.8h-8.8zM318.8,92.7h8.1v1.5h-8.1zM265.4,89.6h8.6v1.9h-8.6zM314.9,98.7h5.1v1.1h-5.1zM356,85.3h8.5v1.1h-8.5zM252.4,81.7h5.3v2.1h-5.3zM259.3,92.4h3.6v2.5h-3.6zM352.8,91.2h4.4v1.4h-4.4zM271.1,96.8h3.3v1.6h-3.3zM318,94h8.7v2.5h-8.7zM329.1,97h6.3v1.9h-6.3zM274,92.4h4.8v2.6h-4.8zM267.3,82.3h6.4v2h-6.4zM281,80.7h6.5v2h-6.5zM300.6,94.3h8.3v2.3h-8.3zM320.2,79.4h8.8v2.5h-8.8zM300.3,87.3h5.2v1.2h-5.2zM346.9,99h6.9v2.7h-6.9zM270.2,88.6h8.3v1.1h-8.3zM302,89.8h8.1v2.2h-8.1zM323.7,96.1h3.3v1.3h-3.3zM314.3,87.1h2.3v1h-2.3zM357.4,91.5h7.4v1.4h-7.4zM284.6,99.5h8.4v1.2h-8.4zM365,92.5h3v1.7h-3zM290.9,96.4h7.1v2.2h-7.1zM258.6,89h3.7v2.4h-3.7zM300.4,99.6h6.5v1.5h-6.5zM309.8,83.3h4.2v1.1h-4.2zM258,94h7.7v2.1h-7.7zM348.6,96.8h6.6v1.6h-6.6zM360.4,88.1h7.2v2.1h-7.2zM350.9,87.6h6.1v1h-6.1zM285.1,86.9h7.1v2h-7.1zM339.1,82h8.2v1.5h-8.2zM320.1,82.6h7.3v1.5h-7.3zM279.3,80.4h3.3v1.2h-3.3zM281.5,78.6h5.2v2.4h-5.2zM275.2,98.8h7.8v1.7h-7.8zM261.1,80h4.3v2.3h-4.3zM266.3,85.8h2.8v2.3h-2.8zM316.4,82.9h8.8v2.2h-8.8zM247.1,92.5h9v1.2h-9zM281.1,92.7h7v2.7h-7zM351,96.3h4v1.9h-4zM317.4,95.4h3.2v2.1h-3.2zM318.2,85.7h8.3v1.9h-8.3zM253.5,98.2h7.1v2.6h-7.1zM301.4,87.9h4.6v2.7h-4.6zM317.1,94.6h5.1v2.2h-5.1zM366.2,95.6h3.2v1.6h-3.2zM247.7,97.5h8.1v2.1h-8.1zM264.8,84.2h5.3v2.2h-5.3zM301.7,97.4h6.8v1.4h-6.8zM257,82h3.3v1.2h-3.3zM260,96.7h3.6v1.1h-3.6zM301.5,88.2h5.8v1.8h-5.8zM339,79.6h3.4v1.2h-3.4zM335.8,81.9h3.1v2.4h-3.1zM329.8,87.7h8.5v2.1h-8.5zM247.8,88.5h4.7v1.2h-4.7z" fill="#c8c8c8" fill-opacity="0.7"/>
<path d="M385.4,105.8h6.2v1.5h-6.2zM310.8,104.8h2.6v1.2h-2.6zM382.2,105.1h4.9v2.6h-4.9zM258.9,108.7h2.1v2h-2.1zM345.5,103.1h3.8v1.4h-3.8zM351.1,116.6h2.7v1.6h-2.7zM247.7,110.2h7.1v1.7h-7.1zM349.3,108.6h4v2.5h-4zM360.4,105.4h7.7v1.8h-7.7zM311.5,109h2.4v1.7h-2.4zM250.1,101.9h7.5v1.1h-7.5zM392.5,111.7h7.6v1.2h-7.6zM280.7,103.9h7.1v2.7h-7.1zM263.8,111.5h6.7v2.4h-6.7zM256.4,106h4.2v2.1h-4.2zM301.9,109.4h8.2v2.5h-8.2zM366.8,108h2.3v1.5h-2.3zM385.2,116.9h2.4v2.3h-2.4zM399.6,114.8h4.9v2.2h-4.9zM321.8,106.7h6.5v2.8h-6.5zM367.8,113.1h5.4v1h-5.4zM361.6,101.1h2.7v1.1h-2.7zM320.9,105.7h2.8v1.3h-2.8zM245.1,109.8h5.5v1.1h-5.5zM333.6,111.7h3.4v2.1h-3.4zM249.3,109.6h3.3v2h-3.3zM302.6,110.4h2.5v1.9h-2.5zM364.3,103.3h6.5v2.4h-6.5zM273.7,100.7h2.4v2.4h-2.4zM307.9,102.6h3v1h-3zM297.4,107h2.7v1h-2.7zM389.4,109.8h7.6v2h-7.6zM367,105.8h2.5v2.1h-2.5zM368,112.7h5.3v1h-5.3zM272.9,107.5h6.9v2.2h-6.9zM362.1,117.8h5.9v2h-5.9zM352,103.8h7.8v1.8h-7.8zM292.2,115h8.2v2.1h-8.2zM250.7,113h3.4v2.4h-3.4zM383.2,107.4h6.2v2.4h-6.2zM345.1,110.1h2.7v1.2h-2.7zM354.9,101.8h6v2.3h-6zM349.5,113.2h6.5v2.1h-6.5zM298.1,111.9h7.7v2.1h-7.7zM395.1,107.4h8.5v2.7h-8.5zM280,105.2h6.6v2.4h-6.6zM249,107.6h2.6v2.7h-2.6zM342.9,100.9h3.7v2.1h-3.7zM341.7,104.5h4.1v1.4h-4.1zM326.2,105.6h5.5v1.7h-5.5zM267.1,115.9h7.2v1.5h-7.2zM286.8,111.9h2.6v1.8h-2.6zM261.5,107.4h3.5v2.6h-3.5zM388.7,118h6.7v2.3h-6.7zM381.4,108.2h5.4v1.8h-5.4zM377.5,114.9h5.7v2.3h-5.7zM323.1,107.2h3.7v1.3h-3.7zM298,111.8h3.8v1.1h-3.8zM373.7,110.8h8.7v1.7h-8.7zM362.8,111.7h5v2h-5zM392.8,107.2h7.4v2h-7.4zM389.1,114.4h7v1.6h-7zM301.2,111.9h5.6v2.3h-5.6zM383.7,105.6h3.3v1.2h-3.3zM302.2,109.8h8.6v2.5h-8.6zM288.4,106.7h2.3v1.9h-2.3zM301.4,101.1h8.3v2.1h-8.3zM308.7,102.1h3v2.3h-3zM386.2,107.5h7.7v1.1h-7.7zM389.4,101.2h2.3v1.3h-2.3zM361.1,110.7h8.9v1.9h-8.9zM285.7,104.5h8.6v2.3h-8.6zM327.6,104.1h8.7v2.4h-8.7zM268.5,106.5h3.7v1.4h-3.7zM299.7,102h8.1v2.5h-8.1zM392.7,106.3h2.1v1.3h-2.1zM377.1,103.9h6.3v2.4h-6.3zM361.5,109.6h5.2v2.4h-5.2zM256.4,103.7h2.6v1.9h-2.6zM250.6,111.8h7.6v1.9h-7.6zM387,108.7h8.7v1.7h-8.7zM257.2,108.3h5.1v2.2h-5.1zM381.6,104.4h2.7v1.9h-2.7zM352.7,113.3h4.6v1.9h-4.6zM281,116.1h3.5v2.5h-3.5zM385.6,114h4.4v2.4h-4.4zM291.3,107.2h3.8v2.4h-3.8zM297.1,111.3h3.4v2.6h-3.4zM398.7,113.1h3.7v1.7h-3.7zM270.9,108.4h8.3v2h-8.3zM313.8,112.1h3.9v1.8h-3.9zM251.9,102.3h7.4v1.5h-7.4zM310.3,108.4h2.4v2.1h-2.4zM399.8,111.6h6v1.5h-6zM335,104.4h2.5v2.1h-2.5zM363.9,105.8h3.2v1.7h-3.2zM345.2,100.3h2.2v1.7h-2.2zM378.8,116.9h6.6v2h-6.6zM257.1,102.8h4.4v2h-4.4zM369,104.9h4.7v2.7h-4.7zM264.5,111.7h8.4v2h-8.4zM330.1,108.4h4.8v1.2h-4.8zM356.5,102.7h7.5v2.3h-7.5zM385.6,115.4h6.6v1.1h-6.6zM260.8,100.4h3.8v2.5h-3.8zM273.2,107.7h6.1v1.3h-6.1zM299.6,101.2h5.5v1.1h-5.5zM356.2,110.4h8.3v1.5h-8.3zM360.9,117.5h3.4v1.7h-3.4zM361.9,114.8h4.6v2.4h-4.6zM372.5,100.5h8v1.8h-8zM334.2,100.7h3.6v2h-3.6zM275.7,109.1h5v2.4h-5zM362.7,109.1h7.9v1.6h-7.9zM377.8,100.5h5.5v1.6h-5.5zM311.5,112h4.7v1.5h-4.7zM292,105.2h8v1.1h-8zM363.1,113h8.1v2.6h-8.1zM370.6,102.1h8v2.4h-8zM308.5,115.5h7.8v1.6h-7.8zM385.6,118.1h8.3v1.5h-8.3zM334.5,104.2h6.9v1.5h-6.9zM281.1,105.9h7.8v1.4h-7.8zM313.9,112h2.7v1.4h-2.7zM275.6,116.4h8.6v1.1h-8.6zM276.6,108h2.7v2.3h-2.7zM263.9,103.3h3.4v2.7h-3.4zM295.2,107.9h3.8v1.7h-3.8zM345.5,100.3h5.3v1.3h-5.3zM353.7,105.6h8.6v2.3h-8.6zM367.6,107.3h7v1.3h-7zM369.3,110h2.9v1.2h-2.9zM382,112.6h4.7v2.3h-4.7zM380.7,114.8h8.1v2h-8.1zM332.5,115.1h6.1v2.2h-6.1z" fill="#777" fill-opacity="0.7"/>
</g>
<text x="-1" y="20.3" font-size="28" font-weight="bold" stroke="#000" stroke-width="1.3" stroke-linejoin="round">a</text>
<text x="292" y="29" font-size="21.25" text-anchor="middle" font-weight="normal" font-style="normal" >Monday 2 March 2020 (13:00)</text>
<text x="291.9" y="329" font-size="21.3" text-anchor="middle" font-weight="normal" font-style="normal" >Monday 6 April 2020 (13:00)</text>
<text x="101" y="92.3" font-size="20.6" text-anchor="end" font-weight="normal" font-style="normal" >POIs</text>
<text x="101" y="216.2" font-size="21" text-anchor="end" font-weight="normal" font-style="normal" >CBGs</text>
<text x="101" y="391.3" font-size="20.6" text-anchor="end" font-weight="normal" font-style="normal" >POIs</text>
<text x="101" y="511.2" font-size="21" text-anchor="end" font-weight="normal" font-style="normal" >CBGs</text>
<text x="592.5" y="19.8" font-size="27.5" font-weight="bold" stroke="#000" stroke-width="1.3" stroke-linejoin="round">b</text>
<path d="M766.4,155L766.4,79.6M878.4,155L778.07,74.02M990.6,155L780.31,70.21M1092,179.5L780.55,69.59M766.4,155L866.73,74.02M878.4,155L878.4,79.6M990.6,155L890.08,74.01M1092,179.5L891.61,71.71M766.4,155L976.69,70.21M878.4,155L978.92,74.01M990.6,155L990.6,79.6M1092,179.5L1000.53,75.85M766.4,155L1077.57,66.6M878.4,155L1078.24,68.46M990.6,155L1080.92,72.61M1092,179.5L1092,77.5" stroke="#6e6e6e" stroke-width="1.3" fill="none"/>
<path d="M766.4,64.6L759.2,79.6L773.6,79.6ZM766.4,64.6L773.55,79.62L782.59,68.42ZM766.4,64.6L777.62,76.89L783,63.53ZM766.4,64.6L778.15,76.38L782.94,62.8ZM878.4,64.6L862.21,68.42L871.25,79.62ZM878.4,64.6L871.2,79.6L885.6,79.6ZM878.4,64.6L885.56,79.62L894.6,68.4ZM878.4,64.6L888.2,78.05L895.02,65.37ZM990.6,64.6L974,63.53L979.38,76.89ZM990.6,64.6L974.4,68.4L983.44,79.62ZM990.6,64.6L983.4,79.6L997.8,79.6ZM990.6,64.6L995.13,80.61L1005.92,71.08ZM1092,62.5L1075.6,59.67L1079.54,73.53ZM1092,62.5L1075.37,61.85L1081.1,75.07ZM1092,62.5L1076.07,67.29L1085.77,77.93ZM1092,62.5L1084.8,77.5L1099.2,77.5Z" fill="#6a6a6a"/>
<rect x="737.5" y="87.5" width="382" height="46.7" fill="#fff" fill-opacity="0.7" stroke="#777" stroke-width="1.9"/>
<text x="747" y="116.7" font-size="23" font-style="italic">w</text>
<text x="763.2" y="125.5" font-size="14.5" font-style="italic">ij</text>
<text x="763.8" y="111" font-size="14.5">(<tspan font-style="italic">t</tspan>)</text>
<text x="782" y="116.7" font-size="21.6">=</text>
<text x="801.2" y="116.7" font-size="21.6">no. of visits from</text>
<text x="965" y="116.7" font-size="21.4" font-style="italic">c</text>
<text x="975.5" y="124.5" font-size="14.5" font-style="italic">i</text>
<text x="987.5" y="116.7" font-size="20.6">to</text>
<text x="1010.5" y="116.7" font-size="21.4" font-style="italic">p</text>
<text x="1022.5" y="124.5" font-size="14.5" font-style="italic">j</text>
<text x="1034.3" y="116.7" font-size="20.7">in hour</text>
<text x="1104" y="116.7" font-size="21" font-style="italic">t</text>
<circle cx="766.4" cy="38.7" r="25.9" fill="#fff" stroke="#8b70d2" stroke-width="3.4"/>
<text x="754.2" y="40.1" font-size="24.5" font-style="italic">p</text>
<text x="769" y="48.8" font-size="17.5">1</text>
<circle cx="766.4" cy="182.15" r="25.9" fill="#fff" stroke="#4a9a4f" stroke-width="3.2"/>
<text x="755" y="187.45" font-size="24.5" font-style="italic">c</text>
<text x="769" y="195.65" font-size="17.5">1</text>
<rect x="740.6" y="215.8" width="55.9" height="233.6" rx="7" fill="#c3dfc3" stroke="#4a9a4f" stroke-width="2.2"/>
<rect x="746.4" y="222.4" width="44.3" height="43.6" rx="6" fill="#c3dfc3" stroke="#4a9a4f" stroke-width="2.2"/>
<text x="754.6" y="251.5" font-size="23" font-style="italic">S</text>
<text x="771" y="259.8" font-size="16">1</text>
<line x1="768.6" y1="266" x2="768.6" y2="273.8" stroke="#4a9a4f" stroke-width="1.7"/>
<polygon points="761.9,273.3 775.3,273.3 768.6,281.8" fill="#4a9a4f"/>
<rect x="746.4" y="281.8" width="44.3" height="43.6" rx="6" fill="#c3dfc3" stroke="#4a9a4f" stroke-width="2.2"/>
<text x="754.6" y="310.9" font-size="23" font-style="italic">E</text>
<text x="771" y="319.2" font-size="16">1</text>
<line x1="768.6" y1="325.4" x2="768.6" y2="333.2" stroke="#4a9a4f" stroke-width="1.7"/>
<polygon points="761.9,332.7 775.3,332.7 768.6,341.2" fill="#4a9a4f"/>
<rect x="746.4" y="341.2" width="44.3" height="43.6" rx="6" fill="#c3dfc3" stroke="#4a9a4f" stroke-width="2.2"/>
<text x="759.9" y="370.3" font-size="23" font-style="italic">I</text>
<text x="766.4" y="378.6" font-size="16">1</text>
<line x1="768.6" y1="384.8" x2="768.6" y2="392.6" stroke="#4a9a4f" stroke-width="1.7"/>
<polygon points="761.9,392.1 775.3,392.1 768.6,400.6" fill="#4a9a4f"/>
<rect x="746.4" y="399.8" width="44.3" height="43.6" rx="6" fill="#c3dfc3" stroke="#4a9a4f" stroke-width="2.2"/>
<text x="754.6" y="428.9" font-size="23" font-style="italic">R</text>
<text x="772" y="437.2" font-size="16">1</text>
<circle cx="878.4" cy="38.7" r="25.9" fill="#fff" stroke="#8b70d2" stroke-width="3.4"/>
<text x="866.2" y="40.1" font-size="24.5" font-style="italic">p</text>
<text x="881" y="48.8" font-size="17.5">2</text>
<circle cx="878.4" cy="182.15" r="25.9" fill="#fff" stroke="#4a9a4f" stroke-width="3.2"/>
<text x="867" y="187.45" font-size="24.5" font-style="italic">c</text>
<text x="881" y="195.65" font-size="17.5">2</text>
<rect x="852.6" y="215.8" width="55.9" height="233.6" rx="7" fill="#c3dfc3" stroke="#4a9a4f" stroke-width="2.2"/>
<rect x="858.4" y="222.4" width="44.3" height="43.6" rx="6" fill="#c3dfc3" stroke="#4a9a4f" stroke-width="2.2"/>
<text x="866.6" y="251.5" font-size="23" font-style="italic">S</text>
<text x="883" y="259.8" font-size="16">2</text>
<line x1="880.6" y1="266" x2="880.6" y2="273.8" stroke="#4a9a4f" stroke-width="1.7"/>
<polygon points="873.9,273.3 887.3,273.3 880.6,281.8" fill="#4a9a4f"/>
<rect x="858.4" y="281.8" width="44.3" height="43.6" rx="6" fill="#c3dfc3" stroke="#4a9a4f" stroke-width="2.2"/>
<text x="866.6" y="310.9" font-size="23" font-style="italic">E</text>
<text x="883" y="319.2" font-size="16">2</text>
<line x1="880.6" y1="325.4" x2="880.6" y2="333.2" stroke="#4a9a4f" stroke-width="1.7"/>
<polygon points="873.9,332.7 887.3,332.7 880.6,341.2" fill="#4a9a4f"/>
<rect x="858.4" y="341.2" width="44.3" height="43.6" rx="6" fill="#c3dfc3" stroke="#4a9a4f" stroke-width="2.2"/>
<text x="871.9" y="370.3" font-size="23" font-style="italic">I</text>
<text x="878.4" y="378.6" font-size="16">2</text>
<line x1="880.6" y1="384.8" x2="880.6" y2="392.6" stroke="#4a9a4f" stroke-width="1.7"/>
<polygon points="873.9,392.1 887.3,392.1 880.6,400.6" fill="#4a9a4f"/>
<rect x="858.4" y="399.8" width="44.3" height="43.6" rx="6" fill="#c3dfc3" stroke="#4a9a4f" stroke-width="2.2"/>
<text x="866.6" y="428.9" font-size="23" font-style="italic">R</text>
<text x="884" y="437.2" font-size="16">2</text>
<circle cx="990.6" cy="38.7" r="25.9" fill="#fff" stroke="#8b70d2" stroke-width="3.4"/>
<text x="978.4" y="40.1" font-size="24.5" font-style="italic">p</text>
<text x="993.2" y="48.8" font-size="17.5">3</text>
<circle cx="990.6" cy="182.15" r="25.9" fill="#fff" stroke="#4a9a4f" stroke-width="3.2"/>
<text x="979.2" y="187.45" font-size="24.5" font-style="italic">c</text>
<text x="993.2" y="195.65" font-size="17.5">3</text>
<rect x="964.8" y="215.8" width="55.9" height="233.6" rx="7" fill="#c3dfc3" stroke="#4a9a4f" stroke-width="2.2"/>
<rect x="970.6" y="222.4" width="44.3" height="43.6" rx="6" fill="#c3dfc3" stroke="#4a9a4f" stroke-width="2.2"/>
<text x="978.8" y="251.5" font-size="23" font-style="italic">S</text>
<text x="995.2" y="259.8" font-size="16">3</text>
<line x1="992.8" y1="266" x2="992.8" y2="273.8" stroke="#4a9a4f" stroke-width="1.7"/>
<polygon points="986.1,273.3 999.5,273.3 992.8,281.8" fill="#4a9a4f"/>
<rect x="970.6" y="281.8" width="44.3" height="43.6" rx="6" fill="#c3dfc3" stroke="#4a9a4f" stroke-width="2.2"/>
<text x="978.8" y="310.9" font-size="23" font-style="italic">E</text>
<text x="995.2" y="319.2" font-size="16">3</text>
<line x1="992.8" y1="325.4" x2="992.8" y2="333.2" stroke="#4a9a4f" stroke-width="1.7"/>
<polygon points="986.1,332.7 999.5,332.7 992.8,341.2" fill="#4a9a4f"/>
<rect x="970.6" y="341.2" width="44.3" height="43.6" rx="6" fill="#c3dfc3" stroke="#4a9a4f" stroke-width="2.2"/>
<text x="984.1" y="370.3" font-size="23" font-style="italic">I</text>
<text x="990.6" y="378.6" font-size="16">3</text>
<line x1="992.8" y1="384.8" x2="992.8" y2="392.6" stroke="#4a9a4f" stroke-width="1.7"/>
<polygon points="986.1,392.1 999.5,392.1 992.8,400.6" fill="#4a9a4f"/>
<rect x="970.6" y="399.8" width="44.3" height="43.6" rx="6" fill="#c3dfc3" stroke="#4a9a4f" stroke-width="2.2"/>
<text x="978.8" y="428.9" font-size="23" font-style="italic">R</text>
<text x="996.2" y="437.2" font-size="16">3</text>
<circle cx="1071.2" cy="39.2" r="7.2" fill="#a0a0a0"/>
<circle cx="1093.3" cy="39.2" r="7.2" fill="#a0a0a0"/>
<circle cx="1115.2" cy="39.2" r="7.2" fill="#a0a0a0"/>
<circle cx="1071.2" cy="185.3" r="7.2" fill="#a0a0a0"/>
<circle cx="1093.3" cy="185.3" r="7.2" fill="#a0a0a0"/>
<circle cx="1115.2" cy="185.3" r="7.2" fill="#a0a0a0"/>
<circle cx="1071.2" cy="374" r="7.2" fill="#a0a0a0"/>
<circle cx="1093.3" cy="374" r="7.2" fill="#a0a0a0"/>
<circle cx="1115.2" cy="374" r="7.2" fill="#a0a0a0"/>
<text x="726" y="44.4" font-size="20.8" text-anchor="end" font-weight="normal" font-style="normal" >POIs</text>
<text x="726" y="186.5" font-size="21.1" text-anchor="end" font-weight="normal" font-style="normal" >CBGs</text>
<text x="0" y="657.5" font-size="27" font-weight="bold" stroke="#000" stroke-width="1.3" stroke-linejoin="round">c</text>
<line x1="109.3" y1="649.6" x2="138.9" y2="649.6" stroke="#1f77b4" stroke-width="1.9"/><circle cx="124.1" cy="649.6" r="2.5" fill="#1f77b4"/>
<text x="150" y="656.3" font-size="18.3" text-anchor="start" font-weight="normal" font-style="normal" >Model predictions</text>
<line x1="325" y1="649.6" x2="356.7" y2="649.6" stroke="#ff7f0e" stroke-width="1.9"/><circle cx="340.8" cy="649.6" r="2.5" fill="#ff7f0e"/>
<text x="367" y="656.3" font-size="18.3" text-anchor="start" font-weight="normal" font-style="normal" >Reported cases</text>
<clipPath id="c1"><rect x="66.4" y="695.7" width="227.9" height="244.3"/></clipPath>
<g clip-path="url(#c1)">
<path d="M66.4,934.82 L67.96,934.74 L70.14,934.67 L72.71,934.58 L75.46,934.39 L78.18,934.05 L80.64,933.52 L82.88,932.8 L85.06,931.94 L87.2,930.93 L89.32,929.78 L91.45,928.49 L93.59,927.05 L95.75,925.48 L97.91,923.78 L100.07,921.95 L102.23,919.95 L104.38,917.77 L106.54,915.39 L108.67,912.68 L110.76,909.63 L112.85,906.4 L114.98,903.15 L117.18,900.05 L119.49,897.25 L121.96,894.71 L124.57,892.28 L127.26,890 L129.95,887.89 L132.56,885.98 L135.03,884.3 L137.37,882.95 L139.63,881.92 L141.83,881.09 L143.95,880.35 L146,879.56 L147.98,878.6 L149.79,877.62 L151.43,876.75 L153,875.83 L154.6,874.72 L156.34,873.28 L158.34,871.35 L160.69,868.78 L163.32,865.68 L166.11,862.23 L168.89,858.65 L171.53,855.15 L173.88,851.92 L175.96,849.01 L177.9,846.26 L179.7,843.58 L181.36,840.88 L182.87,838.08 L184.23,835.08 L185.28,831.89 L185.96,828.6 L186.5,825.2 L187.11,821.69 L188.01,818.08 L189.41,814.35 L191.46,810.45 L194.02,806.34 L196.86,802.13 L199.77,797.9 L202.54,793.74 L204.95,789.74 L206.95,785.97 L208.69,782.35 L210.29,778.81 L211.86,775.25 L213.5,771.59 L215.31,767.72 L217.32,763.75 L219.44,759.76 L221.62,755.66 L223.85,751.36 L226.07,746.78 L228.26,741.81 L230.53,736.06 L232.94,729.51 L235.35,722.68 L237.62,716.06 L239.62,710.18 L241.21,705.54 L241.75,702.26 L241.24,699.94 L240.45,698.36 L240.17,697.27 L241.2,696.47 L244.32,695.7 L250.51,695.13 L259.36,694.97 L269.5,695.08 L279.61,695.34 L288.32,695.59 L294.3,695.7 L294.3,842.85 L293.64,842.96 L292.77,843.09 L291.71,843.25 L290.51,843.47 L289.2,843.76 L287.83,844.15 L286.38,844.6 L284.85,845.1 L283.21,845.68 L281.45,846.35 L279.54,847.13 L277.47,848.03 L275.18,849.13 L272.67,850.43 L270.02,851.84 L267.3,853.26 L264.58,854.61 L261.93,855.8 L259.28,856.86 L256.56,857.87 L253.83,858.8 L251.19,859.64 L248.68,860.38 L246.39,860.98 L244.39,861.53 L242.65,862.04 L241.05,862.44 L239.48,862.66 L237.85,862.63 L236.03,862.28 L233.96,861.4 L231.71,860.03 L229.39,858.39 L227.11,856.76 L224.97,855.38 L223.08,854.51 L221.58,854.17 L220.4,854.17 L219.36,854.43 L218.29,854.84 L217,855.33 L215.31,855.8 L213.11,856.26 L210.52,856.76 L207.7,857.34 L204.86,858.01 L202.15,858.79 L199.77,859.69 L197.75,860.71 L195.94,861.85 L194.27,863.09 L192.68,864.44 L191.08,865.9 L189.41,867.46 L187.69,869.19 L185.96,871.11 L184.23,873.13 L182.51,875.19 L180.78,877.21 L179.06,879.12 L177.33,880.95 L175.6,882.77 L173.88,884.54 L172.15,886.27 L170.42,887.92 L168.7,889.48 L167,890.9 L165.34,892.17 L163.68,893.37 L161.98,894.57 L160.21,895.84 L158.34,897.25 L156.39,898.8 L154.4,900.42 L152.35,902.11 L150.18,903.87 L147.88,905.71 L145.39,907.62 L142.64,909.63 L139.63,911.74 L136.49,913.93 L133.3,916.16 L130.19,918.38 L127.26,920.57 L124.55,922.82 L121.98,925.18 L119.49,927.53 L117,929.78 L114.43,931.81 L111.72,933.52 L108.95,934.88 L106.21,935.97 L103.39,936.84 L100.4,937.55 L97.17,938.16 L93.59,938.7 L89.27,939.16 L84.19,939.47 L78.86,939.68 L73.79,939.81 L69.46,939.9 L66.4,940 Z" fill="#8fbbd9" stroke="#1f77b4" stroke-opacity="0.6" stroke-width="0.9"/>
<path d="M67.69,938.19 L69.73,938 L72.59,937.76 L75.95,937.47 L79.49,937.11 L82.89,936.66 L85.82,936.11 L88.28,935.48 L90.52,934.76 L92.62,933.96 L94.65,933.06 L96.67,932.06 L98.77,930.93 L100.93,929.69 L103.09,928.34 L105.25,926.88 L107.4,925.32 L109.56,923.65 L111.72,921.87 L113.88,919.89 L116.04,917.69 L118.2,915.39 L120.35,913.09 L122.51,910.89 L124.67,908.91 L126.86,907.13 L129.08,905.46 L131.31,903.89 L133.49,902.44 L135.61,901.09 L137.62,899.84 L139.5,898.83 L141.26,898.07 L142.96,897.42 L144.62,896.73 L146.28,895.86 L147.98,894.66 L149.7,893.08 L151.43,891.21 L153.16,889.16 L154.88,887.04 L156.61,884.95 L158.34,883.01 L160.06,881.22 L161.79,879.5 L163.52,877.82 L165.24,876.14 L166.97,874.43 L168.7,872.64 L170.39,870.83 L172.05,869.04 L173.71,867.22 L175.41,865.3 L177.18,863.24 L179.06,860.98 L181.06,858.48 L183.18,855.76 L185.37,852.89 L187.59,849.95 L189.82,847.01 L192,844.15 L194.13,841.37 L196.22,838.63 L198.32,835.89 L200.44,833.11 L202.64,830.26 L204.95,827.31 L207.45,824.07 L210.13,820.54 L212.88,816.94 L215.6,813.49 L218.17,810.39 L220.49,807.88 L222.52,806.11 L224.33,804.95 L225.99,804.15 L227.59,803.46 L229.18,802.63 L230.85,801.4 L232.55,799.82 L234.21,798.09 L235.87,796.22 L237.56,794.2 L239.33,792.04 L241.21,789.74 L243.22,787.35 L245.33,784.9 L247.52,782.29 L249.75,779.47 L251.97,776.37 L254.16,772.9 L256.32,768.91 L258.47,764.41 L260.63,759.62 L262.79,754.77 L264.95,750.05 L267.11,745.7 L269.27,741.7 L271.42,737.88 L273.58,734.2 L275.74,730.64 L277.9,727.14 L280.06,723.68 L282.36,720.07 L284.85,716.29 L287.34,712.59 L289.65,709.19 L291.6,706.33 L293.01,704.25" fill="none" stroke="#1f77b4" stroke-width="2.0"/>
<path d="M64,938.19a2.4,2.4 0 1,0 4.8,0a2.4,2.4 0 1,0 -4.8,0M67.74,937.96a2.4,2.4 0 1,0 4.8,0a2.4,2.4 0 1,0 -4.8,0M71.47,937.65a2.4,2.4 0 1,0 4.8,0a2.4,2.4 0 1,0 -4.8,0M75.21,937.3a2.4,2.4 0 1,0 4.8,0a2.4,2.4 0 1,0 -4.8,0M78.94,936.87a2.4,2.4 0 1,0 4.8,0a2.4,2.4 0 1,0 -4.8,0M82.68,936.25a2.4,2.4 0 1,0 4.8,0a2.4,2.4 0 1,0 -4.8,0M86.42,935.3a2.4,2.4 0 1,0 4.8,0a2.4,2.4 0 1,0 -4.8,0M90.15,933.99a2.4,2.4 0 1,0 4.8,0a2.4,2.4 0 1,0 -4.8,0M93.89,932.25a2.4,2.4 0 1,0 4.8,0a2.4,2.4 0 1,0 -4.8,0M97.62,930.21a2.4,2.4 0 1,0 4.8,0a2.4,2.4 0 1,0 -4.8,0M101.36,927.89a2.4,2.4 0 1,0 4.8,0a2.4,2.4 0 1,0 -4.8,0M105.1,925.25a2.4,2.4 0 1,0 4.8,0a2.4,2.4 0 1,0 -4.8,0M108.83,922.27a2.4,2.4 0 1,0 4.8,0a2.4,2.4 0 1,0 -4.8,0M112.57,918.78a2.4,2.4 0 1,0 4.8,0a2.4,2.4 0 1,0 -4.8,0M116.3,914.85a2.4,2.4 0 1,0 4.8,0a2.4,2.4 0 1,0 -4.8,0M120.04,910.96a2.4,2.4 0 1,0 4.8,0a2.4,2.4 0 1,0 -4.8,0M123.78,907.69a2.4,2.4 0 1,0 4.8,0a2.4,2.4 0 1,0 -4.8,0M127.51,904.87a2.4,2.4 0 1,0 4.8,0a2.4,2.4 0 1,0 -4.8,0M131.25,902.34a2.4,2.4 0 1,0 4.8,0a2.4,2.4 0 1,0 -4.8,0M134.99,899.99a2.4,2.4 0 1,0 4.8,0a2.4,2.4 0 1,0 -4.8,0M138.72,898.13a2.4,2.4 0 1,0 4.8,0a2.4,2.4 0 1,0 -4.8,0M142.46,896.6a2.4,2.4 0 1,0 4.8,0a2.4,2.4 0 1,0 -4.8,0M146.19,894.1a2.4,2.4 0 1,0 4.8,0a2.4,2.4 0 1,0 -4.8,0M149.93,890.14a2.4,2.4 0 1,0 4.8,0a2.4,2.4 0 1,0 -4.8,0M153.67,885.61a2.4,2.4 0 1,0 4.8,0a2.4,2.4 0 1,0 -4.8,0M157.4,881.49a2.4,2.4 0 1,0 4.8,0a2.4,2.4 0 1,0 -4.8,0M161.14,877.8a2.4,2.4 0 1,0 4.8,0a2.4,2.4 0 1,0 -4.8,0M164.87,874.11a2.4,2.4 0 1,0 4.8,0a2.4,2.4 0 1,0 -4.8,0M168.61,870.17a2.4,2.4 0 1,0 4.8,0a2.4,2.4 0 1,0 -4.8,0M172.35,866.05a2.4,2.4 0 1,0 4.8,0a2.4,2.4 0 1,0 -4.8,0M176.08,861.67a2.4,2.4 0 1,0 4.8,0a2.4,2.4 0 1,0 -4.8,0M179.82,856.99a2.4,2.4 0 1,0 4.8,0a2.4,2.4 0 1,0 -4.8,0M183.55,852.11a2.4,2.4 0 1,0 4.8,0a2.4,2.4 0 1,0 -4.8,0M187.29,847.18a2.4,2.4 0 1,0 4.8,0a2.4,2.4 0 1,0 -4.8,0M191.03,842.29a2.4,2.4 0 1,0 4.8,0a2.4,2.4 0 1,0 -4.8,0M194.76,837.4a2.4,2.4 0 1,0 4.8,0a2.4,2.4 0 1,0 -4.8,0M198.5,832.52a2.4,2.4 0 1,0 4.8,0a2.4,2.4 0 1,0 -4.8,0M202.23,827.71a2.4,2.4 0 1,0 4.8,0a2.4,2.4 0 1,0 -4.8,0M205.97,822.86a2.4,2.4 0 1,0 4.8,0a2.4,2.4 0 1,0 -4.8,0M209.71,817.96a2.4,2.4 0 1,0 4.8,0a2.4,2.4 0 1,0 -4.8,0M213.44,813.2a2.4,2.4 0 1,0 4.8,0a2.4,2.4 0 1,0 -4.8,0M217.18,808.87a2.4,2.4 0 1,0 4.8,0a2.4,2.4 0 1,0 -4.8,0M220.91,805.6a2.4,2.4 0 1,0 4.8,0a2.4,2.4 0 1,0 -4.8,0M224.65,803.7a2.4,2.4 0 1,0 4.8,0a2.4,2.4 0 1,0 -4.8,0M228.39,801.45a2.4,2.4 0 1,0 4.8,0a2.4,2.4 0 1,0 -4.8,0M232.12,797.73a2.4,2.4 0 1,0 4.8,0a2.4,2.4 0 1,0 -4.8,0M235.86,793.36a2.4,2.4 0 1,0 4.8,0a2.4,2.4 0 1,0 -4.8,0M239.6,788.81a2.4,2.4 0 1,0 4.8,0a2.4,2.4 0 1,0 -4.8,0M243.33,784.42a2.4,2.4 0 1,0 4.8,0a2.4,2.4 0 1,0 -4.8,0M247.07,779.83a2.4,2.4 0 1,0 4.8,0a2.4,2.4 0 1,0 -4.8,0M250.8,774.42a2.4,2.4 0 1,0 4.8,0a2.4,2.4 0 1,0 -4.8,0M254.54,767.61a2.4,2.4 0 1,0 4.8,0a2.4,2.4 0 1,0 -4.8,0M258.28,759.53a2.4,2.4 0 1,0 4.8,0a2.4,2.4 0 1,0 -4.8,0M262.01,751.23a2.4,2.4 0 1,0 4.8,0a2.4,2.4 0 1,0 -4.8,0M265.75,743.77a2.4,2.4 0 1,0 4.8,0a2.4,2.4 0 1,0 -4.8,0M269.48,737.1a2.4,2.4 0 1,0 4.8,0a2.4,2.4 0 1,0 -4.8,0M273.22,730.83a2.4,2.4 0 1,0 4.8,0a2.4,2.4 0 1,0 -4.8,0M276.96,724.8a2.4,2.4 0 1,0 4.8,0a2.4,2.4 0 1,0 -4.8,0M280.69,718.96a2.4,2.4 0 1,0 4.8,0a2.4,2.4 0 1,0 -4.8,0M284.43,713.35a2.4,2.4 0 1,0 4.8,0a2.4,2.4 0 1,0 -4.8,0M288.16,707.85a2.4,2.4 0 1,0 4.8,0a2.4,2.4 0 1,0 -4.8,0M291.9,704.25a2.4,2.4 0 1,0 4.8,0a2.4,2.4 0 1,0 -4.8,0" fill="#1f77b4"/>
</g>
<g clip-path="url(#c1)">
<path d="M67.69,939.22 L93.59,937.41 L111.72,927.05 L124.67,916.68 L137.62,897.25 L145.39,889.48 L150.57,883.01 L158.34,873.94 L168.7,862.28 L181.64,853.21 L184.23,846.74 L199.77,848.03 L207.54,842.85 L215.31,848.03 L225.67,833.78 L238.62,806.58 L251.57,789.74 L264.52,769.02 L277.47,767.72 L287.83,779.38 L294.3,775.49" fill="none" stroke="#ff7f0e" stroke-width="2.0" stroke-linejoin="round"/>
<path d="M64,939.22a2.4,2.4 0 1,0 4.8,0a2.4,2.4 0 1,0 -4.8,0M67.74,939.05a2.4,2.4 0 1,0 4.8,0a2.4,2.4 0 1,0 -4.8,0M71.47,938.79a2.4,2.4 0 1,0 4.8,0a2.4,2.4 0 1,0 -4.8,0M75.21,938.53a2.4,2.4 0 1,0 4.8,0a2.4,2.4 0 1,0 -4.8,0M78.94,938.27a2.4,2.4 0 1,0 4.8,0a2.4,2.4 0 1,0 -4.8,0M82.68,938.01a2.4,2.4 0 1,0 4.8,0a2.4,2.4 0 1,0 -4.8,0M86.42,937.74a2.4,2.4 0 1,0 4.8,0a2.4,2.4 0 1,0 -4.8,0M90.15,937.48a2.4,2.4 0 1,0 4.8,0a2.4,2.4 0 1,0 -4.8,0M93.89,935.87a2.4,2.4 0 1,0 4.8,0a2.4,2.4 0 1,0 -4.8,0M97.62,933.73a2.4,2.4 0 1,0 4.8,0a2.4,2.4 0 1,0 -4.8,0M101.36,931.6a2.4,2.4 0 1,0 4.8,0a2.4,2.4 0 1,0 -4.8,0M105.1,929.46a2.4,2.4 0 1,0 4.8,0a2.4,2.4 0 1,0 -4.8,0M108.83,927.33a2.4,2.4 0 1,0 4.8,0a2.4,2.4 0 1,0 -4.8,0M112.57,924.45a2.4,2.4 0 1,0 4.8,0a2.4,2.4 0 1,0 -4.8,0M116.3,921.46a2.4,2.4 0 1,0 4.8,0a2.4,2.4 0 1,0 -4.8,0M120.04,918.47a2.4,2.4 0 1,0 4.8,0a2.4,2.4 0 1,0 -4.8,0M123.78,914.42a2.4,2.4 0 1,0 4.8,0a2.4,2.4 0 1,0 -4.8,0M127.51,908.82a2.4,2.4 0 1,0 4.8,0a2.4,2.4 0 1,0 -4.8,0M131.25,903.21a2.4,2.4 0 1,0 4.8,0a2.4,2.4 0 1,0 -4.8,0M134.99,897.6a2.4,2.4 0 1,0 4.8,0a2.4,2.4 0 1,0 -4.8,0M138.72,893.75a2.4,2.4 0 1,0 4.8,0a2.4,2.4 0 1,0 -4.8,0M142.46,890.01a2.4,2.4 0 1,0 4.8,0a2.4,2.4 0 1,0 -4.8,0M146.19,885.47a2.4,2.4 0 1,0 4.8,0a2.4,2.4 0 1,0 -4.8,0M149.93,880.95a2.4,2.4 0 1,0 4.8,0a2.4,2.4 0 1,0 -4.8,0M153.67,876.59a2.4,2.4 0 1,0 4.8,0a2.4,2.4 0 1,0 -4.8,0M157.4,872.29a2.4,2.4 0 1,0 4.8,0a2.4,2.4 0 1,0 -4.8,0M161.14,868.09a2.4,2.4 0 1,0 4.8,0a2.4,2.4 0 1,0 -4.8,0M164.87,863.88a2.4,2.4 0 1,0 4.8,0a2.4,2.4 0 1,0 -4.8,0M168.61,860.66a2.4,2.4 0 1,0 4.8,0a2.4,2.4 0 1,0 -4.8,0M172.35,858.04a2.4,2.4 0 1,0 4.8,0a2.4,2.4 0 1,0 -4.8,0M176.08,855.43a2.4,2.4 0 1,0 4.8,0a2.4,2.4 0 1,0 -4.8,0M179.82,851.78a2.4,2.4 0 1,0 4.8,0a2.4,2.4 0 1,0 -4.8,0M183.55,846.88a2.4,2.4 0 1,0 4.8,0a2.4,2.4 0 1,0 -4.8,0M187.29,847.19a2.4,2.4 0 1,0 4.8,0a2.4,2.4 0 1,0 -4.8,0M191.03,847.5a2.4,2.4 0 1,0 4.8,0a2.4,2.4 0 1,0 -4.8,0M194.76,847.81a2.4,2.4 0 1,0 4.8,0a2.4,2.4 0 1,0 -4.8,0M198.5,847.28a2.4,2.4 0 1,0 4.8,0a2.4,2.4 0 1,0 -4.8,0M202.23,844.79a2.4,2.4 0 1,0 4.8,0a2.4,2.4 0 1,0 -4.8,0M205.97,843.4a2.4,2.4 0 1,0 4.8,0a2.4,2.4 0 1,0 -4.8,0M209.71,845.89a2.4,2.4 0 1,0 4.8,0a2.4,2.4 0 1,0 -4.8,0M213.44,847.3a2.4,2.4 0 1,0 4.8,0a2.4,2.4 0 1,0 -4.8,0M217.18,842.16a2.4,2.4 0 1,0 4.8,0a2.4,2.4 0 1,0 -4.8,0M220.91,837.02a2.4,2.4 0 1,0 4.8,0a2.4,2.4 0 1,0 -4.8,0M224.65,830.88a2.4,2.4 0 1,0 4.8,0a2.4,2.4 0 1,0 -4.8,0M228.39,823.04a2.4,2.4 0 1,0 4.8,0a2.4,2.4 0 1,0 -4.8,0M232.12,815.19a2.4,2.4 0 1,0 4.8,0a2.4,2.4 0 1,0 -4.8,0M235.86,807.34a2.4,2.4 0 1,0 4.8,0a2.4,2.4 0 1,0 -4.8,0M239.6,802.19a2.4,2.4 0 1,0 4.8,0a2.4,2.4 0 1,0 -4.8,0M243.33,797.33a2.4,2.4 0 1,0 4.8,0a2.4,2.4 0 1,0 -4.8,0M247.07,792.47a2.4,2.4 0 1,0 4.8,0a2.4,2.4 0 1,0 -4.8,0M250.8,787.13a2.4,2.4 0 1,0 4.8,0a2.4,2.4 0 1,0 -4.8,0M254.54,781.15a2.4,2.4 0 1,0 4.8,0a2.4,2.4 0 1,0 -4.8,0M258.28,775.17a2.4,2.4 0 1,0 4.8,0a2.4,2.4 0 1,0 -4.8,0M262.01,769.19a2.4,2.4 0 1,0 4.8,0a2.4,2.4 0 1,0 -4.8,0M265.75,768.65a2.4,2.4 0 1,0 4.8,0a2.4,2.4 0 1,0 -4.8,0M269.48,768.28a2.4,2.4 0 1,0 4.8,0a2.4,2.4 0 1,0 -4.8,0M273.22,767.91a2.4,2.4 0 1,0 4.8,0a2.4,2.4 0 1,0 -4.8,0M276.96,769.85a2.4,2.4 0 1,0 4.8,0a2.4,2.4 0 1,0 -4.8,0M280.69,774.05a2.4,2.4 0 1,0 4.8,0a2.4,2.4 0 1,0 -4.8,0M284.43,778.26a2.4,2.4 0 1,0 4.8,0a2.4,2.4 0 1,0 -4.8,0M288.16,777.73a2.4,2.4 0 1,0 4.8,0a2.4,2.4 0 1,0 -4.8,0M291.9,775.49a2.4,2.4 0 1,0 4.8,0a2.4,2.4 0 1,0 -4.8,0" fill="#ff7f0e"/>
</g>
<path d="M140.58,865.24L146.58,871.24M140.58,871.24L146.58,865.24M162.33,836.48L168.33,842.48M162.33,842.48L168.33,836.48M176.83,836.74L182.83,842.74M176.83,842.74L182.83,836.74M191.59,821.72L197.59,827.72M191.59,827.72L197.59,821.72M210.5,813.17L216.5,819.17M210.5,819.17L216.5,813.17M214.38,834.15L220.38,840.15M214.38,840.15L220.38,834.15M225.52,837.52L231.52,843.52M225.52,843.52L231.52,837.52M229.15,809.54L235.15,815.54M229.15,815.54L235.15,809.54M235.36,756.95L241.36,762.95M235.36,762.95L241.36,756.95M233.03,811.35L239.03,817.35M233.03,817.35L239.03,811.35M244.17,800.99L250.17,806.99M244.17,806.99L250.17,800.99M247.27,804.88L253.27,810.88M247.27,810.88L253.27,804.88M252.45,788.81L258.45,794.81M252.45,794.81L258.45,788.81M255.3,787.52L261.3,793.52M255.3,793.52L261.3,787.52M262.04,718.87L268.04,724.87M262.04,724.87L268.04,718.87M269.29,741.4L275.29,747.4M269.29,747.4L275.29,741.4M265.4,768.61L271.4,774.61M265.4,774.61L271.4,768.61M273.43,782.86L279.43,788.86M273.43,788.86L279.43,782.86M276.54,795.29L282.54,801.29M276.54,801.29L282.54,795.29M280.16,783.37L286.16,789.37M280.16,789.37L286.16,783.37M284.83,764.2L290.83,770.2M284.83,770.2L290.83,764.2M287.42,746.07L293.42,752.07M287.42,752.07L293.42,746.07M291.3,788.55L297.3,794.55M291.3,794.55L297.3,788.55M196.77,854.1L202.77,860.1M196.77,860.1L202.77,854.1M206.36,857.21L212.36,863.21M206.36,863.21L212.36,857.21M218.27,859.28L224.27,865.28M218.27,865.28L224.27,859.28M220.86,857.98L226.86,863.98M220.86,863.98L226.86,857.98M197.55,854.88L203.55,860.88M197.55,860.88L203.55,854.88M159.22,854.1L165.22,860.1M159.22,860.1L165.22,854.1M148.09,870.94L154.09,876.94M148.09,876.94L154.09,870.94M151.71,871.46L157.71,877.46M151.71,877.46L157.71,871.46M169.84,871.46L175.84,877.46M169.84,877.46L175.84,871.46M166.47,877.93L172.47,883.93M166.47,883.93L172.47,877.93M173.47,851.51L179.47,857.51M173.47,857.51L179.47,851.51M184.34,839.85L190.34,845.85M184.34,845.85L190.34,839.85M189,843.74L195,849.74M189,849.74L195,843.74M155.34,888.55L161.34,894.55M155.34,894.55L161.34,888.55M144.46,907.21L150.46,913.21M144.46,913.21L150.46,907.21M129.44,891.66L135.44,897.66M129.44,897.66L135.44,891.66M134.62,902.03L140.62,908.03M134.62,908.03L140.62,902.03M138.24,902.03L144.24,908.03M138.24,908.03L144.24,902.03M124.26,914.98L130.26,920.98M124.26,920.98L130.26,914.98M116.49,917.57L122.49,923.57M116.49,923.57L122.49,917.57M119.08,925.34L125.08,931.34M119.08,931.34L125.08,925.34M108.72,925.34L114.72,931.34M108.72,931.34L114.72,925.34M98.36,931.82L104.36,937.82M98.36,937.82L104.36,931.82M103.54,929.23L109.54,935.23M103.54,935.23L109.54,929.23M90.59,934.41L96.59,940.41M90.59,940.41L96.59,934.41" stroke="#7f7f7f" stroke-width="2.0" fill="none"/>
<clipPath id="c2"><rect x="340.4" y="695.7" width="228.4" height="244.3"/></clipPath>
<g clip-path="url(#c2)">
<path d="M340.4,933.54 L342.11,933.44 L344.51,933.35 L347.34,933.21 L350.34,933.01 L353.27,932.7 L355.88,932.24 L358.13,931.74 L360.19,931.24 L362.18,930.63 L364.2,929.8 L366.37,928.65 L368.79,927.07 L371.56,924.93 L374.62,922.29 L377.82,919.32 L381.02,916.21 L384.08,913.13 L386.85,910.27 L389.27,907.58 L391.44,904.91 L393.47,902.27 L395.46,899.69 L397.52,897.18 L399.76,894.76 L402.28,892.34 L405.02,889.88 L407.82,887.49 L410.56,885.28 L413.08,883.36 L415.24,881.83 L416.95,880.83 L418.3,880.3 L419.44,880.06 L420.5,879.92 L421.64,879.71 L422.99,879.25 L424.5,878.69 L426.04,878.19 L427.66,877.63 L429.39,876.85 L431.26,875.72 L433.31,874.08 L435.62,871.85 L438.18,869.15 L440.89,866.08 L443.63,862.78 L446.3,859.37 L448.79,855.98 L451.09,852.42 L453.29,848.56 L455.41,844.59 L457.49,840.71 L459.58,837.12 L461.7,834.01 L463.82,831.46 L465.9,829.32 L467.99,827.46 L470.11,825.77 L472.3,824.12 L474.6,822.37 L477.12,820.49 L479.86,818.54 L482.67,816.64 L485.4,814.86 L487.92,813.29 L490.09,812.03 L491.76,811.08 L493.05,810.36 L494.12,809.85 L495.15,809.54 L496.33,809.42 L497.83,809.45 L499.71,809.84 L501.84,810.64 L504.12,811.63 L506.43,812.56 L508.67,813.2 L510.73,813.33 L512.6,812.89 L514.36,812.08 L516.06,810.98 L517.71,809.69 L519.36,808.28 L521.06,806.86 L522.78,805.39 L524.5,803.8 L526.22,802.1 L527.94,800.3 L529.66,798.44 L531.38,796.52 L533.1,794.55 L534.82,792.5 L536.54,790.38 L538.26,788.19 L539.98,785.93 L541.7,783.6 L543.42,781.18 L545.14,778.67 L546.86,776.08 L548.58,773.45 L550.3,770.78 L552.02,768.09 L553.79,765.22 L555.61,762.15 L557.43,759.04 L559.19,756.07 L560.85,753.42 L562.35,751.28 L563.72,749.69 L565.02,748.5 L566.22,747.65 L567.27,747.02 L568.14,746.54 L568.8,746.11 L568.8,792.64 L568.14,792.71 L567.27,792.74 L566.22,792.81 L565.02,792.98 L563.72,793.33 L562.35,793.94 L560.88,794.77 L559.29,795.76 L557.59,796.93 L555.8,798.29 L553.94,799.88 L552.02,801.69 L550.02,803.84 L547.91,806.34 L545.73,809.04 L543.52,811.84 L541.3,814.6 L539.12,817.2 L537,819.69 L534.92,822.18 L532.83,824.64 L530.71,827.02 L528.52,829.29 L526.22,831.42 L523.79,833.39 L521.25,835.2 L518.64,836.92 L515.99,838.56 L513.34,840.16 L510.73,841.76 L508.15,843.36 L505.57,844.92 L502.99,846.45 L500.41,847.94 L497.83,849.39 L495.25,850.81 L492.67,852.12 L490.09,853.3 L487.51,854.45 L484.92,855.65 L482.34,856.99 L479.76,858.57 L477.18,860.39 L474.6,862.4 L472.02,864.54 L469.44,866.8 L466.86,869.13 L464.28,871.49 L461.7,873.93 L459.12,876.47 L456.54,879.09 L453.95,881.74 L451.37,884.39 L448.79,887 L446.18,889.68 L443.54,892.46 L440.89,895.24 L438.28,897.92 L435.74,900.38 L433.31,902.51 L431.1,904.26 L429.1,905.67 L427.18,906.88 L425.18,907.97 L422.97,909.07 L420.4,910.27 L417.38,911.5 L414,912.66 L410.4,913.82 L406.74,915.06 L403.14,916.43 L399.76,918.03 L396.63,919.94 L393.64,922.14 L390.73,924.49 L387.81,926.83 L384.82,929.04 L381.69,930.95 L378.4,932.62 L375,934.16 L371.53,935.56 L368.02,936.79 L364.52,937.85 L361.05,938.71 L357.37,939.31 L353.4,939.66 L349.43,939.84 L345.75,939.9 L342.65,939.93 L340.4,940 Z" fill="#8fbbd9" stroke="#1f77b4" stroke-opacity="0.6" stroke-width="0.9"/>
<path d="M341.69,937.41 L343.87,937.18 L346.95,936.89 L350.56,936.53 L354.36,936.07 L357.97,935.51 L361.05,934.83 L363.57,934.02 L365.83,933.11 L367.9,932.08 L369.89,930.95 L371.87,929.71 L373.95,928.37 L376.1,926.87 L378.25,925.21 L380.4,923.44 L382.55,921.62 L384.7,919.79 L386.85,918.03 L389,916.27 L391.16,914.48 L393.31,912.69 L395.46,910.94 L397.61,909.26 L399.76,907.69 L401.91,906.21 L404.06,904.81 L406.21,903.48 L408.36,902.23 L410.51,901.04 L412.66,899.93 L414.87,898.95 L417.15,898.11 L419.44,897.34 L421.65,896.58 L423.71,895.74 L425.57,894.76 L427.13,893.65 L428.43,892.46 L429.6,891.2 L430.73,889.88 L431.93,888.48 L433.31,887 L434.85,885.46 L436.46,883.84 L438.15,882.16 L439.9,880.4 L441.73,878.57 L443.63,876.66 L445.63,874.64 L447.74,872.5 L449.92,870.28 L452.14,868.05 L454.36,865.85 L456.54,863.74 L458.66,861.74 L460.74,859.81 L462.83,857.92 L464.95,856.03 L467.14,854.1 L469.44,852.1 L471.9,849.98 L474.51,847.75 L477.18,845.48 L479.86,843.25 L482.46,841.12 L484.92,839.18 L487.16,837.45 L489.23,835.87 L491.21,834.41 L493.24,833 L495.41,831.59 L497.83,830.13 L500.57,828.68 L503.56,827.31 L506.7,825.93 L509.87,824.48 L512.97,822.89 L515.89,821.08 L518.68,819 L521.44,816.68 L524.12,814.21 L526.69,811.7 L529.13,809.22 L531.38,806.86 L533.37,804.63 L535.11,802.46 L536.7,800.32 L538.26,798.2 L539.89,796.08 L541.7,793.94 L543.7,791.83 L545.81,789.77 L547.99,787.72 L550.21,785.61 L552.43,783.39 L554.61,781.01 L556.91,778.24 L559.38,775.07 L561.86,771.8 L564.16,768.71 L566.11,766.08 L567.51,764.21" fill="none" stroke="#1f77b4" stroke-width="2.0"/>
<path d="M338,937.41a2.4,2.4 0 1,0 4.8,0a2.4,2.4 0 1,0 -4.8,0M341.74,937.15a2.4,2.4 0 1,0 4.8,0a2.4,2.4 0 1,0 -4.8,0M345.49,936.79a2.4,2.4 0 1,0 4.8,0a2.4,2.4 0 1,0 -4.8,0M349.23,936.4a2.4,2.4 0 1,0 4.8,0a2.4,2.4 0 1,0 -4.8,0M352.98,935.92a2.4,2.4 0 1,0 4.8,0a2.4,2.4 0 1,0 -4.8,0M356.72,935.26a2.4,2.4 0 1,0 4.8,0a2.4,2.4 0 1,0 -4.8,0M360.47,934.25a2.4,2.4 0 1,0 4.8,0a2.4,2.4 0 1,0 -4.8,0M364.21,932.72a2.4,2.4 0 1,0 4.8,0a2.4,2.4 0 1,0 -4.8,0M367.95,930.66a2.4,2.4 0 1,0 4.8,0a2.4,2.4 0 1,0 -4.8,0M371.7,928.26a2.4,2.4 0 1,0 4.8,0a2.4,2.4 0 1,0 -4.8,0M375.44,925.52a2.4,2.4 0 1,0 4.8,0a2.4,2.4 0 1,0 -4.8,0M379.19,922.43a2.4,2.4 0 1,0 4.8,0a2.4,2.4 0 1,0 -4.8,0M382.93,919.28a2.4,2.4 0 1,0 4.8,0a2.4,2.4 0 1,0 -4.8,0M386.68,916.21a2.4,2.4 0 1,0 4.8,0a2.4,2.4 0 1,0 -4.8,0M390.42,913.1a2.4,2.4 0 1,0 4.8,0a2.4,2.4 0 1,0 -4.8,0M394.16,910.08a2.4,2.4 0 1,0 4.8,0a2.4,2.4 0 1,0 -4.8,0M397.91,907.31a2.4,2.4 0 1,0 4.8,0a2.4,2.4 0 1,0 -4.8,0M401.65,904.82a2.4,2.4 0 1,0 4.8,0a2.4,2.4 0 1,0 -4.8,0M405.4,902.56a2.4,2.4 0 1,0 4.8,0a2.4,2.4 0 1,0 -4.8,0M409.14,900.51a2.4,2.4 0 1,0 4.8,0a2.4,2.4 0 1,0 -4.8,0M412.89,898.8a2.4,2.4 0 1,0 4.8,0a2.4,2.4 0 1,0 -4.8,0M416.63,897.48a2.4,2.4 0 1,0 4.8,0a2.4,2.4 0 1,0 -4.8,0M420.37,896.12a2.4,2.4 0 1,0 4.8,0a2.4,2.4 0 1,0 -4.8,0M424.12,894.08a2.4,2.4 0 1,0 4.8,0a2.4,2.4 0 1,0 -4.8,0M427.86,890.42a2.4,2.4 0 1,0 4.8,0a2.4,2.4 0 1,0 -4.8,0M431.61,886.3a2.4,2.4 0 1,0 4.8,0a2.4,2.4 0 1,0 -4.8,0M435.35,882.55a2.4,2.4 0 1,0 4.8,0a2.4,2.4 0 1,0 -4.8,0M439.1,878.8a2.4,2.4 0 1,0 4.8,0a2.4,2.4 0 1,0 -4.8,0M442.84,875.04a2.4,2.4 0 1,0 4.8,0a2.4,2.4 0 1,0 -4.8,0M446.58,871.24a2.4,2.4 0 1,0 4.8,0a2.4,2.4 0 1,0 -4.8,0M450.33,867.46a2.4,2.4 0 1,0 4.8,0a2.4,2.4 0 1,0 -4.8,0M454.07,863.8a2.4,2.4 0 1,0 4.8,0a2.4,2.4 0 1,0 -4.8,0M457.82,860.3a2.4,2.4 0 1,0 4.8,0a2.4,2.4 0 1,0 -4.8,0M461.56,856.91a2.4,2.4 0 1,0 4.8,0a2.4,2.4 0 1,0 -4.8,0M465.3,853.61a2.4,2.4 0 1,0 4.8,0a2.4,2.4 0 1,0 -4.8,0M469.05,850.37a2.4,2.4 0 1,0 4.8,0a2.4,2.4 0 1,0 -4.8,0M472.79,847.16a2.4,2.4 0 1,0 4.8,0a2.4,2.4 0 1,0 -4.8,0M476.54,844.01a2.4,2.4 0 1,0 4.8,0a2.4,2.4 0 1,0 -4.8,0M480.28,840.95a2.4,2.4 0 1,0 4.8,0a2.4,2.4 0 1,0 -4.8,0M484.03,838.02a2.4,2.4 0 1,0 4.8,0a2.4,2.4 0 1,0 -4.8,0M487.77,835.18a2.4,2.4 0 1,0 4.8,0a2.4,2.4 0 1,0 -4.8,0M491.51,832.56a2.4,2.4 0 1,0 4.8,0a2.4,2.4 0 1,0 -4.8,0M495.26,830.23a2.4,2.4 0 1,0 4.8,0a2.4,2.4 0 1,0 -4.8,0M499,828.3a2.4,2.4 0 1,0 4.8,0a2.4,2.4 0 1,0 -4.8,0M502.75,826.61a2.4,2.4 0 1,0 4.8,0a2.4,2.4 0 1,0 -4.8,0M506.49,824.93a2.4,2.4 0 1,0 4.8,0a2.4,2.4 0 1,0 -4.8,0M510.24,823.06a2.4,2.4 0 1,0 4.8,0a2.4,2.4 0 1,0 -4.8,0M513.98,820.72a2.4,2.4 0 1,0 4.8,0a2.4,2.4 0 1,0 -4.8,0M517.72,817.78a2.4,2.4 0 1,0 4.8,0a2.4,2.4 0 1,0 -4.8,0M521.47,814.45a2.4,2.4 0 1,0 4.8,0a2.4,2.4 0 1,0 -4.8,0M525.21,810.76a2.4,2.4 0 1,0 4.8,0a2.4,2.4 0 1,0 -4.8,0M528.96,806.89a2.4,2.4 0 1,0 4.8,0a2.4,2.4 0 1,0 -4.8,0M532.7,802.46a2.4,2.4 0 1,0 4.8,0a2.4,2.4 0 1,0 -4.8,0M536.45,797.44a2.4,2.4 0 1,0 4.8,0a2.4,2.4 0 1,0 -4.8,0M540.19,793a2.4,2.4 0 1,0 4.8,0a2.4,2.4 0 1,0 -4.8,0M543.93,789.28a2.4,2.4 0 1,0 4.8,0a2.4,2.4 0 1,0 -4.8,0M547.68,785.73a2.4,2.4 0 1,0 4.8,0a2.4,2.4 0 1,0 -4.8,0M551.42,781.86a2.4,2.4 0 1,0 4.8,0a2.4,2.4 0 1,0 -4.8,0M555.17,777.4a2.4,2.4 0 1,0 4.8,0a2.4,2.4 0 1,0 -4.8,0M558.91,772.53a2.4,2.4 0 1,0 4.8,0a2.4,2.4 0 1,0 -4.8,0M562.66,767.5a2.4,2.4 0 1,0 4.8,0a2.4,2.4 0 1,0 -4.8,0M566.4,764.21a2.4,2.4 0 1,0 4.8,0a2.4,2.4 0 1,0 -4.8,0" fill="#1f77b4"/>
</g>
<g clip-path="url(#c2)">
<path d="M341.7,939.22 L367.65,937.41 L385.82,927.05 L398.8,916.68 L411.77,897.25 L419.56,889.48 L424.75,883.01 L432.54,873.94 L442.92,862.28 L455.9,853.21 L458.49,846.74 L474.07,848.03 L481.85,842.85 L489.64,848.03 L500.02,833.78 L513,806.58 L525.97,789.74 L538.95,769.02 L551.93,767.72 L562.31,779.38 L568.8,775.49" fill="none" stroke="#ff7f0e" stroke-width="2.0" stroke-linejoin="round"/>
<path d="M338,939.22a2.4,2.4 0 1,0 4.8,0a2.4,2.4 0 1,0 -4.8,0M341.74,939.05a2.4,2.4 0 1,0 4.8,0a2.4,2.4 0 1,0 -4.8,0M345.49,938.79a2.4,2.4 0 1,0 4.8,0a2.4,2.4 0 1,0 -4.8,0M349.23,938.53a2.4,2.4 0 1,0 4.8,0a2.4,2.4 0 1,0 -4.8,0M352.98,938.27a2.4,2.4 0 1,0 4.8,0a2.4,2.4 0 1,0 -4.8,0M356.72,938.01a2.4,2.4 0 1,0 4.8,0a2.4,2.4 0 1,0 -4.8,0M360.47,937.74a2.4,2.4 0 1,0 4.8,0a2.4,2.4 0 1,0 -4.8,0M364.21,937.48a2.4,2.4 0 1,0 4.8,0a2.4,2.4 0 1,0 -4.8,0M367.95,935.87a2.4,2.4 0 1,0 4.8,0a2.4,2.4 0 1,0 -4.8,0M371.7,933.73a2.4,2.4 0 1,0 4.8,0a2.4,2.4 0 1,0 -4.8,0M375.44,931.6a2.4,2.4 0 1,0 4.8,0a2.4,2.4 0 1,0 -4.8,0M379.19,929.46a2.4,2.4 0 1,0 4.8,0a2.4,2.4 0 1,0 -4.8,0M382.93,927.33a2.4,2.4 0 1,0 4.8,0a2.4,2.4 0 1,0 -4.8,0M386.68,924.45a2.4,2.4 0 1,0 4.8,0a2.4,2.4 0 1,0 -4.8,0M390.42,921.46a2.4,2.4 0 1,0 4.8,0a2.4,2.4 0 1,0 -4.8,0M394.16,918.47a2.4,2.4 0 1,0 4.8,0a2.4,2.4 0 1,0 -4.8,0M397.91,914.42a2.4,2.4 0 1,0 4.8,0a2.4,2.4 0 1,0 -4.8,0M401.65,908.82a2.4,2.4 0 1,0 4.8,0a2.4,2.4 0 1,0 -4.8,0M405.4,903.21a2.4,2.4 0 1,0 4.8,0a2.4,2.4 0 1,0 -4.8,0M409.14,897.6a2.4,2.4 0 1,0 4.8,0a2.4,2.4 0 1,0 -4.8,0M412.89,893.75a2.4,2.4 0 1,0 4.8,0a2.4,2.4 0 1,0 -4.8,0M416.63,890.01a2.4,2.4 0 1,0 4.8,0a2.4,2.4 0 1,0 -4.8,0M420.37,885.47a2.4,2.4 0 1,0 4.8,0a2.4,2.4 0 1,0 -4.8,0M424.12,880.95a2.4,2.4 0 1,0 4.8,0a2.4,2.4 0 1,0 -4.8,0M427.86,876.59a2.4,2.4 0 1,0 4.8,0a2.4,2.4 0 1,0 -4.8,0M431.61,872.29a2.4,2.4 0 1,0 4.8,0a2.4,2.4 0 1,0 -4.8,0M435.35,868.09a2.4,2.4 0 1,0 4.8,0a2.4,2.4 0 1,0 -4.8,0M439.1,863.88a2.4,2.4 0 1,0 4.8,0a2.4,2.4 0 1,0 -4.8,0M442.84,860.66a2.4,2.4 0 1,0 4.8,0a2.4,2.4 0 1,0 -4.8,0M446.58,858.04a2.4,2.4 0 1,0 4.8,0a2.4,2.4 0 1,0 -4.8,0M450.33,855.43a2.4,2.4 0 1,0 4.8,0a2.4,2.4 0 1,0 -4.8,0M454.07,851.78a2.4,2.4 0 1,0 4.8,0a2.4,2.4 0 1,0 -4.8,0M457.82,846.88a2.4,2.4 0 1,0 4.8,0a2.4,2.4 0 1,0 -4.8,0M461.56,847.19a2.4,2.4 0 1,0 4.8,0a2.4,2.4 0 1,0 -4.8,0M465.3,847.5a2.4,2.4 0 1,0 4.8,0a2.4,2.4 0 1,0 -4.8,0M469.05,847.81a2.4,2.4 0 1,0 4.8,0a2.4,2.4 0 1,0 -4.8,0M472.79,847.28a2.4,2.4 0 1,0 4.8,0a2.4,2.4 0 1,0 -4.8,0M476.54,844.79a2.4,2.4 0 1,0 4.8,0a2.4,2.4 0 1,0 -4.8,0M480.28,843.4a2.4,2.4 0 1,0 4.8,0a2.4,2.4 0 1,0 -4.8,0M484.03,845.89a2.4,2.4 0 1,0 4.8,0a2.4,2.4 0 1,0 -4.8,0M487.77,847.3a2.4,2.4 0 1,0 4.8,0a2.4,2.4 0 1,0 -4.8,0M491.51,842.16a2.4,2.4 0 1,0 4.8,0a2.4,2.4 0 1,0 -4.8,0M495.26,837.02a2.4,2.4 0 1,0 4.8,0a2.4,2.4 0 1,0 -4.8,0M499,830.88a2.4,2.4 0 1,0 4.8,0a2.4,2.4 0 1,0 -4.8,0M502.75,823.04a2.4,2.4 0 1,0 4.8,0a2.4,2.4 0 1,0 -4.8,0M506.49,815.19a2.4,2.4 0 1,0 4.8,0a2.4,2.4 0 1,0 -4.8,0M510.24,807.34a2.4,2.4 0 1,0 4.8,0a2.4,2.4 0 1,0 -4.8,0M513.98,802.19a2.4,2.4 0 1,0 4.8,0a2.4,2.4 0 1,0 -4.8,0M517.72,797.33a2.4,2.4 0 1,0 4.8,0a2.4,2.4 0 1,0 -4.8,0M521.47,792.47a2.4,2.4 0 1,0 4.8,0a2.4,2.4 0 1,0 -4.8,0M525.21,787.13a2.4,2.4 0 1,0 4.8,0a2.4,2.4 0 1,0 -4.8,0M528.96,781.15a2.4,2.4 0 1,0 4.8,0a2.4,2.4 0 1,0 -4.8,0M532.7,775.17a2.4,2.4 0 1,0 4.8,0a2.4,2.4 0 1,0 -4.8,0M536.45,769.19a2.4,2.4 0 1,0 4.8,0a2.4,2.4 0 1,0 -4.8,0M540.19,768.65a2.4,2.4 0 1,0 4.8,0a2.4,2.4 0 1,0 -4.8,0M543.93,768.28a2.4,2.4 0 1,0 4.8,0a2.4,2.4 0 1,0 -4.8,0M547.68,767.91a2.4,2.4 0 1,0 4.8,0a2.4,2.4 0 1,0 -4.8,0M551.42,769.85a2.4,2.4 0 1,0 4.8,0a2.4,2.4 0 1,0 -4.8,0M555.17,774.05a2.4,2.4 0 1,0 4.8,0a2.4,2.4 0 1,0 -4.8,0M558.91,778.26a2.4,2.4 0 1,0 4.8,0a2.4,2.4 0 1,0 -4.8,0M562.66,777.73a2.4,2.4 0 1,0 4.8,0a2.4,2.4 0 1,0 -4.8,0M566.4,775.49a2.4,2.4 0 1,0 4.8,0a2.4,2.4 0 1,0 -4.8,0" fill="#ff7f0e"/>
</g>
<path d="M414.74,865.24L420.74,871.24M414.74,871.24L420.74,865.24M436.55,836.48L442.55,842.48M436.55,842.48L442.55,836.48M451.08,836.74L457.08,842.74M451.08,842.74L457.08,836.74M465.88,821.72L471.88,827.72M465.88,827.72L471.88,821.72M484.82,813.17L490.82,819.17M484.82,819.17L490.82,813.17M488.71,834.15L494.71,840.15M488.71,840.15L494.71,834.15M499.88,837.52L505.88,843.52M499.88,843.52L505.88,837.52M503.51,809.54L509.51,815.54M503.51,815.54L509.51,809.54M509.74,756.95L515.74,762.95M509.74,762.95L515.74,756.95M507.4,811.35L513.4,817.35M507.4,817.35L513.4,811.35M518.56,800.99L524.56,806.99M518.56,806.99L524.56,800.99M521.68,804.88L527.68,810.88M521.68,810.88L527.68,804.88M526.87,788.81L532.87,794.81M526.87,794.81L532.87,788.81M529.72,787.52L535.72,793.52M529.72,793.52L535.72,787.52M536.47,718.87L542.47,724.87M536.47,724.87L542.47,718.87M543.74,741.4L549.74,747.4M543.74,747.4L549.74,741.4M539.85,768.61L545.85,774.61M539.85,774.61L545.85,768.61M547.89,782.86L553.89,788.86M547.89,788.86L553.89,782.86M551.01,795.29L557.01,801.29M551.01,801.29L557.01,795.29M554.64,783.37L560.64,789.37M554.64,789.37L560.64,783.37M559.31,764.2L565.31,770.2M559.31,770.2L565.31,764.2M561.91,746.07L567.91,752.07M561.91,752.07L567.91,746.07M565.8,788.55L571.8,794.55M565.8,794.55L571.8,788.55M471.07,854.1L477.07,860.1M471.07,860.1L477.07,854.1M480.67,857.21L486.67,863.21M480.67,863.21L486.67,857.21M492.61,859.28L498.61,865.28M492.61,865.28L498.61,859.28M495.2,857.98L501.2,863.98M495.2,863.98L501.2,857.98M471.84,854.88L477.84,860.88M471.84,860.88L477.84,854.88M433.43,854.1L439.43,860.1M433.43,860.1L439.43,854.1M422.27,870.94L428.27,876.94M422.27,876.94L428.27,870.94M425.9,871.46L431.9,877.46M425.9,877.46L431.9,871.46M444.07,871.46L450.07,877.46M444.07,877.46L450.07,871.46M440.7,877.93L446.7,883.93M440.7,883.93L446.7,877.93M447.71,851.51L453.71,857.51M447.71,857.51L453.71,851.51M458.61,839.85L464.61,845.85M458.61,845.85L464.61,839.85M463.28,843.74L469.28,849.74M463.28,849.74L469.28,843.74M429.54,888.55L435.54,894.55M429.54,894.55L435.54,888.55M418.64,907.21L424.64,913.21M418.64,913.21L424.64,907.21M403.58,891.66L409.58,897.66M403.58,897.66L409.58,891.66M408.77,902.03L414.77,908.03M408.77,908.03L414.77,902.03M412.41,902.03L418.41,908.03M412.41,908.03L418.41,902.03M398.39,914.98L404.39,920.98M398.39,920.98L404.39,914.98M390.61,917.57L396.61,923.57M390.61,923.57L396.61,917.57M393.2,925.34L399.2,931.34M393.2,931.34L399.2,925.34M382.82,925.34L388.82,931.34M382.82,931.34L388.82,925.34M372.44,931.82L378.44,937.82M372.44,937.82L378.44,931.82M377.63,929.23L383.63,935.23M377.63,935.23L383.63,929.23M364.65,934.41L370.65,940.41M364.65,940.41L370.65,934.41" stroke="#7f7f7f" stroke-width="2.0" fill="none"/>
<rect x="66.4" y="695.7" width="227.9" height="244.3" fill="none" stroke="#000" stroke-width="1.7"/>
<text x="180.35" y="688.3" font-size="18" text-anchor="middle" font-weight="normal" font-style="normal" >Out-of-sample fit</text>
<line x1="63.2" y1="940" x2="66.4" y2="940" stroke="#000" stroke-width="1.5"/>
<text x="59.8" y="945.2" font-size="14.3" text-anchor="end" font-weight="normal" font-style="normal" >0</text>
<line x1="63.2" y1="905.1" x2="66.4" y2="905.1" stroke="#000" stroke-width="1.5"/>
<text x="59.8" y="910.3" font-size="14.3" text-anchor="end" font-weight="normal" font-style="normal" >0.5</text>
<line x1="63.2" y1="870.2" x2="66.4" y2="870.2" stroke="#000" stroke-width="1.5"/>
<text x="59.8" y="875.4" font-size="14.3" text-anchor="end" font-weight="normal" font-style="normal" >1.0</text>
<line x1="63.2" y1="835.3" x2="66.4" y2="835.3" stroke="#000" stroke-width="1.5"/>
<text x="59.8" y="840.5" font-size="14.3" text-anchor="end" font-weight="normal" font-style="normal" >1.5</text>
<line x1="63.2" y1="800.4" x2="66.4" y2="800.4" stroke="#000" stroke-width="1.5"/>
<text x="59.8" y="805.6" font-size="14.3" text-anchor="end" font-weight="normal" font-style="normal" >2.0</text>
<line x1="63.2" y1="765.5" x2="66.4" y2="765.5" stroke="#000" stroke-width="1.5"/>
<text x="59.8" y="770.7" font-size="14.3" text-anchor="end" font-weight="normal" font-style="normal" >2.5</text>
<line x1="63.2" y1="730.6" x2="66.4" y2="730.6" stroke="#000" stroke-width="1.5"/>
<text x="59.8" y="735.8" font-size="14.3" text-anchor="end" font-weight="normal" font-style="normal" >3.0</text>
<line x1="63.2" y1="695.7" x2="66.4" y2="695.7" stroke="#000" stroke-width="1.5"/>
<text x="59.8" y="700.9" font-size="14.3" text-anchor="end" font-weight="normal" font-style="normal" >3.5</text>
<line x1="66.4" y1="940" x2="66.4" y2="943" stroke="#000" stroke-width="1.5"/>
<text x="73.5" y="962.5" font-size="14.3" text-anchor="middle" font-weight="normal" font-style="normal" >8 March</text>
<line x1="206.08" y1="940" x2="206.08" y2="943" stroke="#000" stroke-width="1.5"/>
<text x="206.7" y="962.5" font-size="14.3" text-anchor="middle" font-weight="normal" font-style="normal" >15 April</text>
<line x1="294.3" y1="940" x2="294.3" y2="943" stroke="#000" stroke-width="1.5"/>
<text x="291.2" y="962.5" font-size="14.3" text-anchor="middle" font-weight="normal" font-style="normal" >9 May</text>
<text x="180.35" y="984" font-size="16.8" text-anchor="middle" font-weight="normal" font-style="normal" >Date</text>
<rect x="340.4" y="695.7" width="228.4" height="244.3" fill="none" stroke="#000" stroke-width="1.7"/>
<text x="454.6" y="688.3" font-size="18" text-anchor="middle" font-weight="normal" font-style="normal" >Full fit</text>
<line x1="337.2" y1="940" x2="340.4" y2="940" stroke="#000" stroke-width="1.5"/>
<line x1="337.2" y1="905.1" x2="340.4" y2="905.1" stroke="#000" stroke-width="1.5"/>
<line x1="337.2" y1="870.2" x2="340.4" y2="870.2" stroke="#000" stroke-width="1.5"/>
<line x1="337.2" y1="835.3" x2="340.4" y2="835.3" stroke="#000" stroke-width="1.5"/>
<line x1="337.2" y1="800.4" x2="340.4" y2="800.4" stroke="#000" stroke-width="1.5"/>
<line x1="337.2" y1="765.5" x2="340.4" y2="765.5" stroke="#000" stroke-width="1.5"/>
<line x1="337.2" y1="730.6" x2="340.4" y2="730.6" stroke="#000" stroke-width="1.5"/>
<line x1="337.2" y1="695.7" x2="340.4" y2="695.7" stroke="#000" stroke-width="1.5"/>
<line x1="340.4" y1="940" x2="340.4" y2="943" stroke="#000" stroke-width="1.5"/>
<text x="347.5" y="962.5" font-size="14.3" text-anchor="middle" font-weight="normal" font-style="normal" >8 March</text>
<line x1="480.39" y1="940" x2="480.39" y2="943" stroke="#000" stroke-width="1.5"/>
<text x="480.5" y="962.5" font-size="14.3" text-anchor="middle" font-weight="normal" font-style="normal" >15 April</text>
<line x1="568.8" y1="940" x2="568.8" y2="943" stroke="#000" stroke-width="1.5"/>
<text x="565" y="962.5" font-size="14.3" text-anchor="middle" font-weight="normal" font-style="normal" >9 May</text>
<text x="454.6" y="984" font-size="16.8" text-anchor="middle" font-weight="normal" font-style="normal" >Date</text>
<line x1="206.08" y1="695.7" x2="206.08" y2="940.0" stroke="#000" stroke-width="1.9"/>
<circle cx="206.08" cy="695.7" r="2.4" fill="#000"/><circle cx="206.08" cy="940.0" r="2.4" fill="#000"/>
<text transform="translate(21.5,818) rotate(-90)" font-size="17.7" text-anchor="middle">Daily confirmed cases (×10<tspan dy="-6.5" font-size="12">3</tspan><tspan dy="6.5">)</tspan></text>
<text x="592" y="509" font-size="27" font-weight="bold" stroke="#000" stroke-width="1.3" stroke-linejoin="round">d</text>
<clipPath id="d1"><rect x="654.8" y="520.3" width="146.8" height="123.7"/></clipPath>
<g clip-path="url(#d1)">
<path d="M654.8,644 L654.85,638.17 L654.9,629.63 L654.97,619.74 L655.08,609.92 L655.24,601.54 L655.49,596 L655.82,593.66 L656.25,593.46 L656.73,594.72 L657.24,596.71 L657.75,598.75 L658.23,600.12 L658.67,600.98 L659.09,601.94 L659.52,602.94 L659.96,603.92 L660.44,604.83 L660.97,605.6 L661.55,606.3 L662.14,606.97 L662.77,607.57 L663.46,608.04 L664.23,608.32 L665.09,608.34 L666.07,608.07 L667.17,607.53 L668.35,606.8 L669.56,605.96 L670.77,605.07 L671.95,604.23 L673.11,603.46 L674.29,602.71 L675.47,601.92 L676.62,601.03 L677.75,599.99 L678.81,598.74 L679.8,597.2 L680.74,595.39 L681.64,593.43 L682.52,591.43 L683.4,589.51 L684.3,587.77 L685.16,586.23 L685.97,584.78 L686.78,583.4 L687.65,582.08 L688.63,580.8 L689.79,579.54 L691.18,578.23 L692.78,576.85 L694.5,575.52 L696.24,574.31 L697.9,573.34 L699.39,572.69 L700.71,572.49 L701.93,572.69 L703.08,573.12 L704.17,573.6 L705.22,573.97 L706.25,574.06 L707.24,573.86 L708.18,573.5 L709.08,573.03 L709.96,572.48 L710.84,571.9 L711.74,571.32 L712.62,570.67 L713.46,569.92 L714.31,569.13 L715.19,568.37 L716.15,567.7 L717.22,567.2 L718.45,566.91 L719.82,566.8 L721.25,566.77 L722.71,566.77 L724.13,566.71 L725.46,566.52 L726.69,566.11 L727.9,565.53 L729.06,564.89 L730.18,564.31 L731.27,563.9 L732.32,563.77 L733.28,564.02 L734.15,564.56 L734.97,565.27 L735.82,566.03 L736.75,566.72 L737.8,567.2 L739.02,567.5 L740.34,567.71 L741.75,567.84 L743.19,567.91 L744.63,567.92 L746.04,567.89 L747.44,567.74 L748.88,567.46 L750.32,567.12 L751.73,566.8 L753.05,566.57 L754.27,566.52 L755.28,566.76 L756.1,567.25 L756.84,567.84 L757.62,568.37 L758.55,568.67 L759.76,568.57 L761.31,567.97 L763.16,566.97 L765.16,565.74 L767.17,564.46 L769.08,563.29 L770.73,562.4 L772.11,561.89 L773.32,561.64 L774.42,561.5 L775.46,561.34 L776.49,561 L777.59,560.34 L778.73,559.36 L779.88,558.16 L781.02,556.79 L782.16,555.29 L783.31,553.72 L784.45,552.12 L785.61,550.46 L786.79,548.71 L787.97,546.89 L789.13,545.01 L790.25,543.08 L791.31,541.15 L792.32,539.12 L793.29,536.98 L794.23,534.8 L795.12,532.66 L795.98,530.64 L796.8,528.8 L797.61,527.1 L798.42,525.45 L799.2,523.92 L799.9,522.56 L800.48,521.42 L800.91,520.57 L802.6,520.57 L802.6,591.2 L800.91,591.2 L800.17,591.57 L799.14,592.06 L797.91,592.66 L796.59,593.31 L795.28,593.98 L794.05,594.63 L792.91,595.29 L791.77,596 L790.62,596.73 L789.48,597.45 L788.34,598.13 L787.19,598.74 L786.04,599.28 L784.86,599.76 L783.68,600.2 L782.52,600.62 L781.4,601.05 L780.33,601.49 L779.37,601.98 L778.51,602.5 L777.68,603.03 L776.83,603.52 L775.9,603.93 L774.85,604.23 L773.68,604.38 L772.46,604.41 L771.16,604.36 L769.77,604.28 L768.26,604.22 L766.61,604.23 L764.75,604.3 L762.65,604.38 L760.44,604.49 L758.23,604.61 L756.13,604.75 L754.27,604.92 L752.67,605.08 L751.27,605.25 L749.98,605.43 L748.73,605.65 L747.44,605.93 L746.04,606.29 L744.55,606.72 L743.04,607.23 L741.49,607.79 L739.89,608.39 L738.21,609.04 L736.43,609.72 L734.48,610.46 L732.37,611.29 L730.17,612.16 L728,613.02 L725.94,613.82 L724.08,614.51 L722.51,615.07 L721.14,615.51 L719.88,615.89 L718.65,616.27 L717.34,616.71 L715.85,617.26 L714.15,617.98 L712.3,618.83 L710.36,619.74 L708.43,620.64 L706.58,621.43 L704.88,622.06 L703.35,622.47 L701.93,622.72 L700.59,622.87 L699.29,623 L697.99,623.16 L696.64,623.43 L695.3,623.78 L694,624.14 L692.7,624.54 L691.36,625 L689.94,625.54 L688.41,626.17 L686.71,626.94 L684.86,627.85 L682.93,628.83 L680.99,629.83 L679.14,630.79 L677.44,631.66 L675.91,632.41 L674.49,633.08 L673.15,633.71 L671.85,634.35 L670.55,635.02 L669.21,635.77 L667.81,636.64 L666.39,637.6 L664.96,638.6 L663.57,639.58 L662.23,640.49 L660.97,641.26 L659.75,641.9 L658.53,642.48 L657.37,642.97 L656.32,643.39 L655.45,643.73 L654.8,644 Z" fill="#8fbbd9" stroke="#1f77b4" stroke-opacity="0.6" stroke-width="0.9"/>
<path d="M655.49,629.6 L656.4,629.95 L657.67,630.49 L659.17,631.1 L660.77,631.68 L662.33,632.13 L663.72,632.34 L664.94,632.33 L666.11,632.19 L667.23,631.91 L668.34,631.51 L669.45,630.96 L670.58,630.29 L671.72,629.45 L672.86,628.46 L674.01,627.33 L675.15,626.1 L676.29,624.79 L677.44,623.43 L678.6,621.96 L679.77,620.33 L680.95,618.63 L682.11,616.93 L683.23,615.3 L684.3,613.83 L685.24,612.51 L686.08,611.29 L686.87,610.14 L687.7,609.05 L688.65,608 L689.79,606.97 L691.18,605.92 L692.78,604.84 L694.5,603.8 L696.24,602.86 L697.9,602.07 L699.39,601.49 L700.67,601.22 L701.83,601.26 L702.9,601.44 L703.96,601.64 L705.06,601.7 L706.25,601.49 L707.53,600.94 L708.84,600.17 L710.19,599.26 L711.58,598.31 L713.01,597.42 L714.48,596.69 L715.99,596.14 L717.53,595.72 L719.11,595.36 L720.73,594.99 L722.39,594.54 L724.08,593.94 L725.87,593.11 L727.74,592.06 L729.66,590.94 L731.55,589.88 L733.37,589.01 L735.06,588.46 L736.56,588.34 L737.91,588.56 L739.18,588.97 L740.45,589.42 L741.79,589.76 L743.29,589.83 L745.03,589.56 L746.95,589.04 L748.95,588.42 L750.91,587.8 L752.72,587.31 L754.27,587.09 L755.47,587.22 L756.4,587.62 L757.18,588.16 L757.93,588.69 L758.75,589.06 L759.76,589.14 L760.97,588.87 L762.3,588.33 L763.7,587.64 L765.14,586.91 L766.58,586.23 L767.99,585.72 L769.39,585.41 L770.83,585.23 L772.27,585.12 L773.68,584.98 L775.01,584.75 L776.22,584.34 L777.28,583.75 L778.2,583.02 L779.05,582.2 L779.88,581.32 L780.74,580.42 L781.71,579.54 L782.77,578.7 L783.89,577.87 L785.05,577.02 L786.23,576.12 L787.41,575.14 L788.57,574.06 L789.73,572.86 L790.9,571.57 L792.08,570.2 L793.24,568.78 L794.36,567.31 L795.43,565.83 L796.48,564.2 L797.56,562.38 L798.6,560.52 L799.54,558.77 L800.33,557.29 L800.91,556.23" fill="none" stroke="#1f77b4" stroke-width="2.0"/>
<path d="M653.35,629.6a1.45,1.45 0 1,0 2.9,0a1.45,1.45 0 1,0 -2.9,0M655.76,630.29a1.45,1.45 0 1,0 2.9,0a1.45,1.45 0 1,0 -2.9,0M658.16,631.26a1.45,1.45 0 1,0 2.9,0a1.45,1.45 0 1,0 -2.9,0M660.57,632.04a1.45,1.45 0 1,0 2.9,0a1.45,1.45 0 1,0 -2.9,0M662.98,632.34a1.45,1.45 0 1,0 2.9,0a1.45,1.45 0 1,0 -2.9,0M665.38,632.01a1.45,1.45 0 1,0 2.9,0a1.45,1.45 0 1,0 -2.9,0M667.79,631.07a1.45,1.45 0 1,0 2.9,0a1.45,1.45 0 1,0 -2.9,0M670.2,629.51a1.45,1.45 0 1,0 2.9,0a1.45,1.45 0 1,0 -2.9,0M672.6,627.28a1.45,1.45 0 1,0 2.9,0a1.45,1.45 0 1,0 -2.9,0M675.01,624.59a1.45,1.45 0 1,0 2.9,0a1.45,1.45 0 1,0 -2.9,0M677.42,621.58a1.45,1.45 0 1,0 2.9,0a1.45,1.45 0 1,0 -2.9,0M679.82,618.16a1.45,1.45 0 1,0 2.9,0a1.45,1.45 0 1,0 -2.9,0M682.23,614.69a1.45,1.45 0 1,0 2.9,0a1.45,1.45 0 1,0 -2.9,0M684.64,611.28a1.45,1.45 0 1,0 2.9,0a1.45,1.45 0 1,0 -2.9,0M687.04,608.18a1.45,1.45 0 1,0 2.9,0a1.45,1.45 0 1,0 -2.9,0M689.45,606.13a1.45,1.45 0 1,0 2.9,0a1.45,1.45 0 1,0 -2.9,0M691.85,604.52a1.45,1.45 0 1,0 2.9,0a1.45,1.45 0 1,0 -2.9,0M694.26,603.14a1.45,1.45 0 1,0 2.9,0a1.45,1.45 0 1,0 -2.9,0M696.67,601.98a1.45,1.45 0 1,0 2.9,0a1.45,1.45 0 1,0 -2.9,0M699.07,601.26a1.45,1.45 0 1,0 2.9,0a1.45,1.45 0 1,0 -2.9,0M701.48,601.45a1.45,1.45 0 1,0 2.9,0a1.45,1.45 0 1,0 -2.9,0M703.89,601.65a1.45,1.45 0 1,0 2.9,0a1.45,1.45 0 1,0 -2.9,0M706.29,600.81a1.45,1.45 0 1,0 2.9,0a1.45,1.45 0 1,0 -2.9,0M708.7,599.29a1.45,1.45 0 1,0 2.9,0a1.45,1.45 0 1,0 -2.9,0M711.11,597.71a1.45,1.45 0 1,0 2.9,0a1.45,1.45 0 1,0 -2.9,0M713.51,596.51a1.45,1.45 0 1,0 2.9,0a1.45,1.45 0 1,0 -2.9,0M715.92,595.76a1.45,1.45 0 1,0 2.9,0a1.45,1.45 0 1,0 -2.9,0M718.33,595.2a1.45,1.45 0 1,0 2.9,0a1.45,1.45 0 1,0 -2.9,0M720.73,594.59a1.45,1.45 0 1,0 2.9,0a1.45,1.45 0 1,0 -2.9,0M723.14,593.71a1.45,1.45 0 1,0 2.9,0a1.45,1.45 0 1,0 -2.9,0M725.55,592.48a1.45,1.45 0 1,0 2.9,0a1.45,1.45 0 1,0 -2.9,0M727.95,591.09a1.45,1.45 0 1,0 2.9,0a1.45,1.45 0 1,0 -2.9,0M730.36,589.76a1.45,1.45 0 1,0 2.9,0a1.45,1.45 0 1,0 -2.9,0M732.77,588.73a1.45,1.45 0 1,0 2.9,0a1.45,1.45 0 1,0 -2.9,0M735.17,588.35a1.45,1.45 0 1,0 2.9,0a1.45,1.45 0 1,0 -2.9,0M737.58,588.93a1.45,1.45 0 1,0 2.9,0a1.45,1.45 0 1,0 -2.9,0M739.99,589.67a1.45,1.45 0 1,0 2.9,0a1.45,1.45 0 1,0 -2.9,0M742.39,589.74a1.45,1.45 0 1,0 2.9,0a1.45,1.45 0 1,0 -2.9,0M744.8,589.23a1.45,1.45 0 1,0 2.9,0a1.45,1.45 0 1,0 -2.9,0M747.21,588.51a1.45,1.45 0 1,0 2.9,0a1.45,1.45 0 1,0 -2.9,0M749.61,587.76a1.45,1.45 0 1,0 2.9,0a1.45,1.45 0 1,0 -2.9,0M752.02,587.2a1.45,1.45 0 1,0 2.9,0a1.45,1.45 0 1,0 -2.9,0M754.43,587.39a1.45,1.45 0 1,0 2.9,0a1.45,1.45 0 1,0 -2.9,0M756.83,588.85a1.45,1.45 0 1,0 2.9,0a1.45,1.45 0 1,0 -2.9,0M759.24,588.93a1.45,1.45 0 1,0 2.9,0a1.45,1.45 0 1,0 -2.9,0M761.65,587.94a1.45,1.45 0 1,0 2.9,0a1.45,1.45 0 1,0 -2.9,0M764.05,586.74a1.45,1.45 0 1,0 2.9,0a1.45,1.45 0 1,0 -2.9,0M766.46,585.74a1.45,1.45 0 1,0 2.9,0a1.45,1.45 0 1,0 -2.9,0M768.86,585.3a1.45,1.45 0 1,0 2.9,0a1.45,1.45 0 1,0 -2.9,0M771.27,585.07a1.45,1.45 0 1,0 2.9,0a1.45,1.45 0 1,0 -2.9,0M773.68,584.71a1.45,1.45 0 1,0 2.9,0a1.45,1.45 0 1,0 -2.9,0M776.08,583.55a1.45,1.45 0 1,0 2.9,0a1.45,1.45 0 1,0 -2.9,0M778.49,581.26a1.45,1.45 0 1,0 2.9,0a1.45,1.45 0 1,0 -2.9,0M780.9,579.04a1.45,1.45 0 1,0 2.9,0a1.45,1.45 0 1,0 -2.9,0M783.3,577.23a1.45,1.45 0 1,0 2.9,0a1.45,1.45 0 1,0 -2.9,0M785.71,575.34a1.45,1.45 0 1,0 2.9,0a1.45,1.45 0 1,0 -2.9,0M788.12,573.03a1.45,1.45 0 1,0 2.9,0a1.45,1.45 0 1,0 -2.9,0M790.52,570.33a1.45,1.45 0 1,0 2.9,0a1.45,1.45 0 1,0 -2.9,0M792.93,567.29a1.45,1.45 0 1,0 2.9,0a1.45,1.45 0 1,0 -2.9,0M795.34,563.69a1.45,1.45 0 1,0 2.9,0a1.45,1.45 0 1,0 -2.9,0M797.74,559.42a1.45,1.45 0 1,0 2.9,0a1.45,1.45 0 1,0 -2.9,0M800.15,556.23a1.45,1.45 0 1,0 2.9,0a1.45,1.45 0 1,0 -2.9,0" fill="#1f77b4"/>
</g>
<g clip-path="url(#d1)">
<path d="M654.8,643.31 L669.21,642.63 L674.69,635.77 L680.18,633.03 L685.67,627.54 L691.16,623.43 L695.27,613.83 L699.39,605.6 L702.13,597.37 L704.88,597.37 L707.62,587.77 L710.36,582.29 L714.48,585.03 L715.85,580.92 L721.34,576.12 L725.46,583.66 L728.2,587.09 L730.94,582.29 L733.69,576.8 L737.8,570.63 L741.92,564.46 L746.72,560.34 L748.78,565.83 L751.52,578.17 L754.27,582.29 L757.01,574.06 L759.07,582.29 L761.13,578.17 L763.87,585.03 L766.61,585.03 L769.36,575.43 L773.47,582.29 L778.96,575.43 L784.45,578.17 L787.19,574.06 L792.68,578.17 L795.43,579.54 L798.17,576.12 L800.91,578.17" fill="none" stroke="#ff7f0e" stroke-width="1.9" stroke-linejoin="round"/>
<path d="M653.35,643.31a1.45,1.45 0 1,0 2.9,0a1.45,1.45 0 1,0 -2.9,0M655.76,643.2a1.45,1.45 0 1,0 2.9,0a1.45,1.45 0 1,0 -2.9,0M658.16,643.09a1.45,1.45 0 1,0 2.9,0a1.45,1.45 0 1,0 -2.9,0M660.57,642.97a1.45,1.45 0 1,0 2.9,0a1.45,1.45 0 1,0 -2.9,0M662.98,642.86a1.45,1.45 0 1,0 2.9,0a1.45,1.45 0 1,0 -2.9,0M665.38,642.74a1.45,1.45 0 1,0 2.9,0a1.45,1.45 0 1,0 -2.9,0M667.79,642.59a1.45,1.45 0 1,0 2.9,0a1.45,1.45 0 1,0 -2.9,0M670.2,639.58a1.45,1.45 0 1,0 2.9,0a1.45,1.45 0 1,0 -2.9,0M672.6,636.57a1.45,1.45 0 1,0 2.9,0a1.45,1.45 0 1,0 -2.9,0M675.01,634.89a1.45,1.45 0 1,0 2.9,0a1.45,1.45 0 1,0 -2.9,0M677.42,633.69a1.45,1.45 0 1,0 2.9,0a1.45,1.45 0 1,0 -2.9,0M679.82,631.94a1.45,1.45 0 1,0 2.9,0a1.45,1.45 0 1,0 -2.9,0M682.23,629.53a1.45,1.45 0 1,0 2.9,0a1.45,1.45 0 1,0 -2.9,0M684.64,627.23a1.45,1.45 0 1,0 2.9,0a1.45,1.45 0 1,0 -2.9,0M687.04,625.43a1.45,1.45 0 1,0 2.9,0a1.45,1.45 0 1,0 -2.9,0M689.45,623.62a1.45,1.45 0 1,0 2.9,0a1.45,1.45 0 1,0 -2.9,0M691.85,618.42a1.45,1.45 0 1,0 2.9,0a1.45,1.45 0 1,0 -2.9,0M694.26,612.95a1.45,1.45 0 1,0 2.9,0a1.45,1.45 0 1,0 -2.9,0M696.67,608.14a1.45,1.45 0 1,0 2.9,0a1.45,1.45 0 1,0 -2.9,0M699.07,602.19a1.45,1.45 0 1,0 2.9,0a1.45,1.45 0 1,0 -2.9,0M701.48,597.37a1.45,1.45 0 1,0 2.9,0a1.45,1.45 0 1,0 -2.9,0M703.89,595.76a1.45,1.45 0 1,0 2.9,0a1.45,1.45 0 1,0 -2.9,0M706.29,587.53a1.45,1.45 0 1,0 2.9,0a1.45,1.45 0 1,0 -2.9,0M708.7,582.71a1.45,1.45 0 1,0 2.9,0a1.45,1.45 0 1,0 -2.9,0M711.11,583.75a1.45,1.45 0 1,0 2.9,0a1.45,1.45 0 1,0 -2.9,0M713.51,583.58a1.45,1.45 0 1,0 2.9,0a1.45,1.45 0 1,0 -2.9,0M715.92,579.59a1.45,1.45 0 1,0 2.9,0a1.45,1.45 0 1,0 -2.9,0M718.33,577.48a1.45,1.45 0 1,0 2.9,0a1.45,1.45 0 1,0 -2.9,0M720.73,577.66a1.45,1.45 0 1,0 2.9,0a1.45,1.45 0 1,0 -2.9,0M723.14,582.07a1.45,1.45 0 1,0 2.9,0a1.45,1.45 0 1,0 -2.9,0M725.55,585.58a1.45,1.45 0 1,0 2.9,0a1.45,1.45 0 1,0 -2.9,0M727.95,584.98a1.45,1.45 0 1,0 2.9,0a1.45,1.45 0 1,0 -2.9,0M730.36,580.56a1.45,1.45 0 1,0 2.9,0a1.45,1.45 0 1,0 -2.9,0M732.77,576.01a1.45,1.45 0 1,0 2.9,0a1.45,1.45 0 1,0 -2.9,0M735.17,572.4a1.45,1.45 0 1,0 2.9,0a1.45,1.45 0 1,0 -2.9,0M737.58,568.79a1.45,1.45 0 1,0 2.9,0a1.45,1.45 0 1,0 -2.9,0M739.99,565.18a1.45,1.45 0 1,0 2.9,0a1.45,1.45 0 1,0 -2.9,0M742.39,562.81a1.45,1.45 0 1,0 2.9,0a1.45,1.45 0 1,0 -2.9,0M744.8,560.75a1.45,1.45 0 1,0 2.9,0a1.45,1.45 0 1,0 -2.9,0M747.21,565.5a1.45,1.45 0 1,0 2.9,0a1.45,1.45 0 1,0 -2.9,0M749.61,576.1a1.45,1.45 0 1,0 2.9,0a1.45,1.45 0 1,0 -2.9,0M752.02,581.09a1.45,1.45 0 1,0 2.9,0a1.45,1.45 0 1,0 -2.9,0M754.43,577.46a1.45,1.45 0 1,0 2.9,0a1.45,1.45 0 1,0 -2.9,0M756.83,579.14a1.45,1.45 0 1,0 2.9,0a1.45,1.45 0 1,0 -2.9,0M759.24,579.05a1.45,1.45 0 1,0 2.9,0a1.45,1.45 0 1,0 -2.9,0M761.65,583.09a1.45,1.45 0 1,0 2.9,0a1.45,1.45 0 1,0 -2.9,0M764.05,585.03a1.45,1.45 0 1,0 2.9,0a1.45,1.45 0 1,0 -2.9,0M766.46,580.51a1.45,1.45 0 1,0 2.9,0a1.45,1.45 0 1,0 -2.9,0M768.86,577.02a1.45,1.45 0 1,0 2.9,0a1.45,1.45 0 1,0 -2.9,0M771.27,581.03a1.45,1.45 0 1,0 2.9,0a1.45,1.45 0 1,0 -2.9,0M773.68,580.22a1.45,1.45 0 1,0 2.9,0a1.45,1.45 0 1,0 -2.9,0M776.08,577.21a1.45,1.45 0 1,0 2.9,0a1.45,1.45 0 1,0 -2.9,0M778.49,575.92a1.45,1.45 0 1,0 2.9,0a1.45,1.45 0 1,0 -2.9,0M780.9,577.12a1.45,1.45 0 1,0 2.9,0a1.45,1.45 0 1,0 -2.9,0M783.3,577.72a1.45,1.45 0 1,0 2.9,0a1.45,1.45 0 1,0 -2.9,0M785.71,574.11a1.45,1.45 0 1,0 2.9,0a1.45,1.45 0 1,0 -2.9,0M788.12,575.84a1.45,1.45 0 1,0 2.9,0a1.45,1.45 0 1,0 -2.9,0M790.52,577.64a1.45,1.45 0 1,0 2.9,0a1.45,1.45 0 1,0 -2.9,0M792.93,579.02a1.45,1.45 0 1,0 2.9,0a1.45,1.45 0 1,0 -2.9,0M795.34,577.84a1.45,1.45 0 1,0 2.9,0a1.45,1.45 0 1,0 -2.9,0M797.74,576.88a1.45,1.45 0 1,0 2.9,0a1.45,1.45 0 1,0 -2.9,0M800.15,578.17a1.45,1.45 0 1,0 2.9,0a1.45,1.45 0 1,0 -2.9,0" fill="#ff7f0e"/>
</g>
<path d="M740.02,522.79L743.82,526.59M740.02,526.59L743.82,522.79M737.55,528.55L741.35,532.35M737.55,532.35L741.35,528.55M761.29,526.9L765.09,530.7M761.29,530.7L765.09,526.9M747.15,535.82L750.95,539.62M747.15,539.62L750.95,535.82M713.95,539.52L717.75,543.32M713.95,543.32L717.75,539.52M723.28,545.42L727.08,549.22M723.28,549.22L727.08,545.42M792.15,534.45L795.95,538.25M792.15,538.25L795.95,534.45M773.22,551.59L777.02,555.39M773.22,555.39L777.02,551.59M706.82,556.11L710.62,559.91M706.82,559.91L710.62,556.11M697.49,569.42L701.29,573.22M697.49,573.22L701.29,569.42M721.22,564.89L725.02,568.69M721.22,568.69L725.02,564.89M742.76,558.44L746.56,562.24M742.76,562.24L746.56,558.44M711.76,573.12L715.56,576.92M711.76,576.92L715.56,573.12M754.43,568.04L758.23,571.84M754.43,571.84L758.23,568.04M752.37,573.53L756.17,577.33M752.37,577.33L756.17,573.53M730.69,575.59L734.49,579.39M730.69,579.39L734.49,575.59M783.24,561.87L787.04,565.67M783.24,565.67L787.04,561.87M770.89,565.71L774.69,569.51M770.89,569.51L774.69,565.71M775.69,566.95L779.49,570.75M775.69,570.75L779.49,566.95M787.35,566.95L791.15,570.75M787.35,570.75L791.15,566.95M716.42,581.76L720.22,585.56M716.42,585.56L720.22,581.76M726.3,587.66L730.1,591.46M726.3,591.46L730.1,587.66M744.82,583.13L748.62,586.93M744.82,586.93L748.62,583.13M759.23,589.03L763.03,592.83M759.23,592.83L763.03,589.03M764.03,592.04L767.83,595.84M764.03,595.84L767.83,592.04M766.09,579.02L769.89,582.82M766.09,582.82L769.89,579.02M780.49,579.02L784.29,582.82M780.49,582.82L784.29,579.02M778.16,588.89L781.96,592.69M778.16,592.69L781.96,588.89M790.1,581.07L793.9,584.87M790.1,584.87L793.9,581.07M796.96,584.5L800.76,588.3M796.96,588.3L800.76,584.5M785.02,598.22L788.82,602.02M785.02,602.02L788.82,598.22M794.9,602.33L798.7,606.13M794.9,606.13L798.7,602.33M704.35,589.03L708.15,592.83M704.35,592.83L708.15,589.03M702.29,608.78L706.09,612.58M702.29,612.58L706.09,608.78M709.15,614.26L712.95,618.06M709.15,618.06L712.95,614.26M699.82,616.04L703.62,619.84M699.82,619.84L703.62,616.04M695.16,618.79L698.96,622.59M695.16,622.59L698.96,618.79M690.35,615.77L694.15,619.57M690.35,619.57L694.15,615.77M687.89,619.61L691.69,623.41M687.89,623.41L691.69,619.61M680.75,617.69L684.55,621.49M680.75,621.49L684.55,617.69M732.89,611.65L736.69,615.45M732.89,615.45L736.69,611.65M735.49,597.67L739.29,601.47M735.49,601.47L739.29,597.67M749.35,606.72L753.15,610.52M749.35,610.52L753.15,606.72M756.48,605.07L760.28,608.87M756.48,608.87L760.28,605.07M768.56,620.57L772.36,624.37M768.56,624.37L772.36,620.57M718.75,627.01L722.55,630.81M718.75,630.81L722.55,627.01M685.14,633.87L688.94,637.67M685.14,637.67L688.94,633.87M683.08,637.3L686.88,641.1M683.08,641.1L686.88,637.3M677.6,632.5L681.4,636.3M677.6,636.3L681.4,632.5M675.54,635.24L679.34,639.04M675.54,639.04L679.34,635.24M665.93,638.67L669.73,642.47M665.93,642.47L669.73,638.67M671.42,638.67L675.22,642.47M671.42,642.47L675.22,638.67M667.31,640.73L671.11,644.53M667.31,644.53L671.11,640.73" stroke="#7f7f7f" stroke-width="1.8" fill="none"/>
<rect x="654.8" y="520.3" width="146.8" height="123.7" fill="none" stroke="#000" stroke-width="1.6"/>
<text x="728.2" y="515.3" font-size="17.6" text-anchor="middle" font-weight="normal" font-style="normal" >Atlanta</text>
<line x1="651.8" y1="532" x2="654.8" y2="532" stroke="#000" stroke-width="1.6"/>
<line x1="651.8" y1="644" x2="654.8" y2="644" stroke="#000" stroke-width="1.6"/>
<text x="647.8" y="538.4" font-size="17.8" text-anchor="end" font-weight="normal" font-style="normal" >0.6</text>
<text x="647.8" y="650.4" font-size="17.8" text-anchor="end" font-weight="normal" font-style="normal" >0</text>
<clipPath id="d2"><rect x="845.8" y="520.3" width="146.7" height="123.7"/></clipPath>
<g clip-path="url(#d2)">
<path d="M845.8,635.77 L846.75,635.98 L848.03,636.33 L849.57,636.71 L851.26,637.04 L853,637.22 L854.71,637.14 L856.42,636.89 L858.22,636.53 L860.07,636.03 L861.95,635.31 L863.83,634.33 L865.68,633.03 L867.54,631.27 L869.44,629.07 L871.34,626.6 L873.2,624.04 L874.98,621.55 L876.65,619.31 L878.18,617.3 L879.59,615.35 L880.93,613.49 L882.23,611.7 L883.54,609.98 L884.87,608.34 L886.31,606.71 L887.82,605.07 L889.33,603.5 L890.76,602.1 L892.05,600.94 L893.1,600.12 L893.81,599.82 L894.22,600.04 L894.47,600.5 L894.73,600.95 L895.13,601.14 L895.84,600.8 L896.9,599.86 L898.18,598.52 L899.61,596.9 L901.12,595.16 L902.63,593.44 L904.07,591.89 L905.47,590.4 L906.91,588.84 L908.35,587.3 L909.76,585.87 L911.08,584.63 L912.29,583.66 L913.35,583.06 L914.28,582.8 L915.12,582.72 L915.95,582.69 L916.82,582.6 L917.78,582.29 L918.87,581.7 L920.06,580.94 L921.29,580.1 L922.5,579.29 L923.63,578.61 L924.63,578.17 L925.46,577.99 L926.16,577.97 L926.78,578.09 L927.38,578.3 L928.01,578.57 L928.75,578.86 L929.58,579.24 L930.47,579.75 L931.4,580.32 L932.35,580.86 L933.3,581.32 L934.23,581.6 L935.15,581.71 L936.06,581.7 L936.97,581.6 L937.89,581.42 L938.8,581.19 L939.72,580.92 L940.6,580.55 L941.44,580.05 L942.29,579.5 L943.17,578.96 L944.13,578.5 L945.2,578.17 L946.41,578.11 L947.74,578.27 L949.14,578.52 L950.58,578.68 L952.02,578.62 L953.43,578.17 L954.83,577.23 L956.27,575.89 L957.71,574.32 L959.11,572.69 L960.44,571.17 L961.65,569.94 L962.72,569.08 L963.68,568.47 L964.57,567.97 L965.41,567.46 L966.25,566.79 L967.14,565.83 L968.03,564.58 L968.91,563.14 L969.79,561.54 L970.69,559.84 L971.63,558.05 L972.62,556.23 L973.68,554.28 L974.8,552.17 L975.96,549.97 L977.14,547.8 L978.32,545.74 L979.48,543.89 L980.65,542.29 L981.86,540.89 L983.07,539.6 L984.25,538.35 L985.35,537.06 L986.33,535.66 L987.21,534.09 L988.01,532.41 L988.73,530.69 L989.38,529.01 L989.95,527.44 L990.44,526.06 L990.85,524.84 L991.15,523.72 L991.39,522.72 L991.56,521.84 L991.7,521.12 L991.81,520.57 L993.5,520.57 L993.5,567.2 L991.81,567.2 L991.55,567.63 L991.21,568.22 L990.79,568.92 L990.29,569.69 L989.72,570.5 L989.07,571.32 L988.32,572.17 L987.45,573.09 L986.5,574.06 L985.52,575.02 L984.53,575.95 L983.59,576.8 L982.67,577.52 L981.76,578.12 L980.85,578.69 L979.93,579.29 L979.02,580.01 L978.1,580.92 L977.22,582.06 L976.38,583.4 L975.53,584.86 L974.65,586.35 L973.69,587.8 L972.62,589.14 L971.41,590.41 L970.08,591.66 L968.68,592.87 L967.24,594.02 L965.8,595.07 L964.39,596 L963.02,596.79 L961.65,597.45 L960.28,598.02 L958.91,598.52 L957.54,598.98 L956.17,599.43 L954.8,599.86 L953.43,600.24 L952.05,600.59 L950.68,600.9 L949.31,601.2 L947.94,601.49 L946.57,601.74 L945.2,601.94 L943.83,602.13 L942.46,602.32 L941.09,602.56 L939.72,602.86 L938.34,603.24 L936.97,603.67 L935.6,604.14 L934.23,604.64 L932.86,605.13 L931.49,605.6 L930.15,606.03 L928.85,606.41 L927.55,606.8 L926.21,607.23 L924.79,607.73 L923.26,608.34 L921.59,609.12 L919.81,610.02 L917.95,611 L916.05,612 L914.15,612.96 L912.29,613.83 L910.47,614.56 L908.64,615.2 L906.81,615.8 L904.98,616.42 L903.15,617.11 L901.33,617.94 L899.5,618.93 L897.67,620.03 L895.84,621.2 L894.01,622.41 L892.19,623.63 L890.36,624.8 L888.53,625.95 L886.7,627.11 L884.87,628.27 L883.05,629.42 L881.22,630.55 L879.39,631.66 L877.56,632.74 L875.73,633.82 L873.91,634.87 L872.08,635.9 L870.25,636.89 L868.42,637.83 L866.6,638.76 L864.79,639.68 L862.98,640.57 L861.16,641.38 L859.32,642.08 L857.45,642.63 L855.42,642.99 L853.19,643.19 L850.94,643.27 L848.85,643.29 L847.08,643.29 L845.8,643.31 Z" fill="#8fbbd9" stroke="#1f77b4" stroke-opacity="0.6" stroke-width="0.9"/>
<path d="M846.49,639.2 L847.38,639.31 L848.62,639.5 L850.08,639.71 L851.66,639.89 L853.25,639.96 L854.71,639.89 L856.08,639.66 L857.45,639.33 L858.82,638.9 L860.2,638.39 L861.57,637.8 L862.94,637.14 L864.31,636.4 L865.68,635.57 L867.05,634.66 L868.42,633.69 L869.79,632.68 L871.16,631.66 L872.54,630.59 L873.91,629.47 L875.28,628.31 L876.65,627.14 L878.02,625.96 L879.39,624.8 L880.76,623.66 L882.13,622.51 L883.5,621.37 L884.87,620.23 L886.25,619.09 L887.62,617.94 L888.99,616.78 L890.36,615.61 L891.73,614.43 L893.1,613.27 L894.47,612.15 L895.84,611.09 L897.21,610.08 L898.58,609.11 L899.96,608.17 L901.33,607.28 L902.7,606.42 L904.07,605.6 L905.44,604.83 L906.81,604.1 L908.18,603.42 L909.55,602.76 L910.92,602.12 L912.29,601.49 L913.67,600.88 L915.04,600.32 L916.41,599.77 L917.78,599.23 L919.15,598.66 L920.52,598.06 L921.89,597.36 L923.26,596.56 L924.63,595.74 L926.01,594.99 L927.38,594.36 L928.75,593.94 L930.12,593.84 L931.49,593.99 L932.86,594.29 L934.23,594.58 L935.6,594.74 L936.97,594.63 L938.34,594.17 L939.72,593.46 L941.09,592.62 L942.46,591.76 L943.83,591.02 L945.2,590.52 L946.57,590.34 L947.94,590.41 L949.31,590.6 L950.68,590.77 L952.05,590.79 L953.43,590.52 L954.8,589.92 L956.17,589.09 L957.54,588.12 L958.91,587.06 L960.28,586.01 L961.65,585.03 L963.05,584.13 L964.5,583.25 L965.94,582.37 L967.34,581.47 L968.67,580.54 L969.88,579.54 L970.95,578.53 L971.91,577.51 L972.79,576.46 L973.64,575.33 L974.48,574.08 L975.36,572.69 L976.28,571.05 L977.19,569.18 L978.1,567.2 L979.02,565.22 L979.93,563.35 L980.85,561.72 L981.76,560.35 L982.67,559.18 L983.59,558.12 L984.5,557.09 L985.42,556.03 L986.33,554.86 L987.31,553.47 L988.36,551.91 L989.42,550.32 L990.39,548.81 L991.22,547.54 L991.81,546.63" fill="none" stroke="#1f77b4" stroke-width="2.0"/>
<path d="M844.35,639.2a1.45,1.45 0 1,0 2.9,0a1.45,1.45 0 1,0 -2.9,0M846.75,639.44a1.45,1.45 0 1,0 2.9,0a1.45,1.45 0 1,0 -2.9,0M849.16,639.77a1.45,1.45 0 1,0 2.9,0a1.45,1.45 0 1,0 -2.9,0M851.56,639.95a1.45,1.45 0 1,0 2.9,0a1.45,1.45 0 1,0 -2.9,0M853.97,639.77a1.45,1.45 0 1,0 2.9,0a1.45,1.45 0 1,0 -2.9,0M856.37,639.21a1.45,1.45 0 1,0 2.9,0a1.45,1.45 0 1,0 -2.9,0M858.78,638.37a1.45,1.45 0 1,0 2.9,0a1.45,1.45 0 1,0 -2.9,0M861.18,637.29a1.45,1.45 0 1,0 2.9,0a1.45,1.45 0 1,0 -2.9,0M863.59,635.96a1.45,1.45 0 1,0 2.9,0a1.45,1.45 0 1,0 -2.9,0M865.99,634.38a1.45,1.45 0 1,0 2.9,0a1.45,1.45 0 1,0 -2.9,0M868.4,632.64a1.45,1.45 0 1,0 2.9,0a1.45,1.45 0 1,0 -2.9,0M870.8,630.81a1.45,1.45 0 1,0 2.9,0a1.45,1.45 0 1,0 -2.9,0M873.21,628.84a1.45,1.45 0 1,0 2.9,0a1.45,1.45 0 1,0 -2.9,0M875.61,626.78a1.45,1.45 0 1,0 2.9,0a1.45,1.45 0 1,0 -2.9,0M878.02,624.73a1.45,1.45 0 1,0 2.9,0a1.45,1.45 0 1,0 -2.9,0M880.42,622.73a1.45,1.45 0 1,0 2.9,0a1.45,1.45 0 1,0 -2.9,0M882.83,620.73a1.45,1.45 0 1,0 2.9,0a1.45,1.45 0 1,0 -2.9,0M885.23,618.72a1.45,1.45 0 1,0 2.9,0a1.45,1.45 0 1,0 -2.9,0M887.64,616.7a1.45,1.45 0 1,0 2.9,0a1.45,1.45 0 1,0 -2.9,0M890.04,614.63a1.45,1.45 0 1,0 2.9,0a1.45,1.45 0 1,0 -2.9,0M892.45,612.62a1.45,1.45 0 1,0 2.9,0a1.45,1.45 0 1,0 -2.9,0M894.85,610.75a1.45,1.45 0 1,0 2.9,0a1.45,1.45 0 1,0 -2.9,0M897.26,609.02a1.45,1.45 0 1,0 2.9,0a1.45,1.45 0 1,0 -2.9,0M899.66,607.42a1.45,1.45 0 1,0 2.9,0a1.45,1.45 0 1,0 -2.9,0M902.07,605.93a1.45,1.45 0 1,0 2.9,0a1.45,1.45 0 1,0 -2.9,0M904.47,604.57a1.45,1.45 0 1,0 2.9,0a1.45,1.45 0 1,0 -2.9,0M906.88,603.35a1.45,1.45 0 1,0 2.9,0a1.45,1.45 0 1,0 -2.9,0M909.28,602.21a1.45,1.45 0 1,0 2.9,0a1.45,1.45 0 1,0 -2.9,0M911.69,601.12a1.45,1.45 0 1,0 2.9,0a1.45,1.45 0 1,0 -2.9,0M914.09,600.12a1.45,1.45 0 1,0 2.9,0a1.45,1.45 0 1,0 -2.9,0M916.5,599.16a1.45,1.45 0 1,0 2.9,0a1.45,1.45 0 1,0 -2.9,0M918.9,598.13a1.45,1.45 0 1,0 2.9,0a1.45,1.45 0 1,0 -2.9,0M921.31,596.85a1.45,1.45 0 1,0 2.9,0a1.45,1.45 0 1,0 -2.9,0M923.71,595.45a1.45,1.45 0 1,0 2.9,0a1.45,1.45 0 1,0 -2.9,0M926.12,594.3a1.45,1.45 0 1,0 2.9,0a1.45,1.45 0 1,0 -2.9,0M928.52,593.85a1.45,1.45 0 1,0 2.9,0a1.45,1.45 0 1,0 -2.9,0M930.93,594.18a1.45,1.45 0 1,0 2.9,0a1.45,1.45 0 1,0 -2.9,0M933.33,594.64a1.45,1.45 0 1,0 2.9,0a1.45,1.45 0 1,0 -2.9,0M935.74,594.56a1.45,1.45 0 1,0 2.9,0a1.45,1.45 0 1,0 -2.9,0M938.14,593.53a1.45,1.45 0 1,0 2.9,0a1.45,1.45 0 1,0 -2.9,0M940.55,592.05a1.45,1.45 0 1,0 2.9,0a1.45,1.45 0 1,0 -2.9,0M942.95,590.81a1.45,1.45 0 1,0 2.9,0a1.45,1.45 0 1,0 -2.9,0M945.36,590.35a1.45,1.45 0 1,0 2.9,0a1.45,1.45 0 1,0 -2.9,0M947.76,590.59a1.45,1.45 0 1,0 2.9,0a1.45,1.45 0 1,0 -2.9,0M950.17,590.78a1.45,1.45 0 1,0 2.9,0a1.45,1.45 0 1,0 -2.9,0M952.57,590.26a1.45,1.45 0 1,0 2.9,0a1.45,1.45 0 1,0 -2.9,0M954.98,588.91a1.45,1.45 0 1,0 2.9,0a1.45,1.45 0 1,0 -2.9,0M957.38,587.12a1.45,1.45 0 1,0 2.9,0a1.45,1.45 0 1,0 -2.9,0M959.79,585.33a1.45,1.45 0 1,0 2.9,0a1.45,1.45 0 1,0 -2.9,0M962.19,583.77a1.45,1.45 0 1,0 2.9,0a1.45,1.45 0 1,0 -2.9,0M964.6,582.3a1.45,1.45 0 1,0 2.9,0a1.45,1.45 0 1,0 -2.9,0M967,580.69a1.45,1.45 0 1,0 2.9,0a1.45,1.45 0 1,0 -2.9,0M969.41,578.62a1.45,1.45 0 1,0 2.9,0a1.45,1.45 0 1,0 -2.9,0M971.81,575.83a1.45,1.45 0 1,0 2.9,0a1.45,1.45 0 1,0 -2.9,0M974.22,572.14a1.45,1.45 0 1,0 2.9,0a1.45,1.45 0 1,0 -2.9,0M976.62,567.27a1.45,1.45 0 1,0 2.9,0a1.45,1.45 0 1,0 -2.9,0M979.03,562.38a1.45,1.45 0 1,0 2.9,0a1.45,1.45 0 1,0 -2.9,0M981.43,558.94a1.45,1.45 0 1,0 2.9,0a1.45,1.45 0 1,0 -2.9,0M983.84,556.19a1.45,1.45 0 1,0 2.9,0a1.45,1.45 0 1,0 -2.9,0M986.24,552.91a1.45,1.45 0 1,0 2.9,0a1.45,1.45 0 1,0 -2.9,0M988.65,549.27a1.45,1.45 0 1,0 2.9,0a1.45,1.45 0 1,0 -2.9,0M991.05,546.63a1.45,1.45 0 1,0 2.9,0a1.45,1.45 0 1,0 -2.9,0" fill="#1f77b4"/>
</g>
<g clip-path="url(#d2)">
<path d="M845.8,643.31 L862.94,641.94 L871.16,636.46 L880.76,630.29 L884.87,624.8 L888.99,623.43 L893.1,617.94 L895.84,611.09 L901.33,609.72 L905.44,605.6 L912.29,604.23 L920.52,600.12 L923.26,598.74 L928.75,602.86 L932.86,605.6 L936.97,599.43 L939.72,604.23 L945.2,600.12 L947.94,596 L950.68,601.49 L954.8,596 L958.91,593.26 L964.39,590.52 L971.25,582.29 L976.73,572.69 L980.85,563.09 L986.33,560.34 L991.81,550.75" fill="none" stroke="#ff7f0e" stroke-width="1.9" stroke-linejoin="round"/>
<path d="M844.35,643.31a1.45,1.45 0 1,0 2.9,0a1.45,1.45 0 1,0 -2.9,0M846.75,643.12a1.45,1.45 0 1,0 2.9,0a1.45,1.45 0 1,0 -2.9,0M849.16,642.93a1.45,1.45 0 1,0 2.9,0a1.45,1.45 0 1,0 -2.9,0M851.56,642.74a1.45,1.45 0 1,0 2.9,0a1.45,1.45 0 1,0 -2.9,0M853.97,642.54a1.45,1.45 0 1,0 2.9,0a1.45,1.45 0 1,0 -2.9,0M856.37,642.35a1.45,1.45 0 1,0 2.9,0a1.45,1.45 0 1,0 -2.9,0M858.78,642.16a1.45,1.45 0 1,0 2.9,0a1.45,1.45 0 1,0 -2.9,0M861.18,641.97a1.45,1.45 0 1,0 2.9,0a1.45,1.45 0 1,0 -2.9,0M863.59,640.54a1.45,1.45 0 1,0 2.9,0a1.45,1.45 0 1,0 -2.9,0M865.99,638.94a1.45,1.45 0 1,0 2.9,0a1.45,1.45 0 1,0 -2.9,0M868.4,637.33a1.45,1.45 0 1,0 2.9,0a1.45,1.45 0 1,0 -2.9,0M870.8,635.76a1.45,1.45 0 1,0 2.9,0a1.45,1.45 0 1,0 -2.9,0M873.21,634.21a1.45,1.45 0 1,0 2.9,0a1.45,1.45 0 1,0 -2.9,0M875.61,632.66a1.45,1.45 0 1,0 2.9,0a1.45,1.45 0 1,0 -2.9,0M878.02,631.12a1.45,1.45 0 1,0 2.9,0a1.45,1.45 0 1,0 -2.9,0M880.42,628.8a1.45,1.45 0 1,0 2.9,0a1.45,1.45 0 1,0 -2.9,0M882.83,625.59a1.45,1.45 0 1,0 2.9,0a1.45,1.45 0 1,0 -2.9,0M885.23,624.2a1.45,1.45 0 1,0 2.9,0a1.45,1.45 0 1,0 -2.9,0M887.64,623.29a1.45,1.45 0 1,0 2.9,0a1.45,1.45 0 1,0 -2.9,0M890.04,620.09a1.45,1.45 0 1,0 2.9,0a1.45,1.45 0 1,0 -2.9,0M892.45,615.95a1.45,1.45 0 1,0 2.9,0a1.45,1.45 0 1,0 -2.9,0M894.85,610.97a1.45,1.45 0 1,0 2.9,0a1.45,1.45 0 1,0 -2.9,0M897.26,610.37a1.45,1.45 0 1,0 2.9,0a1.45,1.45 0 1,0 -2.9,0M899.66,609.77a1.45,1.45 0 1,0 2.9,0a1.45,1.45 0 1,0 -2.9,0M902.07,607.52a1.45,1.45 0 1,0 2.9,0a1.45,1.45 0 1,0 -2.9,0M904.47,605.5a1.45,1.45 0 1,0 2.9,0a1.45,1.45 0 1,0 -2.9,0M906.88,605.02a1.45,1.45 0 1,0 2.9,0a1.45,1.45 0 1,0 -2.9,0M909.28,604.54a1.45,1.45 0 1,0 2.9,0a1.45,1.45 0 1,0 -2.9,0M911.69,603.81a1.45,1.45 0 1,0 2.9,0a1.45,1.45 0 1,0 -2.9,0M914.09,602.61a1.45,1.45 0 1,0 2.9,0a1.45,1.45 0 1,0 -2.9,0M916.5,601.4a1.45,1.45 0 1,0 2.9,0a1.45,1.45 0 1,0 -2.9,0M918.9,600.2a1.45,1.45 0 1,0 2.9,0a1.45,1.45 0 1,0 -2.9,0M921.31,599a1.45,1.45 0 1,0 2.9,0a1.45,1.45 0 1,0 -2.9,0M923.71,600.17a1.45,1.45 0 1,0 2.9,0a1.45,1.45 0 1,0 -2.9,0M926.12,601.97a1.45,1.45 0 1,0 2.9,0a1.45,1.45 0 1,0 -2.9,0M928.52,603.67a1.45,1.45 0 1,0 2.9,0a1.45,1.45 0 1,0 -2.9,0M930.93,605.28a1.45,1.45 0 1,0 2.9,0a1.45,1.45 0 1,0 -2.9,0M933.33,602.72a1.45,1.45 0 1,0 2.9,0a1.45,1.45 0 1,0 -2.9,0M935.74,599.8a1.45,1.45 0 1,0 2.9,0a1.45,1.45 0 1,0 -2.9,0M938.14,604.01a1.45,1.45 0 1,0 2.9,0a1.45,1.45 0 1,0 -2.9,0M940.55,602.52a1.45,1.45 0 1,0 2.9,0a1.45,1.45 0 1,0 -2.9,0M942.95,600.71a1.45,1.45 0 1,0 2.9,0a1.45,1.45 0 1,0 -2.9,0M945.36,597.7a1.45,1.45 0 1,0 2.9,0a1.45,1.45 0 1,0 -2.9,0M947.76,598.54a1.45,1.45 0 1,0 2.9,0a1.45,1.45 0 1,0 -2.9,0M950.17,600.24a1.45,1.45 0 1,0 2.9,0a1.45,1.45 0 1,0 -2.9,0M952.57,597.04a1.45,1.45 0 1,0 2.9,0a1.45,1.45 0 1,0 -2.9,0M954.98,594.91a1.45,1.45 0 1,0 2.9,0a1.45,1.45 0 1,0 -2.9,0M957.38,593.31a1.45,1.45 0 1,0 2.9,0a1.45,1.45 0 1,0 -2.9,0M959.79,592.09a1.45,1.45 0 1,0 2.9,0a1.45,1.45 0 1,0 -2.9,0M962.19,590.89a1.45,1.45 0 1,0 2.9,0a1.45,1.45 0 1,0 -2.9,0M964.6,588.53a1.45,1.45 0 1,0 2.9,0a1.45,1.45 0 1,0 -2.9,0M967,585.65a1.45,1.45 0 1,0 2.9,0a1.45,1.45 0 1,0 -2.9,0M969.41,582.76a1.45,1.45 0 1,0 2.9,0a1.45,1.45 0 1,0 -2.9,0M971.81,578.77a1.45,1.45 0 1,0 2.9,0a1.45,1.45 0 1,0 -2.9,0M974.22,574.56a1.45,1.45 0 1,0 2.9,0a1.45,1.45 0 1,0 -2.9,0M976.62,569.57a1.45,1.45 0 1,0 2.9,0a1.45,1.45 0 1,0 -2.9,0M979.03,563.95a1.45,1.45 0 1,0 2.9,0a1.45,1.45 0 1,0 -2.9,0M981.43,562.07a1.45,1.45 0 1,0 2.9,0a1.45,1.45 0 1,0 -2.9,0M983.84,560.87a1.45,1.45 0 1,0 2.9,0a1.45,1.45 0 1,0 -2.9,0M986.24,557.96a1.45,1.45 0 1,0 2.9,0a1.45,1.45 0 1,0 -2.9,0M988.65,553.75a1.45,1.45 0 1,0 2.9,0a1.45,1.45 0 1,0 -2.9,0M991.05,550.75a1.45,1.45 0 1,0 2.9,0a1.45,1.45 0 1,0 -2.9,0" fill="#ff7f0e"/>
</g>
<path d="M938.23,562.56L942.03,566.36M938.23,566.36L942.03,562.56M900.52,584.23L904.32,588.03M900.52,588.03L904.32,584.23M916.98,584.5L920.78,588.3M916.98,588.3L920.78,584.5M885.72,602.33L889.52,606.13M885.72,606.13L889.52,602.33M888.46,603.7L892.26,607.5M888.46,607.5L892.26,603.7M903.54,600.96L907.34,604.76M903.54,604.76L907.34,600.96M895.31,607.82L899.11,611.62M895.31,611.62L899.11,607.82M898.06,613.3L901.86,617.1M898.06,617.1L901.86,613.3M907.65,608.5L911.45,612.3M907.65,612.3L911.45,608.5M913.14,606.44L916.94,610.24M913.14,610.24L916.94,606.44M909.71,614.4L913.51,618.2M909.71,618.2L913.51,614.4M918.62,595.47L922.42,599.27M918.62,599.27L922.42,595.47M924.11,600.96L927.91,604.76M924.11,604.76L927.91,600.96M928.22,599.59L932.02,603.39M928.22,603.39L932.02,599.59M931.23,606.17L935.03,609.97M931.23,609.97L935.03,606.17M933.7,600.96L937.5,604.76M933.7,604.76L937.5,600.96M936.03,611.65L939.83,615.45M936.03,615.45L939.83,611.65M943.3,615.36L947.1,619.16M943.3,619.16L947.1,615.36M945.36,616.32L949.16,620.12M945.36,620.12L949.16,616.32M940.56,599.59L944.36,603.39M940.56,603.39L944.36,599.59M948.78,590.67L952.58,594.47M948.78,594.47L952.58,590.67M954.27,587.24L958.07,591.04M954.27,591.04L958.07,587.24M957.28,583.13L961.08,586.93M957.28,586.93L961.08,583.13M960.03,592.73L963.83,596.53M960.03,596.53L963.83,592.73M962.22,599.86L966.02,603.66M962.22,603.66L966.02,599.86M965.24,589.99L969.04,593.79M965.24,593.79L969.04,589.99M967.29,589.3L971.09,593.1M967.29,593.1L971.09,589.3M971.82,557.35L975.62,561.15M971.82,561.15L975.62,557.35M974.15,564.2L977.95,568M974.15,568L977.95,564.2M969.35,575.59L973.15,579.39M969.35,579.39L973.15,575.59M977.58,574.9L981.38,578.7M977.58,578.7L981.38,574.9M978.95,576.27L982.75,580.07M978.95,580.07L982.75,576.27M981.69,560.5L985.49,564.3M981.69,564.3L985.49,560.5M983.33,554.33L987.13,558.13M983.33,558.13L987.13,554.33M986.08,537.87L989.88,541.67M986.08,541.67L989.88,537.87M988.27,545.83L992.07,549.63M988.27,549.63L992.07,545.83M989.91,563.24L993.71,567.04M989.91,567.04L993.71,563.24M890.93,622.21L894.73,626.01M890.93,626.01L894.73,622.21M884.35,629.07L888.15,632.87M884.35,632.87L888.15,629.07M893.39,631.13L897.19,634.93M893.39,634.93L897.19,631.13M881.6,637.99L885.4,641.79M881.6,641.79L885.4,637.99M878.86,631.81L882.66,635.61M878.86,635.61L882.66,631.81M874.75,631.13L878.55,634.93M874.75,634.93L878.55,631.13M870.64,633.19L874.44,636.99M870.64,636.99L874.44,633.19M866.52,637.99L870.32,641.79M866.52,641.79L870.32,637.99" stroke="#7f7f7f" stroke-width="1.8" fill="none"/>
<rect x="845.8" y="520.3" width="146.7" height="123.7" fill="none" stroke="#000" stroke-width="1.6"/>
<text x="919.15" y="515.3" font-size="17.6" text-anchor="middle" font-weight="normal" font-style="normal" >Dallas</text>
<line x1="842.8" y1="539" x2="845.8" y2="539" stroke="#000" stroke-width="1.6"/>
<line x1="842.8" y1="644" x2="845.8" y2="644" stroke="#000" stroke-width="1.6"/>
<text x="838.8" y="545.4" font-size="17.8" text-anchor="end" font-weight="normal" font-style="normal" >0.5</text>
<text x="838.8" y="650.4" font-size="17.8" text-anchor="end" font-weight="normal" font-style="normal" >0</text>
<clipPath id="d3"><rect x="1037" y="520.3" width="147.2" height="123.7"/></clipPath>
<g clip-path="url(#d3)">
<path d="M1037.27,631.66 L1038.17,632.04 L1039.41,632.62 L1040.88,633.29 L1042.46,633.89 L1044.04,634.31 L1045.51,634.4 L1046.89,634.13 L1048.26,633.59 L1049.63,632.86 L1051.01,632.01 L1052.38,631.13 L1053.75,630.29 L1055.14,629.53 L1056.55,628.81 L1057.96,628.06 L1059.35,627.19 L1060.7,626.13 L1061.99,624.8 L1063.2,623.09 L1064.33,621.04 L1065.42,618.8 L1066.52,616.52 L1067.65,614.36 L1068.86,612.46 L1070.2,610.82 L1071.65,609.33 L1073.15,607.96 L1074.6,606.67 L1075.94,605.43 L1077.1,604.23 L1078,603 L1078.72,601.77 L1079.33,600.59 L1079.89,599.53 L1080.5,598.67 L1081.21,598.06 L1082.02,597.86 L1082.84,598.06 L1083.7,598.44 L1084.62,598.82 L1085.62,598.99 L1086.71,598.74 L1087.92,597.97 L1089.25,596.81 L1090.66,595.44 L1092.1,594.05 L1093.54,592.8 L1094.95,591.89 L1096.32,591.36 L1097.69,591.07 L1099.07,590.94 L1100.44,590.87 L1101.81,590.76 L1103.19,590.52 L1104.59,590.1 L1106.03,589.58 L1107.48,589.02 L1108.88,588.48 L1110.21,588.05 L1111.42,587.77 L1112.47,587.63 L1113.36,587.57 L1114.17,587.6 L1114.98,587.75 L1115.87,588.03 L1116.92,588.46 L1118.13,589.14 L1119.46,590.08 L1120.86,591.16 L1122.31,592.24 L1123.75,593.21 L1125.16,593.94 L1126.53,594.39 L1127.9,594.66 L1129.27,594.8 L1130.65,594.91 L1132.02,595.06 L1133.39,595.32 L1134.77,595.72 L1136.14,596.2 L1137.51,596.73 L1138.89,597.25 L1140.26,597.7 L1141.63,598.06 L1143.01,598.27 L1144.38,598.36 L1145.75,598.4 L1147.13,598.44 L1148.5,598.53 L1149.87,598.74 L1151.28,599.18 L1152.72,599.81 L1154.16,600.5 L1155.57,601.11 L1156.9,601.48 L1158.11,601.49 L1159.15,601.05 L1160.04,600.27 L1160.86,599.26 L1161.67,598.13 L1162.56,597.01 L1163.6,596 L1164.85,595.06 L1166.25,594.07 L1167.72,593.09 L1169.2,592.14 L1170.6,591.27 L1171.84,590.52 L1172.92,589.92 L1173.88,589.45 L1174.76,589.06 L1175.61,588.69 L1176.45,588.28 L1177.33,587.77 L1178.31,587.12 L1179.37,586.35 L1180.42,585.54 L1181.4,584.78 L1182.23,584.12 L1182.83,583.66 L1185.2,583.66 L1185.2,609.72 L1182.83,609.72 L1182.08,609.92 L1181.05,610.2 L1179.82,610.53 L1178.5,610.91 L1177.18,611.33 L1175.96,611.77 L1174.83,612.26 L1173.72,612.79 L1172.61,613.36 L1171.49,613.96 L1170.32,614.57 L1169.1,615.2 L1167.8,615.88 L1166.45,616.62 L1165.06,617.39 L1163.65,618.12 L1162.25,618.78 L1160.86,619.31 L1159.48,619.71 L1158.11,620 L1156.74,620.21 L1155.36,620.38 L1153.99,620.53 L1152.62,620.69 L1151.24,620.86 L1149.87,621.02 L1148.5,621.16 L1147.13,621.27 L1145.75,621.34 L1144.38,621.37 L1143.01,621.32 L1141.63,621.19 L1140.26,621.03 L1138.89,620.86 L1137.51,620.74 L1136.14,620.69 L1134.78,620.77 L1133.44,620.97 L1132.11,621.2 L1130.75,621.4 L1129.35,621.48 L1127.9,621.37 L1126.35,620.96 L1124.7,620.28 L1123.01,619.49 L1121.34,618.73 L1119.75,618.17 L1118.29,617.94 L1117,618.12 L1115.85,618.58 L1114.77,619.23 L1113.71,619.98 L1112.62,620.72 L1111.42,621.37 L1110.16,621.94 L1108.88,622.49 L1107.56,623.04 L1106.19,623.61 L1104.73,624.19 L1103.19,624.8 L1101.51,625.46 L1099.73,626.17 L1097.86,626.9 L1095.96,627.62 L1094.06,628.3 L1092.2,628.91 L1090.37,629.44 L1088.54,629.88 L1086.71,630.29 L1084.88,630.69 L1083.05,631.14 L1081.21,631.66 L1079.38,632.26 L1077.55,632.93 L1075.72,633.63 L1073.89,634.35 L1072.06,635.07 L1070.23,635.77 L1068.4,636.47 L1066.57,637.19 L1064.74,637.91 L1062.91,638.62 L1061.08,639.28 L1059.24,639.89 L1057.41,640.45 L1055.58,641 L1053.75,641.51 L1051.92,641.97 L1050.09,642.35 L1048.26,642.63 L1046.3,642.79 L1044.19,642.83 L1042.08,642.8 L1040.12,642.73 L1038.47,642.66 L1037.27,642.63 Z" fill="#8fbbd9" stroke="#1f77b4" stroke-opacity="0.6" stroke-width="0.9"/>
<path d="M1037.27,636.46 L1038.17,636.65 L1039.41,636.94 L1040.88,637.27 L1042.46,637.57 L1044.04,637.78 L1045.51,637.83 L1046.89,637.71 L1048.26,637.47 L1049.63,637.14 L1051.01,636.74 L1052.38,636.27 L1053.75,635.77 L1055.13,635.24 L1056.5,634.65 L1057.87,634.01 L1059.24,633.31 L1060.62,632.53 L1061.99,631.66 L1063.36,630.66 L1064.74,629.52 L1066.11,628.31 L1067.48,627.09 L1068.86,625.9 L1070.23,624.8 L1071.6,623.78 L1072.98,622.77 L1074.35,621.8 L1075.72,620.89 L1077.1,620.05 L1078.47,619.31 L1079.84,618.71 L1081.21,618.25 L1082.59,617.86 L1083.96,617.49 L1085.33,617.08 L1086.71,616.57 L1088.08,615.94 L1089.45,615.23 L1090.83,614.47 L1092.2,613.73 L1093.57,613.04 L1094.95,612.46 L1096.32,612 L1097.69,611.62 L1099.07,611.3 L1100.44,611.01 L1101.81,610.72 L1103.19,610.4 L1104.59,610.07 L1106.03,609.77 L1107.48,609.46 L1108.88,609.13 L1110.21,608.77 L1111.42,608.34 L1112.47,607.77 L1113.36,607.05 L1114.17,606.29 L1114.98,605.6 L1115.87,605.11 L1116.92,604.92 L1118.13,605.13 L1119.46,605.68 L1120.86,606.42 L1122.31,607.2 L1123.75,607.89 L1125.16,608.34 L1126.53,608.53 L1127.9,608.55 L1129.27,608.47 L1130.65,608.37 L1132.02,608.3 L1133.39,608.34 L1134.77,608.49 L1136.14,608.7 L1137.51,608.94 L1138.89,609.21 L1140.26,609.47 L1141.63,609.72 L1143.01,609.99 L1144.38,610.32 L1145.75,610.66 L1147.13,610.93 L1148.5,611.1 L1149.87,611.09 L1151.24,610.87 L1152.62,610.48 L1153.99,609.97 L1155.36,609.41 L1156.74,608.85 L1158.11,608.34 L1159.48,607.89 L1160.86,607.43 L1162.23,606.97 L1163.6,606.52 L1164.98,606.06 L1166.35,605.6 L1167.72,605.14 L1169.1,604.66 L1170.47,604.19 L1171.84,603.72 L1173.21,603.28 L1174.59,602.86 L1176.06,602.45 L1177.64,602.05 L1179.22,601.66 L1180.69,601.31 L1181.93,601.02 L1182.83,600.8" fill="none" stroke="#1f77b4" stroke-width="2.0"/>
<path d="M1035.55,636.46a1.45,1.45 0 1,0 2.9,0a1.45,1.45 0 1,0 -2.9,0M1037.96,636.94a1.45,1.45 0 1,0 2.9,0a1.45,1.45 0 1,0 -2.9,0M1040.38,637.45a1.45,1.45 0 1,0 2.9,0a1.45,1.45 0 1,0 -2.9,0M1042.79,637.79a1.45,1.45 0 1,0 2.9,0a1.45,1.45 0 1,0 -2.9,0M1045.2,637.73a1.45,1.45 0 1,0 2.9,0a1.45,1.45 0 1,0 -2.9,0M1047.62,637.28a1.45,1.45 0 1,0 2.9,0a1.45,1.45 0 1,0 -2.9,0M1050.03,636.58a1.45,1.45 0 1,0 2.9,0a1.45,1.45 0 1,0 -2.9,0M1052.44,635.72a1.45,1.45 0 1,0 2.9,0a1.45,1.45 0 1,0 -2.9,0M1054.85,634.74a1.45,1.45 0 1,0 2.9,0a1.45,1.45 0 1,0 -2.9,0M1057.27,633.58a1.45,1.45 0 1,0 2.9,0a1.45,1.45 0 1,0 -2.9,0M1059.68,632.2a1.45,1.45 0 1,0 2.9,0a1.45,1.45 0 1,0 -2.9,0M1062.09,630.51a1.45,1.45 0 1,0 2.9,0a1.45,1.45 0 1,0 -2.9,0M1064.51,628.45a1.45,1.45 0 1,0 2.9,0a1.45,1.45 0 1,0 -2.9,0M1066.92,626.32a1.45,1.45 0 1,0 2.9,0a1.45,1.45 0 1,0 -2.9,0M1069.33,624.39a1.45,1.45 0 1,0 2.9,0a1.45,1.45 0 1,0 -2.9,0M1071.75,622.61a1.45,1.45 0 1,0 2.9,0a1.45,1.45 0 1,0 -2.9,0M1074.16,620.96a1.45,1.45 0 1,0 2.9,0a1.45,1.45 0 1,0 -2.9,0M1076.57,619.55a1.45,1.45 0 1,0 2.9,0a1.45,1.45 0 1,0 -2.9,0M1078.99,618.51a1.45,1.45 0 1,0 2.9,0a1.45,1.45 0 1,0 -2.9,0M1081.4,617.79a1.45,1.45 0 1,0 2.9,0a1.45,1.45 0 1,0 -2.9,0M1083.81,617.1a1.45,1.45 0 1,0 2.9,0a1.45,1.45 0 1,0 -2.9,0M1086.23,616.13a1.45,1.45 0 1,0 2.9,0a1.45,1.45 0 1,0 -2.9,0M1088.64,614.88a1.45,1.45 0 1,0 2.9,0a1.45,1.45 0 1,0 -2.9,0M1091.05,613.58a1.45,1.45 0 1,0 2.9,0a1.45,1.45 0 1,0 -2.9,0M1093.46,612.47a1.45,1.45 0 1,0 2.9,0a1.45,1.45 0 1,0 -2.9,0M1095.88,611.72a1.45,1.45 0 1,0 2.9,0a1.45,1.45 0 1,0 -2.9,0M1098.29,611.16a1.45,1.45 0 1,0 2.9,0a1.45,1.45 0 1,0 -2.9,0M1100.7,610.64a1.45,1.45 0 1,0 2.9,0a1.45,1.45 0 1,0 -2.9,0M1103.12,610.08a1.45,1.45 0 1,0 2.9,0a1.45,1.45 0 1,0 -2.9,0M1105.53,609.56a1.45,1.45 0 1,0 2.9,0a1.45,1.45 0 1,0 -2.9,0M1107.94,608.99a1.45,1.45 0 1,0 2.9,0a1.45,1.45 0 1,0 -2.9,0M1110.36,608.13a1.45,1.45 0 1,0 2.9,0a1.45,1.45 0 1,0 -2.9,0M1112.77,606.24a1.45,1.45 0 1,0 2.9,0a1.45,1.45 0 1,0 -2.9,0M1115.18,604.97a1.45,1.45 0 1,0 2.9,0a1.45,1.45 0 1,0 -2.9,0M1117.6,605.51a1.45,1.45 0 1,0 2.9,0a1.45,1.45 0 1,0 -2.9,0M1120.01,606.74a1.45,1.45 0 1,0 2.9,0a1.45,1.45 0 1,0 -2.9,0M1122.42,607.93a1.45,1.45 0 1,0 2.9,0a1.45,1.45 0 1,0 -2.9,0M1124.84,608.49a1.45,1.45 0 1,0 2.9,0a1.45,1.45 0 1,0 -2.9,0M1127.25,608.5a1.45,1.45 0 1,0 2.9,0a1.45,1.45 0 1,0 -2.9,0M1129.66,608.35a1.45,1.45 0 1,0 2.9,0a1.45,1.45 0 1,0 -2.9,0M1132.07,608.36a1.45,1.45 0 1,0 2.9,0a1.45,1.45 0 1,0 -2.9,0M1134.49,608.67a1.45,1.45 0 1,0 2.9,0a1.45,1.45 0 1,0 -2.9,0M1136.9,609.1a1.45,1.45 0 1,0 2.9,0a1.45,1.45 0 1,0 -2.9,0M1139.31,609.56a1.45,1.45 0 1,0 2.9,0a1.45,1.45 0 1,0 -2.9,0M1141.73,610.03a1.45,1.45 0 1,0 2.9,0a1.45,1.45 0 1,0 -2.9,0M1144.14,610.62a1.45,1.45 0 1,0 2.9,0a1.45,1.45 0 1,0 -2.9,0M1146.55,611.04a1.45,1.45 0 1,0 2.9,0a1.45,1.45 0 1,0 -2.9,0M1148.97,611a1.45,1.45 0 1,0 2.9,0a1.45,1.45 0 1,0 -2.9,0M1151.38,610.4a1.45,1.45 0 1,0 2.9,0a1.45,1.45 0 1,0 -2.9,0M1153.79,609.46a1.45,1.45 0 1,0 2.9,0a1.45,1.45 0 1,0 -2.9,0M1156.21,608.51a1.45,1.45 0 1,0 2.9,0a1.45,1.45 0 1,0 -2.9,0M1158.62,607.69a1.45,1.45 0 1,0 2.9,0a1.45,1.45 0 1,0 -2.9,0M1161.03,606.89a1.45,1.45 0 1,0 2.9,0a1.45,1.45 0 1,0 -2.9,0M1163.45,606.08a1.45,1.45 0 1,0 2.9,0a1.45,1.45 0 1,0 -2.9,0M1165.86,605.28a1.45,1.45 0 1,0 2.9,0a1.45,1.45 0 1,0 -2.9,0M1168.27,604.44a1.45,1.45 0 1,0 2.9,0a1.45,1.45 0 1,0 -2.9,0M1170.68,603.63a1.45,1.45 0 1,0 2.9,0a1.45,1.45 0 1,0 -2.9,0M1173.1,602.87a1.45,1.45 0 1,0 2.9,0a1.45,1.45 0 1,0 -2.9,0M1175.51,602.22a1.45,1.45 0 1,0 2.9,0a1.45,1.45 0 1,0 -2.9,0M1177.92,601.62a1.45,1.45 0 1,0 2.9,0a1.45,1.45 0 1,0 -2.9,0M1180.34,601.05a1.45,1.45 0 1,0 2.9,0a1.45,1.45 0 1,0 -2.9,0M1182.75,600.8a1.45,1.45 0 1,0 2.9,0a1.45,1.45 0 1,0 -2.9,0" fill="#1f77b4"/>
</g>
<g clip-path="url(#d3)">
<path d="M1037.27,643.31 L1064.74,641.94 L1072.98,637.14 L1078.47,630.29 L1083.96,624.8 L1088.08,620.69 L1092.2,615.2 L1096.32,612.46 L1099.07,601.49 L1101.81,597.37 L1103.19,594.63 L1105.24,580.23 L1110.05,577.49 L1113.48,578.86 L1114.86,586.4 L1119.66,590.52 L1121.72,602.17 L1126.53,606.29 L1129.27,602.17 L1134.77,603.54 L1138.89,606.97 L1145.75,611.09 L1148.5,613.83 L1152.62,612.46 L1156.74,607.66 L1162.23,605.6 L1167.72,604.92 L1171.84,607.66 L1177.33,608.34 L1182.83,604.92" fill="none" stroke="#ff7f0e" stroke-width="1.9" stroke-linejoin="round"/>
<path d="M1035.55,643.31a1.45,1.45 0 1,0 2.9,0a1.45,1.45 0 1,0 -2.9,0M1037.96,643.21a1.45,1.45 0 1,0 2.9,0a1.45,1.45 0 1,0 -2.9,0M1040.38,643.09a1.45,1.45 0 1,0 2.9,0a1.45,1.45 0 1,0 -2.9,0M1042.79,642.97a1.45,1.45 0 1,0 2.9,0a1.45,1.45 0 1,0 -2.9,0M1045.2,642.85a1.45,1.45 0 1,0 2.9,0a1.45,1.45 0 1,0 -2.9,0M1047.62,642.73a1.45,1.45 0 1,0 2.9,0a1.45,1.45 0 1,0 -2.9,0M1050.03,642.6a1.45,1.45 0 1,0 2.9,0a1.45,1.45 0 1,0 -2.9,0M1052.44,642.48a1.45,1.45 0 1,0 2.9,0a1.45,1.45 0 1,0 -2.9,0M1054.85,642.36a1.45,1.45 0 1,0 2.9,0a1.45,1.45 0 1,0 -2.9,0M1057.27,642.24a1.45,1.45 0 1,0 2.9,0a1.45,1.45 0 1,0 -2.9,0M1059.68,642.12a1.45,1.45 0 1,0 2.9,0a1.45,1.45 0 1,0 -2.9,0M1062.09,642a1.45,1.45 0 1,0 2.9,0a1.45,1.45 0 1,0 -2.9,0M1064.51,641.23a1.45,1.45 0 1,0 2.9,0a1.45,1.45 0 1,0 -2.9,0M1066.92,639.83a1.45,1.45 0 1,0 2.9,0a1.45,1.45 0 1,0 -2.9,0M1069.33,638.42a1.45,1.45 0 1,0 2.9,0a1.45,1.45 0 1,0 -2.9,0M1071.75,636.87a1.45,1.45 0 1,0 2.9,0a1.45,1.45 0 1,0 -2.9,0M1074.16,633.86a1.45,1.45 0 1,0 2.9,0a1.45,1.45 0 1,0 -2.9,0M1076.57,630.84a1.45,1.45 0 1,0 2.9,0a1.45,1.45 0 1,0 -2.9,0M1078.99,628.32a1.45,1.45 0 1,0 2.9,0a1.45,1.45 0 1,0 -2.9,0M1081.4,625.91a1.45,1.45 0 1,0 2.9,0a1.45,1.45 0 1,0 -2.9,0M1083.81,623.5a1.45,1.45 0 1,0 2.9,0a1.45,1.45 0 1,0 -2.9,0M1086.23,621.09a1.45,1.45 0 1,0 2.9,0a1.45,1.45 0 1,0 -2.9,0M1088.64,618.01a1.45,1.45 0 1,0 2.9,0a1.45,1.45 0 1,0 -2.9,0M1091.05,615a1.45,1.45 0 1,0 2.9,0a1.45,1.45 0 1,0 -2.9,0M1093.46,613.39a1.45,1.45 0 1,0 2.9,0a1.45,1.45 0 1,0 -2.9,0M1095.88,608.43a1.45,1.45 0 1,0 2.9,0a1.45,1.45 0 1,0 -2.9,0M1098.29,600.48a1.45,1.45 0 1,0 2.9,0a1.45,1.45 0 1,0 -2.9,0M1100.7,596.69a1.45,1.45 0 1,0 2.9,0a1.45,1.45 0 1,0 -2.9,0M1103.12,584.97a1.45,1.45 0 1,0 2.9,0a1.45,1.45 0 1,0 -2.9,0M1105.53,579.24a1.45,1.45 0 1,0 2.9,0a1.45,1.45 0 1,0 -2.9,0M1107.94,577.86a1.45,1.45 0 1,0 2.9,0a1.45,1.45 0 1,0 -2.9,0M1110.36,578.19a1.45,1.45 0 1,0 2.9,0a1.45,1.45 0 1,0 -2.9,0M1112.77,582.9a1.45,1.45 0 1,0 2.9,0a1.45,1.45 0 1,0 -2.9,0M1115.18,587.92a1.45,1.45 0 1,0 2.9,0a1.45,1.45 0 1,0 -2.9,0M1117.6,589.99a1.45,1.45 0 1,0 2.9,0a1.45,1.45 0 1,0 -2.9,0M1120.01,600.68a1.45,1.45 0 1,0 2.9,0a1.45,1.45 0 1,0 -2.9,0M1122.42,604.01a1.45,1.45 0 1,0 2.9,0a1.45,1.45 0 1,0 -2.9,0M1124.84,606.08a1.45,1.45 0 1,0 2.9,0a1.45,1.45 0 1,0 -2.9,0M1127.25,603.04a1.45,1.45 0 1,0 2.9,0a1.45,1.45 0 1,0 -2.9,0M1129.66,602.63a1.45,1.45 0 1,0 2.9,0a1.45,1.45 0 1,0 -2.9,0M1132.07,603.23a1.45,1.45 0 1,0 2.9,0a1.45,1.45 0 1,0 -2.9,0M1134.49,604.52a1.45,1.45 0 1,0 2.9,0a1.45,1.45 0 1,0 -2.9,0M1136.9,606.53a1.45,1.45 0 1,0 2.9,0a1.45,1.45 0 1,0 -2.9,0M1139.31,608.1a1.45,1.45 0 1,0 2.9,0a1.45,1.45 0 1,0 -2.9,0M1141.73,609.54a1.45,1.45 0 1,0 2.9,0a1.45,1.45 0 1,0 -2.9,0M1144.14,610.99a1.45,1.45 0 1,0 2.9,0a1.45,1.45 0 1,0 -2.9,0M1146.55,613.33a1.45,1.45 0 1,0 2.9,0a1.45,1.45 0 1,0 -2.9,0M1148.97,613.19a1.45,1.45 0 1,0 2.9,0a1.45,1.45 0 1,0 -2.9,0M1151.38,612.21a1.45,1.45 0 1,0 2.9,0a1.45,1.45 0 1,0 -2.9,0M1153.79,609.4a1.45,1.45 0 1,0 2.9,0a1.45,1.45 0 1,0 -2.9,0M1156.21,607.31a1.45,1.45 0 1,0 2.9,0a1.45,1.45 0 1,0 -2.9,0M1158.62,606.41a1.45,1.45 0 1,0 2.9,0a1.45,1.45 0 1,0 -2.9,0M1161.03,605.57a1.45,1.45 0 1,0 2.9,0a1.45,1.45 0 1,0 -2.9,0M1163.45,605.27a1.45,1.45 0 1,0 2.9,0a1.45,1.45 0 1,0 -2.9,0M1165.86,604.97a1.45,1.45 0 1,0 2.9,0a1.45,1.45 0 1,0 -2.9,0M1168.27,606.25a1.45,1.45 0 1,0 2.9,0a1.45,1.45 0 1,0 -2.9,0M1170.68,607.69a1.45,1.45 0 1,0 2.9,0a1.45,1.45 0 1,0 -2.9,0M1173.1,608a1.45,1.45 0 1,0 2.9,0a1.45,1.45 0 1,0 -2.9,0M1175.51,608.3a1.45,1.45 0 1,0 2.9,0a1.45,1.45 0 1,0 -2.9,0M1177.92,607.07a1.45,1.45 0 1,0 2.9,0a1.45,1.45 0 1,0 -2.9,0M1180.34,605.56a1.45,1.45 0 1,0 2.9,0a1.45,1.45 0 1,0 -2.9,0M1182.75,604.92a1.45,1.45 0 1,0 2.9,0a1.45,1.45 0 1,0 -2.9,0" fill="#ff7f0e"/>
</g>
<path d="M1110.9,519.36L1114.7,523.16M1110.9,523.16L1114.7,519.36M1103.62,559.82L1107.42,563.62M1103.62,563.62L1107.42,559.82M1115.7,579.29L1119.5,583.09M1115.7,583.09L1119.5,579.29M1106.78,582.44L1110.58,586.24M1106.78,586.24L1110.58,582.44M1108.84,583.13L1112.64,586.93M1108.84,586.93L1112.64,583.13M1112.96,589.99L1116.76,593.79M1112.96,593.79L1116.76,589.99M1098.54,588.34L1102.34,592.14M1098.54,592.14L1102.34,588.34M1096.48,599.31L1100.28,603.11M1096.48,603.11L1100.28,599.31M1091.67,604.39L1095.47,608.19M1091.67,608.19L1095.47,604.39M1082.06,603.7L1085.86,607.5M1082.06,607.5L1085.86,603.7M1088.93,610.56L1092.73,614.36M1088.93,614.36L1092.73,610.56M1084.12,620.16L1087.92,623.96M1084.12,623.96L1087.92,620.16M1079.31,629.07L1083.11,632.87M1079.31,632.87L1083.11,629.07M1076.57,629.76L1080.37,633.56M1076.57,633.56L1080.37,629.76M1086.87,632.5L1090.67,636.3M1086.87,636.3L1090.67,632.5M1093.73,624.27L1097.53,628.07M1093.73,628.07L1097.53,624.27M1101.29,618.1L1105.09,621.9M1101.29,621.9L1105.09,618.1M1117.76,627.01L1121.56,630.81M1117.76,630.81L1121.56,627.01M1120.23,611.93L1124.03,615.73M1120.23,615.73L1124.03,611.93M1124.63,595.47L1128.43,599.27M1124.63,599.27L1128.43,595.47M1130.12,598.9L1133.92,602.7M1130.12,602.7L1133.92,598.9M1132.18,598.22L1135.98,602.02M1132.18,602.02L1135.98,598.22M1135.61,607.13L1139.41,610.93M1135.61,610.93L1139.41,607.13M1139.73,607.82L1143.53,611.62M1139.73,611.62L1143.53,607.82M1146.32,604.39L1150.12,608.19M1146.32,608.19L1150.12,604.39M1143.85,611.93L1147.65,615.73M1143.85,615.73L1147.65,611.93M1150.72,618.1L1154.52,621.9M1150.72,621.9L1154.52,618.1M1153.46,618.79L1157.26,622.59M1153.46,622.59L1157.26,618.79M1158.27,599.31L1162.07,603.11M1158.27,603.11L1162.07,599.31M1161.02,594.79L1164.82,598.59M1161.02,598.59L1164.82,594.79M1163.08,594.1L1166.88,597.9M1163.08,597.9L1166.88,594.1M1172.69,600.96L1176.49,604.76M1172.69,604.76L1176.49,600.96M1167.88,610.83L1171.68,614.63M1167.88,614.63L1171.68,610.83M1169.94,615.77L1173.74,619.57M1169.94,619.57L1173.74,615.77M1174.75,609.87L1178.55,613.67M1174.75,613.67L1178.55,609.87M1179.55,596.16L1183.35,599.96M1179.55,599.96L1183.35,596.16M1177.49,606.44L1181.29,610.24M1177.49,610.24L1181.29,606.44M1072.45,633.87L1076.25,637.67M1072.45,637.67L1076.25,633.87M1066.96,637.3L1070.76,641.1M1066.96,641.1L1070.76,637.3M1062.84,637.3L1066.64,641.1M1062.84,641.1L1066.64,637.3M1069.7,638.67L1073.5,642.47M1069.7,642.47L1073.5,638.67" stroke="#7f7f7f" stroke-width="1.8" fill="none"/>
<rect x="1037" y="520.3" width="147.2" height="123.7" fill="none" stroke="#000" stroke-width="1.6"/>
<text x="1110.6" y="515.3" font-size="17.6" text-anchor="middle" font-weight="normal" font-style="normal" >Houston</text>
<line x1="1034" y1="531.7" x2="1037" y2="531.7" stroke="#000" stroke-width="1.6"/>
<line x1="1034" y1="644" x2="1037" y2="644" stroke="#000" stroke-width="1.6"/>
<text x="1030" y="538.1" font-size="17.8" text-anchor="end" font-weight="normal" font-style="normal" >0.7</text>
<text x="1030" y="650.4" font-size="17.8" text-anchor="end" font-weight="normal" font-style="normal" >0</text>
<clipPath id="d4"><rect x="654.8" y="669.6" width="146.8" height="123.4"/></clipPath>
<g clip-path="url(#d4)">
<path d="M654.8,792.31 L654.91,789.96 L655.03,786.5 L655.19,782.5 L655.41,778.55 L655.73,775.23 L656.17,773.12 L656.75,772.43 L657.44,772.74 L658.23,773.68 L659.09,774.87 L660.01,775.95 L660.97,776.55 L661.97,776.73 L663.01,776.83 L664.1,776.8 L665.27,776.65 L666.51,776.34 L667.83,775.86 L669.28,775.21 L670.83,774.39 L672.46,773.42 L674.13,772.31 L675.81,771.06 L677.44,769.69 L679.04,768.09 L680.64,766.24 L682.24,764.25 L683.84,762.25 L685.44,760.37 L687.04,758.72 L688.66,757.3 L690.29,756.01 L691.93,754.82 L693.55,753.75 L695.12,752.76 L696.64,751.87 L698.1,751.13 L699.49,750.57 L700.85,750.11 L702.18,749.66 L703.52,749.13 L704.88,748.44 L706.25,747.55 L707.62,746.51 L708.99,745.4 L710.36,744.27 L711.74,743.21 L713.11,742.27 L714.45,741.54 L715.75,740.97 L717.05,740.47 L718.39,739.91 L719.81,739.17 L721.34,738.16 L723.01,736.68 L724.8,734.8 L726.66,732.76 L728.56,730.77 L730.45,729.06 L732.32,727.87 L734.15,727.3 L735.97,727.19 L737.8,727.36 L739.63,727.64 L741.46,727.87 L743.29,727.87 L745.15,727.67 L747.05,727.42 L748.95,727.1 L750.81,726.73 L752.6,726.3 L754.27,725.82 L755.8,725.26 L757.21,724.65 L758.55,723.97 L759.86,723.25 L761.16,722.49 L762.5,721.7 L763.9,720.85 L765.34,719.92 L766.79,718.96 L768.19,718 L769.52,717.07 L770.73,716.22 L771.8,715.52 L772.76,714.95 L773.65,714.42 L774.49,713.83 L775.34,713.09 L776.22,712.1 L777.13,710.85 L778.05,709.41 L778.96,707.82 L779.88,706.11 L780.79,704.33 L781.71,702.51 L782.61,700.59 L783.49,698.55 L784.36,696.42 L785.26,694.28 L786.2,692.18 L787.19,690.17 L788.26,688.24 L789.38,686.36 L790.54,684.51 L791.72,682.7 L792.9,680.93 L794.05,679.2 L795.28,677.41 L796.59,675.54 L797.91,673.71 L799.14,672.04 L800.17,670.63 L800.91,669.6 L802.6,669.6 L802.6,742.27 L800.91,742.27 L800.02,742.72 L798.78,743.34 L797.31,744.07 L795.73,744.86 L794.15,745.65 L792.68,746.38 L791.29,747.05 L789.89,747.7 L788.48,748.35 L787.09,749.02 L785.74,749.73 L784.45,750.5 L783.26,751.35 L782.16,752.27 L781.11,753.24 L780.03,754.2 L778.88,755.13 L777.59,755.98 L776.13,756.76 L774.54,757.5 L772.87,758.21 L771.19,758.87 L769.54,759.5 L767.99,760.09 L766.57,760.66 L765.24,761.21 L763.96,761.72 L762.65,762.18 L761.27,762.55 L759.76,762.84 L758.08,762.96 L756.3,762.94 L754.44,762.84 L752.54,762.73 L750.64,762.71 L748.78,762.84 L746.95,763.1 L745.12,763.44 L743.29,763.86 L741.46,764.36 L739.63,764.93 L737.8,765.58 L735.97,766.33 L734.15,767.2 L732.32,768.15 L730.49,769.13 L728.66,770.12 L726.83,771.06 L725,771.99 L723.17,772.94 L721.34,773.89 L719.51,774.82 L717.68,775.71 L715.85,776.55 L714.05,777.3 L712.3,777.99 L710.54,778.65 L708.74,779.29 L706.86,779.95 L704.88,780.66 L702.75,781.43 L700.51,782.23 L698.19,783.06 L695.83,783.88 L693.48,784.69 L691.16,785.46 L688.84,786.21 L686.48,786.96 L684.13,787.69 L681.81,788.38 L679.57,789.01 L677.44,789.57 L675.45,790.05 L673.58,790.46 L671.78,790.81 L670.02,791.12 L668.26,791.39 L666.46,791.63 L664.51,791.83 L662.4,791.98 L660.29,792.1 L658.33,792.19 L656.68,792.26 L655.49,792.31 L653.8,792.31 Z" fill="#8fbbd9" stroke="#1f77b4" stroke-opacity="0.6" stroke-width="0.9"/>
<path d="M655.49,788.89 L656.38,788.99 L657.62,789.14 L659.09,789.32 L660.67,789.47 L662.25,789.57 L663.72,789.57 L665.09,789.5 L666.46,789.39 L667.83,789.23 L669.21,788.99 L670.58,788.65 L671.95,788.2 L673.32,787.62 L674.69,786.93 L676.07,786.14 L677.44,785.28 L678.81,784.36 L680.18,783.4 L681.55,782.35 L682.93,781.17 L684.3,779.93 L685.67,778.7 L687.04,777.55 L688.41,776.55 L689.79,775.7 L691.16,774.97 L692.53,774.32 L693.9,773.7 L695.27,773.09 L696.64,772.43 L698.02,771.76 L699.39,771.11 L700.76,770.46 L702.13,769.79 L703.5,769.08 L704.88,768.32 L706.25,767.47 L707.62,766.54 L708.99,765.58 L710.36,764.61 L711.74,763.69 L713.11,762.84 L714.48,762.09 L715.85,761.41 L717.22,760.78 L718.6,760.14 L719.97,759.47 L721.34,758.72 L722.71,757.86 L724.08,756.92 L725.46,755.94 L726.83,754.96 L728.2,754.05 L729.57,753.24 L730.94,752.52 L732.32,751.87 L733.69,751.27 L735.06,750.72 L736.43,750.24 L737.8,749.81 L739.18,749.47 L740.55,749.23 L741.92,749.04 L743.29,748.87 L744.66,748.68 L746.04,748.44 L747.41,748.14 L748.78,747.8 L750.15,747.45 L751.52,747.09 L752.9,746.73 L754.27,746.38 L755.64,746.07 L757.01,745.8 L758.38,745.53 L759.76,745.21 L761.13,744.83 L762.5,744.33 L763.87,743.71 L765.24,743.01 L766.61,742.23 L767.99,741.38 L769.36,740.48 L770.73,739.53 L772.1,738.53 L773.47,737.5 L774.85,736.4 L776.22,735.24 L777.59,734 L778.96,732.67 L780.35,731.21 L781.76,729.62 L783.16,727.96 L784.55,726.27 L785.9,724.63 L787.19,723.07 L788.42,721.64 L789.58,720.28 L790.71,718.96 L791.82,717.64 L792.93,716.28 L794.05,714.85 L795.28,713.22 L796.59,711.39 L797.91,709.53 L799.14,707.79 L800.17,706.31 L800.91,705.25" fill="none" stroke="#1f77b4" stroke-width="2.0"/>
<path d="M653.35,788.89a1.45,1.45 0 1,0 2.9,0a1.45,1.45 0 1,0 -2.9,0M655.76,789.09a1.45,1.45 0 1,0 2.9,0a1.45,1.45 0 1,0 -2.9,0M658.16,789.37a1.45,1.45 0 1,0 2.9,0a1.45,1.45 0 1,0 -2.9,0M660.57,789.55a1.45,1.45 0 1,0 2.9,0a1.45,1.45 0 1,0 -2.9,0M662.98,789.54a1.45,1.45 0 1,0 2.9,0a1.45,1.45 0 1,0 -2.9,0M665.38,789.35a1.45,1.45 0 1,0 2.9,0a1.45,1.45 0 1,0 -2.9,0M667.79,788.98a1.45,1.45 0 1,0 2.9,0a1.45,1.45 0 1,0 -2.9,0M670.2,788.3a1.45,1.45 0 1,0 2.9,0a1.45,1.45 0 1,0 -2.9,0M672.6,787.25a1.45,1.45 0 1,0 2.9,0a1.45,1.45 0 1,0 -2.9,0M675.01,785.9a1.45,1.45 0 1,0 2.9,0a1.45,1.45 0 1,0 -2.9,0M677.42,784.32a1.45,1.45 0 1,0 2.9,0a1.45,1.45 0 1,0 -2.9,0M679.82,782.56a1.45,1.45 0 1,0 2.9,0a1.45,1.45 0 1,0 -2.9,0M682.23,780.49a1.45,1.45 0 1,0 2.9,0a1.45,1.45 0 1,0 -2.9,0M684.64,778.36a1.45,1.45 0 1,0 2.9,0a1.45,1.45 0 1,0 -2.9,0M687.04,776.5a1.45,1.45 0 1,0 2.9,0a1.45,1.45 0 1,0 -2.9,0M689.45,775.11a1.45,1.45 0 1,0 2.9,0a1.45,1.45 0 1,0 -2.9,0M691.85,773.97a1.45,1.45 0 1,0 2.9,0a1.45,1.45 0 1,0 -2.9,0M694.26,772.88a1.45,1.45 0 1,0 2.9,0a1.45,1.45 0 1,0 -2.9,0M696.67,771.72a1.45,1.45 0 1,0 2.9,0a1.45,1.45 0 1,0 -2.9,0M699.07,770.57a1.45,1.45 0 1,0 2.9,0a1.45,1.45 0 1,0 -2.9,0M701.48,769.38a1.45,1.45 0 1,0 2.9,0a1.45,1.45 0 1,0 -2.9,0M703.89,768.03a1.45,1.45 0 1,0 2.9,0a1.45,1.45 0 1,0 -2.9,0M706.29,766.46a1.45,1.45 0 1,0 2.9,0a1.45,1.45 0 1,0 -2.9,0M708.7,764.76a1.45,1.45 0 1,0 2.9,0a1.45,1.45 0 1,0 -2.9,0M711.11,763.18a1.45,1.45 0 1,0 2.9,0a1.45,1.45 0 1,0 -2.9,0M713.51,761.85a1.45,1.45 0 1,0 2.9,0a1.45,1.45 0 1,0 -2.9,0M715.92,760.71a1.45,1.45 0 1,0 2.9,0a1.45,1.45 0 1,0 -2.9,0M718.33,759.57a1.45,1.45 0 1,0 2.9,0a1.45,1.45 0 1,0 -2.9,0M720.73,758.19a1.45,1.45 0 1,0 2.9,0a1.45,1.45 0 1,0 -2.9,0M723.14,756.56a1.45,1.45 0 1,0 2.9,0a1.45,1.45 0 1,0 -2.9,0M725.55,754.85a1.45,1.45 0 1,0 2.9,0a1.45,1.45 0 1,0 -2.9,0M727.95,753.34a1.45,1.45 0 1,0 2.9,0a1.45,1.45 0 1,0 -2.9,0M730.36,752.11a1.45,1.45 0 1,0 2.9,0a1.45,1.45 0 1,0 -2.9,0M732.77,751.06a1.45,1.45 0 1,0 2.9,0a1.45,1.45 0 1,0 -2.9,0M735.17,750.18a1.45,1.45 0 1,0 2.9,0a1.45,1.45 0 1,0 -2.9,0M737.58,749.51a1.45,1.45 0 1,0 2.9,0a1.45,1.45 0 1,0 -2.9,0M739.99,749.1a1.45,1.45 0 1,0 2.9,0a1.45,1.45 0 1,0 -2.9,0M742.39,748.8a1.45,1.45 0 1,0 2.9,0a1.45,1.45 0 1,0 -2.9,0M744.8,748.39a1.45,1.45 0 1,0 2.9,0a1.45,1.45 0 1,0 -2.9,0M747.21,747.83a1.45,1.45 0 1,0 2.9,0a1.45,1.45 0 1,0 -2.9,0M749.61,747.21a1.45,1.45 0 1,0 2.9,0a1.45,1.45 0 1,0 -2.9,0M752.02,746.59a1.45,1.45 0 1,0 2.9,0a1.45,1.45 0 1,0 -2.9,0M754.43,746.02a1.45,1.45 0 1,0 2.9,0a1.45,1.45 0 1,0 -2.9,0M756.83,745.55a1.45,1.45 0 1,0 2.9,0a1.45,1.45 0 1,0 -2.9,0M759.24,744.95a1.45,1.45 0 1,0 2.9,0a1.45,1.45 0 1,0 -2.9,0M761.65,744.06a1.45,1.45 0 1,0 2.9,0a1.45,1.45 0 1,0 -2.9,0M764.05,742.86a1.45,1.45 0 1,0 2.9,0a1.45,1.45 0 1,0 -2.9,0M766.46,741.43a1.45,1.45 0 1,0 2.9,0a1.45,1.45 0 1,0 -2.9,0M768.86,739.81a1.45,1.45 0 1,0 2.9,0a1.45,1.45 0 1,0 -2.9,0M771.27,738.07a1.45,1.45 0 1,0 2.9,0a1.45,1.45 0 1,0 -2.9,0M773.68,736.16a1.45,1.45 0 1,0 2.9,0a1.45,1.45 0 1,0 -2.9,0M776.08,734.05a1.45,1.45 0 1,0 2.9,0a1.45,1.45 0 1,0 -2.9,0M778.49,731.64a1.45,1.45 0 1,0 2.9,0a1.45,1.45 0 1,0 -2.9,0M780.9,728.93a1.45,1.45 0 1,0 2.9,0a1.45,1.45 0 1,0 -2.9,0M783.3,726.03a1.45,1.45 0 1,0 2.9,0a1.45,1.45 0 1,0 -2.9,0M785.71,723.11a1.45,1.45 0 1,0 2.9,0a1.45,1.45 0 1,0 -2.9,0M788.12,720.3a1.45,1.45 0 1,0 2.9,0a1.45,1.45 0 1,0 -2.9,0M790.52,717.45a1.45,1.45 0 1,0 2.9,0a1.45,1.45 0 1,0 -2.9,0M792.93,714.41a1.45,1.45 0 1,0 2.9,0a1.45,1.45 0 1,0 -2.9,0M795.34,711.12a1.45,1.45 0 1,0 2.9,0a1.45,1.45 0 1,0 -2.9,0M797.74,707.71a1.45,1.45 0 1,0 2.9,0a1.45,1.45 0 1,0 -2.9,0M800.15,705.25a1.45,1.45 0 1,0 2.9,0a1.45,1.45 0 1,0 -2.9,0" fill="#1f77b4"/>
</g>
<g clip-path="url(#d4)">
<path d="M655.49,792.31 L677.44,790.94 L687.04,786.14 L691.16,780.66 L696.64,773.8 L702.13,766.26 L707.62,760.09 L711.74,753.24 L718.6,749.81 L724.08,750.5 L728.2,754.61 L732.32,758.72 L739.18,761.46 L746.04,758.72 L748.09,747.75 L751.52,738.84 L754.27,731.3 L756.33,723.76 L758.38,718.96 L763.87,717.59 L765.93,723.07 L767.99,731.3 L770.73,728.56 L773.47,731.3 L778.96,727.19 L782.39,728.56 L785.14,718.96 L787.19,725.82 L791.31,725.82 L795.43,723.07 L799.54,717.59 L800.91,720.33" fill="none" stroke="#ff7f0e" stroke-width="1.9" stroke-linejoin="round"/>
<path d="M653.35,792.31a1.45,1.45 0 1,0 2.9,0a1.45,1.45 0 1,0 -2.9,0M655.76,792.21a1.45,1.45 0 1,0 2.9,0a1.45,1.45 0 1,0 -2.9,0M658.16,792.06a1.45,1.45 0 1,0 2.9,0a1.45,1.45 0 1,0 -2.9,0M660.57,791.91a1.45,1.45 0 1,0 2.9,0a1.45,1.45 0 1,0 -2.9,0M662.98,791.76a1.45,1.45 0 1,0 2.9,0a1.45,1.45 0 1,0 -2.9,0M665.38,791.61a1.45,1.45 0 1,0 2.9,0a1.45,1.45 0 1,0 -2.9,0M667.79,791.46a1.45,1.45 0 1,0 2.9,0a1.45,1.45 0 1,0 -2.9,0M670.2,791.31a1.45,1.45 0 1,0 2.9,0a1.45,1.45 0 1,0 -2.9,0M672.6,791.15a1.45,1.45 0 1,0 2.9,0a1.45,1.45 0 1,0 -2.9,0M675.01,791a1.45,1.45 0 1,0 2.9,0a1.45,1.45 0 1,0 -2.9,0M677.42,790.23a1.45,1.45 0 1,0 2.9,0a1.45,1.45 0 1,0 -2.9,0M679.82,789.03a1.45,1.45 0 1,0 2.9,0a1.45,1.45 0 1,0 -2.9,0M682.23,787.82a1.45,1.45 0 1,0 2.9,0a1.45,1.45 0 1,0 -2.9,0M684.64,786.62a1.45,1.45 0 1,0 2.9,0a1.45,1.45 0 1,0 -2.9,0M687.04,784.21a1.45,1.45 0 1,0 2.9,0a1.45,1.45 0 1,0 -2.9,0M689.45,781a1.45,1.45 0 1,0 2.9,0a1.45,1.45 0 1,0 -2.9,0M691.85,777.98a1.45,1.45 0 1,0 2.9,0a1.45,1.45 0 1,0 -2.9,0M694.26,774.97a1.45,1.45 0 1,0 2.9,0a1.45,1.45 0 1,0 -2.9,0M696.67,771.78a1.45,1.45 0 1,0 2.9,0a1.45,1.45 0 1,0 -2.9,0M699.07,768.47a1.45,1.45 0 1,0 2.9,0a1.45,1.45 0 1,0 -2.9,0M701.48,765.37a1.45,1.45 0 1,0 2.9,0a1.45,1.45 0 1,0 -2.9,0M703.89,762.66a1.45,1.45 0 1,0 2.9,0a1.45,1.45 0 1,0 -2.9,0M706.29,759.89a1.45,1.45 0 1,0 2.9,0a1.45,1.45 0 1,0 -2.9,0M708.7,755.88a1.45,1.45 0 1,0 2.9,0a1.45,1.45 0 1,0 -2.9,0M711.11,752.83a1.45,1.45 0 1,0 2.9,0a1.45,1.45 0 1,0 -2.9,0M713.51,751.63a1.45,1.45 0 1,0 2.9,0a1.45,1.45 0 1,0 -2.9,0M715.92,750.42a1.45,1.45 0 1,0 2.9,0a1.45,1.45 0 1,0 -2.9,0M718.33,749.96a1.45,1.45 0 1,0 2.9,0a1.45,1.45 0 1,0 -2.9,0M720.73,750.26a1.45,1.45 0 1,0 2.9,0a1.45,1.45 0 1,0 -2.9,0M723.14,751a1.45,1.45 0 1,0 2.9,0a1.45,1.45 0 1,0 -2.9,0M725.55,753.41a1.45,1.45 0 1,0 2.9,0a1.45,1.45 0 1,0 -2.9,0M727.95,755.81a1.45,1.45 0 1,0 2.9,0a1.45,1.45 0 1,0 -2.9,0M730.36,758.22a1.45,1.45 0 1,0 2.9,0a1.45,1.45 0 1,0 -2.9,0M732.77,759.48a1.45,1.45 0 1,0 2.9,0a1.45,1.45 0 1,0 -2.9,0M735.17,760.44a1.45,1.45 0 1,0 2.9,0a1.45,1.45 0 1,0 -2.9,0M737.58,761.41a1.45,1.45 0 1,0 2.9,0a1.45,1.45 0 1,0 -2.9,0M739.99,760.56a1.45,1.45 0 1,0 2.9,0a1.45,1.45 0 1,0 -2.9,0M742.39,759.6a1.45,1.45 0 1,0 2.9,0a1.45,1.45 0 1,0 -2.9,0M744.8,757.58a1.45,1.45 0 1,0 2.9,0a1.45,1.45 0 1,0 -2.9,0M747.21,746.29a1.45,1.45 0 1,0 2.9,0a1.45,1.45 0 1,0 -2.9,0M749.61,740.04a1.45,1.45 0 1,0 2.9,0a1.45,1.45 0 1,0 -2.9,0M752.02,733.49a1.45,1.45 0 1,0 2.9,0a1.45,1.45 0 1,0 -2.9,0M754.43,725.41a1.45,1.45 0 1,0 2.9,0a1.45,1.45 0 1,0 -2.9,0M756.83,719.2a1.45,1.45 0 1,0 2.9,0a1.45,1.45 0 1,0 -2.9,0M759.24,718.38a1.45,1.45 0 1,0 2.9,0a1.45,1.45 0 1,0 -2.9,0M761.65,717.78a1.45,1.45 0 1,0 2.9,0a1.45,1.45 0 1,0 -2.9,0M764.05,721.93a1.45,1.45 0 1,0 2.9,0a1.45,1.45 0 1,0 -2.9,0M766.46,730.99a1.45,1.45 0 1,0 2.9,0a1.45,1.45 0 1,0 -2.9,0M768.86,728.97a1.45,1.45 0 1,0 2.9,0a1.45,1.45 0 1,0 -2.9,0M771.27,730.55a1.45,1.45 0 1,0 2.9,0a1.45,1.45 0 1,0 -2.9,0M773.68,730.06a1.45,1.45 0 1,0 2.9,0a1.45,1.45 0 1,0 -2.9,0M776.08,728.26a1.45,1.45 0 1,0 2.9,0a1.45,1.45 0 1,0 -2.9,0M778.49,727.58a1.45,1.45 0 1,0 2.9,0a1.45,1.45 0 1,0 -2.9,0M780.9,728.54a1.45,1.45 0 1,0 2.9,0a1.45,1.45 0 1,0 -2.9,0M783.3,720.3a1.45,1.45 0 1,0 2.9,0a1.45,1.45 0 1,0 -2.9,0M785.71,725.7a1.45,1.45 0 1,0 2.9,0a1.45,1.45 0 1,0 -2.9,0M788.12,725.82a1.45,1.45 0 1,0 2.9,0a1.45,1.45 0 1,0 -2.9,0M790.52,725.37a1.45,1.45 0 1,0 2.9,0a1.45,1.45 0 1,0 -2.9,0M792.93,723.77a1.45,1.45 0 1,0 2.9,0a1.45,1.45 0 1,0 -2.9,0M795.34,721.26a1.45,1.45 0 1,0 2.9,0a1.45,1.45 0 1,0 -2.9,0M797.74,718.05a1.45,1.45 0 1,0 2.9,0a1.45,1.45 0 1,0 -2.9,0M800.15,720.33a1.45,1.45 0 1,0 2.9,0a1.45,1.45 0 1,0 -2.9,0" fill="#ff7f0e"/>
</g>
<path d="M775.69,678.39L779.49,682.19M775.69,682.19L779.49,678.39M790.1,675.93L793.9,679.73M790.1,679.73L793.9,675.93M754.15,686.9L757.95,690.7M754.15,690.7L757.95,686.9M756.48,698.96L760.28,702.76M756.48,702.76L760.28,698.96M759.23,697.86L763.03,701.66M759.23,701.66L763.03,697.86M761.42,711.85L765.22,715.65M761.42,715.65L765.22,711.85M764.44,718.16L768.24,721.96M764.44,721.96L768.24,718.16M780.49,708.15L784.29,711.95M780.49,711.95L784.29,708.15M771.57,725.97L775.37,729.77M771.57,729.77L775.37,725.97M785.02,730.5L788.82,734.3M785.02,734.3L788.82,730.5M794.9,729.4L798.7,733.2M794.9,733.2L798.7,729.4M792.15,726.66L795.95,730.46M792.15,730.46L795.95,726.66M796.96,722.54L800.76,726.34M796.96,726.34L800.76,722.54M778.16,736.67L781.96,740.47M778.16,740.47L781.96,736.67M782.96,740.09L786.76,743.89M782.96,743.89L786.76,740.09M766.09,744.21L769.89,748.01M766.09,748.01L769.89,744.21M773.22,747.91L777.02,751.71M773.22,751.71L777.02,747.91M787.63,747.22L791.43,751.02M787.63,751.02L791.43,747.22M768.42,755.18L772.22,758.98M768.42,758.98L772.22,755.18M716.28,736.94L720.08,740.74M716.28,740.74L720.08,736.94M718.75,742.43L722.55,746.23M718.75,746.23L722.55,742.43M726.03,742.84L729.83,746.64M726.03,746.64L729.83,742.84M708.46,749.28L712.26,753.08M708.46,753.08L712.26,749.28M706.41,752.02L710.21,755.82M706.41,755.82L710.21,752.02M713.27,752.02L717.07,755.82M713.27,755.82L717.07,752.02M694.74,757.92L698.54,761.72M694.74,761.72L698.54,757.92M702.29,760.66L706.09,764.46M702.29,764.46L706.09,760.66M704.35,765.73L708.15,769.53M704.35,769.53L708.15,765.73M699.55,767.79L703.35,771.59M699.55,771.59L703.35,767.79M721.09,759.02L724.89,762.82M721.09,762.82L724.89,759.02M728.36,757.51L732.16,761.31M728.36,761.31L732.16,757.51M732.75,755.45L736.55,759.25M732.75,759.25L736.55,755.45M740.29,747.22L744.09,751.02M740.29,751.02L744.09,747.22M742.76,755.04L746.56,758.84M742.76,758.84L746.56,755.04M749.62,744.48L753.42,748.28M749.62,748.28L753.42,744.48M747.15,749.01L750.95,752.81M747.15,752.81L750.95,749.01M735.22,765.73L739.02,769.53M735.22,769.53L739.02,765.73M744.82,763.4L748.62,767.2M744.82,767.2L748.62,763.4M751.96,763.95L755.76,767.75M751.96,767.75L755.76,763.95M737.55,775.33L741.35,779.13M737.55,779.13L741.35,775.33M689.26,780.13L693.06,783.93M689.26,783.93L693.06,780.13M692,780.13L695.8,783.93M692,783.93L695.8,780.13M685.14,785.62L688.94,789.42M685.14,789.42L688.94,785.62M681.03,786.3L684.83,790.1M681.03,790.1L684.83,786.3M675.54,788.36L679.34,792.16M675.54,792.16L679.34,788.36" stroke="#7f7f7f" stroke-width="1.8" fill="none"/>
<rect x="654.8" y="669.6" width="146.8" height="123.4" fill="none" stroke="#000" stroke-width="1.6"/>
<text x="728.2" y="664.6" font-size="17.6" text-anchor="middle" font-weight="normal" font-style="normal" >Los Angeles</text>
<line x1="651.8" y1="675" x2="654.8" y2="675" stroke="#000" stroke-width="1.6"/>
<line x1="651.8" y1="793" x2="654.8" y2="793" stroke="#000" stroke-width="1.6"/>
<text x="647.8" y="681.4" font-size="17.8" text-anchor="end" font-weight="normal" font-style="normal" >1.7</text>
<text x="647.8" y="799.4" font-size="17.8" text-anchor="end" font-weight="normal" font-style="normal" >0</text>
<clipPath id="d5"><rect x="845.8" y="669.6" width="146.7" height="123.4"/></clipPath>
<g clip-path="url(#d5)">
<path d="M845.8,792.31 L846.02,788.04 L846.31,781.75 L846.66,774.49 L847.04,767.3 L847.45,761.24 L847.86,757.35 L848.24,755.97 L848.62,756.34 L849.01,757.82 L849.46,759.81 L849.97,761.69 L850.6,762.84 L851.34,763.37 L852.17,763.8 L853.08,764.12 L854.05,764.31 L855.06,764.34 L856.08,764.21 L857.13,763.89 L858.22,763.39 L859.34,762.75 L860.5,761.97 L861.7,761.08 L862.94,760.09 L864.25,759.02 L865.63,757.86 L867.05,756.58 L868.47,755.17 L869.86,753.6 L871.16,751.87 L872.39,749.96 L873.55,747.91 L874.68,745.7 L875.78,743.34 L876.89,740.82 L878.02,738.16 L879.16,735.14 L880.3,731.73 L881.45,728.17 L882.59,724.7 L883.73,721.55 L884.87,718.96 L886.05,716.92 L887.26,715.23 L888.47,713.86 L889.65,712.79 L890.75,711.99 L891.73,711.42 L892.54,711.25 L893.2,711.52 L893.79,712.06 L894.37,712.69 L895.03,713.22 L895.84,713.48 L896.84,713.44 L897.98,713.25 L899.18,712.96 L900.41,712.64 L901.6,712.33 L902.7,712.1 L903.71,711.89 L904.68,711.62 L905.61,711.38 L906.51,711.22 L907.36,711.21 L908.18,711.42 L908.93,711.93 L909.6,712.69 L910.24,713.6 L910.87,714.57 L911.55,715.47 L912.29,716.22 L913.13,716.86 L914.02,717.49 L914.95,718.06 L915.9,718.53 L916.85,718.84 L917.78,718.96 L918.69,718.74 L919.61,718.2 L920.52,717.5 L921.44,716.83 L922.35,716.34 L923.26,716.22 L924.18,716.48 L925.09,717 L926.01,717.72 L926.92,718.55 L927.83,719.45 L928.75,720.33 L929.6,721.31 L930.37,722.46 L931.15,723.67 L932,724.83 L933,725.81 L934.23,726.5 L935.77,726.85 L937.58,726.93 L939.54,726.84 L941.54,726.68 L943.47,726.53 L945.2,726.5 L946.73,726.59 L948.14,726.73 L949.48,726.89 L950.79,727.03 L952.09,727.14 L953.43,727.19 L954.8,727.17 L956.17,727.11 L957.54,727.02 L958.91,726.88 L960.28,726.71 L961.65,726.5 L963.02,726.25 L964.39,725.94 L965.76,725.6 L967.14,725.23 L968.51,724.84 L969.88,724.44 L971.28,724.01 L972.72,723.53 L974.16,723.03 L975.57,722.54 L976.89,722.09 L978.1,721.7 L979.15,721.47 L980.03,721.4 L980.85,721.36 L981.66,721.25 L982.55,720.94 L983.59,720.33 L984.9,719.26 L986.43,717.79 L988.04,716.13 L989.58,714.49 L990.89,713.08 L991.81,712.1 L993.5,712.1 L993.5,742.95 L991.81,742.95 L991.22,743.19 L990.39,743.51 L989.42,743.9 L988.36,744.3 L987.31,744.68 L986.33,745.01 L985.45,745.27 L984.6,745.49 L983.76,745.7 L982.88,745.9 L981.92,746.12 L980.85,746.38 L979.63,746.68 L978.31,746.99 L976.9,747.32 L975.46,747.68 L974.02,748.05 L972.62,748.44 L971.22,748.9 L969.78,749.45 L968.34,750.02 L966.93,750.55 L965.61,750.95 L964.39,751.18 L963.35,751.18 L962.46,751 L961.65,750.71 L960.84,750.37 L959.95,750.05 L958.91,749.81 L957.7,749.67 L956.37,749.58 L954.97,749.51 L953.53,749.43 L952.09,749.31 L950.68,749.12 L949.31,748.85 L947.94,748.49 L946.57,748.1 L945.2,747.7 L943.83,747.35 L942.46,747.07 L941.09,746.9 L939.72,746.81 L938.34,746.77 L936.97,746.71 L935.6,746.6 L934.23,746.38 L932.89,745.97 L931.59,745.39 L930.29,744.75 L928.95,744.17 L927.53,743.76 L926.01,743.64 L924.3,743.89 L922.45,744.43 L920.52,745.14 L918.59,745.9 L916.74,746.58 L915.04,747.07 L913.49,747.29 L912.04,747.32 L910.67,747.28 L909.35,747.27 L908.07,747.39 L906.81,747.75 L905.59,748.47 L904.42,749.48 L903.3,750.62 L902.19,751.74 L901.08,752.66 L899.96,753.24 L898.81,753.29 L897.67,752.93 L896.53,752.38 L895.39,751.87 L894.24,751.62 L893.1,751.87 L891.97,752.63 L890.87,753.75 L889.76,755.12 L888.63,756.69 L887.47,758.37 L886.25,760.09 L884.97,761.94 L883.66,764 L882.3,766.18 L880.91,768.37 L879.49,770.49 L878.02,772.43 L876.51,774.23 L874.97,775.96 L873.39,777.62 L871.77,779.19 L870.12,780.66 L868.42,782.03 L866.67,783.31 L864.87,784.49 L863.02,785.59 L861.16,786.58 L859.3,787.45 L857.45,788.2 L855.5,788.81 L853.39,789.27 L851.28,789.62 L849.33,789.88 L847.68,790.08 L846.49,790.26 L844.8,790.26 Z" fill="#8fbbd9" stroke="#1f77b4" stroke-opacity="0.6" stroke-width="0.9"/>
<path d="M846.49,777.23 L847.38,777.68 L848.62,778.35 L850.08,779.12 L851.66,779.85 L853.25,780.41 L854.71,780.66 L856.08,780.64 L857.45,780.46 L858.82,780.1 L860.2,779.57 L861.57,778.84 L862.94,777.92 L864.32,776.76 L865.73,775.38 L867.14,773.8 L868.52,772.08 L869.87,770.24 L871.16,768.32 L872.4,766.24 L873.6,763.95 L874.76,761.55 L875.89,759.13 L876.97,756.78 L878.02,754.61 L878.98,752.59 L879.85,750.65 L880.68,748.78 L881.52,746.99 L882.45,745.28 L883.5,743.64 L884.73,742 L886.09,740.34 L887.53,738.76 L888.99,737.34 L890.41,736.2 L891.73,735.41 L892.94,735.17 L894.07,735.44 L895.16,735.97 L896.25,736.53 L897.38,736.88 L898.58,736.78 L899.88,736.09 L901.23,734.96 L902.61,733.61 L904.02,732.29 L905.42,731.21 L906.81,730.61 L908.18,730.63 L909.55,731.1 L910.92,731.81 L912.29,732.57 L913.67,733.15 L915.04,733.36 L916.44,733.09 L917.88,732.49 L919.32,731.73 L920.72,730.94 L922.05,730.29 L923.26,729.93 L924.3,729.85 L925.19,729.93 L926.01,730.14 L926.82,730.46 L927.71,730.86 L928.75,731.3 L929.96,731.86 L931.29,732.57 L932.69,733.36 L934.13,734.14 L935.57,734.85 L936.97,735.41 L938.34,735.78 L939.72,736 L941.09,736.14 L942.46,736.28 L943.83,736.47 L945.2,736.78 L946.57,737.28 L947.94,737.93 L949.31,738.63 L950.68,739.3 L952.05,739.86 L953.43,740.21 L954.83,740.33 L956.27,740.26 L957.71,740.08 L959.11,739.86 L960.44,739.65 L961.65,739.53 L962.69,739.53 L963.58,739.63 L964.39,739.74 L965.21,739.81 L966.1,739.76 L967.14,739.53 L968.35,739.06 L969.67,738.38 L971.08,737.6 L972.52,736.78 L973.96,736.03 L975.36,735.41 L976.73,734.98 L978.1,734.65 L979.48,734.38 L980.85,734.12 L982.22,733.79 L983.59,733.36 L985.05,732.74 L986.64,731.99 L988.22,731.17 L989.68,730.39 L990.92,729.71 L991.81,729.24" fill="none" stroke="#1f77b4" stroke-width="2.0"/>
<path d="M844.35,777.23a1.45,1.45 0 1,0 2.9,0a1.45,1.45 0 1,0 -2.9,0M846.75,778.12a1.45,1.45 0 1,0 2.9,0a1.45,1.45 0 1,0 -2.9,0M849.16,779.36a1.45,1.45 0 1,0 2.9,0a1.45,1.45 0 1,0 -2.9,0M851.56,780.32a1.45,1.45 0 1,0 2.9,0a1.45,1.45 0 1,0 -2.9,0M853.97,780.65a1.45,1.45 0 1,0 2.9,0a1.45,1.45 0 1,0 -2.9,0M856.37,780.36a1.45,1.45 0 1,0 2.9,0a1.45,1.45 0 1,0 -2.9,0M858.78,779.55a1.45,1.45 0 1,0 2.9,0a1.45,1.45 0 1,0 -2.9,0M861.18,778.12a1.45,1.45 0 1,0 2.9,0a1.45,1.45 0 1,0 -2.9,0M863.59,776.06a1.45,1.45 0 1,0 2.9,0a1.45,1.45 0 1,0 -2.9,0M865.99,773.42a1.45,1.45 0 1,0 2.9,0a1.45,1.45 0 1,0 -2.9,0M868.4,770.27a1.45,1.45 0 1,0 2.9,0a1.45,1.45 0 1,0 -2.9,0M870.8,766.49a1.45,1.45 0 1,0 2.9,0a1.45,1.45 0 1,0 -2.9,0M873.21,761.77a1.45,1.45 0 1,0 2.9,0a1.45,1.45 0 1,0 -2.9,0M875.61,756.59a1.45,1.45 0 1,0 2.9,0a1.45,1.45 0 1,0 -2.9,0M878.02,751.5a1.45,1.45 0 1,0 2.9,0a1.45,1.45 0 1,0 -2.9,0M880.42,746.34a1.45,1.45 0 1,0 2.9,0a1.45,1.45 0 1,0 -2.9,0M882.83,742.6a1.45,1.45 0 1,0 2.9,0a1.45,1.45 0 1,0 -2.9,0M885.23,739.69a1.45,1.45 0 1,0 2.9,0a1.45,1.45 0 1,0 -2.9,0M887.64,737.26a1.45,1.45 0 1,0 2.9,0a1.45,1.45 0 1,0 -2.9,0M890.04,735.55a1.45,1.45 0 1,0 2.9,0a1.45,1.45 0 1,0 -2.9,0M892.45,735.4a1.45,1.45 0 1,0 2.9,0a1.45,1.45 0 1,0 -2.9,0M894.85,736.55a1.45,1.45 0 1,0 2.9,0a1.45,1.45 0 1,0 -2.9,0M897.26,736.72a1.45,1.45 0 1,0 2.9,0a1.45,1.45 0 1,0 -2.9,0M899.66,735.05a1.45,1.45 0 1,0 2.9,0a1.45,1.45 0 1,0 -2.9,0M902.07,732.76a1.45,1.45 0 1,0 2.9,0a1.45,1.45 0 1,0 -2.9,0M904.47,731a1.45,1.45 0 1,0 2.9,0a1.45,1.45 0 1,0 -2.9,0M906.88,730.68a1.45,1.45 0 1,0 2.9,0a1.45,1.45 0 1,0 -2.9,0M909.28,731.71a1.45,1.45 0 1,0 2.9,0a1.45,1.45 0 1,0 -2.9,0M911.69,732.93a1.45,1.45 0 1,0 2.9,0a1.45,1.45 0 1,0 -2.9,0M914.09,733.26a1.45,1.45 0 1,0 2.9,0a1.45,1.45 0 1,0 -2.9,0M916.5,732.46a1.45,1.45 0 1,0 2.9,0a1.45,1.45 0 1,0 -2.9,0M918.9,731.15a1.45,1.45 0 1,0 2.9,0a1.45,1.45 0 1,0 -2.9,0M921.31,730.08a1.45,1.45 0 1,0 2.9,0a1.45,1.45 0 1,0 -2.9,0M923.71,729.93a1.45,1.45 0 1,0 2.9,0a1.45,1.45 0 1,0 -2.9,0M926.12,730.8a1.45,1.45 0 1,0 2.9,0a1.45,1.45 0 1,0 -2.9,0M928.52,731.87a1.45,1.45 0 1,0 2.9,0a1.45,1.45 0 1,0 -2.9,0M930.93,733.18a1.45,1.45 0 1,0 2.9,0a1.45,1.45 0 1,0 -2.9,0M933.33,734.47a1.45,1.45 0 1,0 2.9,0a1.45,1.45 0 1,0 -2.9,0M935.74,735.47a1.45,1.45 0 1,0 2.9,0a1.45,1.45 0 1,0 -2.9,0M938.14,735.98a1.45,1.45 0 1,0 2.9,0a1.45,1.45 0 1,0 -2.9,0M940.55,736.23a1.45,1.45 0 1,0 2.9,0a1.45,1.45 0 1,0 -2.9,0M942.95,736.6a1.45,1.45 0 1,0 2.9,0a1.45,1.45 0 1,0 -2.9,0M945.36,737.39a1.45,1.45 0 1,0 2.9,0a1.45,1.45 0 1,0 -2.9,0M947.76,738.58a1.45,1.45 0 1,0 2.9,0a1.45,1.45 0 1,0 -2.9,0M950.17,739.68a1.45,1.45 0 1,0 2.9,0a1.45,1.45 0 1,0 -2.9,0M952.57,740.26a1.45,1.45 0 1,0 2.9,0a1.45,1.45 0 1,0 -2.9,0M954.98,740.24a1.45,1.45 0 1,0 2.9,0a1.45,1.45 0 1,0 -2.9,0M957.38,739.9a1.45,1.45 0 1,0 2.9,0a1.45,1.45 0 1,0 -2.9,0M959.79,739.57a1.45,1.45 0 1,0 2.9,0a1.45,1.45 0 1,0 -2.9,0M962.19,739.64a1.45,1.45 0 1,0 2.9,0a1.45,1.45 0 1,0 -2.9,0M964.6,739.76a1.45,1.45 0 1,0 2.9,0a1.45,1.45 0 1,0 -2.9,0M967,739a1.45,1.45 0 1,0 2.9,0a1.45,1.45 0 1,0 -2.9,0M969.41,737.72a1.45,1.45 0 1,0 2.9,0a1.45,1.45 0 1,0 -2.9,0M971.81,736.39a1.45,1.45 0 1,0 2.9,0a1.45,1.45 0 1,0 -2.9,0M974.22,735.32a1.45,1.45 0 1,0 2.9,0a1.45,1.45 0 1,0 -2.9,0M976.62,734.66a1.45,1.45 0 1,0 2.9,0a1.45,1.45 0 1,0 -2.9,0M979.03,734.19a1.45,1.45 0 1,0 2.9,0a1.45,1.45 0 1,0 -2.9,0M981.43,733.58a1.45,1.45 0 1,0 2.9,0a1.45,1.45 0 1,0 -2.9,0M983.84,732.63a1.45,1.45 0 1,0 2.9,0a1.45,1.45 0 1,0 -2.9,0M986.24,731.44a1.45,1.45 0 1,0 2.9,0a1.45,1.45 0 1,0 -2.9,0M988.65,730.16a1.45,1.45 0 1,0 2.9,0a1.45,1.45 0 1,0 -2.9,0M991.05,729.24a1.45,1.45 0 1,0 2.9,0a1.45,1.45 0 1,0 -2.9,0" fill="#1f77b4"/>
</g>
<g clip-path="url(#d5)">
<path d="M846.49,792.31 L862.94,790.26 L871.16,784.77 L876.65,777.92 L882.13,768.32 L886.25,757.35 L890.36,743.64 L894.47,729.93 L898.58,718.96 L902.7,710.73 L904.75,715.53 L906.81,707.99 L912.29,705.25 L919.15,709.36 L923.26,706.62 L926.01,714.16 L928.75,714.85 L931.49,718.27 L933.55,714.16 L935.6,720.33 L939.72,724.44 L942.46,721.02 L945.2,726.5 L947.26,718.96 L950.68,729.93 L953.43,731.99 L956.17,732.67 L958.91,736.1 L961.65,738.16 L964.39,747.75 L968.51,742.95 L971.25,747.75 L973.99,743.64 L976.73,745.01 L980.85,738.84 L983.59,747.75 L987.7,745.01 L990.44,750.5 L991.81,749.81" fill="none" stroke="#ff7f0e" stroke-width="1.9" stroke-linejoin="round"/>
<path d="M844.35,792.31a1.45,1.45 0 1,0 2.9,0a1.45,1.45 0 1,0 -2.9,0M846.75,792.1a1.45,1.45 0 1,0 2.9,0a1.45,1.45 0 1,0 -2.9,0M849.16,791.8a1.45,1.45 0 1,0 2.9,0a1.45,1.45 0 1,0 -2.9,0M851.56,791.5a1.45,1.45 0 1,0 2.9,0a1.45,1.45 0 1,0 -2.9,0M853.97,791.2a1.45,1.45 0 1,0 2.9,0a1.45,1.45 0 1,0 -2.9,0M856.37,790.9a1.45,1.45 0 1,0 2.9,0a1.45,1.45 0 1,0 -2.9,0M858.78,790.6a1.45,1.45 0 1,0 2.9,0a1.45,1.45 0 1,0 -2.9,0M861.18,790.3a1.45,1.45 0 1,0 2.9,0a1.45,1.45 0 1,0 -2.9,0M863.59,788.86a1.45,1.45 0 1,0 2.9,0a1.45,1.45 0 1,0 -2.9,0M865.99,787.25a1.45,1.45 0 1,0 2.9,0a1.45,1.45 0 1,0 -2.9,0M868.4,785.65a1.45,1.45 0 1,0 2.9,0a1.45,1.45 0 1,0 -2.9,0M870.8,783.41a1.45,1.45 0 1,0 2.9,0a1.45,1.45 0 1,0 -2.9,0M873.21,780.4a1.45,1.45 0 1,0 2.9,0a1.45,1.45 0 1,0 -2.9,0M875.61,777.19a1.45,1.45 0 1,0 2.9,0a1.45,1.45 0 1,0 -2.9,0M878.02,772.98a1.45,1.45 0 1,0 2.9,0a1.45,1.45 0 1,0 -2.9,0M880.42,768.77a1.45,1.45 0 1,0 2.9,0a1.45,1.45 0 1,0 -2.9,0M882.83,762.6a1.45,1.45 0 1,0 2.9,0a1.45,1.45 0 1,0 -2.9,0M885.23,755.89a1.45,1.45 0 1,0 2.9,0a1.45,1.45 0 1,0 -2.9,0M887.64,747.87a1.45,1.45 0 1,0 2.9,0a1.45,1.45 0 1,0 -2.9,0M890.04,739.86a1.45,1.45 0 1,0 2.9,0a1.45,1.45 0 1,0 -2.9,0M892.45,731.84a1.45,1.45 0 1,0 2.9,0a1.45,1.45 0 1,0 -2.9,0M894.85,725.04a1.45,1.45 0 1,0 2.9,0a1.45,1.45 0 1,0 -2.9,0M897.26,718.71a1.45,1.45 0 1,0 2.9,0a1.45,1.45 0 1,0 -2.9,0M899.66,713.9a1.45,1.45 0 1,0 2.9,0a1.45,1.45 0 1,0 -2.9,0M902.07,712.65a1.45,1.45 0 1,0 2.9,0a1.45,1.45 0 1,0 -2.9,0M904.47,711.25a1.45,1.45 0 1,0 2.9,0a1.45,1.45 0 1,0 -2.9,0M906.88,707.23a1.45,1.45 0 1,0 2.9,0a1.45,1.45 0 1,0 -2.9,0M909.28,706.03a1.45,1.45 0 1,0 2.9,0a1.45,1.45 0 1,0 -2.9,0M911.69,705.75a1.45,1.45 0 1,0 2.9,0a1.45,1.45 0 1,0 -2.9,0M914.09,707.2a1.45,1.45 0 1,0 2.9,0a1.45,1.45 0 1,0 -2.9,0M916.5,708.64a1.45,1.45 0 1,0 2.9,0a1.45,1.45 0 1,0 -2.9,0M918.9,708.56a1.45,1.45 0 1,0 2.9,0a1.45,1.45 0 1,0 -2.9,0M921.31,706.96a1.45,1.45 0 1,0 2.9,0a1.45,1.45 0 1,0 -2.9,0M923.71,711.84a1.45,1.45 0 1,0 2.9,0a1.45,1.45 0 1,0 -2.9,0M926.12,714.55a1.45,1.45 0 1,0 2.9,0a1.45,1.45 0 1,0 -2.9,0M928.52,716.38a1.45,1.45 0 1,0 2.9,0a1.45,1.45 0 1,0 -2.9,0M930.93,716.5a1.45,1.45 0 1,0 2.9,0a1.45,1.45 0 1,0 -2.9,0M933.33,717.87a1.45,1.45 0 1,0 2.9,0a1.45,1.45 0 1,0 -2.9,0M935.74,721.92a1.45,1.45 0 1,0 2.9,0a1.45,1.45 0 1,0 -2.9,0M938.14,724.32a1.45,1.45 0 1,0 2.9,0a1.45,1.45 0 1,0 -2.9,0M940.55,721.59a1.45,1.45 0 1,0 2.9,0a1.45,1.45 0 1,0 -2.9,0M942.95,724.91a1.45,1.45 0 1,0 2.9,0a1.45,1.45 0 1,0 -2.9,0M945.36,720.61a1.45,1.45 0 1,0 2.9,0a1.45,1.45 0 1,0 -2.9,0M947.76,725.22a1.45,1.45 0 1,0 2.9,0a1.45,1.45 0 1,0 -2.9,0M950.17,730.63a1.45,1.45 0 1,0 2.9,0a1.45,1.45 0 1,0 -2.9,0M952.57,732.13a1.45,1.45 0 1,0 2.9,0a1.45,1.45 0 1,0 -2.9,0M954.98,732.99a1.45,1.45 0 1,0 2.9,0a1.45,1.45 0 1,0 -2.9,0M957.38,736a1.45,1.45 0 1,0 2.9,0a1.45,1.45 0 1,0 -2.9,0M959.79,737.84a1.45,1.45 0 1,0 2.9,0a1.45,1.45 0 1,0 -2.9,0M962.19,745.12a1.45,1.45 0 1,0 2.9,0a1.45,1.45 0 1,0 -2.9,0M964.6,745.83a1.45,1.45 0 1,0 2.9,0a1.45,1.45 0 1,0 -2.9,0M967,743.02a1.45,1.45 0 1,0 2.9,0a1.45,1.45 0 1,0 -2.9,0M969.41,747.06a1.45,1.45 0 1,0 2.9,0a1.45,1.45 0 1,0 -2.9,0M971.81,744.74a1.45,1.45 0 1,0 2.9,0a1.45,1.45 0 1,0 -2.9,0M974.22,744.48a1.45,1.45 0 1,0 2.9,0a1.45,1.45 0 1,0 -2.9,0M976.62,743.01a1.45,1.45 0 1,0 2.9,0a1.45,1.45 0 1,0 -2.9,0M979.03,739.4a1.45,1.45 0 1,0 2.9,0a1.45,1.45 0 1,0 -2.9,0M981.43,745.45a1.45,1.45 0 1,0 2.9,0a1.45,1.45 0 1,0 -2.9,0M983.84,746.62a1.45,1.45 0 1,0 2.9,0a1.45,1.45 0 1,0 -2.9,0M986.24,745.02a1.45,1.45 0 1,0 2.9,0a1.45,1.45 0 1,0 -2.9,0M988.65,749.8a1.45,1.45 0 1,0 2.9,0a1.45,1.45 0 1,0 -2.9,0M991.05,749.81a1.45,1.45 0 1,0 2.9,0a1.45,1.45 0 1,0 -2.9,0" fill="#ff7f0e"/>
</g>
<path d="M938.5,667.7L942.3,671.5M938.5,671.5L942.3,667.7M907.65,687.58L911.45,691.38M907.65,691.38L911.45,687.58M912.45,686.9L916.25,690.7M912.45,690.7L916.25,686.9M952.62,687.58L956.42,691.38M952.62,691.38L956.42,687.58M902.85,696.22L906.65,700.02M902.85,700.02L906.65,696.22M904.91,697.18L908.71,700.98M904.91,700.98L908.71,697.18M914.51,700.88L918.31,704.68M914.51,704.68L918.31,700.88M922.05,699.51L925.85,703.31M922.05,703.31L925.85,699.51M924.79,699.92L928.59,703.72M924.79,703.72L928.59,699.92M929.18,700.33L932.98,704.13M929.18,704.13L932.98,700.33M919.99,704.72L923.79,708.52M919.99,708.52L923.79,704.72M893.26,711.3L897.06,715.1M893.26,715.1L897.06,711.3M898.06,712.95L901.86,716.75M898.06,716.75L901.86,712.95M971.82,713.22L975.62,717.02M971.82,717.02L975.62,713.22M978.95,716.65L982.75,720.45M978.95,720.45L982.75,716.65M890.93,722.96L894.73,726.76M890.93,726.76L894.73,722.96M900.8,727.62L904.6,731.42M900.8,731.42L904.6,727.62M917.25,720.9L921.05,724.7M917.25,724.7L921.05,720.9M926.44,719.25L930.24,723.05M926.44,723.05L930.24,719.25M933.7,720.9L937.5,724.7M933.7,724.7L937.5,720.9M948.1,718.84L951.9,722.64M948.1,722.64L951.9,718.84M955.36,719.8L959.16,723.6M955.36,723.6L959.16,719.8M959.75,725.56L963.55,729.36M959.75,729.36L963.55,725.56M943.3,729.13L947.1,732.93M943.3,732.93L947.1,729.13M945.36,725.97L949.16,729.77M945.36,729.77L949.16,725.97M909.71,735.98L913.51,739.78M909.71,739.78L913.51,735.98M896,734.47L899.8,738.27M896,738.27L899.8,734.47M889.14,736.94L892.94,740.74M889.14,740.74L892.94,736.94M936.03,737.35L939.83,741.15M936.03,741.15L939.83,737.35M940.56,736.26L944.36,740.06M940.56,740.06L944.36,736.26M931.37,742.43L935.17,746.23M931.37,746.23L935.17,742.43M964.55,734.88L968.35,738.68M964.55,738.68L968.35,734.88M974.15,739L977.95,742.8M974.15,742.8L977.95,739M986.08,732.83L989.88,736.63M986.08,736.63L989.88,732.83M962.49,745.17L966.29,748.97M962.49,748.97L966.29,745.17M981,749.28L984.8,753.08M981,753.08L984.8,749.28M983.74,752.02L987.54,755.82M983.74,755.82L987.54,752.02M950.43,759.84L954.23,763.64M950.43,763.64L954.23,759.84M969.35,759.56L973.15,763.36M969.35,763.36L973.15,759.56M976.62,758.88L980.42,762.68M976.62,762.68L980.42,758.88M957.28,770.53L961.08,774.33M957.28,774.33L961.08,770.53M966.88,767.79L970.68,771.59M966.88,771.59L970.68,767.79M987.86,776.02L991.66,779.82M987.86,779.82L991.66,776.02M885.72,753.39L889.52,757.19M885.72,757.19L889.52,753.39M883.66,757.51L887.46,761.31M883.66,761.31L887.46,757.51M881.6,771.22L885.4,775.02M881.6,775.02L885.4,771.22M878.86,776.02L882.66,779.82M878.86,779.82L882.66,776.02M875.43,778.76L879.23,782.56M875.43,782.56L879.23,778.76M869.26,783.56L873.06,787.36M869.26,787.36L873.06,783.56M866.52,784.24L870.32,788.04M866.52,788.04L870.32,784.24M861.04,786.99L864.84,790.79M861.04,790.79L864.84,786.99" stroke="#7f7f7f" stroke-width="1.8" fill="none"/>
<rect x="845.8" y="669.6" width="146.7" height="123.4" fill="none" stroke="#000" stroke-width="1.6"/>
<text x="919.15" y="664.6" font-size="17.6" text-anchor="middle" font-weight="normal" font-style="normal" >Miami</text>
<line x1="842.8" y1="674" x2="845.8" y2="674" stroke="#000" stroke-width="1.6"/>
<line x1="842.8" y1="793" x2="845.8" y2="793" stroke="#000" stroke-width="1.6"/>
<text x="838.8" y="680.4" font-size="17.8" text-anchor="end" font-weight="normal" font-style="normal" >0.9</text>
<text x="838.8" y="799.4" font-size="17.8" text-anchor="end" font-weight="normal" font-style="normal" >0</text>
<clipPath id="d6"><rect x="1037" y="669.6" width="147.2" height="123.4"/></clipPath>
<g clip-path="url(#d6)">
<path d="M1037.27,790.26 L1038.5,790.17 L1040.22,790.11 L1042.25,790 L1044.39,789.8 L1046.46,789.45 L1048.26,788.89 L1049.81,788.11 L1051.26,787.16 L1052.64,786.06 L1053.96,784.82 L1055.24,783.48 L1056.5,782.03 L1057.74,780.47 L1058.94,778.78 L1060.1,776.98 L1061.23,775.07 L1062.32,773.1 L1063.36,771.06 L1064.36,768.97 L1065.3,766.8 L1066.2,764.55 L1067.08,762.23 L1067.96,759.83 L1068.86,757.35 L1069.77,754.77 L1070.69,752.07 L1071.6,749.3 L1072.52,746.48 L1073.43,743.67 L1074.35,740.9 L1075.25,738.11 L1076.13,735.26 L1077.01,732.41 L1077.91,729.62 L1078.85,726.95 L1079.84,724.44 L1080.94,722.03 L1082.13,719.65 L1083.36,717.37 L1084.57,715.3 L1085.71,713.52 L1086.71,712.1 L1087.54,711.25 L1088.23,710.91 L1088.85,710.86 L1089.45,710.86 L1090.09,710.67 L1090.83,710.05 L1091.66,708.91 L1092.56,707.43 L1093.49,705.76 L1094.44,704.06 L1095.39,702.46 L1096.32,701.14 L1097.22,700.03 L1098.1,699.03 L1098.98,698.14 L1099.88,697.38 L1100.82,696.77 L1101.81,696.34 L1102.89,696.1 L1104.05,696.06 L1105.24,696.17 L1106.44,696.39 L1107.6,696.69 L1108.68,697.02 L1109.67,697.4 L1110.61,697.86 L1111.51,698.39 L1112.39,699 L1113.27,699.69 L1114.17,700.45 L1115.09,701.34 L1116,702.35 L1116.92,703.45 L1117.83,704.56 L1118.75,705.64 L1119.66,706.62 L1120.55,707.48 L1121.39,708.25 L1122.24,708.98 L1123.12,709.72 L1124.08,710.52 L1125.16,711.42 L1126.39,712.47 L1127.75,713.63 L1129.19,714.85 L1130.65,716.07 L1132.07,717.23 L1133.39,718.27 L1134.63,719.17 L1135.84,719.95 L1137,720.67 L1138.12,721.4 L1139.21,722.18 L1140.26,723.07 L1141.21,724.14 L1142.04,725.33 L1142.83,726.59 L1143.67,727.82 L1144.61,728.96 L1145.75,729.93 L1147.13,730.74 L1148.7,731.45 L1150.39,732.07 L1152.11,732.59 L1153.79,733.02 L1155.36,733.36 L1156.8,733.53 L1158.16,733.53 L1159.48,733.44 L1160.81,733.33 L1162.17,733.28 L1163.6,733.36 L1165.13,733.6 L1166.71,733.94 L1168.32,734.34 L1169.96,734.75 L1171.6,735.13 L1173.21,735.41 L1174.93,735.61 L1176.77,735.77 L1178.62,735.88 L1180.33,735.97 L1181.78,736.04 L1182.83,736.1 L1185.2,736.1 L1185.2,760.09 L1182.83,760.09 L1182.26,760.03 L1181.5,759.97 L1180.6,759.88 L1179.57,759.76 L1178.47,759.61 L1177.33,759.41 L1176.12,759.14 L1174.79,758.82 L1173.39,758.47 L1171.94,758.09 L1170.5,757.71 L1169.1,757.35 L1167.72,757.01 L1166.35,756.67 L1164.98,756.32 L1163.6,755.98 L1162.23,755.64 L1160.86,755.29 L1159.48,754.97 L1158.11,754.66 L1156.74,754.35 L1155.36,754.02 L1153.99,753.66 L1152.62,753.24 L1151.24,752.81 L1149.87,752.4 L1148.5,751.95 L1147.13,751.41 L1145.75,750.71 L1144.38,749.81 L1143.01,748.63 L1141.63,747.22 L1140.26,745.65 L1138.89,744.02 L1137.51,742.41 L1136.14,740.9 L1134.77,739.49 L1133.39,738.1 L1132.02,736.74 L1130.65,735.39 L1129.27,734.03 L1127.9,732.67 L1126.5,731.27 L1125.05,729.83 L1123.61,728.39 L1122.21,726.98 L1120.88,725.66 L1119.66,724.44 L1118.59,723.31 L1117.63,722.21 L1116.74,721.19 L1115.9,720.28 L1115.05,719.52 L1114.17,718.96 L1113.25,718.66 L1112.34,718.6 L1111.42,718.7 L1110.51,718.86 L1109.59,718.98 L1108.68,718.96 L1107.76,718.72 L1106.85,718.3 L1105.93,717.85 L1105.02,717.49 L1104.1,717.36 L1103.19,717.59 L1102.27,718.21 L1101.35,719.11 L1100.44,720.25 L1099.52,721.55 L1098.61,722.97 L1097.69,724.44 L1096.78,726.1 L1095.86,728 L1094.95,730.01 L1094.03,732.01 L1093.12,733.85 L1092.2,735.41 L1091.3,736.61 L1090.42,737.55 L1089.54,738.33 L1088.64,739.07 L1087.7,739.89 L1086.71,740.9 L1085.63,742.08 L1084.47,743.34 L1083.27,744.67 L1082.08,746.08 L1080.92,747.56 L1079.84,749.12 L1078.85,750.78 L1077.91,752.53 L1077.01,754.35 L1076.13,756.23 L1075.25,758.15 L1074.35,760.09 L1073.45,762.07 L1072.57,764.11 L1071.69,766.18 L1070.79,768.27 L1069.85,770.36 L1068.86,772.43 L1067.82,774.55 L1066.77,776.75 L1065.68,778.95 L1064.53,781.07 L1063.31,783.03 L1061.99,784.77 L1060.61,786.3 L1059.19,787.69 L1057.7,788.93 L1056.09,790 L1054.33,790.91 L1052.38,791.63 L1050,792.11 L1047.19,792.34 L1044.23,792.4 L1041.39,792.37 L1038.98,792.31 L1037.27,792.31 Z" fill="#8fbbd9" stroke="#1f77b4" stroke-opacity="0.6" stroke-width="0.9"/>
<path d="M1037.27,791.63 L1038.5,791.6 L1040.22,791.6 L1042.25,791.59 L1044.39,791.5 L1046.46,791.3 L1048.26,790.94 L1049.82,790.42 L1051.31,789.78 L1052.72,789.02 L1054.06,788.15 L1055.32,787.19 L1056.5,786.14 L1057.57,785.02 L1058.53,783.81 L1059.42,782.5 L1060.26,781.09 L1061.11,779.57 L1061.99,777.92 L1062.91,776.12 L1063.82,774.16 L1064.74,772.09 L1065.65,769.95 L1066.57,767.76 L1067.48,765.58 L1068.4,763.34 L1069.31,761.01 L1070.23,758.64 L1071.15,756.28 L1072.06,754.01 L1072.98,751.87 L1073.89,749.88 L1074.81,748.01 L1075.72,746.21 L1076.64,744.45 L1077.55,742.69 L1078.47,740.9 L1079.38,739.02 L1080.3,737.09 L1081.21,735.16 L1082.13,733.28 L1083.05,731.52 L1083.96,729.93 L1084.88,728.55 L1085.79,727.34 L1086.71,726.24 L1087.62,725.21 L1088.54,724.17 L1089.45,723.07 L1090.37,721.95 L1091.28,720.84 L1092.2,719.73 L1093.12,718.6 L1094.03,717.44 L1094.95,716.22 L1095.86,714.79 L1096.78,713.15 L1097.69,711.46 L1098.61,709.92 L1099.52,708.7 L1100.44,707.99 L1101.32,707.96 L1102.17,708.5 L1103.01,709.36 L1103.9,710.3 L1104.86,711.07 L1105.93,711.42 L1107.18,711.22 L1108.58,710.66 L1110.05,709.92 L1111.53,709.21 L1112.92,708.73 L1114.17,708.68 L1115.21,709.11 L1116.1,709.87 L1116.92,710.86 L1117.73,711.98 L1118.62,713.11 L1119.66,714.16 L1120.88,715.16 L1122.21,716.19 L1123.61,717.25 L1125.05,718.3 L1126.5,719.33 L1127.9,720.33 L1129.31,721.25 L1130.75,722.11 L1132.19,722.94 L1133.6,723.81 L1134.93,724.75 L1136.14,725.82 L1137.18,727.08 L1138.07,728.51 L1138.89,730.01 L1139.7,731.5 L1140.59,732.88 L1141.63,734.04 L1142.85,734.96 L1144.18,735.69 L1145.58,736.31 L1147.02,736.89 L1148.47,737.48 L1149.87,738.16 L1151.24,738.96 L1152.62,739.86 L1153.99,740.77 L1155.36,741.63 L1156.74,742.38 L1158.11,742.95 L1159.48,743.28 L1160.86,743.41 L1162.23,743.43 L1163.6,743.41 L1164.98,743.45 L1166.35,743.64 L1167.72,744 L1169.1,744.48 L1170.47,745.01 L1171.84,745.54 L1173.21,746.02 L1174.59,746.38 L1176.06,746.62 L1177.64,746.79 L1179.22,746.9 L1180.69,746.97 L1181.93,747.02 L1182.83,747.07" fill="none" stroke="#1f77b4" stroke-width="2.0"/>
<path d="M1035.55,791.63a1.45,1.45 0 1,0 2.9,0a1.45,1.45 0 1,0 -2.9,0M1037.96,791.6a1.45,1.45 0 1,0 2.9,0a1.45,1.45 0 1,0 -2.9,0M1040.38,791.59a1.45,1.45 0 1,0 2.9,0a1.45,1.45 0 1,0 -2.9,0M1042.79,791.51a1.45,1.45 0 1,0 2.9,0a1.45,1.45 0 1,0 -2.9,0M1045.2,791.27a1.45,1.45 0 1,0 2.9,0a1.45,1.45 0 1,0 -2.9,0M1047.62,790.67a1.45,1.45 0 1,0 2.9,0a1.45,1.45 0 1,0 -2.9,0M1050.03,789.69a1.45,1.45 0 1,0 2.9,0a1.45,1.45 0 1,0 -2.9,0M1052.44,788.26a1.45,1.45 0 1,0 2.9,0a1.45,1.45 0 1,0 -2.9,0M1054.85,786.32a1.45,1.45 0 1,0 2.9,0a1.45,1.45 0 1,0 -2.9,0M1057.27,783.53a1.45,1.45 0 1,0 2.9,0a1.45,1.45 0 1,0 -2.9,0M1059.68,779.52a1.45,1.45 0 1,0 2.9,0a1.45,1.45 0 1,0 -2.9,0M1062.09,774.75a1.45,1.45 0 1,0 2.9,0a1.45,1.45 0 1,0 -2.9,0M1064.51,769.22a1.45,1.45 0 1,0 2.9,0a1.45,1.45 0 1,0 -2.9,0M1066.92,763.41a1.45,1.45 0 1,0 2.9,0a1.45,1.45 0 1,0 -2.9,0M1069.33,757.21a1.45,1.45 0 1,0 2.9,0a1.45,1.45 0 1,0 -2.9,0M1071.75,751.39a1.45,1.45 0 1,0 2.9,0a1.45,1.45 0 1,0 -2.9,0M1074.16,746.43a1.45,1.45 0 1,0 2.9,0a1.45,1.45 0 1,0 -2.9,0M1076.57,741.77a1.45,1.45 0 1,0 2.9,0a1.45,1.45 0 1,0 -2.9,0M1078.99,736.8a1.45,1.45 0 1,0 2.9,0a1.45,1.45 0 1,0 -2.9,0M1081.4,731.9a1.45,1.45 0 1,0 2.9,0a1.45,1.45 0 1,0 -2.9,0M1083.81,728.04a1.45,1.45 0 1,0 2.9,0a1.45,1.45 0 1,0 -2.9,0M1086.23,725.15a1.45,1.45 0 1,0 2.9,0a1.45,1.45 0 1,0 -2.9,0M1088.64,722.29a1.45,1.45 0 1,0 2.9,0a1.45,1.45 0 1,0 -2.9,0M1091.05,719.36a1.45,1.45 0 1,0 2.9,0a1.45,1.45 0 1,0 -2.9,0M1093.46,716.26a1.45,1.45 0 1,0 2.9,0a1.45,1.45 0 1,0 -2.9,0M1095.88,712.13a1.45,1.45 0 1,0 2.9,0a1.45,1.45 0 1,0 -2.9,0M1098.29,708.53a1.45,1.45 0 1,0 2.9,0a1.45,1.45 0 1,0 -2.9,0M1100.7,708.49a1.45,1.45 0 1,0 2.9,0a1.45,1.45 0 1,0 -2.9,0M1103.12,710.84a1.45,1.45 0 1,0 2.9,0a1.45,1.45 0 1,0 -2.9,0M1105.53,711.25a1.45,1.45 0 1,0 2.9,0a1.45,1.45 0 1,0 -2.9,0M1107.94,710.25a1.45,1.45 0 1,0 2.9,0a1.45,1.45 0 1,0 -2.9,0M1110.36,709.11a1.45,1.45 0 1,0 2.9,0a1.45,1.45 0 1,0 -2.9,0M1112.77,708.7a1.45,1.45 0 1,0 2.9,0a1.45,1.45 0 1,0 -2.9,0M1115.18,710.52a1.45,1.45 0 1,0 2.9,0a1.45,1.45 0 1,0 -2.9,0M1117.6,713.54a1.45,1.45 0 1,0 2.9,0a1.45,1.45 0 1,0 -2.9,0M1120.01,715.61a1.45,1.45 0 1,0 2.9,0a1.45,1.45 0 1,0 -2.9,0M1122.42,717.44a1.45,1.45 0 1,0 2.9,0a1.45,1.45 0 1,0 -2.9,0M1124.84,719.18a1.45,1.45 0 1,0 2.9,0a1.45,1.45 0 1,0 -2.9,0M1127.25,720.85a1.45,1.45 0 1,0 2.9,0a1.45,1.45 0 1,0 -2.9,0M1129.66,722.32a1.45,1.45 0 1,0 2.9,0a1.45,1.45 0 1,0 -2.9,0M1132.07,723.76a1.45,1.45 0 1,0 2.9,0a1.45,1.45 0 1,0 -2.9,0M1134.49,725.64a1.45,1.45 0 1,0 2.9,0a1.45,1.45 0 1,0 -2.9,0M1136.9,729.02a1.45,1.45 0 1,0 2.9,0a1.45,1.45 0 1,0 -2.9,0M1139.31,733.07a1.45,1.45 0 1,0 2.9,0a1.45,1.45 0 1,0 -2.9,0M1141.73,735.14a1.45,1.45 0 1,0 2.9,0a1.45,1.45 0 1,0 -2.9,0M1144.14,736.32a1.45,1.45 0 1,0 2.9,0a1.45,1.45 0 1,0 -2.9,0M1146.55,737.29a1.45,1.45 0 1,0 2.9,0a1.45,1.45 0 1,0 -2.9,0M1148.97,738.48a1.45,1.45 0 1,0 2.9,0a1.45,1.45 0 1,0 -2.9,0M1151.38,740a1.45,1.45 0 1,0 2.9,0a1.45,1.45 0 1,0 -2.9,0M1153.79,741.56a1.45,1.45 0 1,0 2.9,0a1.45,1.45 0 1,0 -2.9,0M1156.21,742.77a1.45,1.45 0 1,0 2.9,0a1.45,1.45 0 1,0 -2.9,0M1158.62,743.34a1.45,1.45 0 1,0 2.9,0a1.45,1.45 0 1,0 -2.9,0M1161.03,743.42a1.45,1.45 0 1,0 2.9,0a1.45,1.45 0 1,0 -2.9,0M1163.45,743.45a1.45,1.45 0 1,0 2.9,0a1.45,1.45 0 1,0 -2.9,0M1165.86,743.89a1.45,1.45 0 1,0 2.9,0a1.45,1.45 0 1,0 -2.9,0M1168.27,744.72a1.45,1.45 0 1,0 2.9,0a1.45,1.45 0 1,0 -2.9,0M1170.68,745.65a1.45,1.45 0 1,0 2.9,0a1.45,1.45 0 1,0 -2.9,0M1173.1,746.37a1.45,1.45 0 1,0 2.9,0a1.45,1.45 0 1,0 -2.9,0M1175.51,746.72a1.45,1.45 0 1,0 2.9,0a1.45,1.45 0 1,0 -2.9,0M1177.92,746.9a1.45,1.45 0 1,0 2.9,0a1.45,1.45 0 1,0 -2.9,0M1180.34,747.01a1.45,1.45 0 1,0 2.9,0a1.45,1.45 0 1,0 -2.9,0M1182.75,747.07a1.45,1.45 0 1,0 2.9,0a1.45,1.45 0 1,0 -2.9,0" fill="#1f77b4"/>
</g>
<g clip-path="url(#d6)">
<path d="M1037.27,792.31 L1053.75,790.94 L1060.62,784.77 L1064.74,776.55 L1070.23,768.32 L1074.35,758.72 L1078.47,749.12 L1082.59,740.9 L1086.71,731.3 L1090.83,721.7 L1093.57,710.73 L1096.32,706.62 L1100.44,699.76 L1104.56,694.28 L1108.68,694.97 L1112.8,702.51 L1115.54,707.99 L1119.66,712.1 L1125.16,718.27 L1130.65,719.65 L1134.77,724.44 L1141.63,728.56 L1144.38,724.44 L1148.5,731.3 L1152.62,735.41 L1158.11,743.64 L1160.86,750.5 L1166.35,754.61 L1169.1,758.72 L1174.59,762.84 L1178.71,766.95 L1182.83,769.01" fill="none" stroke="#ff7f0e" stroke-width="1.9" stroke-linejoin="round"/>
<path d="M1035.55,792.31a1.45,1.45 0 1,0 2.9,0a1.45,1.45 0 1,0 -2.9,0M1037.96,792.14a1.45,1.45 0 1,0 2.9,0a1.45,1.45 0 1,0 -2.9,0M1040.38,791.94a1.45,1.45 0 1,0 2.9,0a1.45,1.45 0 1,0 -2.9,0M1042.79,791.73a1.45,1.45 0 1,0 2.9,0a1.45,1.45 0 1,0 -2.9,0M1045.2,791.53a1.45,1.45 0 1,0 2.9,0a1.45,1.45 0 1,0 -2.9,0M1047.62,791.33a1.45,1.45 0 1,0 2.9,0a1.45,1.45 0 1,0 -2.9,0M1050.03,791.13a1.45,1.45 0 1,0 2.9,0a1.45,1.45 0 1,0 -2.9,0M1052.44,790.82a1.45,1.45 0 1,0 2.9,0a1.45,1.45 0 1,0 -2.9,0M1054.85,788.65a1.45,1.45 0 1,0 2.9,0a1.45,1.45 0 1,0 -2.9,0M1057.27,786.48a1.45,1.45 0 1,0 2.9,0a1.45,1.45 0 1,0 -2.9,0M1059.68,783.75a1.45,1.45 0 1,0 2.9,0a1.45,1.45 0 1,0 -2.9,0M1062.09,778.93a1.45,1.45 0 1,0 2.9,0a1.45,1.45 0 1,0 -2.9,0M1064.51,774.72a1.45,1.45 0 1,0 2.9,0a1.45,1.45 0 1,0 -2.9,0M1066.92,771.1a1.45,1.45 0 1,0 2.9,0a1.45,1.45 0 1,0 -2.9,0M1069.33,767.03a1.45,1.45 0 1,0 2.9,0a1.45,1.45 0 1,0 -2.9,0M1071.75,761.41a1.45,1.45 0 1,0 2.9,0a1.45,1.45 0 1,0 -2.9,0M1074.16,755.79a1.45,1.45 0 1,0 2.9,0a1.45,1.45 0 1,0 -2.9,0M1076.57,750.16a1.45,1.45 0 1,0 2.9,0a1.45,1.45 0 1,0 -2.9,0M1078.99,745.2a1.45,1.45 0 1,0 2.9,0a1.45,1.45 0 1,0 -2.9,0M1081.4,740.29a1.45,1.45 0 1,0 2.9,0a1.45,1.45 0 1,0 -2.9,0M1083.81,734.67a1.45,1.45 0 1,0 2.9,0a1.45,1.45 0 1,0 -2.9,0M1086.23,729.04a1.45,1.45 0 1,0 2.9,0a1.45,1.45 0 1,0 -2.9,0M1088.64,723.42a1.45,1.45 0 1,0 2.9,0a1.45,1.45 0 1,0 -2.9,0M1091.05,715.01a1.45,1.45 0 1,0 2.9,0a1.45,1.45 0 1,0 -2.9,0M1093.46,708.72a1.45,1.45 0 1,0 2.9,0a1.45,1.45 0 1,0 -2.9,0M1095.88,704.94a1.45,1.45 0 1,0 2.9,0a1.45,1.45 0 1,0 -2.9,0M1098.29,700.93a1.45,1.45 0 1,0 2.9,0a1.45,1.45 0 1,0 -2.9,0M1100.7,697.48a1.45,1.45 0 1,0 2.9,0a1.45,1.45 0 1,0 -2.9,0M1103.12,694.28a1.45,1.45 0 1,0 2.9,0a1.45,1.45 0 1,0 -2.9,0M1105.53,694.68a1.45,1.45 0 1,0 2.9,0a1.45,1.45 0 1,0 -2.9,0M1107.94,696.28a1.45,1.45 0 1,0 2.9,0a1.45,1.45 0 1,0 -2.9,0M1110.36,700.69a1.45,1.45 0 1,0 2.9,0a1.45,1.45 0 1,0 -2.9,0M1112.77,705.35a1.45,1.45 0 1,0 2.9,0a1.45,1.45 0 1,0 -2.9,0M1115.18,709.08a1.45,1.45 0 1,0 2.9,0a1.45,1.45 0 1,0 -2.9,0M1117.6,711.49a1.45,1.45 0 1,0 2.9,0a1.45,1.45 0 1,0 -2.9,0M1120.01,714.12a1.45,1.45 0 1,0 2.9,0a1.45,1.45 0 1,0 -2.9,0M1122.42,716.83a1.45,1.45 0 1,0 2.9,0a1.45,1.45 0 1,0 -2.9,0M1124.84,718.56a1.45,1.45 0 1,0 2.9,0a1.45,1.45 0 1,0 -2.9,0M1127.25,719.16a1.45,1.45 0 1,0 2.9,0a1.45,1.45 0 1,0 -2.9,0M1129.66,720.19a1.45,1.45 0 1,0 2.9,0a1.45,1.45 0 1,0 -2.9,0M1132.07,723a1.45,1.45 0 1,0 2.9,0a1.45,1.45 0 1,0 -2.9,0M1134.49,725.15a1.45,1.45 0 1,0 2.9,0a1.45,1.45 0 1,0 -2.9,0M1136.9,726.59a1.45,1.45 0 1,0 2.9,0a1.45,1.45 0 1,0 -2.9,0M1139.31,728.04a1.45,1.45 0 1,0 2.9,0a1.45,1.45 0 1,0 -2.9,0M1141.73,726.24a1.45,1.45 0 1,0 2.9,0a1.45,1.45 0 1,0 -2.9,0M1144.14,726.46a1.45,1.45 0 1,0 2.9,0a1.45,1.45 0 1,0 -2.9,0M1146.55,730.48a1.45,1.45 0 1,0 2.9,0a1.45,1.45 0 1,0 -2.9,0M1148.97,733.22a1.45,1.45 0 1,0 2.9,0a1.45,1.45 0 1,0 -2.9,0M1151.38,735.73a1.45,1.45 0 1,0 2.9,0a1.45,1.45 0 1,0 -2.9,0M1153.79,739.34a1.45,1.45 0 1,0 2.9,0a1.45,1.45 0 1,0 -2.9,0M1156.21,742.96a1.45,1.45 0 1,0 2.9,0a1.45,1.45 0 1,0 -2.9,0M1158.62,748.53a1.45,1.45 0 1,0 2.9,0a1.45,1.45 0 1,0 -2.9,0M1161.03,751.71a1.45,1.45 0 1,0 2.9,0a1.45,1.45 0 1,0 -2.9,0M1163.45,753.52a1.45,1.45 0 1,0 2.9,0a1.45,1.45 0 1,0 -2.9,0M1165.86,756.05a1.45,1.45 0 1,0 2.9,0a1.45,1.45 0 1,0 -2.9,0M1168.27,759.19a1.45,1.45 0 1,0 2.9,0a1.45,1.45 0 1,0 -2.9,0M1170.68,761a1.45,1.45 0 1,0 2.9,0a1.45,1.45 0 1,0 -2.9,0M1173.1,762.81a1.45,1.45 0 1,0 2.9,0a1.45,1.45 0 1,0 -2.9,0M1175.51,765.2a1.45,1.45 0 1,0 2.9,0a1.45,1.45 0 1,0 -2.9,0M1177.92,767.28a1.45,1.45 0 1,0 2.9,0a1.45,1.45 0 1,0 -2.9,0M1180.34,768.49a1.45,1.45 0 1,0 2.9,0a1.45,1.45 0 1,0 -2.9,0M1182.75,769.01a1.45,1.45 0 1,0 2.9,0a1.45,1.45 0 1,0 -2.9,0" fill="#ff7f0e"/>
</g>
<path d="M1099.23,667.7L1103.03,671.5M1099.23,671.5L1103.03,667.7M1096.48,683.88L1100.28,687.68M1096.48,687.68L1100.28,683.88M1111.58,689.36L1115.38,693.16M1111.58,693.16L1115.38,689.36M1113.64,688.54L1117.44,692.34M1113.64,692.34L1117.44,688.54M1127.1,701.98L1130.9,705.78M1127.1,705.78L1130.9,701.98M1149.07,700.2L1152.87,704M1149.07,704L1152.87,700.2M1104.03,697.86L1107.83,701.66M1104.03,701.66L1107.83,697.86M1108.84,697.86L1112.64,701.66M1108.84,701.66L1112.64,697.86M1101.29,711.3L1105.09,715.1M1101.29,715.1L1105.09,711.3M1093.05,708.83L1096.85,712.63M1093.05,712.63L1096.85,708.83M1091.67,719.12L1095.47,722.92M1091.67,722.92L1095.47,719.12M1088.93,725.29L1092.73,729.09M1088.93,729.09L1092.73,725.29M1077.94,736.26L1081.74,740.06M1077.94,740.06L1081.74,736.26M1084.12,734.88L1087.92,738.68M1084.12,738.68L1087.92,734.88M1071.08,753.39L1074.88,757.19M1071.08,757.19L1074.88,753.39M1074.51,759.56L1078.31,763.36M1074.51,763.36L1078.31,759.56M1066.27,770.53L1070.07,774.33M1066.27,774.33L1070.07,770.53M1064.9,778.76L1068.7,782.56M1064.9,782.56L1068.7,778.76M1117.76,718.43L1121.56,722.23M1117.76,722.23L1121.56,718.43M1120.1,730.09L1123.9,733.89M1120.1,733.89L1123.9,730.09M1122.84,711.58L1126.64,715.38M1122.84,715.38L1126.64,711.58M1125.04,720.49L1128.84,724.29M1125.04,724.29L1128.84,720.49M1131.49,719.12L1135.29,722.92M1131.49,722.92L1135.29,719.12M1134.24,718.43L1138.04,722.23M1134.24,722.23L1138.04,718.43M1143.17,719.8L1146.97,723.6M1143.17,723.6L1146.97,719.8M1146.6,723.23L1150.4,727.03M1146.6,727.03L1150.4,723.23M1150.72,729.4L1154.52,733.2M1150.72,733.2L1154.52,729.4M1139.73,734.88L1143.53,738.68M1139.73,738.68L1143.53,734.88M1157.58,744.48L1161.38,748.28M1157.58,748.28L1161.38,744.48M1161.7,751.34L1165.5,755.14M1161.7,755.14L1165.5,751.34M1167.2,749.97L1171,753.77M1167.2,753.77L1171,749.97M1153.46,757.51L1157.26,761.31M1153.46,761.31L1157.26,757.51M1155.52,754.77L1159.32,758.57M1155.52,758.57L1159.32,754.77M1169.94,768.48L1173.74,772.28M1169.94,772.28L1173.74,768.48M1174.75,771.22L1178.55,775.02M1174.75,775.02L1178.55,771.22M1178.18,763.68L1181.98,767.48M1178.18,767.48L1181.98,763.68M1180.93,769.16L1184.73,772.96M1180.93,772.96L1184.73,769.16M1057.34,786.99L1061.14,790.79M1057.34,790.79L1061.14,786.99M1054.6,789.04L1058.4,792.84M1054.6,792.84L1058.4,789.04" stroke="#7f7f7f" stroke-width="1.8" fill="none"/>
<rect x="1037" y="669.6" width="147.2" height="123.4" fill="none" stroke="#000" stroke-width="1.6"/>
<text x="1110.6" y="664.6" font-size="17.6" text-anchor="middle" font-weight="normal" font-style="normal" >New York City</text>
<line x1="1034" y1="670" x2="1037" y2="670" stroke="#000" stroke-width="1.6"/>
<line x1="1034" y1="793" x2="1037" y2="793" stroke="#000" stroke-width="1.6"/>
<text x="1030" y="676.4" font-size="17.8" text-anchor="end" font-weight="normal" font-style="normal" >10.0</text>
<text x="1030" y="799.4" font-size="17.8" text-anchor="end" font-weight="normal" font-style="normal" >0</text>
<clipPath id="d7"><rect x="654.8" y="818.4" width="146.8" height="123.6"/></clipPath>
<g clip-path="url(#d7)">
<path d="M653.8,937.89 L655.49,937.89 L656.68,937.94 L658.33,938.04 L660.29,938.15 L662.4,938.19 L664.51,938.13 L666.46,937.89 L668.32,937.46 L670.22,936.87 L672.12,936.18 L673.98,935.4 L675.77,934.59 L677.44,933.78 L678.97,932.99 L680.38,932.2 L681.72,931.38 L683.03,930.48 L684.33,929.46 L685.67,928.3 L687.04,926.97 L688.41,925.51 L689.79,923.93 L691.16,922.26 L692.53,920.51 L693.9,918.71 L695.27,916.86 L696.64,914.95 L698.02,912.97 L699.39,910.89 L700.76,908.7 L702.13,906.37 L703.54,903.82 L704.98,901.04 L706.42,898.15 L707.82,895.26 L709.15,892.48 L710.36,889.93 L711.45,887.68 L712.45,885.67 L713.37,883.76 L714.23,881.86 L715.05,879.84 L715.85,877.6 L716.59,875.05 L717.22,872.27 L717.82,869.37 L718.44,866.48 L719.14,863.7 L719.97,861.15 L720.95,858.88 L722.05,856.79 L723.23,854.82 L724.44,852.88 L725.65,850.91 L726.83,848.82 L727.97,846.43 L729.11,843.75 L730.26,841.03 L731.4,838.52 L732.54,836.47 L733.69,835.12 L734.85,834.61 L736.03,834.76 L737.2,835.37 L738.36,836.23 L739.48,837.13 L740.55,837.86 L741.51,838.48 L742.38,839.18 L743.21,839.91 L744.05,840.65 L744.98,841.35 L746.04,841.97 L747.28,842.47 L748.68,842.88 L750.15,843.25 L751.62,843.64 L753.02,844.11 L754.27,844.71 L755.31,845.51 L756.2,846.49 L757.01,847.54 L757.82,848.57 L758.71,849.48 L759.76,850.19 L760.94,850.66 L762.19,850.98 L763.53,851.18 L764.94,851.31 L766.42,851.42 L767.99,851.56 L769.69,851.74 L771.54,851.92 L773.47,852.07 L775.41,852.2 L777.26,852.26 L778.96,852.25 L780.49,852.09 L781.91,851.79 L783.25,851.43 L784.55,851.1 L785.85,850.89 L787.19,850.88 L788.6,851.1 L790.04,851.51 L791.48,852.03 L792.89,852.6 L794.21,853.15 L795.43,853.62 L796.56,854.02 L797.66,854.43 L798.68,854.82 L799.59,855.16 L800.35,855.46 L800.91,855.67 L802.6,855.67 L802.6,878.28 L800.91,878.28 L800.35,878.07 L799.59,877.77 L798.68,877.43 L797.66,877.04 L796.56,876.63 L795.43,876.23 L794.21,875.75 L792.89,875.19 L791.48,874.6 L790.04,874.07 L788.6,873.67 L787.19,873.49 L785.82,873.58 L784.45,873.92 L783.08,874.38 L781.71,874.88 L780.33,875.3 L778.96,875.54 L777.59,875.59 L776.22,875.54 L774.85,875.41 L773.47,875.24 L772.1,875.04 L770.73,874.86 L769.36,874.71 L767.99,874.6 L766.61,874.47 L765.24,874.27 L763.87,873.96 L762.5,873.49 L761.13,872.76 L759.76,871.81 L758.38,870.75 L757.01,869.68 L755.64,868.73 L754.27,868 L752.9,867.53 L751.52,867.22 L750.15,867.02 L748.78,866.89 L747.41,866.78 L746.04,866.63 L744.63,866.46 L743.19,866.3 L741.75,866.16 L740.34,866.05 L739.02,865.98 L737.8,865.95 L736.73,865.86 L735.77,865.7 L734.89,865.56 L734.04,865.59 L733.2,865.91 L732.32,866.63 L731.4,867.87 L730.49,869.53 L729.57,871.47 L728.66,873.56 L727.74,875.65 L726.83,877.6 L725.91,879.42 L725,881.25 L724.08,883.08 L723.17,884.9 L722.25,886.73 L721.34,888.56 L720.46,890.35 L719.61,892.11 L718.77,893.87 L717.88,895.66 L716.93,897.54 L715.85,899.52 L714.64,901.68 L713.31,903.99 L711.91,906.37 L710.47,908.76 L709.02,911.07 L707.62,913.22 L706.25,915.23 L704.88,917.13 L703.5,918.96 L702.13,920.74 L700.76,922.47 L699.39,924.19 L698.02,925.92 L696.64,927.66 L695.27,929.37 L693.9,930.99 L692.53,932.47 L691.16,933.78 L689.82,934.89 L688.51,935.83 L687.21,936.65 L685.87,937.36 L684.46,937.99 L682.93,938.57 L681.32,939.09 L679.67,939.51 L677.95,939.86 L676.12,940.15 L674.13,940.4 L671.95,940.63 L669.33,940.83 L666.26,940.98 L663.03,941.1 L659.96,941.19 L657.34,941.26 L655.49,941.31 L653.8,941.31 Z" fill="#8fbbd9" stroke="#1f77b4" stroke-opacity="0.6" stroke-width="0.9"/>
<path d="M655.49,939.94 L657.01,939.9 L659.14,939.87 L661.66,939.82 L664.33,939.72 L666.92,939.54 L669.21,939.26 L671.23,938.88 L673.17,938.42 L675.04,937.89 L676.83,937.28 L678.54,936.59 L680.18,935.83 L681.71,935 L683.13,934.11 L684.47,933.14 L685.77,932.08 L687.07,930.93 L688.41,929.67 L689.79,928.31 L691.16,926.88 L692.53,925.34 L693.9,923.7 L695.27,921.95 L696.64,920.08 L698.02,918.03 L699.39,915.81 L700.76,913.48 L702.13,911.09 L703.5,908.7 L704.88,906.37 L706.25,904.14 L707.62,901.96 L708.99,899.78 L710.36,897.54 L711.74,895.19 L713.11,892.67 L714.51,889.84 L715.95,886.73 L717.4,883.51 L718.8,880.34 L720.13,877.4 L721.34,874.86 L722.41,872.8 L723.37,871.1 L724.26,869.63 L725.1,868.26 L725.95,866.85 L726.83,865.26 L727.74,863.44 L728.66,861.46 L729.57,859.44 L730.49,857.5 L731.4,855.75 L732.32,854.3 L733.2,853.12 L734.04,852.12 L734.89,851.3 L735.77,850.7 L736.73,850.32 L737.8,850.19 L739.02,850.42 L740.34,851 L741.75,851.82 L743.19,852.73 L744.63,853.6 L746.04,854.3 L747.41,854.83 L748.78,855.29 L750.15,855.71 L751.52,856.13 L752.9,856.56 L754.27,857.04 L755.64,857.59 L757.01,858.18 L758.38,858.8 L759.76,859.4 L761.13,859.97 L762.5,860.47 L763.9,860.9 L765.34,861.28 L766.79,861.62 L768.19,861.94 L769.52,862.24 L770.73,862.52 L771.77,862.84 L772.66,863.18 L773.47,863.51 L774.29,863.77 L775.18,863.91 L776.22,863.89 L777.43,863.61 L778.76,863.08 L780.16,862.44 L781.6,861.81 L783.05,861.34 L784.45,861.15 L785.82,861.32 L787.19,861.74 L788.57,862.31 L789.94,862.93 L791.31,863.49 L792.68,863.89 L794.15,864.13 L795.73,864.3 L797.31,864.41 L798.78,864.48 L800.02,864.53 L800.91,864.58" fill="none" stroke="#1f77b4" stroke-width="2.0"/>
<path d="M653.35,939.94a1.45,1.45 0 1,0 2.9,0a1.45,1.45 0 1,0 -2.9,0M655.76,939.9a1.45,1.45 0 1,0 2.9,0a1.45,1.45 0 1,0 -2.9,0M658.16,939.86a1.45,1.45 0 1,0 2.9,0a1.45,1.45 0 1,0 -2.9,0M660.57,939.8a1.45,1.45 0 1,0 2.9,0a1.45,1.45 0 1,0 -2.9,0M662.98,939.71a1.45,1.45 0 1,0 2.9,0a1.45,1.45 0 1,0 -2.9,0M665.38,939.55a1.45,1.45 0 1,0 2.9,0a1.45,1.45 0 1,0 -2.9,0M667.79,939.25a1.45,1.45 0 1,0 2.9,0a1.45,1.45 0 1,0 -2.9,0M670.2,938.78a1.45,1.45 0 1,0 2.9,0a1.45,1.45 0 1,0 -2.9,0M672.6,938.17a1.45,1.45 0 1,0 2.9,0a1.45,1.45 0 1,0 -2.9,0M675.01,937.41a1.45,1.45 0 1,0 2.9,0a1.45,1.45 0 1,0 -2.9,0M677.42,936.44a1.45,1.45 0 1,0 2.9,0a1.45,1.45 0 1,0 -2.9,0M679.82,935.24a1.45,1.45 0 1,0 2.9,0a1.45,1.45 0 1,0 -2.9,0M682.23,933.71a1.45,1.45 0 1,0 2.9,0a1.45,1.45 0 1,0 -2.9,0M684.64,931.8a1.45,1.45 0 1,0 2.9,0a1.45,1.45 0 1,0 -2.9,0M687.04,929.59a1.45,1.45 0 1,0 2.9,0a1.45,1.45 0 1,0 -2.9,0M689.45,927.15a1.45,1.45 0 1,0 2.9,0a1.45,1.45 0 1,0 -2.9,0M691.85,924.42a1.45,1.45 0 1,0 2.9,0a1.45,1.45 0 1,0 -2.9,0M694.26,921.35a1.45,1.45 0 1,0 2.9,0a1.45,1.45 0 1,0 -2.9,0M696.67,917.87a1.45,1.45 0 1,0 2.9,0a1.45,1.45 0 1,0 -2.9,0M699.07,913.88a1.45,1.45 0 1,0 2.9,0a1.45,1.45 0 1,0 -2.9,0M701.48,909.7a1.45,1.45 0 1,0 2.9,0a1.45,1.45 0 1,0 -2.9,0M703.89,905.62a1.45,1.45 0 1,0 2.9,0a1.45,1.45 0 1,0 -2.9,0M706.29,901.76a1.45,1.45 0 1,0 2.9,0a1.45,1.45 0 1,0 -2.9,0M708.7,897.89a1.45,1.45 0 1,0 2.9,0a1.45,1.45 0 1,0 -2.9,0M711.11,893.68a1.45,1.45 0 1,0 2.9,0a1.45,1.45 0 1,0 -2.9,0M713.51,888.87a1.45,1.45 0 1,0 2.9,0a1.45,1.45 0 1,0 -2.9,0M715.92,883.56a1.45,1.45 0 1,0 2.9,0a1.45,1.45 0 1,0 -2.9,0M718.33,878.17a1.45,1.45 0 1,0 2.9,0a1.45,1.45 0 1,0 -2.9,0M720.73,873.24a1.45,1.45 0 1,0 2.9,0a1.45,1.45 0 1,0 -2.9,0M723.14,869.09a1.45,1.45 0 1,0 2.9,0a1.45,1.45 0 1,0 -2.9,0M725.55,864.93a1.45,1.45 0 1,0 2.9,0a1.45,1.45 0 1,0 -2.9,0M727.95,859.81a1.45,1.45 0 1,0 2.9,0a1.45,1.45 0 1,0 -2.9,0M730.36,855.1a1.45,1.45 0 1,0 2.9,0a1.45,1.45 0 1,0 -2.9,0M732.77,851.95a1.45,1.45 0 1,0 2.9,0a1.45,1.45 0 1,0 -2.9,0M735.17,850.36a1.45,1.45 0 1,0 2.9,0a1.45,1.45 0 1,0 -2.9,0M737.58,850.42a1.45,1.45 0 1,0 2.9,0a1.45,1.45 0 1,0 -2.9,0M739.99,851.64a1.45,1.45 0 1,0 2.9,0a1.45,1.45 0 1,0 -2.9,0M742.39,853.12a1.45,1.45 0 1,0 2.9,0a1.45,1.45 0 1,0 -2.9,0M744.8,854.38a1.45,1.45 0 1,0 2.9,0a1.45,1.45 0 1,0 -2.9,0M747.21,855.25a1.45,1.45 0 1,0 2.9,0a1.45,1.45 0 1,0 -2.9,0M749.61,855.99a1.45,1.45 0 1,0 2.9,0a1.45,1.45 0 1,0 -2.9,0M752.02,856.76a1.45,1.45 0 1,0 2.9,0a1.45,1.45 0 1,0 -2.9,0M754.43,857.69a1.45,1.45 0 1,0 2.9,0a1.45,1.45 0 1,0 -2.9,0M756.83,858.75a1.45,1.45 0 1,0 2.9,0a1.45,1.45 0 1,0 -2.9,0M759.24,859.79a1.45,1.45 0 1,0 2.9,0a1.45,1.45 0 1,0 -2.9,0M761.65,860.65a1.45,1.45 0 1,0 2.9,0a1.45,1.45 0 1,0 -2.9,0M764.05,861.32a1.45,1.45 0 1,0 2.9,0a1.45,1.45 0 1,0 -2.9,0M766.46,861.88a1.45,1.45 0 1,0 2.9,0a1.45,1.45 0 1,0 -2.9,0M768.86,862.42a1.45,1.45 0 1,0 2.9,0a1.45,1.45 0 1,0 -2.9,0M771.27,863.21a1.45,1.45 0 1,0 2.9,0a1.45,1.45 0 1,0 -2.9,0M773.68,863.9a1.45,1.45 0 1,0 2.9,0a1.45,1.45 0 1,0 -2.9,0M776.08,863.57a1.45,1.45 0 1,0 2.9,0a1.45,1.45 0 1,0 -2.9,0M778.49,862.54a1.45,1.45 0 1,0 2.9,0a1.45,1.45 0 1,0 -2.9,0M780.9,861.57a1.45,1.45 0 1,0 2.9,0a1.45,1.45 0 1,0 -2.9,0M783.3,861.19a1.45,1.45 0 1,0 2.9,0a1.45,1.45 0 1,0 -2.9,0M785.71,861.73a1.45,1.45 0 1,0 2.9,0a1.45,1.45 0 1,0 -2.9,0M788.12,862.76a1.45,1.45 0 1,0 2.9,0a1.45,1.45 0 1,0 -2.9,0M790.52,863.69a1.45,1.45 0 1,0 2.9,0a1.45,1.45 0 1,0 -2.9,0M792.93,864.16a1.45,1.45 0 1,0 2.9,0a1.45,1.45 0 1,0 -2.9,0M795.34,864.37a1.45,1.45 0 1,0 2.9,0a1.45,1.45 0 1,0 -2.9,0M797.74,864.49a1.45,1.45 0 1,0 2.9,0a1.45,1.45 0 1,0 -2.9,0M800.15,864.58a1.45,1.45 0 1,0 2.9,0a1.45,1.45 0 1,0 -2.9,0" fill="#1f77b4"/>
</g>
<g clip-path="url(#d7)">
<path d="M655.49,941.31 L680.18,938.57 L689.79,931.04 L696.64,921.45 L702.13,913.22 L707.62,903.63 L711.74,894.04 L715.85,883.08 L721.34,870.75 L725.46,859.78 L728.2,858.41 L735.06,861.84 L737.8,865.95 L743.29,868 L747.41,867.32 L751.52,865.26 L754.27,859.78 L759.76,857.04 L763.87,857.73 L767.99,853.62 L770.73,859.1 L773.47,855.67 L778.96,856.36 L781.71,854.99 L784.45,860.47 L787.19,860.47 L789.94,865.26 L792.68,869.37 L798.17,869.37 L800.91,865.95" fill="none" stroke="#ff7f0e" stroke-width="1.9" stroke-linejoin="round"/>
<path d="M653.35,941.31a1.45,1.45 0 1,0 2.9,0a1.45,1.45 0 1,0 -2.9,0M655.76,941.12a1.45,1.45 0 1,0 2.9,0a1.45,1.45 0 1,0 -2.9,0M658.16,940.86a1.45,1.45 0 1,0 2.9,0a1.45,1.45 0 1,0 -2.9,0M660.57,940.59a1.45,1.45 0 1,0 2.9,0a1.45,1.45 0 1,0 -2.9,0M662.98,940.32a1.45,1.45 0 1,0 2.9,0a1.45,1.45 0 1,0 -2.9,0M665.38,940.06a1.45,1.45 0 1,0 2.9,0a1.45,1.45 0 1,0 -2.9,0M667.79,939.79a1.45,1.45 0 1,0 2.9,0a1.45,1.45 0 1,0 -2.9,0M670.2,939.52a1.45,1.45 0 1,0 2.9,0a1.45,1.45 0 1,0 -2.9,0M672.6,939.25a1.45,1.45 0 1,0 2.9,0a1.45,1.45 0 1,0 -2.9,0M675.01,938.99a1.45,1.45 0 1,0 2.9,0a1.45,1.45 0 1,0 -2.9,0M677.42,938.72a1.45,1.45 0 1,0 2.9,0a1.45,1.45 0 1,0 -2.9,0M679.82,937.72a1.45,1.45 0 1,0 2.9,0a1.45,1.45 0 1,0 -2.9,0M682.23,935.83a1.45,1.45 0 1,0 2.9,0a1.45,1.45 0 1,0 -2.9,0M684.64,933.94a1.45,1.45 0 1,0 2.9,0a1.45,1.45 0 1,0 -2.9,0M687.04,932.05a1.45,1.45 0 1,0 2.9,0a1.45,1.45 0 1,0 -2.9,0M689.45,929.48a1.45,1.45 0 1,0 2.9,0a1.45,1.45 0 1,0 -2.9,0M691.85,926.12a1.45,1.45 0 1,0 2.9,0a1.45,1.45 0 1,0 -2.9,0M694.26,922.75a1.45,1.45 0 1,0 2.9,0a1.45,1.45 0 1,0 -2.9,0M696.67,919.24a1.45,1.45 0 1,0 2.9,0a1.45,1.45 0 1,0 -2.9,0M699.07,915.63a1.45,1.45 0 1,0 2.9,0a1.45,1.45 0 1,0 -2.9,0M701.48,911.83a1.45,1.45 0 1,0 2.9,0a1.45,1.45 0 1,0 -2.9,0M703.89,907.62a1.45,1.45 0 1,0 2.9,0a1.45,1.45 0 1,0 -2.9,0M706.29,903.34a1.45,1.45 0 1,0 2.9,0a1.45,1.45 0 1,0 -2.9,0M708.7,897.74a1.45,1.45 0 1,0 2.9,0a1.45,1.45 0 1,0 -2.9,0M711.11,891.85a1.45,1.45 0 1,0 2.9,0a1.45,1.45 0 1,0 -2.9,0M713.51,885.44a1.45,1.45 0 1,0 2.9,0a1.45,1.45 0 1,0 -2.9,0M715.92,879.67a1.45,1.45 0 1,0 2.9,0a1.45,1.45 0 1,0 -2.9,0M718.33,874.26a1.45,1.45 0 1,0 2.9,0a1.45,1.45 0 1,0 -2.9,0M720.73,868.5a1.45,1.45 0 1,0 2.9,0a1.45,1.45 0 1,0 -2.9,0M723.14,862.09a1.45,1.45 0 1,0 2.9,0a1.45,1.45 0 1,0 -2.9,0M725.55,859.01a1.45,1.45 0 1,0 2.9,0a1.45,1.45 0 1,0 -2.9,0M727.95,859.01a1.45,1.45 0 1,0 2.9,0a1.45,1.45 0 1,0 -2.9,0M730.36,860.22a1.45,1.45 0 1,0 2.9,0a1.45,1.45 0 1,0 -2.9,0M732.77,861.42a1.45,1.45 0 1,0 2.9,0a1.45,1.45 0 1,0 -2.9,0M735.17,864.18a1.45,1.45 0 1,0 2.9,0a1.45,1.45 0 1,0 -2.9,0M737.58,866.41a1.45,1.45 0 1,0 2.9,0a1.45,1.45 0 1,0 -2.9,0M739.99,867.31a1.45,1.45 0 1,0 2.9,0a1.45,1.45 0 1,0 -2.9,0M742.39,867.91a1.45,1.45 0 1,0 2.9,0a1.45,1.45 0 1,0 -2.9,0M744.8,867.51a1.45,1.45 0 1,0 2.9,0a1.45,1.45 0 1,0 -2.9,0M747.21,866.7a1.45,1.45 0 1,0 2.9,0a1.45,1.45 0 1,0 -2.9,0M749.61,865.49a1.45,1.45 0 1,0 2.9,0a1.45,1.45 0 1,0 -2.9,0M752.02,861.38a1.45,1.45 0 1,0 2.9,0a1.45,1.45 0 1,0 -2.9,0M754.43,858.98a1.45,1.45 0 1,0 2.9,0a1.45,1.45 0 1,0 -2.9,0M756.83,857.78a1.45,1.45 0 1,0 2.9,0a1.45,1.45 0 1,0 -2.9,0M759.24,857.2a1.45,1.45 0 1,0 2.9,0a1.45,1.45 0 1,0 -2.9,0M761.65,857.6a1.45,1.45 0 1,0 2.9,0a1.45,1.45 0 1,0 -2.9,0M764.05,856.1a1.45,1.45 0 1,0 2.9,0a1.45,1.45 0 1,0 -2.9,0M766.46,853.7a1.45,1.45 0 1,0 2.9,0a1.45,1.45 0 1,0 -2.9,0M768.86,858.27a1.45,1.45 0 1,0 2.9,0a1.45,1.45 0 1,0 -2.9,0M771.27,856.61a1.45,1.45 0 1,0 2.9,0a1.45,1.45 0 1,0 -2.9,0M773.68,855.88a1.45,1.45 0 1,0 2.9,0a1.45,1.45 0 1,0 -2.9,0M776.08,856.18a1.45,1.45 0 1,0 2.9,0a1.45,1.45 0 1,0 -2.9,0M778.49,855.87a1.45,1.45 0 1,0 2.9,0a1.45,1.45 0 1,0 -2.9,0M780.9,856.27a1.45,1.45 0 1,0 2.9,0a1.45,1.45 0 1,0 -2.9,0M783.3,860.47a1.45,1.45 0 1,0 2.9,0a1.45,1.45 0 1,0 -2.9,0M785.71,860.47a1.45,1.45 0 1,0 2.9,0a1.45,1.45 0 1,0 -2.9,0M788.12,864.62a1.45,1.45 0 1,0 2.9,0a1.45,1.45 0 1,0 -2.9,0M790.52,868.31a1.45,1.45 0 1,0 2.9,0a1.45,1.45 0 1,0 -2.9,0M792.93,869.37a1.45,1.45 0 1,0 2.9,0a1.45,1.45 0 1,0 -2.9,0M795.34,869.37a1.45,1.45 0 1,0 2.9,0a1.45,1.45 0 1,0 -2.9,0M797.74,868.1a1.45,1.45 0 1,0 2.9,0a1.45,1.45 0 1,0 -2.9,0M800.15,865.95a1.45,1.45 0 1,0 2.9,0a1.45,1.45 0 1,0 -2.9,0" fill="#ff7f0e"/>
</g>
<path d="M778.43,817.46L782.23,821.26M778.43,821.26L782.23,817.46M764.03,829.79L767.83,833.59M764.03,833.59L767.83,829.79M773.22,834.59L777.02,838.39M773.22,838.39L777.02,834.59M780.49,839.79L784.29,843.59M780.49,843.59L784.29,839.79M761.42,842.54L765.22,846.34M761.42,846.34L765.22,842.54M747.57,843.91L751.37,847.71M747.57,847.71L751.37,843.91M728.36,837.05L732.16,840.85M728.36,840.85L732.16,837.05M725.89,849.94L729.69,853.74M725.89,853.74L729.69,849.94M731.1,852.4L734.9,856.2M731.1,856.2L734.9,852.4M733.16,855.14L736.96,858.94M733.16,858.94L736.96,855.14M744.82,853.77L748.62,857.57M744.82,857.57L748.62,853.77M758.54,851.72L762.34,855.52M758.54,855.52L762.34,851.72M796.96,854.46L800.76,858.26M796.96,858.26L800.76,854.46M794.9,861.31L798.7,865.11M794.9,865.11L798.7,861.31M783.92,859.94L787.72,863.74M783.92,863.74L787.72,859.94M785.29,866.1L789.09,869.9M785.29,869.9L789.09,866.1M790.1,870.22L793.9,874.02M790.1,874.02L793.9,870.22M792.15,877.48L795.95,881.28M792.15,881.28L795.95,877.48M787.63,882.55L791.43,886.35M787.63,886.35L791.43,882.55M775.69,891.45L779.49,895.25M775.69,895.25L779.49,891.45M768.14,868.85L771.94,872.65M768.14,872.65L771.94,868.85M771.16,866.38L774.96,870.18M771.16,870.18L774.96,866.38M766.09,869.53L769.89,873.33M766.09,873.33L769.89,869.53M754.43,873.64L758.23,877.44M754.43,877.44L758.23,873.64M752.09,864.05L755.89,867.85M752.09,867.85L755.89,864.05M749.62,866.79L753.42,870.59M749.62,870.59L753.42,866.79M737.96,866.1L741.76,869.9M737.96,869.9L741.76,866.1M735.22,876.79L739.02,880.59M735.22,880.59L739.02,876.79M740.29,878.16L744.09,881.96M740.29,881.96L744.09,878.16M742.49,881.86L746.29,885.66M742.49,885.66L746.29,881.86M723.56,875.01L727.36,878.81M723.56,878.81L727.36,875.01M720.81,861.99L724.61,865.79M720.81,865.79L724.61,861.99M716.7,870.22L720.5,874.02M716.7,874.02L720.5,870.22M713.27,875.01L717.07,878.81M713.27,878.81L717.07,875.01M711.89,886.66L715.69,890.46M711.89,890.46L715.69,886.66M708.46,904.47L712.26,908.27M708.46,908.27L712.26,904.47M704.35,912.01L708.15,915.81M704.35,915.81L708.15,912.01M700.23,909.27L704.03,913.07M700.23,913.07L704.03,909.27M694.74,912.69L698.54,916.49M694.74,916.49L698.54,912.69M689.26,929.14L693.06,932.94M689.26,932.94L693.06,929.14M683.77,933.93L687.57,937.73M683.77,937.73L687.57,933.93M676.91,936.67L680.71,940.47M676.91,940.47L680.71,936.67" stroke="#7f7f7f" stroke-width="1.8" fill="none"/>
<rect x="654.8" y="818.4" width="146.8" height="123.6" fill="none" stroke="#000" stroke-width="1.6"/>
<text x="728.2" y="813.4" font-size="17.6" text-anchor="middle" font-weight="normal" font-style="normal" >Philadelphia</text>
<line x1="651.8" y1="823" x2="654.8" y2="823" stroke="#000" stroke-width="1.6"/>
<line x1="651.8" y1="942" x2="654.8" y2="942" stroke="#000" stroke-width="1.6"/>
<text x="647.8" y="829.4" font-size="17.8" text-anchor="end" font-weight="normal" font-style="normal" >1.7</text>
<text x="647.8" y="948.4" font-size="17.8" text-anchor="end" font-weight="normal" font-style="normal" >0</text>
<line x1="654.8" y1="942" x2="654.8" y2="945" stroke="#000" stroke-width="1.6"/>
<line x1="801.6" y1="942" x2="801.6" y2="945" stroke="#000" stroke-width="1.6"/>
<text x="661.8" y="964.5" font-size="14.3" text-anchor="middle" font-weight="normal" font-style="normal" >8 March</text>
<text x="797.6" y="964.5" font-size="14.3" text-anchor="middle" font-weight="normal" font-style="normal" >9 May</text>
<text x="728.2" y="984" font-size="16.8" text-anchor="middle" font-weight="normal" font-style="normal" >Date</text>
<clipPath id="d8"><rect x="845.8" y="818.4" width="146.7" height="123.6"/></clipPath>
<g clip-path="url(#d8)">
<path d="M845.8,941.31 L846,934.19 L846.26,923.7 L846.57,911.6 L846.94,899.62 L847.37,889.53 L847.86,883.08 L848.41,880.77 L849.02,881.33 L849.7,883.76 L850.42,887.11 L851.18,890.4 L851.97,892.67 L852.8,894.17 L853.7,895.74 L854.63,897.25 L855.57,898.58 L856.52,899.61 L857.45,900.21 L858.34,900.37 L859.18,900.21 L860.02,899.74 L860.91,898.99 L861.87,897.99 L862.94,896.78 L864.17,895.27 L865.53,893.43 L866.97,891.34 L868.42,889.09 L869.84,886.77 L871.16,884.45 L872.39,882.02 L873.55,879.4 L874.68,876.7 L875.78,874.04 L876.89,871.56 L878.02,869.37 L879.15,867.49 L880.25,865.8 L881.36,864.28 L882.49,862.9 L883.65,861.64 L884.87,860.47 L886.2,859.31 L887.62,858.18 L889.07,857.17 L890.51,856.36 L891.87,855.83 L893.1,855.67 L894.14,856.18 L895.03,857.35 L895.84,858.8 L896.65,860.16 L897.54,861.07 L898.58,861.15 L899.83,860.2 L901.23,858.46 L902.7,856.27 L904.17,853.95 L905.57,851.81 L906.81,850.19 L907.92,849.02 L908.94,848.03 L909.9,847.24 L910.77,846.64 L911.57,846.25 L912.29,846.08 L912.88,846.33 L913.31,847.02 L913.67,847.92 L914.02,848.8 L914.45,849.4 L915.04,849.51 L915.81,849.01 L916.71,848.08 L917.69,846.89 L918.69,845.6 L919.65,844.36 L920.52,843.34 L921.29,842.44 L921.99,841.51 L922.66,840.64 L923.31,839.91 L923.96,839.41 L924.63,839.23 L925.34,839.41 L926.06,839.91 L926.78,840.64 L927.48,841.51 L928.14,842.44 L928.75,843.34 L929.25,844.3 L929.66,845.39 L930.03,846.55 L930.42,847.68 L930.89,848.69 L931.49,849.51 L932.21,850.09 L933.01,850.52 L933.89,850.83 L934.84,851.08 L935.87,851.31 L936.97,851.56 L938.22,851.81 L939.61,852.02 L941.09,852.2 L942.56,852.4 L943.96,852.63 L945.2,852.93 L946.24,853.34 L947.13,853.84 L947.94,854.39 L948.75,854.91 L949.64,855.36 L950.68,855.67 L951.93,855.86 L953.32,855.98 L954.8,856.01 L956.27,855.98 L957.67,855.86 L958.91,855.67 L959.98,855.39 L960.94,855.01 L961.82,854.56 L962.67,854.05 L963.51,853.5 L964.39,852.93 L965.31,852.36 L966.22,851.76 L967.14,851.13 L968.05,850.44 L968.96,849.68 L969.88,848.82 L970.76,847.79 L971.6,846.59 L972.45,845.31 L973.33,844.05 L974.29,842.9 L975.36,841.97 L976.61,841.24 L978,840.65 L979.48,840.17 L980.95,839.79 L982.34,839.48 L983.59,839.23 L984.69,839.05 L985.72,838.97 L986.67,838.97 L987.55,839.03 L988.35,839.12 L989.07,839.23 L989.72,839.39 L990.29,839.63 L990.79,839.91 L991.21,840.19 L991.55,840.43 L991.81,840.6 L993.5,840.6 L993.5,891.3 L991.81,891.3 L991.22,890.88 L990.39,890.26 L989.42,889.54 L988.36,888.84 L987.31,888.25 L986.33,887.87 L985.45,887.73 L984.6,887.72 L983.76,887.83 L982.88,888.03 L981.92,888.28 L980.85,888.56 L979.63,888.9 L978.31,889.32 L976.9,889.8 L975.46,890.31 L974.02,890.82 L972.62,891.3 L971.25,891.79 L969.88,892.31 L968.51,892.84 L967.14,893.33 L965.76,893.74 L964.39,894.04 L963.02,894.18 L961.65,894.19 L960.28,894.13 L958.91,894.04 L957.54,893.99 L956.17,894.04 L954.8,894.2 L953.43,894.45 L952.05,894.73 L950.68,895 L949.31,895.25 L947.94,895.41 L946.57,895.51 L945.2,895.56 L943.83,895.58 L942.46,895.56 L941.09,895.51 L939.72,895.41 L938.34,895.25 L936.97,895.03 L935.6,894.77 L934.23,894.5 L932.86,894.24 L931.49,894.04 L930.09,893.82 L928.65,893.56 L927.2,893.31 L925.8,893.15 L924.48,893.14 L923.26,893.35 L922.19,893.86 L921.23,894.62 L920.35,895.54 L919.51,896.5 L918.66,897.41 L917.78,898.15 L916.9,898.74 L916.05,899.27 L915.21,899.74 L914.33,900.16 L913.37,900.54 L912.29,900.89 L911.08,901.18 L909.76,901.4 L908.35,901.58 L906.91,901.75 L905.47,901.97 L904.07,902.26 L902.7,902.64 L901.33,903.07 L899.96,903.55 L898.58,904.04 L897.21,904.53 L895.84,905 L894.47,905.43 L893.1,905.81 L891.73,906.2 L890.36,906.63 L888.99,907.13 L887.62,907.74 L886.25,908.43 L884.87,909.16 L883.5,909.97 L882.13,910.89 L880.76,911.96 L879.39,913.22 L878.02,914.8 L876.65,916.68 L875.28,918.71 L873.91,920.74 L872.54,922.61 L871.16,924.19 L869.79,925.45 L868.42,926.52 L867.05,927.44 L865.68,928.25 L864.31,928.98 L862.94,929.67 L861.57,930.3 L860.2,930.83 L858.82,931.29 L857.45,931.7 L856.08,932.06 L854.71,932.41 L853.25,932.73 L851.66,933.02 L850.08,933.26 L848.62,933.47 L847.38,933.65 L846.49,933.78 L844.8,933.78 Z" fill="#8fbbd9" stroke="#1f77b4" stroke-opacity="0.6" stroke-width="0.9"/>
<path d="M846.49,911.85 L847.08,912.48 L847.91,913.38 L848.88,914.42 L849.94,915.51 L850.99,916.52 L851.97,917.33 L852.88,918.01 L853.8,918.65 L854.71,919.22 L855.63,919.67 L856.54,919.97 L857.45,920.08 L858.35,919.98 L859.23,919.72 L860.11,919.3 L861.01,918.76 L861.94,918.09 L862.94,917.33 L864,916.49 L865.12,915.56 L866.28,914.51 L867.46,913.33 L868.63,911.99 L869.79,910.48 L870.95,908.68 L872.13,906.58 L873.31,904.32 L874.46,902.06 L875.58,899.95 L876.65,898.15 L877.64,896.65 L878.58,895.33 L879.48,894.17 L880.35,893.13 L881.23,892.18 L882.13,891.3 L883.01,890.51 L883.86,889.83 L884.7,889.24 L885.59,888.74 L886.54,888.29 L887.62,887.87 L888.86,887.55 L890.26,887.34 L891.73,887.19 L893.2,887.04 L894.6,886.83 L895.84,886.5 L896.92,886.09 L897.87,885.64 L898.76,885.13 L899.6,884.55 L900.44,883.87 L901.33,883.08 L902.24,882.09 L903.15,880.9 L904.07,879.61 L904.98,878.33 L905.9,877.17 L906.81,876.23 L907.72,875.52 L908.64,874.96 L909.55,874.51 L910.47,874.15 L911.38,873.82 L912.29,873.49 L913.21,873.23 L914.12,873.1 L915.04,873.01 L915.95,872.88 L916.86,872.61 L917.78,872.12 L918.69,871.29 L919.61,870.16 L920.52,868.9 L921.44,867.67 L922.35,866.64 L923.26,865.95 L924.18,865.61 L925.09,865.49 L926.01,865.56 L926.92,865.8 L927.83,866.16 L928.75,866.63 L929.63,867.32 L930.47,868.26 L931.32,869.33 L932.2,870.42 L933.16,871.38 L934.23,872.12 L935.48,872.56 L936.87,872.8 L938.34,872.93 L939.82,873.03 L941.21,873.19 L942.46,873.49 L943.53,873.99 L944.49,874.65 L945.37,875.37 L946.22,876.05 L947.06,876.59 L947.94,876.91 L948.82,876.95 L949.67,876.78 L950.51,876.48 L951.39,876.12 L952.35,875.79 L953.43,875.54 L954.64,875.41 L955.96,875.34 L957.37,875.28 L958.81,875.21 L960.25,875.08 L961.65,874.86 L963.05,874.52 L964.5,874.09 L965.94,873.61 L967.34,873.1 L968.67,872.6 L969.88,872.12 L970.92,871.67 L971.81,871.23 L972.62,870.79 L973.43,870.34 L974.32,869.87 L975.36,869.37 L976.57,868.79 L977.9,868.11 L979.3,867.4 L980.74,866.76 L982.19,866.25 L983.59,865.95 L985.05,865.92 L986.64,866.1 L988.22,866.42 L989.68,866.79 L990.92,867.11 L991.81,867.32" fill="none" stroke="#1f77b4" stroke-width="2.0"/>
<path d="M844.35,911.85a1.45,1.45 0 1,0 2.9,0a1.45,1.45 0 1,0 -2.9,0M846.75,913.69a1.45,1.45 0 1,0 2.9,0a1.45,1.45 0 1,0 -2.9,0M849.16,916.15a1.45,1.45 0 1,0 2.9,0a1.45,1.45 0 1,0 -2.9,0M851.56,918.11a1.45,1.45 0 1,0 2.9,0a1.45,1.45 0 1,0 -2.9,0M853.97,919.57a1.45,1.45 0 1,0 2.9,0a1.45,1.45 0 1,0 -2.9,0M856.37,920.04a1.45,1.45 0 1,0 2.9,0a1.45,1.45 0 1,0 -2.9,0M858.78,919.23a1.45,1.45 0 1,0 2.9,0a1.45,1.45 0 1,0 -2.9,0M861.18,917.57a1.45,1.45 0 1,0 2.9,0a1.45,1.45 0 1,0 -2.9,0M863.59,915.63a1.45,1.45 0 1,0 2.9,0a1.45,1.45 0 1,0 -2.9,0M865.99,913.34a1.45,1.45 0 1,0 2.9,0a1.45,1.45 0 1,0 -2.9,0M868.4,910.4a1.45,1.45 0 1,0 2.9,0a1.45,1.45 0 1,0 -2.9,0M870.8,906.34a1.45,1.45 0 1,0 2.9,0a1.45,1.45 0 1,0 -2.9,0M873.21,901.69a1.45,1.45 0 1,0 2.9,0a1.45,1.45 0 1,0 -2.9,0M875.61,897.52a1.45,1.45 0 1,0 2.9,0a1.45,1.45 0 1,0 -2.9,0M878.02,894.18a1.45,1.45 0 1,0 2.9,0a1.45,1.45 0 1,0 -2.9,0M880.42,891.55a1.45,1.45 0 1,0 2.9,0a1.45,1.45 0 1,0 -2.9,0M882.83,889.54a1.45,1.45 0 1,0 2.9,0a1.45,1.45 0 1,0 -2.9,0M885.23,888.23a1.45,1.45 0 1,0 2.9,0a1.45,1.45 0 1,0 -2.9,0M887.64,887.52a1.45,1.45 0 1,0 2.9,0a1.45,1.45 0 1,0 -2.9,0M890.04,887.21a1.45,1.45 0 1,0 2.9,0a1.45,1.45 0 1,0 -2.9,0M892.45,886.93a1.45,1.45 0 1,0 2.9,0a1.45,1.45 0 1,0 -2.9,0M894.85,886.33a1.45,1.45 0 1,0 2.9,0a1.45,1.45 0 1,0 -2.9,0M897.26,885.16a1.45,1.45 0 1,0 2.9,0a1.45,1.45 0 1,0 -2.9,0M899.66,883.27a1.45,1.45 0 1,0 2.9,0a1.45,1.45 0 1,0 -2.9,0M902.07,880.38a1.45,1.45 0 1,0 2.9,0a1.45,1.45 0 1,0 -2.9,0M904.47,877.14a1.45,1.45 0 1,0 2.9,0a1.45,1.45 0 1,0 -2.9,0M906.88,875.15a1.45,1.45 0 1,0 2.9,0a1.45,1.45 0 1,0 -2.9,0M909.28,874.05a1.45,1.45 0 1,0 2.9,0a1.45,1.45 0 1,0 -2.9,0M911.69,873.25a1.45,1.45 0 1,0 2.9,0a1.45,1.45 0 1,0 -2.9,0M914.09,872.94a1.45,1.45 0 1,0 2.9,0a1.45,1.45 0 1,0 -2.9,0M916.5,871.96a1.45,1.45 0 1,0 2.9,0a1.45,1.45 0 1,0 -2.9,0M918.9,869.14a1.45,1.45 0 1,0 2.9,0a1.45,1.45 0 1,0 -2.9,0M921.31,866.33a1.45,1.45 0 1,0 2.9,0a1.45,1.45 0 1,0 -2.9,0M923.71,865.5a1.45,1.45 0 1,0 2.9,0a1.45,1.45 0 1,0 -2.9,0M926.12,866.06a1.45,1.45 0 1,0 2.9,0a1.45,1.45 0 1,0 -2.9,0M928.52,867.7a1.45,1.45 0 1,0 2.9,0a1.45,1.45 0 1,0 -2.9,0M930.93,870.59a1.45,1.45 0 1,0 2.9,0a1.45,1.45 0 1,0 -2.9,0M933.33,872.31a1.45,1.45 0 1,0 2.9,0a1.45,1.45 0 1,0 -2.9,0M935.74,872.83a1.45,1.45 0 1,0 2.9,0a1.45,1.45 0 1,0 -2.9,0M938.14,873.01a1.45,1.45 0 1,0 2.9,0a1.45,1.45 0 1,0 -2.9,0M940.55,873.37a1.45,1.45 0 1,0 2.9,0a1.45,1.45 0 1,0 -2.9,0M942.95,874.59a1.45,1.45 0 1,0 2.9,0a1.45,1.45 0 1,0 -2.9,0M945.36,876.43a1.45,1.45 0 1,0 2.9,0a1.45,1.45 0 1,0 -2.9,0M947.76,876.88a1.45,1.45 0 1,0 2.9,0a1.45,1.45 0 1,0 -2.9,0M950.17,876.05a1.45,1.45 0 1,0 2.9,0a1.45,1.45 0 1,0 -2.9,0M952.57,875.48a1.45,1.45 0 1,0 2.9,0a1.45,1.45 0 1,0 -2.9,0M954.98,875.32a1.45,1.45 0 1,0 2.9,0a1.45,1.45 0 1,0 -2.9,0M957.38,875.21a1.45,1.45 0 1,0 2.9,0a1.45,1.45 0 1,0 -2.9,0M959.79,874.92a1.45,1.45 0 1,0 2.9,0a1.45,1.45 0 1,0 -2.9,0M962.19,874.35a1.45,1.45 0 1,0 2.9,0a1.45,1.45 0 1,0 -2.9,0M964.6,873.57a1.45,1.45 0 1,0 2.9,0a1.45,1.45 0 1,0 -2.9,0M967,872.68a1.45,1.45 0 1,0 2.9,0a1.45,1.45 0 1,0 -2.9,0M969.41,871.69a1.45,1.45 0 1,0 2.9,0a1.45,1.45 0 1,0 -2.9,0M971.81,870.43a1.45,1.45 0 1,0 2.9,0a1.45,1.45 0 1,0 -2.9,0M974.22,869.23a1.45,1.45 0 1,0 2.9,0a1.45,1.45 0 1,0 -2.9,0M976.62,868.02a1.45,1.45 0 1,0 2.9,0a1.45,1.45 0 1,0 -2.9,0M979.03,866.88a1.45,1.45 0 1,0 2.9,0a1.45,1.45 0 1,0 -2.9,0M981.43,866.1a1.45,1.45 0 1,0 2.9,0a1.45,1.45 0 1,0 -2.9,0M983.84,865.94a1.45,1.45 0 1,0 2.9,0a1.45,1.45 0 1,0 -2.9,0M986.24,866.31a1.45,1.45 0 1,0 2.9,0a1.45,1.45 0 1,0 -2.9,0M988.65,866.9a1.45,1.45 0 1,0 2.9,0a1.45,1.45 0 1,0 -2.9,0M991.05,867.32a1.45,1.45 0 1,0 2.9,0a1.45,1.45 0 1,0 -2.9,0" fill="#1f77b4"/>
</g>
<g clip-path="url(#d8)">
<path d="M846.49,937.2 L854.71,933.09 L860.2,929.67 L865.68,924.19 L869.79,921.45 L873.91,911.85 L879.39,907.74 L882.13,896.78 L884.87,883.76 L890.36,882.39 L893.1,880.34 L895.16,869.37 L902.7,868 L904.75,857.04 L909.55,854.3 L912.29,858.41 L916.41,863.21 L919.84,861.15 L921.89,873.49 L924.63,865.95 L928.75,864.58 L932.86,868.69 L935.6,864.58 L939.72,863.21 L943.14,864.58 L945.2,873.49 L947.26,868 L950,863.21 L952.05,872.12 L954.8,870.75 L957.54,876.23 L961.65,869.37 L964.39,874.86 L966.45,880.34 L968.51,874.86 L971.25,869.37 L974.68,870.75 L978.1,868 L983.59,863.21 L986.33,865.26 L991.81,864.58" fill="none" stroke="#ff7f0e" stroke-width="1.9" stroke-linejoin="round"/>
<path d="M844.35,937.2a1.45,1.45 0 1,0 2.9,0a1.45,1.45 0 1,0 -2.9,0M846.75,936.34a1.45,1.45 0 1,0 2.9,0a1.45,1.45 0 1,0 -2.9,0M849.16,935.14a1.45,1.45 0 1,0 2.9,0a1.45,1.45 0 1,0 -2.9,0M851.56,933.94a1.45,1.45 0 1,0 2.9,0a1.45,1.45 0 1,0 -2.9,0M853.97,932.65a1.45,1.45 0 1,0 2.9,0a1.45,1.45 0 1,0 -2.9,0M856.37,931.15a1.45,1.45 0 1,0 2.9,0a1.45,1.45 0 1,0 -2.9,0M858.78,929.63a1.45,1.45 0 1,0 2.9,0a1.45,1.45 0 1,0 -2.9,0M861.18,927.23a1.45,1.45 0 1,0 2.9,0a1.45,1.45 0 1,0 -2.9,0M863.59,924.83a1.45,1.45 0 1,0 2.9,0a1.45,1.45 0 1,0 -2.9,0M865.99,923.01a1.45,1.45 0 1,0 2.9,0a1.45,1.45 0 1,0 -2.9,0M868.4,921.31a1.45,1.45 0 1,0 2.9,0a1.45,1.45 0 1,0 -2.9,0M870.8,915.71a1.45,1.45 0 1,0 2.9,0a1.45,1.45 0 1,0 -2.9,0M873.21,911.29a1.45,1.45 0 1,0 2.9,0a1.45,1.45 0 1,0 -2.9,0M875.61,909.49a1.45,1.45 0 1,0 2.9,0a1.45,1.45 0 1,0 -2.9,0M878.02,907.43a1.45,1.45 0 1,0 2.9,0a1.45,1.45 0 1,0 -2.9,0M880.42,897.81a1.45,1.45 0 1,0 2.9,0a1.45,1.45 0 1,0 -2.9,0M882.83,886.59a1.45,1.45 0 1,0 2.9,0a1.45,1.45 0 1,0 -2.9,0M885.23,883.31a1.45,1.45 0 1,0 2.9,0a1.45,1.45 0 1,0 -2.9,0M887.64,882.71a1.45,1.45 0 1,0 2.9,0a1.45,1.45 0 1,0 -2.9,0M890.04,881.54a1.45,1.45 0 1,0 2.9,0a1.45,1.45 0 1,0 -2.9,0M892.45,876.08a1.45,1.45 0 1,0 2.9,0a1.45,1.45 0 1,0 -2.9,0M894.85,869.17a1.45,1.45 0 1,0 2.9,0a1.45,1.45 0 1,0 -2.9,0M897.26,868.73a1.45,1.45 0 1,0 2.9,0a1.45,1.45 0 1,0 -2.9,0M899.66,868.29a1.45,1.45 0 1,0 2.9,0a1.45,1.45 0 1,0 -2.9,0M902.07,863.63a1.45,1.45 0 1,0 2.9,0a1.45,1.45 0 1,0 -2.9,0M904.47,856.37a1.45,1.45 0 1,0 2.9,0a1.45,1.45 0 1,0 -2.9,0M906.88,855a1.45,1.45 0 1,0 2.9,0a1.45,1.45 0 1,0 -2.9,0M909.28,856.07a1.45,1.45 0 1,0 2.9,0a1.45,1.45 0 1,0 -2.9,0M911.69,859.4a1.45,1.45 0 1,0 2.9,0a1.45,1.45 0 1,0 -2.9,0M914.09,862.2a1.45,1.45 0 1,0 2.9,0a1.45,1.45 0 1,0 -2.9,0M916.5,862.29a1.45,1.45 0 1,0 2.9,0a1.45,1.45 0 1,0 -2.9,0M918.9,864.25a1.45,1.45 0 1,0 2.9,0a1.45,1.45 0 1,0 -2.9,0M921.31,871.11a1.45,1.45 0 1,0 2.9,0a1.45,1.45 0 1,0 -2.9,0M923.71,865.77a1.45,1.45 0 1,0 2.9,0a1.45,1.45 0 1,0 -2.9,0M926.12,864.97a1.45,1.45 0 1,0 2.9,0a1.45,1.45 0 1,0 -2.9,0M928.52,865.8a1.45,1.45 0 1,0 2.9,0a1.45,1.45 0 1,0 -2.9,0M930.93,868.21a1.45,1.45 0 1,0 2.9,0a1.45,1.45 0 1,0 -2.9,0M933.33,865.81a1.45,1.45 0 1,0 2.9,0a1.45,1.45 0 1,0 -2.9,0M935.74,864.05a1.45,1.45 0 1,0 2.9,0a1.45,1.45 0 1,0 -2.9,0M938.14,863.25a1.45,1.45 0 1,0 2.9,0a1.45,1.45 0 1,0 -2.9,0M940.55,864.12a1.45,1.45 0 1,0 2.9,0a1.45,1.45 0 1,0 -2.9,0M942.95,870.03a1.45,1.45 0 1,0 2.9,0a1.45,1.45 0 1,0 -2.9,0M945.36,869.2a1.45,1.45 0 1,0 2.9,0a1.45,1.45 0 1,0 -2.9,0M947.76,864.58a1.45,1.45 0 1,0 2.9,0a1.45,1.45 0 1,0 -2.9,0M950.17,870.22a1.45,1.45 0 1,0 2.9,0a1.45,1.45 0 1,0 -2.9,0M952.57,871.13a1.45,1.45 0 1,0 2.9,0a1.45,1.45 0 1,0 -2.9,0M954.98,874a1.45,1.45 0 1,0 2.9,0a1.45,1.45 0 1,0 -2.9,0M957.38,874.07a1.45,1.45 0 1,0 2.9,0a1.45,1.45 0 1,0 -2.9,0M959.79,870.07a1.45,1.45 0 1,0 2.9,0a1.45,1.45 0 1,0 -2.9,0M962.19,873.35a1.45,1.45 0 1,0 2.9,0a1.45,1.45 0 1,0 -2.9,0M964.6,879.26a1.45,1.45 0 1,0 2.9,0a1.45,1.45 0 1,0 -2.9,0M967,875.01a1.45,1.45 0 1,0 2.9,0a1.45,1.45 0 1,0 -2.9,0M969.41,870.16a1.45,1.45 0 1,0 2.9,0a1.45,1.45 0 1,0 -2.9,0M971.81,870.18a1.45,1.45 0 1,0 2.9,0a1.45,1.45 0 1,0 -2.9,0M974.22,869.95a1.45,1.45 0 1,0 2.9,0a1.45,1.45 0 1,0 -2.9,0M976.62,868.03a1.45,1.45 0 1,0 2.9,0a1.45,1.45 0 1,0 -2.9,0M979.03,865.93a1.45,1.45 0 1,0 2.9,0a1.45,1.45 0 1,0 -2.9,0M981.43,863.83a1.45,1.45 0 1,0 2.9,0a1.45,1.45 0 1,0 -2.9,0M983.84,864.48a1.45,1.45 0 1,0 2.9,0a1.45,1.45 0 1,0 -2.9,0M986.24,865.09a1.45,1.45 0 1,0 2.9,0a1.45,1.45 0 1,0 -2.9,0M988.65,864.79a1.45,1.45 0 1,0 2.9,0a1.45,1.45 0 1,0 -2.9,0M991.05,864.58a1.45,1.45 0 1,0 2.9,0a1.45,1.45 0 1,0 -2.9,0" fill="#ff7f0e"/>
</g>
<path d="M909.71,816.77L913.51,820.57M909.71,820.57L913.51,816.77M940.97,821.57L944.77,825.37M940.97,825.37L944.77,821.57M900.52,829.52L904.32,833.32M900.52,833.32L904.32,829.52M928.9,829.52L932.7,833.32M928.9,833.32L932.7,829.52M945.36,835.27L949.16,839.07M945.36,839.07L949.16,835.27M952.62,837.33L956.42,841.13M952.62,841.13L956.42,837.33M905.18,841.71L908.98,845.51M905.18,845.51L908.98,841.71M888.46,846.65L892.26,850.45M888.46,850.45L892.26,846.65M885.99,853.77L889.79,857.57M885.99,857.57L889.79,853.77M976.62,841.44L980.42,845.24M976.62,845.24L980.42,841.44M974.15,850.07L977.95,853.87M974.15,853.87L977.95,850.07M981.28,851.31L985.08,855.11M981.28,855.11L985.08,851.31M924.11,854.05L927.91,857.85M924.11,857.85L927.91,854.05M933.7,856.24L937.5,860.04M933.7,860.04L937.5,856.24M954.95,855.42L958.75,859.22M954.95,859.22L958.75,855.42M916.98,858.16L920.78,861.96M916.98,861.96L920.78,858.16M907.65,865.15L911.45,868.95M907.65,868.95L911.45,865.15M921.77,863.09L925.57,866.89M921.77,866.89L925.57,863.09M902.58,855.14L906.38,858.94M902.58,858.94L906.38,855.14M891.2,873.23L895,877.03M891.2,877.03L895,873.23M895.31,887.34L899.11,891.14M895.31,891.14L899.11,887.34M897.78,887.34L901.58,891.14M897.78,891.14L901.58,887.34M912.45,887.07L916.25,890.87M912.45,890.87L916.25,887.07M914.78,871.31L918.58,875.11M914.78,875.11L918.58,871.31M931.23,868.85L935.03,872.65M931.23,872.65L935.03,868.85M936.17,877.75L939.97,881.55M936.17,881.55L939.97,877.75M938.5,883.51L942.3,887.31M938.5,887.31L942.3,883.51M943.03,893.1L946.83,896.9M943.03,896.9L946.83,893.1M948.1,871.59L951.9,875.39M948.1,875.39L951.9,871.59M957.28,878.16L961.08,881.96M957.28,881.96L961.08,878.16M960.03,885.29L963.83,889.09M960.03,889.09L963.83,885.29M962.49,872.27L966.29,876.07M962.49,876.07L966.29,872.27M967.29,871.59L971.09,875.39M967.29,875.39L971.09,871.59M969.62,875.7L973.42,879.5M969.62,879.5L973.42,875.7M971.68,885.97L975.48,889.77M971.68,889.77L975.48,885.97M978.95,885.29L982.75,889.09M978.95,889.09L982.75,885.29M983.74,875.42L987.54,879.22M983.74,879.22L987.54,875.42M985.8,866.1L989.6,869.9M985.8,869.9L989.6,866.1M989.23,862.68L993.03,866.48M989.23,866.48L993.03,862.68M926.44,900.09L930.24,903.89M926.44,903.89L930.24,900.09M950.57,916.81L954.37,920.61M950.57,920.61L954.37,916.81M893.26,896.52L897.06,900.32M893.26,900.32L897.06,896.52M881.6,901.05L885.4,904.85M881.6,904.85L885.4,901.05M883.66,906.53L887.46,910.33M883.66,910.33L887.46,906.53M876.8,892.83L880.6,896.63M876.8,896.63L880.6,892.83M878.86,896.25L882.66,900.05M878.86,900.05L882.66,896.25M874.47,917.49L878.27,921.29M874.47,921.29L878.27,917.49M867.21,915.71L871.01,919.51M867.21,919.51L871.01,915.71M870.64,915.43L874.44,919.23M870.64,919.23L874.44,915.43M864.47,920.92L868.27,924.72M864.47,924.72L868.27,920.92M861.72,924.75L865.52,928.55M861.72,928.55L865.52,924.75M859.67,932.56L863.47,936.36M859.67,936.36L863.47,932.56M855.55,929.14L859.35,932.94M855.55,932.94L859.35,929.14M850.76,935.99L854.56,939.79M850.76,939.79L854.56,935.99M846.23,920.92L850.03,924.72M846.23,924.72L850.03,920.92" stroke="#7f7f7f" stroke-width="1.8" fill="none"/>
<rect x="845.8" y="818.4" width="146.7" height="123.6" fill="none" stroke="#000" stroke-width="1.6"/>
<text x="919.15" y="813.4" font-size="17.6" text-anchor="middle" font-weight="normal" font-style="normal" >San Francisco</text>
<line x1="842.8" y1="829" x2="845.8" y2="829" stroke="#000" stroke-width="1.6"/>
<line x1="842.8" y1="942" x2="845.8" y2="942" stroke="#000" stroke-width="1.6"/>
<text x="838.8" y="835.4" font-size="17.8" text-anchor="end" font-weight="normal" font-style="normal" >0.2</text>
<text x="838.8" y="948.4" font-size="17.8" text-anchor="end" font-weight="normal" font-style="normal" >0</text>
<line x1="845.8" y1="942" x2="845.8" y2="945" stroke="#000" stroke-width="1.6"/>
<line x1="992.5" y1="942" x2="992.5" y2="945" stroke="#000" stroke-width="1.6"/>
<text x="852.8" y="964.5" font-size="14.3" text-anchor="middle" font-weight="normal" font-style="normal" >8 March</text>
<text x="992.5" y="964.5" font-size="14.3" text-anchor="middle" font-weight="normal" font-style="normal" >9 May</text>
<text x="919.15" y="984" font-size="16.8" text-anchor="middle" font-weight="normal" font-style="normal" >Date</text>
<clipPath id="d9"><rect x="1037" y="818.4" width="147.2" height="123.6"/></clipPath>
<g clip-path="url(#d9)">
<path d="M1037.27,938.57 L1038.47,938.7 L1040.12,938.9 L1042.08,939.13 L1044.19,939.31 L1046.3,939.38 L1048.26,939.26 L1050.09,938.97 L1051.92,938.57 L1053.75,938.06 L1055.58,937.43 L1057.41,936.69 L1059.24,935.83 L1061.08,934.81 L1062.91,933.6 L1064.74,932.28 L1066.57,930.91 L1068.4,929.56 L1070.23,928.3 L1072.12,927.07 L1074.09,925.81 L1076.07,924.57 L1077.96,923.4 L1079.7,922.34 L1081.21,921.45 L1082.45,920.77 L1083.45,920.28 L1084.3,919.9 L1085.08,919.57 L1085.86,919.19 L1086.71,918.71 L1087.59,918.16 L1088.44,917.64 L1089.28,917.08 L1090.17,916.42 L1091.13,915.61 L1092.2,914.59 L1093.41,913.3 L1094.74,911.75 L1096.15,910.06 L1097.59,908.3 L1099.03,906.59 L1100.44,905 L1101.81,903.55 L1103.19,902.16 L1104.56,900.81 L1105.93,899.47 L1107.3,898.13 L1108.68,896.78 L1110.02,895.33 L1111.32,893.79 L1112.63,892.24 L1113.97,890.79 L1115.38,889.53 L1116.92,888.56 L1118.62,887.95 L1120.48,887.65 L1122.41,887.53 L1124.34,887.49 L1126.2,887.42 L1127.9,887.19 L1129.47,886.76 L1130.95,886.22 L1132.36,885.65 L1133.7,885.11 L1134.96,884.68 L1136.14,884.45 L1137.21,884.52 L1138.17,884.85 L1139.06,885.3 L1139.9,885.72 L1140.75,885.94 L1141.63,885.82 L1142.52,885.29 L1143.36,884.47 L1144.21,883.46 L1145.09,882.37 L1146.05,881.29 L1147.13,880.34 L1148.37,879.51 L1149.77,878.74 L1151.24,877.98 L1152.72,877.22 L1154.12,876.41 L1155.36,875.54 L1156.44,874.62 L1157.4,873.66 L1158.28,872.67 L1159.13,871.63 L1159.97,870.54 L1160.86,869.37 L1161.74,868.09 L1162.59,866.68 L1163.43,865.22 L1164.31,863.77 L1165.27,862.39 L1166.35,861.15 L1167.56,860.12 L1168.89,859.25 L1170.3,858.46 L1171.74,857.65 L1173.18,856.75 L1174.59,855.67 L1176.06,854.28 L1177.64,852.63 L1179.22,850.88 L1180.69,849.2 L1181.93,847.77 L1182.83,846.76 L1185.2,846.76 L1185.2,885.13 L1182.83,885.13 L1182.26,885.48 L1181.5,885.95 L1180.6,886.5 L1179.57,887.14 L1178.47,887.83 L1177.33,888.56 L1176.12,889.35 L1174.79,890.23 L1173.39,891.17 L1171.94,892.14 L1170.5,893.1 L1169.1,894.04 L1167.72,894.95 L1166.35,895.87 L1164.98,896.78 L1163.6,897.69 L1162.23,898.61 L1160.86,899.52 L1159.52,900.43 L1158.21,901.35 L1156.91,902.26 L1155.57,903.18 L1154.15,904.09 L1152.62,905 L1150.95,905.93 L1149.16,906.88 L1147.3,907.83 L1145.4,908.76 L1143.5,909.65 L1141.63,910.48 L1139.8,911.25 L1137.97,911.96 L1136.14,912.62 L1134.31,913.27 L1132.48,913.92 L1130.65,914.59 L1128.82,915.28 L1126.99,915.96 L1125.16,916.65 L1123.32,917.33 L1121.49,918.02 L1119.66,918.71 L1117.83,919.37 L1116,920.02 L1114.17,920.67 L1112.34,921.34 L1110.51,922.05 L1108.68,922.82 L1106.85,923.67 L1105.02,924.59 L1103.19,925.56 L1101.35,926.52 L1099.52,927.45 L1097.69,928.3 L1095.86,929.07 L1094.03,929.79 L1092.2,930.48 L1090.37,931.14 L1088.54,931.78 L1086.71,932.41 L1084.88,933.02 L1083.05,933.6 L1081.21,934.16 L1079.38,934.72 L1077.55,935.27 L1075.72,935.83 L1073.89,936.43 L1072.06,937.05 L1070.23,937.68 L1068.4,938.27 L1066.57,938.81 L1064.74,939.26 L1062.97,939.61 L1061.28,939.89 L1059.59,940.12 L1057.82,940.3 L1055.9,940.46 L1053.75,940.63 L1051.13,940.79 L1048.06,940.93 L1044.83,941.06 L1041.75,941.16 L1039.13,941.25 L1037.27,941.31 Z" fill="#8fbbd9" stroke="#1f77b4" stroke-opacity="0.6" stroke-width="0.9"/>
<path d="M1037.27,940.63 L1039.13,940.59 L1041.75,940.55 L1044.83,940.5 L1048.06,940.4 L1051.13,940.23 L1053.75,939.94 L1055.9,939.54 L1057.82,939.03 L1059.59,938.45 L1061.28,937.81 L1062.97,937.16 L1064.74,936.52 L1066.57,935.88 L1068.4,935.22 L1070.23,934.55 L1072.06,933.85 L1073.89,933.14 L1075.72,932.41 L1077.55,931.66 L1079.38,930.91 L1081.21,930.14 L1083.05,929.34 L1084.88,928.5 L1086.71,927.61 L1088.54,926.69 L1090.37,925.73 L1092.2,924.74 L1094.03,923.7 L1095.86,922.61 L1097.69,921.45 L1099.52,920.15 L1101.35,918.71 L1103.19,917.21 L1105.02,915.74 L1106.85,914.38 L1108.68,913.22 L1110.54,912.29 L1112.44,911.5 L1114.34,910.83 L1116.2,910.23 L1117.99,909.67 L1119.66,909.11 L1121.19,908.58 L1122.61,908.12 L1123.95,907.7 L1125.26,907.29 L1126.56,906.85 L1127.9,906.37 L1129.27,905.84 L1130.65,905.28 L1132.02,904.7 L1133.39,904.11 L1134.77,903.53 L1136.14,902.95 L1137.51,902.4 L1138.89,901.88 L1140.26,901.36 L1141.63,900.82 L1143.01,900.21 L1144.38,899.52 L1145.75,898.74 L1147.13,897.9 L1148.5,896.99 L1149.87,896.04 L1151.24,895.06 L1152.62,894.04 L1153.99,892.99 L1155.36,891.91 L1156.74,890.79 L1158.11,889.62 L1159.48,888.43 L1160.86,887.19 L1162.23,885.87 L1163.6,884.45 L1164.98,882.99 L1166.35,881.56 L1167.72,880.19 L1169.1,878.97 L1170.5,877.89 L1171.94,876.94 L1173.39,876.05 L1174.79,875.21 L1176.12,874.37 L1177.33,873.49 L1178.47,872.51 L1179.57,871.46 L1180.6,870.4 L1181.5,869.43 L1182.26,868.6 L1182.83,868" fill="none" stroke="#1f77b4" stroke-width="2.0"/>
<path d="M1035.55,940.63a1.45,1.45 0 1,0 2.9,0a1.45,1.45 0 1,0 -2.9,0M1037.96,940.58a1.45,1.45 0 1,0 2.9,0a1.45,1.45 0 1,0 -2.9,0M1040.38,940.55a1.45,1.45 0 1,0 2.9,0a1.45,1.45 0 1,0 -2.9,0M1042.79,940.51a1.45,1.45 0 1,0 2.9,0a1.45,1.45 0 1,0 -2.9,0M1045.2,940.44a1.45,1.45 0 1,0 2.9,0a1.45,1.45 0 1,0 -2.9,0M1047.62,940.34a1.45,1.45 0 1,0 2.9,0a1.45,1.45 0 1,0 -2.9,0M1050.03,940.19a1.45,1.45 0 1,0 2.9,0a1.45,1.45 0 1,0 -2.9,0M1052.44,939.92a1.45,1.45 0 1,0 2.9,0a1.45,1.45 0 1,0 -2.9,0M1054.85,939.43a1.45,1.45 0 1,0 2.9,0a1.45,1.45 0 1,0 -2.9,0M1057.27,938.73a1.45,1.45 0 1,0 2.9,0a1.45,1.45 0 1,0 -2.9,0M1059.68,937.87a1.45,1.45 0 1,0 2.9,0a1.45,1.45 0 1,0 -2.9,0M1062.09,936.95a1.45,1.45 0 1,0 2.9,0a1.45,1.45 0 1,0 -2.9,0M1064.51,936.09a1.45,1.45 0 1,0 2.9,0a1.45,1.45 0 1,0 -2.9,0M1066.92,935.23a1.45,1.45 0 1,0 2.9,0a1.45,1.45 0 1,0 -2.9,0M1069.33,934.34a1.45,1.45 0 1,0 2.9,0a1.45,1.45 0 1,0 -2.9,0M1071.75,933.41a1.45,1.45 0 1,0 2.9,0a1.45,1.45 0 1,0 -2.9,0M1074.16,932.45a1.45,1.45 0 1,0 2.9,0a1.45,1.45 0 1,0 -2.9,0M1076.57,931.47a1.45,1.45 0 1,0 2.9,0a1.45,1.45 0 1,0 -2.9,0M1078.99,930.47a1.45,1.45 0 1,0 2.9,0a1.45,1.45 0 1,0 -2.9,0M1081.4,929.42a1.45,1.45 0 1,0 2.9,0a1.45,1.45 0 1,0 -2.9,0M1083.81,928.31a1.45,1.45 0 1,0 2.9,0a1.45,1.45 0 1,0 -2.9,0M1086.23,927.12a1.45,1.45 0 1,0 2.9,0a1.45,1.45 0 1,0 -2.9,0M1088.64,925.88a1.45,1.45 0 1,0 2.9,0a1.45,1.45 0 1,0 -2.9,0M1091.05,924.57a1.45,1.45 0 1,0 2.9,0a1.45,1.45 0 1,0 -2.9,0M1093.46,923.18a1.45,1.45 0 1,0 2.9,0a1.45,1.45 0 1,0 -2.9,0M1095.88,921.68a1.45,1.45 0 1,0 2.9,0a1.45,1.45 0 1,0 -2.9,0M1098.29,919.98a1.45,1.45 0 1,0 2.9,0a1.45,1.45 0 1,0 -2.9,0M1100.7,918.05a1.45,1.45 0 1,0 2.9,0a1.45,1.45 0 1,0 -2.9,0M1103.12,916.1a1.45,1.45 0 1,0 2.9,0a1.45,1.45 0 1,0 -2.9,0M1105.53,914.3a1.45,1.45 0 1,0 2.9,0a1.45,1.45 0 1,0 -2.9,0M1107.94,912.86a1.45,1.45 0 1,0 2.9,0a1.45,1.45 0 1,0 -2.9,0M1110.36,911.76a1.45,1.45 0 1,0 2.9,0a1.45,1.45 0 1,0 -2.9,0M1112.77,910.87a1.45,1.45 0 1,0 2.9,0a1.45,1.45 0 1,0 -2.9,0M1115.18,910.1a1.45,1.45 0 1,0 2.9,0a1.45,1.45 0 1,0 -2.9,0M1117.6,909.32a1.45,1.45 0 1,0 2.9,0a1.45,1.45 0 1,0 -2.9,0M1120.01,908.5a1.45,1.45 0 1,0 2.9,0a1.45,1.45 0 1,0 -2.9,0M1122.42,907.73a1.45,1.45 0 1,0 2.9,0a1.45,1.45 0 1,0 -2.9,0M1124.84,906.94a1.45,1.45 0 1,0 2.9,0a1.45,1.45 0 1,0 -2.9,0M1127.25,906.06a1.45,1.45 0 1,0 2.9,0a1.45,1.45 0 1,0 -2.9,0M1129.66,905.09a1.45,1.45 0 1,0 2.9,0a1.45,1.45 0 1,0 -2.9,0M1132.07,904.06a1.45,1.45 0 1,0 2.9,0a1.45,1.45 0 1,0 -2.9,0M1134.49,903.03a1.45,1.45 0 1,0 2.9,0a1.45,1.45 0 1,0 -2.9,0M1136.9,902.08a1.45,1.45 0 1,0 2.9,0a1.45,1.45 0 1,0 -2.9,0M1139.31,901.16a1.45,1.45 0 1,0 2.9,0a1.45,1.45 0 1,0 -2.9,0M1141.73,900.13a1.45,1.45 0 1,0 2.9,0a1.45,1.45 0 1,0 -2.9,0M1144.14,898.83a1.45,1.45 0 1,0 2.9,0a1.45,1.45 0 1,0 -2.9,0M1146.55,897.32a1.45,1.45 0 1,0 2.9,0a1.45,1.45 0 1,0 -2.9,0M1148.97,895.65a1.45,1.45 0 1,0 2.9,0a1.45,1.45 0 1,0 -2.9,0M1151.38,893.88a1.45,1.45 0 1,0 2.9,0a1.45,1.45 0 1,0 -2.9,0M1153.79,892a1.45,1.45 0 1,0 2.9,0a1.45,1.45 0 1,0 -2.9,0M1156.21,890.01a1.45,1.45 0 1,0 2.9,0a1.45,1.45 0 1,0 -2.9,0M1158.62,887.9a1.45,1.45 0 1,0 2.9,0a1.45,1.45 0 1,0 -2.9,0M1161.03,885.61a1.45,1.45 0 1,0 2.9,0a1.45,1.45 0 1,0 -2.9,0M1163.45,883.08a1.45,1.45 0 1,0 2.9,0a1.45,1.45 0 1,0 -2.9,0M1165.86,880.6a1.45,1.45 0 1,0 2.9,0a1.45,1.45 0 1,0 -2.9,0M1168.27,878.49a1.45,1.45 0 1,0 2.9,0a1.45,1.45 0 1,0 -2.9,0M1170.68,876.82a1.45,1.45 0 1,0 2.9,0a1.45,1.45 0 1,0 -2.9,0M1173.1,875.36a1.45,1.45 0 1,0 2.9,0a1.45,1.45 0 1,0 -2.9,0M1175.51,873.76a1.45,1.45 0 1,0 2.9,0a1.45,1.45 0 1,0 -2.9,0M1177.92,871.65a1.45,1.45 0 1,0 2.9,0a1.45,1.45 0 1,0 -2.9,0M1180.34,869.12a1.45,1.45 0 1,0 2.9,0a1.45,1.45 0 1,0 -2.9,0M1182.75,868a1.45,1.45 0 1,0 2.9,0a1.45,1.45 0 1,0 -2.9,0" fill="#1f77b4"/>
</g>
<g clip-path="url(#d9)">
<path d="M1037.27,941.31 L1064.74,939.94 L1072.98,936.52 L1081.21,932.41 L1089.45,928.3 L1097.69,921.45 L1103.19,913.22 L1110.05,903.63 L1116.92,900.21 L1120.35,904.32 L1125.16,902.26 L1129.27,899.52 L1136.14,895.41 L1141.63,891.3 L1144.38,888.56 L1152.62,884.45 L1156.74,873.49 L1160.86,875.54 L1163.6,868 L1169.1,869.37 L1171.84,866.63 L1174.59,872.12 L1178.71,872.8 L1182.83,872.12" fill="none" stroke="#ff7f0e" stroke-width="1.9" stroke-linejoin="round"/>
<path d="M1035.55,941.31a1.45,1.45 0 1,0 2.9,0a1.45,1.45 0 1,0 -2.9,0M1037.96,941.21a1.45,1.45 0 1,0 2.9,0a1.45,1.45 0 1,0 -2.9,0M1040.38,941.09a1.45,1.45 0 1,0 2.9,0a1.45,1.45 0 1,0 -2.9,0M1042.79,940.97a1.45,1.45 0 1,0 2.9,0a1.45,1.45 0 1,0 -2.9,0M1045.2,940.85a1.45,1.45 0 1,0 2.9,0a1.45,1.45 0 1,0 -2.9,0M1047.62,940.73a1.45,1.45 0 1,0 2.9,0a1.45,1.45 0 1,0 -2.9,0M1050.03,940.61a1.45,1.45 0 1,0 2.9,0a1.45,1.45 0 1,0 -2.9,0M1052.44,940.49a1.45,1.45 0 1,0 2.9,0a1.45,1.45 0 1,0 -2.9,0M1054.85,940.37a1.45,1.45 0 1,0 2.9,0a1.45,1.45 0 1,0 -2.9,0M1057.27,940.24a1.45,1.45 0 1,0 2.9,0a1.45,1.45 0 1,0 -2.9,0M1059.68,940.12a1.45,1.45 0 1,0 2.9,0a1.45,1.45 0 1,0 -2.9,0M1062.09,940a1.45,1.45 0 1,0 2.9,0a1.45,1.45 0 1,0 -2.9,0M1064.51,939.44a1.45,1.45 0 1,0 2.9,0a1.45,1.45 0 1,0 -2.9,0M1066.92,938.43a1.45,1.45 0 1,0 2.9,0a1.45,1.45 0 1,0 -2.9,0M1069.33,937.43a1.45,1.45 0 1,0 2.9,0a1.45,1.45 0 1,0 -2.9,0M1071.75,936.41a1.45,1.45 0 1,0 2.9,0a1.45,1.45 0 1,0 -2.9,0M1074.16,935.2a1.45,1.45 0 1,0 2.9,0a1.45,1.45 0 1,0 -2.9,0M1076.57,934a1.45,1.45 0 1,0 2.9,0a1.45,1.45 0 1,0 -2.9,0M1078.99,932.8a1.45,1.45 0 1,0 2.9,0a1.45,1.45 0 1,0 -2.9,0M1081.4,931.59a1.45,1.45 0 1,0 2.9,0a1.45,1.45 0 1,0 -2.9,0M1083.81,930.39a1.45,1.45 0 1,0 2.9,0a1.45,1.45 0 1,0 -2.9,0M1086.23,929.18a1.45,1.45 0 1,0 2.9,0a1.45,1.45 0 1,0 -2.9,0M1088.64,927.77a1.45,1.45 0 1,0 2.9,0a1.45,1.45 0 1,0 -2.9,0M1091.05,925.76a1.45,1.45 0 1,0 2.9,0a1.45,1.45 0 1,0 -2.9,0M1093.46,923.76a1.45,1.45 0 1,0 2.9,0a1.45,1.45 0 1,0 -2.9,0M1095.88,921.75a1.45,1.45 0 1,0 2.9,0a1.45,1.45 0 1,0 -2.9,0M1098.29,918.38a1.45,1.45 0 1,0 2.9,0a1.45,1.45 0 1,0 -2.9,0M1100.7,914.77a1.45,1.45 0 1,0 2.9,0a1.45,1.45 0 1,0 -2.9,0M1103.12,911.29a1.45,1.45 0 1,0 2.9,0a1.45,1.45 0 1,0 -2.9,0M1105.53,907.92a1.45,1.45 0 1,0 2.9,0a1.45,1.45 0 1,0 -2.9,0M1107.94,904.55a1.45,1.45 0 1,0 2.9,0a1.45,1.45 0 1,0 -2.9,0M1110.36,902.76a1.45,1.45 0 1,0 2.9,0a1.45,1.45 0 1,0 -2.9,0M1112.77,901.55a1.45,1.45 0 1,0 2.9,0a1.45,1.45 0 1,0 -2.9,0M1115.18,900.35a1.45,1.45 0 1,0 2.9,0a1.45,1.45 0 1,0 -2.9,0M1117.6,902.76a1.45,1.45 0 1,0 2.9,0a1.45,1.45 0 1,0 -2.9,0M1120.01,903.84a1.45,1.45 0 1,0 2.9,0a1.45,1.45 0 1,0 -2.9,0M1122.42,902.81a1.45,1.45 0 1,0 2.9,0a1.45,1.45 0 1,0 -2.9,0M1124.84,901.51a1.45,1.45 0 1,0 2.9,0a1.45,1.45 0 1,0 -2.9,0M1127.25,899.9a1.45,1.45 0 1,0 2.9,0a1.45,1.45 0 1,0 -2.9,0M1129.66,898.42a1.45,1.45 0 1,0 2.9,0a1.45,1.45 0 1,0 -2.9,0M1132.07,896.98a1.45,1.45 0 1,0 2.9,0a1.45,1.45 0 1,0 -2.9,0M1134.49,895.53a1.45,1.45 0 1,0 2.9,0a1.45,1.45 0 1,0 -2.9,0M1136.9,893.76a1.45,1.45 0 1,0 2.9,0a1.45,1.45 0 1,0 -2.9,0M1139.31,891.95a1.45,1.45 0 1,0 2.9,0a1.45,1.45 0 1,0 -2.9,0M1141.73,889.76a1.45,1.45 0 1,0 2.9,0a1.45,1.45 0 1,0 -2.9,0M1144.14,887.95a1.45,1.45 0 1,0 2.9,0a1.45,1.45 0 1,0 -2.9,0M1146.55,886.75a1.45,1.45 0 1,0 2.9,0a1.45,1.45 0 1,0 -2.9,0M1148.97,885.55a1.45,1.45 0 1,0 2.9,0a1.45,1.45 0 1,0 -2.9,0M1151.38,883.88a1.45,1.45 0 1,0 2.9,0a1.45,1.45 0 1,0 -2.9,0M1153.79,877.46a1.45,1.45 0 1,0 2.9,0a1.45,1.45 0 1,0 -2.9,0M1156.21,873.94a1.45,1.45 0 1,0 2.9,0a1.45,1.45 0 1,0 -2.9,0M1158.62,875.15a1.45,1.45 0 1,0 2.9,0a1.45,1.45 0 1,0 -2.9,0M1161.03,871.08a1.45,1.45 0 1,0 2.9,0a1.45,1.45 0 1,0 -2.9,0M1163.45,868.33a1.45,1.45 0 1,0 2.9,0a1.45,1.45 0 1,0 -2.9,0M1165.86,868.93a1.45,1.45 0 1,0 2.9,0a1.45,1.45 0 1,0 -2.9,0M1168.27,868.75a1.45,1.45 0 1,0 2.9,0a1.45,1.45 0 1,0 -2.9,0M1170.68,867.22a1.45,1.45 0 1,0 2.9,0a1.45,1.45 0 1,0 -2.9,0M1173.1,872.03a1.45,1.45 0 1,0 2.9,0a1.45,1.45 0 1,0 -2.9,0M1175.51,872.51a1.45,1.45 0 1,0 2.9,0a1.45,1.45 0 1,0 -2.9,0M1177.92,872.69a1.45,1.45 0 1,0 2.9,0a1.45,1.45 0 1,0 -2.9,0M1180.34,872.29a1.45,1.45 0 1,0 2.9,0a1.45,1.45 0 1,0 -2.9,0M1182.75,872.12a1.45,1.45 0 1,0 2.9,0a1.45,1.45 0 1,0 -2.9,0" fill="#ff7f0e"/>
</g>
<path d="M1162.8,817.46L1166.6,821.26M1162.8,821.26L1166.6,817.46M1149.07,866.38L1152.87,870.18M1149.07,870.18L1152.87,866.38M1108.43,886.93L1112.23,890.73M1108.43,890.73L1112.23,886.93M1113.92,891.87L1117.72,895.67M1113.92,895.67L1117.72,891.87M1115.7,892.14L1119.5,895.94M1115.7,895.94L1119.5,892.14M1127.37,893.24L1131.17,897.04M1127.37,897.04L1131.17,893.24M1132.18,890.5L1135.98,894.3M1132.18,894.3L1135.98,890.5M1136.3,893.24L1140.1,897.04M1136.3,897.04L1140.1,893.24M1139.73,893.51L1143.53,897.31M1139.73,897.31L1143.53,893.51M1146.32,879.4L1150.12,883.2M1146.32,883.2L1150.12,879.4M1143.85,883.64L1147.65,887.44M1143.85,887.44L1147.65,883.64M1153.46,887.34L1157.26,891.14M1153.46,891.14L1157.26,887.34M1156.49,882.55L1160.29,886.35M1156.49,886.35L1160.29,882.55M1158.27,884.6L1162.07,888.4M1158.27,888.4L1162.07,884.6M1150.72,892.14L1154.52,895.94M1150.72,895.94L1154.52,892.14M1141.79,900.09L1145.59,903.89M1141.79,903.89L1145.59,900.09M1161.02,874.6L1164.82,878.4M1161.02,878.4L1164.82,874.6M1165.14,877.07L1168.94,880.87M1165.14,880.87L1168.94,877.07M1167.88,860.35L1171.68,864.15M1167.88,864.15L1171.68,860.35M1169.94,870.22L1173.74,874.02M1169.94,874.02L1173.74,870.22M1172.69,881.45L1176.49,885.25M1172.69,885.25L1176.49,881.45M1177.08,851.03L1180.88,854.83M1177.08,854.83L1180.88,851.03M1179.28,855.83L1183.08,859.63M1179.28,859.63L1183.08,855.83M1174.75,898.99L1178.55,902.79M1174.75,902.79L1178.55,898.99M1120.51,898.31L1124.31,902.11M1120.51,902.11L1124.31,898.31M1123.26,905.84L1127.06,909.64M1123.26,909.64L1127.06,905.84M1125.31,908.86L1129.11,912.66M1125.31,912.66L1129.11,908.86M1110.9,903.1L1114.7,906.9M1110.9,906.9L1114.7,903.1M1104.72,911.32L1108.52,915.12M1104.72,915.12L1108.52,911.32M1117.76,914.34L1121.56,918.14M1117.76,918.14L1121.56,914.34M1098.54,915.43L1102.34,919.23M1098.54,919.23L1102.34,915.43M1094.42,920.23L1098.22,924.03M1094.42,924.03L1098.22,920.23M1090.3,923.66L1094.1,927.46M1090.3,927.46L1094.1,923.66M1086.18,927.77L1089.98,931.57M1086.18,931.57L1089.98,927.77M1077.26,927.49L1081.06,931.29M1077.26,931.29L1081.06,927.49M1079.31,931.88L1083.11,935.68M1079.31,935.68L1083.11,931.88M1071.08,935.99L1074.88,939.79M1071.08,939.79L1074.88,935.99M1066.96,937.36L1070.76,941.16M1066.96,941.16L1070.76,937.36" stroke="#7f7f7f" stroke-width="1.8" fill="none"/>
<rect x="1037" y="818.4" width="147.2" height="123.6" fill="none" stroke="#000" stroke-width="1.6"/>
<text x="1110.6" y="813.4" font-size="17.6" text-anchor="middle" font-weight="normal" font-style="normal" >Washington DC</text>
<line x1="1034" y1="820" x2="1037" y2="820" stroke="#000" stroke-width="1.6"/>
<line x1="1034" y1="942" x2="1037" y2="942" stroke="#000" stroke-width="1.6"/>
<text x="1030" y="826.4" font-size="17.8" text-anchor="end" font-weight="normal" font-style="normal" >2.2</text>
<text x="1030" y="948.4" font-size="17.8" text-anchor="end" font-weight="normal" font-style="normal" >0</text>
<line x1="1037" y1="942" x2="1037" y2="945" stroke="#000" stroke-width="1.6"/>
<line x1="1184.2" y1="942" x2="1184.2" y2="945" stroke="#000" stroke-width="1.6"/>
<text x="1044" y="964.5" font-size="14.3" text-anchor="middle" font-weight="normal" font-style="normal" >8 March</text>
<text x="1180.2" y="964.5" font-size="14.3" text-anchor="middle" font-weight="normal" font-style="normal" >9 May</text>
<text x="1110.6" y="984" font-size="16.8" text-anchor="middle" font-weight="normal" font-style="normal" >Date</text>
<text transform="translate(614.5,732.5) rotate(-90)" font-size="17.7" text-anchor="middle">Daily confirmed cases (×10<tspan dy="-6.5" font-size="12">3</tspan><tspan dy="6.5">)</tspan></text>
</svg></body></html>
